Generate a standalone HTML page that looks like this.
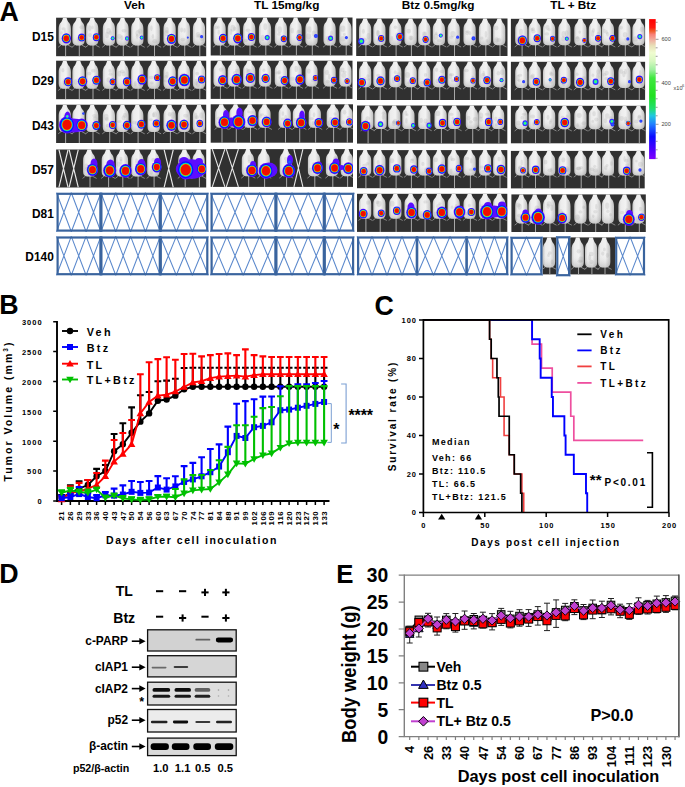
<!DOCTYPE html>
<html><head><meta charset='utf-8'><style>
html,body{margin:0;padding:0;background:#fff;width:685px;height:787px;overflow:hidden}
svg text{font-family:'Liberation Sans',sans-serif}
</style></head><body>
<svg width='685' height='787' viewBox='0 0 685 787' style='display:block;font-family:"Liberation Sans",sans-serif'>
<rect width='685' height='787' fill='#fff'/>
<text x='-0.60' y='21.30' font-size='26.8' text-anchor='start' fill='#000' font-weight='bold' >A</text>
<text x='134.60' y='9.30' font-size='11.8' text-anchor='middle' fill='#000' font-weight='bold' >Veh</text>
<text x='286.70' y='9.30' font-size='11.8' text-anchor='middle' fill='#000' font-weight='bold' >TL 15mg/kg</text>
<text x='438.20' y='9.30' font-size='11.8' text-anchor='middle' fill='#000' font-weight='bold' >Btz 0.5mg/kg</text>
<text x='573.20' y='9.30' font-size='11.8' text-anchor='middle' fill='#000' font-weight='bold' >TL + Btz</text>
<text x='53.80' y='41.30' font-size='11.9' text-anchor='end' fill='#000' font-weight='bold' >D15</text>
<text x='53.80' y='85.30' font-size='11.9' text-anchor='end' fill='#000' font-weight='bold' >D29</text>
<text x='53.80' y='129.70' font-size='11.9' text-anchor='end' fill='#000' font-weight='bold' >D43</text>
<text x='53.80' y='173.50' font-size='11.9' text-anchor='end' fill='#000' font-weight='bold' >D57</text>
<text x='53.80' y='217.50' font-size='11.9' text-anchor='end' fill='#000' font-weight='bold' >D81</text>
<text x='53.80' y='261.30' font-size='11.9' text-anchor='end' fill='#000' font-weight='bold' >D140</text>
<defs><linearGradient id='mg' x1='0' x2='1' y1='0' y2='0'><stop offset='0' stop-color='#c4c4c4'/><stop offset='0.2' stop-color='#ececec'/><stop offset='0.6' stop-color='#f2f2f2'/><stop offset='1' stop-color='#c0c0c0'/></linearGradient><filter id='sb' x='-5%' y='-5%' width='110%' height='110%'><feGaussianBlur stdDeviation='0.35'/></filter><linearGradient id='mv' x1='0' x2='0' y1='0' y2='1'><stop offset='0' stop-color='#fff' stop-opacity='0'/><stop offset='0.55' stop-color='#fff' stop-opacity='0'/><stop offset='1' stop-color='#707070' stop-opacity='0.3'/></linearGradient></defs>
<rect x='56.1' y='17.7' width='150.10' height='38.50' fill='#303030'/>
<svg x='56.1' y='17.7' width='150.10' height='38.50' overflow='hidden'><g transform='translate(-56.1,-17.7)' filter='url(#sb)'>
<g transform='translate(65.6,17.7) scale(1,1.013)'><line x1='0' y1='26.9' x2='0' y2='38.5' stroke='#a8a8a8' stroke-width='1.0'/><path d='M-4.6 27.0L-7.4 29.2M2.4 27.0L6.6 29.2' stroke='#909090' stroke-width='0.9' fill='none'/><g transform='translate(-0.8,0) scale(1,0.97)'><path d='M-1.6 -0.5L1.6 -0.5C2.2 1.5 2.7 3.1 3.5 4.5C5.3 6.1 6.1 8.3 6.1 11.5L6.1 23C6.1 26 4.9 27.9 2 28.2L-2 28.2C-4.9 27.9 -6.1 26 -6.1 23L-6.1 11.5C-6.1 8.3 -5.3 6.1 -3.5 4.5C-2.7 3.1 -2.2 1.5 -1.6 -0.5Z' fill='url(#mg)'/><path d='M-1.6 -0.5L1.6 -0.5C2.2 1.5 2.7 3.1 3.5 4.5C5.3 6.1 6.1 8.3 6.1 11.5L6.1 23C6.1 26 4.9 27.9 2 28.2L-2 28.2C-4.9 27.9 -6.1 26 -6.1 23L-6.1 11.5C-6.1 8.3 -5.3 6.1 -3.5 4.5C-2.7 3.1 -2.2 1.5 -1.6 -0.5Z' fill='url(#mv)'/><ellipse cx='-1.2' cy='11.3' rx='2.1' ry='1.6' fill='#8a8a8a' opacity='0.16'/><ellipse cx='0.3' cy='14.5' rx='1.3' ry='2.5' fill='#8a8a8a' opacity='0.16'/><ellipse cx='-3.2' cy='15.5' rx='1.3' ry='1.7' fill='#8a8a8a' opacity='0.16'/></g></g>
<g transform='translate(79.3,17.7) scale(1,1.013)'><line x1='0' y1='26.9' x2='0' y2='38.5' stroke='#a8a8a8' stroke-width='1.0'/><path d='M-4.6 27.0L-7.4 29.2M2.4 27.0L6.6 29.2' stroke='#909090' stroke-width='0.9' fill='none'/><g transform='translate(-0.8,0) scale(1,0.97)'><path d='M-1.6 -0.5L1.6 -0.5C2.2 1.5 2.7 3.1 3.5 4.5C5.3 6.1 6.1 8.3 6.1 11.5L6.1 23C6.1 26 4.9 27.9 2 28.2L-2 28.2C-4.9 27.9 -6.1 26 -6.1 23L-6.1 11.5C-6.1 8.3 -5.3 6.1 -3.5 4.5C-2.7 3.1 -2.2 1.5 -1.6 -0.5Z' fill='url(#mg)'/><path d='M-1.6 -0.5L1.6 -0.5C2.2 1.5 2.7 3.1 3.5 4.5C5.3 6.1 6.1 8.3 6.1 11.5L6.1 23C6.1 26 4.9 27.9 2 28.2L-2 28.2C-4.9 27.9 -6.1 26 -6.1 23L-6.1 11.5C-6.1 8.3 -5.3 6.1 -3.5 4.5C-2.7 3.1 -2.2 1.5 -1.6 -0.5Z' fill='url(#mv)'/><ellipse cx='-0.5' cy='21.4' rx='1.4' ry='1.9' fill='#8a8a8a' opacity='0.16'/><ellipse cx='0.9' cy='23.2' rx='2.0' ry='2.3' fill='#8a8a8a' opacity='0.16'/><ellipse cx='3.3' cy='9.7' rx='2.4' ry='2.1' fill='#8a8a8a' opacity='0.16'/></g></g>
<g transform='translate(93,17.7) scale(1,1.013)'><line x1='0' y1='26.9' x2='0' y2='38.5' stroke='#a8a8a8' stroke-width='1.0'/><path d='M-4.6 27.0L-7.4 29.2M2.4 27.0L6.6 29.2' stroke='#909090' stroke-width='0.9' fill='none'/><g transform='translate(-0.8,0) scale(1,0.97)'><path d='M-1.6 -0.5L1.6 -0.5C2.2 1.5 2.7 3.1 3.5 4.5C5.3 6.1 6.1 8.3 6.1 11.5L6.1 23C6.1 26 4.9 27.9 2 28.2L-2 28.2C-4.9 27.9 -6.1 26 -6.1 23L-6.1 11.5C-6.1 8.3 -5.3 6.1 -3.5 4.5C-2.7 3.1 -2.2 1.5 -1.6 -0.5Z' fill='url(#mg)'/><path d='M-1.6 -0.5L1.6 -0.5C2.2 1.5 2.7 3.1 3.5 4.5C5.3 6.1 6.1 8.3 6.1 11.5L6.1 23C6.1 26 4.9 27.9 2 28.2L-2 28.2C-4.9 27.9 -6.1 26 -6.1 23L-6.1 11.5C-6.1 8.3 -5.3 6.1 -3.5 4.5C-2.7 3.1 -2.2 1.5 -1.6 -0.5Z' fill='url(#mv)'/><ellipse cx='-2.5' cy='10.8' rx='1.6' ry='3.1' fill='#8a8a8a' opacity='0.16'/><ellipse cx='-2.2' cy='17.7' rx='2.1' ry='2.2' fill='#8a8a8a' opacity='0.16'/><ellipse cx='0.3' cy='9.9' rx='1.3' ry='1.9' fill='#8a8a8a' opacity='0.16'/></g></g>
<g transform='translate(109.7,17.7) scale(1,1.013)'><line x1='0' y1='26.9' x2='0' y2='38.5' stroke='#a8a8a8' stroke-width='1.0'/><path d='M-4.6 27.0L-7.4 29.2M2.4 27.0L6.6 29.2' stroke='#909090' stroke-width='0.9' fill='none'/><g transform='translate(-0.8,0) scale(1,0.97)'><path d='M-1.6 -0.5L1.6 -0.5C2.2 1.5 2.7 3.1 3.5 4.5C5.3 6.1 6.1 8.3 6.1 11.5L6.1 23C6.1 26 4.9 27.9 2 28.2L-2 28.2C-4.9 27.9 -6.1 26 -6.1 23L-6.1 11.5C-6.1 8.3 -5.3 6.1 -3.5 4.5C-2.7 3.1 -2.2 1.5 -1.6 -0.5Z' fill='url(#mg)'/><path d='M-1.6 -0.5L1.6 -0.5C2.2 1.5 2.7 3.1 3.5 4.5C5.3 6.1 6.1 8.3 6.1 11.5L6.1 23C6.1 26 4.9 27.9 2 28.2L-2 28.2C-4.9 27.9 -6.1 26 -6.1 23L-6.1 11.5C-6.1 8.3 -5.3 6.1 -3.5 4.5C-2.7 3.1 -2.2 1.5 -1.6 -0.5Z' fill='url(#mv)'/><ellipse cx='1.3' cy='15.4' rx='1.6' ry='2.7' fill='#8a8a8a' opacity='0.16'/><ellipse cx='-0.3' cy='13.5' rx='2.3' ry='2.9' fill='#8a8a8a' opacity='0.16'/><ellipse cx='-1.8' cy='17.6' rx='1.9' ry='3.3' fill='#8a8a8a' opacity='0.16'/></g></g>
<g transform='translate(123.3,17.7) scale(1,1.013)'><line x1='0' y1='26.9' x2='0' y2='38.5' stroke='#a8a8a8' stroke-width='1.0'/><path d='M-4.6 27.0L-7.4 29.2M2.4 27.0L6.6 29.2' stroke='#909090' stroke-width='0.9' fill='none'/><g transform='translate(-0.8,0) scale(1,0.97)'><path d='M-1.6 -0.5L1.6 -0.5C2.2 1.5 2.7 3.1 3.5 4.5C5.3 6.1 6.1 8.3 6.1 11.5L6.1 23C6.1 26 4.9 27.9 2 28.2L-2 28.2C-4.9 27.9 -6.1 26 -6.1 23L-6.1 11.5C-6.1 8.3 -5.3 6.1 -3.5 4.5C-2.7 3.1 -2.2 1.5 -1.6 -0.5Z' fill='url(#mg)'/><path d='M-1.6 -0.5L1.6 -0.5C2.2 1.5 2.7 3.1 3.5 4.5C5.3 6.1 6.1 8.3 6.1 11.5L6.1 23C6.1 26 4.9 27.9 2 28.2L-2 28.2C-4.9 27.9 -6.1 26 -6.1 23L-6.1 11.5C-6.1 8.3 -5.3 6.1 -3.5 4.5C-2.7 3.1 -2.2 1.5 -1.6 -0.5Z' fill='url(#mv)'/><ellipse cx='1.6' cy='13.3' rx='2.6' ry='1.7' fill='#8a8a8a' opacity='0.16'/><ellipse cx='-0.6' cy='20.4' rx='1.4' ry='2.5' fill='#8a8a8a' opacity='0.16'/><ellipse cx='-3.2' cy='19.0' rx='2.3' ry='2.6' fill='#8a8a8a' opacity='0.16'/></g></g>
<g transform='translate(138.1,17.7) scale(1,1.013)'><line x1='0' y1='26.9' x2='0' y2='38.5' stroke='#a8a8a8' stroke-width='1.0'/><path d='M-4.6 27.0L-7.4 29.2M2.4 27.0L6.6 29.2' stroke='#909090' stroke-width='0.9' fill='none'/><g transform='translate(-0.8,0) scale(1,0.97)'><path d='M-1.6 -0.5L1.6 -0.5C2.2 1.5 2.7 3.1 3.5 4.5C5.3 6.1 6.1 8.3 6.1 11.5L6.1 23C6.1 26 4.9 27.9 2 28.2L-2 28.2C-4.9 27.9 -6.1 26 -6.1 23L-6.1 11.5C-6.1 8.3 -5.3 6.1 -3.5 4.5C-2.7 3.1 -2.2 1.5 -1.6 -0.5Z' fill='url(#mg)'/><path d='M-1.6 -0.5L1.6 -0.5C2.2 1.5 2.7 3.1 3.5 4.5C5.3 6.1 6.1 8.3 6.1 11.5L6.1 23C6.1 26 4.9 27.9 2 28.2L-2 28.2C-4.9 27.9 -6.1 26 -6.1 23L-6.1 11.5C-6.1 8.3 -5.3 6.1 -3.5 4.5C-2.7 3.1 -2.2 1.5 -1.6 -0.5Z' fill='url(#mv)'/><ellipse cx='2.6' cy='13.7' rx='2.2' ry='2.7' fill='#8a8a8a' opacity='0.16'/><ellipse cx='0.6' cy='15.8' rx='2.4' ry='3.4' fill='#8a8a8a' opacity='0.16'/><ellipse cx='-0.2' cy='19.0' rx='1.3' ry='2.9' fill='#8a8a8a' opacity='0.16'/></g></g>
<g transform='translate(154.5,17.7) scale(1,1.013)'><line x1='0' y1='26.9' x2='0' y2='38.5' stroke='#a8a8a8' stroke-width='1.0'/><path d='M-4.6 27.0L-7.4 29.2M2.4 27.0L6.6 29.2' stroke='#909090' stroke-width='0.9' fill='none'/><g transform='translate(-0.8,0) scale(1,0.97)'><path d='M-1.6 -0.5L1.6 -0.5C2.2 1.5 2.7 3.1 3.5 4.5C5.3 6.1 6.1 8.3 6.1 11.5L6.1 23C6.1 26 4.9 27.9 2 28.2L-2 28.2C-4.9 27.9 -6.1 26 -6.1 23L-6.1 11.5C-6.1 8.3 -5.3 6.1 -3.5 4.5C-2.7 3.1 -2.2 1.5 -1.6 -0.5Z' fill='url(#mg)'/><path d='M-1.6 -0.5L1.6 -0.5C2.2 1.5 2.7 3.1 3.5 4.5C5.3 6.1 6.1 8.3 6.1 11.5L6.1 23C6.1 26 4.9 27.9 2 28.2L-2 28.2C-4.9 27.9 -6.1 26 -6.1 23L-6.1 11.5C-6.1 8.3 -5.3 6.1 -3.5 4.5C-2.7 3.1 -2.2 1.5 -1.6 -0.5Z' fill='url(#mv)'/><ellipse cx='1.0' cy='23.9' rx='2.4' ry='2.1' fill='#8a8a8a' opacity='0.16'/><ellipse cx='-0.8' cy='19.0' rx='1.2' ry='2.4' fill='#8a8a8a' opacity='0.16'/><ellipse cx='-2.3' cy='10.8' rx='1.3' ry='3.0' fill='#8a8a8a' opacity='0.16'/></g></g>
<g transform='translate(170.4,17.7) scale(1,1.013)'><line x1='0' y1='26.9' x2='0' y2='38.5' stroke='#a8a8a8' stroke-width='1.0'/><path d='M-4.6 27.0L-7.4 29.2M2.4 27.0L6.6 29.2' stroke='#909090' stroke-width='0.9' fill='none'/><g transform='translate(-0.8,0) scale(1,0.97)'><path d='M-1.6 -0.5L1.6 -0.5C2.2 1.5 2.7 3.1 3.5 4.5C5.3 6.1 6.1 8.3 6.1 11.5L6.1 23C6.1 26 4.9 27.9 2 28.2L-2 28.2C-4.9 27.9 -6.1 26 -6.1 23L-6.1 11.5C-6.1 8.3 -5.3 6.1 -3.5 4.5C-2.7 3.1 -2.2 1.5 -1.6 -0.5Z' fill='url(#mg)'/><path d='M-1.6 -0.5L1.6 -0.5C2.2 1.5 2.7 3.1 3.5 4.5C5.3 6.1 6.1 8.3 6.1 11.5L6.1 23C6.1 26 4.9 27.9 2 28.2L-2 28.2C-4.9 27.9 -6.1 26 -6.1 23L-6.1 11.5C-6.1 8.3 -5.3 6.1 -3.5 4.5C-2.7 3.1 -2.2 1.5 -1.6 -0.5Z' fill='url(#mv)'/><ellipse cx='-2.6' cy='12.7' rx='1.7' ry='3.2' fill='#8a8a8a' opacity='0.16'/><ellipse cx='-2.9' cy='15.7' rx='2.0' ry='3.3' fill='#8a8a8a' opacity='0.16'/><ellipse cx='2.2' cy='22.0' rx='1.6' ry='2.3' fill='#8a8a8a' opacity='0.16'/></g></g>
<g transform='translate(184.7,17.7) scale(1,1.013)'><line x1='0' y1='26.9' x2='0' y2='38.5' stroke='#a8a8a8' stroke-width='1.0'/><path d='M-4.6 27.0L-7.4 29.2M2.4 27.0L6.6 29.2' stroke='#909090' stroke-width='0.9' fill='none'/><g transform='translate(-0.8,0) scale(1,0.97)'><path d='M-1.6 -0.5L1.6 -0.5C2.2 1.5 2.7 3.1 3.5 4.5C5.3 6.1 6.1 8.3 6.1 11.5L6.1 23C6.1 26 4.9 27.9 2 28.2L-2 28.2C-4.9 27.9 -6.1 26 -6.1 23L-6.1 11.5C-6.1 8.3 -5.3 6.1 -3.5 4.5C-2.7 3.1 -2.2 1.5 -1.6 -0.5Z' fill='url(#mg)'/><path d='M-1.6 -0.5L1.6 -0.5C2.2 1.5 2.7 3.1 3.5 4.5C5.3 6.1 6.1 8.3 6.1 11.5L6.1 23C6.1 26 4.9 27.9 2 28.2L-2 28.2C-4.9 27.9 -6.1 26 -6.1 23L-6.1 11.5C-6.1 8.3 -5.3 6.1 -3.5 4.5C-2.7 3.1 -2.2 1.5 -1.6 -0.5Z' fill='url(#mv)'/><ellipse cx='-1.0' cy='22.3' rx='2.5' ry='1.8' fill='#8a8a8a' opacity='0.16'/><ellipse cx='-2.3' cy='12.5' rx='1.5' ry='2.5' fill='#8a8a8a' opacity='0.16'/><ellipse cx='0.6' cy='12.9' rx='1.2' ry='2.3' fill='#8a8a8a' opacity='0.16'/></g></g>
<g transform='translate(199.8,17.7) scale(1,1.013)'><line x1='0' y1='26.9' x2='0' y2='38.5' stroke='#a8a8a8' stroke-width='1.0'/><path d='M-4.6 27.0L-7.4 29.2M2.4 27.0L6.6 29.2' stroke='#909090' stroke-width='0.9' fill='none'/><g transform='translate(-0.8,0) scale(1,0.97)'><path d='M-1.6 -0.5L1.6 -0.5C2.2 1.5 2.7 3.1 3.5 4.5C5.3 6.1 6.1 8.3 6.1 11.5L6.1 23C6.1 26 4.9 27.9 2 28.2L-2 28.2C-4.9 27.9 -6.1 26 -6.1 23L-6.1 11.5C-6.1 8.3 -5.3 6.1 -3.5 4.5C-2.7 3.1 -2.2 1.5 -1.6 -0.5Z' fill='url(#mg)'/><path d='M-1.6 -0.5L1.6 -0.5C2.2 1.5 2.7 3.1 3.5 4.5C5.3 6.1 6.1 8.3 6.1 11.5L6.1 23C6.1 26 4.9 27.9 2 28.2L-2 28.2C-4.9 27.9 -6.1 26 -6.1 23L-6.1 11.5C-6.1 8.3 -5.3 6.1 -3.5 4.5C-2.7 3.1 -2.2 1.5 -1.6 -0.5Z' fill='url(#mv)'/><ellipse cx='-0.9' cy='17.5' rx='2.5' ry='2.9' fill='#8a8a8a' opacity='0.16'/><ellipse cx='0.1' cy='18.3' rx='2.1' ry='1.6' fill='#8a8a8a' opacity='0.16'/><ellipse cx='2.8' cy='20.7' rx='2.4' ry='3.1' fill='#8a8a8a' opacity='0.16'/></g></g>
<ellipse cx='66.3' cy='38.3' rx='4.68' ry='5.13' fill='#5c10ff'/><ellipse cx='66.3' cy='38.3' rx='4.12' ry='4.51' fill='#0a10ff'/><ellipse cx='66.3' cy='38.3' rx='3.46' ry='3.80' fill='#00b8ff'/><ellipse cx='66.3' cy='38.3' rx='3.18' ry='3.49' fill='#10f060'/><ellipse cx='66.3' cy='38.3' rx='2.95' ry='3.23' fill='#e8f000'/><ellipse cx='66.3' cy='38.3' rx='2.81' ry='3.08' fill='#ff5000'/><ellipse cx='66.3' cy='38.3' rx='2.67' ry='2.92' fill='#f01000'/>
<ellipse cx='81.7' cy='37.6' rx='3.64' ry='3.99' fill='#5c10ff'/><ellipse cx='81.7' cy='37.6' rx='3.20' ry='3.51' fill='#0a10ff'/><ellipse cx='81.7' cy='37.6' rx='2.69' ry='2.95' fill='#00b8ff'/><ellipse cx='81.7' cy='37.6' rx='2.48' ry='2.71' fill='#10f060'/><ellipse cx='81.7' cy='37.6' rx='2.29' ry='2.51' fill='#e8f000'/><ellipse cx='81.7' cy='37.6' rx='2.18' ry='2.39' fill='#ff5000'/><ellipse cx='81.7' cy='37.6' rx='2.07' ry='2.27' fill='#f01000'/>
<ellipse cx='96.4' cy='37.2' rx='3.64' ry='3.99' fill='#5c10ff'/><ellipse cx='96.4' cy='37.2' rx='3.20' ry='3.51' fill='#0a10ff'/><ellipse cx='96.4' cy='37.2' rx='2.69' ry='2.95' fill='#00b8ff'/><ellipse cx='96.4' cy='37.2' rx='2.48' ry='2.71' fill='#10f060'/><ellipse cx='96.4' cy='37.2' rx='2.29' ry='2.51' fill='#e8f000'/><ellipse cx='96.4' cy='37.2' rx='2.18' ry='2.39' fill='#ff5000'/><ellipse cx='96.4' cy='37.2' rx='2.07' ry='2.27' fill='#f01000'/>
<ellipse cx='112.7' cy='38.3' rx='2.00' ry='2.16' fill='#5020ff'/><ellipse cx='112.7' cy='38.3' rx='1.56' ry='1.68' fill='#1a40ff'/><ellipse cx='112.7' cy='38.3' rx='1.16' ry='1.25' fill='#00d0f0'/><ellipse cx='112.7' cy='38.3' rx='0.84' ry='0.91' fill='#40ff60'/>
<ellipse cx='127.0' cy='38.5' rx='2.00' ry='2.16' fill='#5020ff'/><ellipse cx='127.0' cy='38.5' rx='1.56' ry='1.68' fill='#1a40ff'/><ellipse cx='127.0' cy='38.5' rx='1.16' ry='1.25' fill='#00d0f0'/><ellipse cx='127.0' cy='38.5' rx='0.84' ry='0.91' fill='#40ff60'/>
<ellipse cx='141.7' cy='37.6' rx='2.00' ry='2.16' fill='#5020ff'/><ellipse cx='141.7' cy='37.6' rx='1.56' ry='1.68' fill='#1a40ff'/><ellipse cx='141.7' cy='37.6' rx='1.16' ry='1.25' fill='#00d0f0'/><ellipse cx='141.7' cy='37.6' rx='0.84' ry='0.91' fill='#40ff60'/>
<ellipse cx='171.5' cy='38.8' rx='4.68' ry='5.13' fill='#5c10ff'/><ellipse cx='171.5' cy='38.8' rx='4.12' ry='4.51' fill='#0a10ff'/><ellipse cx='171.5' cy='38.8' rx='3.46' ry='3.80' fill='#00b8ff'/><ellipse cx='171.5' cy='38.8' rx='3.18' ry='3.49' fill='#10f060'/><ellipse cx='171.5' cy='38.8' rx='2.95' ry='3.23' fill='#e8f000'/><ellipse cx='171.5' cy='38.8' rx='2.81' ry='3.08' fill='#ff5000'/><ellipse cx='171.5' cy='38.8' rx='2.67' ry='2.92' fill='#f01000'/>
<ellipse cx='187.8' cy='37.6' rx='1.00' ry='1.05' fill='#3030ff'/><ellipse cx='187.8' cy='37.6' rx='0.50' ry='0.53' fill='#2060ff'/>
<ellipse cx='201.6' cy='36.7' rx='1.50' ry='1.58' fill='#3030ff'/><ellipse cx='201.6' cy='36.7' rx='0.75' ry='0.79' fill='#2060ff'/>
</g></svg>
<rect x='210.7' y='17.5' width='141.80' height='38.00' fill='#303030'/>
<svg x='210.7' y='17.5' width='141.80' height='38.00' overflow='hidden'><g transform='translate(-210.7,-17.5)' filter='url(#sb)'>
<g transform='translate(220.4,17.5) scale(1,1.000)'><line x1='0' y1='27.4' x2='0' y2='38.5' stroke='#a8a8a8' stroke-width='1.0'/><path d='M-4.6 27.5L-7.4 29.7M2.4 27.5L6.6 29.7' stroke='#909090' stroke-width='0.9' fill='none'/><g transform='translate(-0.8,0) scale(1,0.99)'><path d='M-1.6 -0.5L1.6 -0.5C2.2 1.5 2.7 3.1 3.5 4.5C5.3 6.1 6.1 8.3 6.1 11.5L6.1 23C6.1 26 4.9 27.9 2 28.2L-2 28.2C-4.9 27.9 -6.1 26 -6.1 23L-6.1 11.5C-6.1 8.3 -5.3 6.1 -3.5 4.5C-2.7 3.1 -2.2 1.5 -1.6 -0.5Z' fill='url(#mg)'/><path d='M-1.6 -0.5L1.6 -0.5C2.2 1.5 2.7 3.1 3.5 4.5C5.3 6.1 6.1 8.3 6.1 11.5L6.1 23C6.1 26 4.9 27.9 2 28.2L-2 28.2C-4.9 27.9 -6.1 26 -6.1 23L-6.1 11.5C-6.1 8.3 -5.3 6.1 -3.5 4.5C-2.7 3.1 -2.2 1.5 -1.6 -0.5Z' fill='url(#mv)'/><ellipse cx='-0.8' cy='15.0' rx='1.3' ry='2.8' fill='#8a8a8a' opacity='0.16'/><ellipse cx='-3.1' cy='10.0' rx='1.5' ry='1.8' fill='#8a8a8a' opacity='0.16'/><ellipse cx='-1.1' cy='9.8' rx='1.2' ry='1.8' fill='#8a8a8a' opacity='0.16'/></g></g>
<g transform='translate(234.6,17.5) scale(1,1.000)'><line x1='0' y1='27.4' x2='0' y2='38.5' stroke='#a8a8a8' stroke-width='1.0'/><path d='M-4.6 27.5L-7.4 29.7M2.4 27.5L6.6 29.7' stroke='#909090' stroke-width='0.9' fill='none'/><g transform='translate(-0.8,0) scale(1,0.99)'><path d='M-1.6 -0.5L1.6 -0.5C2.2 1.5 2.7 3.1 3.5 4.5C5.3 6.1 6.1 8.3 6.1 11.5L6.1 23C6.1 26 4.9 27.9 2 28.2L-2 28.2C-4.9 27.9 -6.1 26 -6.1 23L-6.1 11.5C-6.1 8.3 -5.3 6.1 -3.5 4.5C-2.7 3.1 -2.2 1.5 -1.6 -0.5Z' fill='url(#mg)'/><path d='M-1.6 -0.5L1.6 -0.5C2.2 1.5 2.7 3.1 3.5 4.5C5.3 6.1 6.1 8.3 6.1 11.5L6.1 23C6.1 26 4.9 27.9 2 28.2L-2 28.2C-4.9 27.9 -6.1 26 -6.1 23L-6.1 11.5C-6.1 8.3 -5.3 6.1 -3.5 4.5C-2.7 3.1 -2.2 1.5 -1.6 -0.5Z' fill='url(#mv)'/><ellipse cx='-2.8' cy='14.5' rx='1.2' ry='3.2' fill='#8a8a8a' opacity='0.16'/><ellipse cx='0.8' cy='11.2' rx='1.6' ry='2.2' fill='#8a8a8a' opacity='0.16'/><ellipse cx='-1.0' cy='10.8' rx='2.4' ry='3.5' fill='#8a8a8a' opacity='0.16'/></g></g>
<g transform='translate(250,17.5) scale(1,1.000)'><line x1='0' y1='27.4' x2='0' y2='38.5' stroke='#a8a8a8' stroke-width='1.0'/><path d='M-4.6 27.5L-7.4 29.7M2.4 27.5L6.6 29.7' stroke='#909090' stroke-width='0.9' fill='none'/><g transform='translate(-0.8,0) scale(1,0.99)'><path d='M-1.6 -0.5L1.6 -0.5C2.2 1.5 2.7 3.1 3.5 4.5C5.3 6.1 6.1 8.3 6.1 11.5L6.1 23C6.1 26 4.9 27.9 2 28.2L-2 28.2C-4.9 27.9 -6.1 26 -6.1 23L-6.1 11.5C-6.1 8.3 -5.3 6.1 -3.5 4.5C-2.7 3.1 -2.2 1.5 -1.6 -0.5Z' fill='url(#mg)'/><path d='M-1.6 -0.5L1.6 -0.5C2.2 1.5 2.7 3.1 3.5 4.5C5.3 6.1 6.1 8.3 6.1 11.5L6.1 23C6.1 26 4.9 27.9 2 28.2L-2 28.2C-4.9 27.9 -6.1 26 -6.1 23L-6.1 11.5C-6.1 8.3 -5.3 6.1 -3.5 4.5C-2.7 3.1 -2.2 1.5 -1.6 -0.5Z' fill='url(#mv)'/><ellipse cx='-0.2' cy='16.3' rx='1.3' ry='1.7' fill='#8a8a8a' opacity='0.16'/><ellipse cx='-1.1' cy='13.0' rx='2.4' ry='1.8' fill='#8a8a8a' opacity='0.16'/><ellipse cx='-3.3' cy='23.3' rx='1.9' ry='1.8' fill='#8a8a8a' opacity='0.16'/></g></g>
<g transform='translate(265.8,17.5) scale(1,1.000)'><line x1='0' y1='27.4' x2='0' y2='38.5' stroke='#a8a8a8' stroke-width='1.0'/><path d='M-4.6 27.5L-7.4 29.7M2.4 27.5L6.6 29.7' stroke='#909090' stroke-width='0.9' fill='none'/><g transform='translate(-0.8,0) scale(1,0.99)'><path d='M-1.6 -0.5L1.6 -0.5C2.2 1.5 2.7 3.1 3.5 4.5C5.3 6.1 6.1 8.3 6.1 11.5L6.1 23C6.1 26 4.9 27.9 2 28.2L-2 28.2C-4.9 27.9 -6.1 26 -6.1 23L-6.1 11.5C-6.1 8.3 -5.3 6.1 -3.5 4.5C-2.7 3.1 -2.2 1.5 -1.6 -0.5Z' fill='url(#mg)'/><path d='M-1.6 -0.5L1.6 -0.5C2.2 1.5 2.7 3.1 3.5 4.5C5.3 6.1 6.1 8.3 6.1 11.5L6.1 23C6.1 26 4.9 27.9 2 28.2L-2 28.2C-4.9 27.9 -6.1 26 -6.1 23L-6.1 11.5C-6.1 8.3 -5.3 6.1 -3.5 4.5C-2.7 3.1 -2.2 1.5 -1.6 -0.5Z' fill='url(#mv)'/><ellipse cx='0.3' cy='9.4' rx='1.9' ry='3.5' fill='#8a8a8a' opacity='0.16'/><ellipse cx='2.5' cy='19.4' rx='1.6' ry='2.2' fill='#8a8a8a' opacity='0.16'/><ellipse cx='-2.3' cy='20.6' rx='1.9' ry='3.1' fill='#8a8a8a' opacity='0.16'/></g></g>
<g transform='translate(281.7,17.5) scale(1,1.000)'><line x1='0' y1='27.4' x2='0' y2='38.5' stroke='#a8a8a8' stroke-width='1.0'/><path d='M-4.6 27.5L-7.4 29.7M2.4 27.5L6.6 29.7' stroke='#909090' stroke-width='0.9' fill='none'/><g transform='translate(-0.8,0) scale(1,0.99)'><path d='M-1.6 -0.5L1.6 -0.5C2.2 1.5 2.7 3.1 3.5 4.5C5.3 6.1 6.1 8.3 6.1 11.5L6.1 23C6.1 26 4.9 27.9 2 28.2L-2 28.2C-4.9 27.9 -6.1 26 -6.1 23L-6.1 11.5C-6.1 8.3 -5.3 6.1 -3.5 4.5C-2.7 3.1 -2.2 1.5 -1.6 -0.5Z' fill='url(#mg)'/><path d='M-1.6 -0.5L1.6 -0.5C2.2 1.5 2.7 3.1 3.5 4.5C5.3 6.1 6.1 8.3 6.1 11.5L6.1 23C6.1 26 4.9 27.9 2 28.2L-2 28.2C-4.9 27.9 -6.1 26 -6.1 23L-6.1 11.5C-6.1 8.3 -5.3 6.1 -3.5 4.5C-2.7 3.1 -2.2 1.5 -1.6 -0.5Z' fill='url(#mv)'/><ellipse cx='-1.2' cy='12.3' rx='2.3' ry='3.5' fill='#8a8a8a' opacity='0.16'/><ellipse cx='2.5' cy='21.1' rx='2.3' ry='3.0' fill='#8a8a8a' opacity='0.16'/><ellipse cx='-1.9' cy='16.8' rx='1.7' ry='1.6' fill='#8a8a8a' opacity='0.16'/></g></g>
<g transform='translate(296.4,17.5) scale(1,1.000)'><line x1='0' y1='27.4' x2='0' y2='38.5' stroke='#a8a8a8' stroke-width='1.0'/><path d='M-4.6 27.5L-7.4 29.7M2.4 27.5L6.6 29.7' stroke='#909090' stroke-width='0.9' fill='none'/><g transform='translate(-0.8,0) scale(1,0.99)'><path d='M-1.6 -0.5L1.6 -0.5C2.2 1.5 2.7 3.1 3.5 4.5C5.3 6.1 6.1 8.3 6.1 11.5L6.1 23C6.1 26 4.9 27.9 2 28.2L-2 28.2C-4.9 27.9 -6.1 26 -6.1 23L-6.1 11.5C-6.1 8.3 -5.3 6.1 -3.5 4.5C-2.7 3.1 -2.2 1.5 -1.6 -0.5Z' fill='url(#mg)'/><path d='M-1.6 -0.5L1.6 -0.5C2.2 1.5 2.7 3.1 3.5 4.5C5.3 6.1 6.1 8.3 6.1 11.5L6.1 23C6.1 26 4.9 27.9 2 28.2L-2 28.2C-4.9 27.9 -6.1 26 -6.1 23L-6.1 11.5C-6.1 8.3 -5.3 6.1 -3.5 4.5C-2.7 3.1 -2.2 1.5 -1.6 -0.5Z' fill='url(#mv)'/><ellipse cx='-3.3' cy='13.2' rx='1.6' ry='2.9' fill='#8a8a8a' opacity='0.16'/><ellipse cx='3.2' cy='15.7' rx='2.5' ry='3.5' fill='#8a8a8a' opacity='0.16'/><ellipse cx='3.2' cy='14.5' rx='1.5' ry='2.0' fill='#8a8a8a' opacity='0.16'/></g></g>
<g transform='translate(312.3,17.5) scale(1,1.000)'><line x1='0' y1='27.4' x2='0' y2='38.5' stroke='#a8a8a8' stroke-width='1.0'/><path d='M-4.6 27.5L-7.4 29.7M2.4 27.5L6.6 29.7' stroke='#909090' stroke-width='0.9' fill='none'/><g transform='translate(-0.8,0) scale(1,0.99)'><path d='M-1.6 -0.5L1.6 -0.5C2.2 1.5 2.7 3.1 3.5 4.5C5.3 6.1 6.1 8.3 6.1 11.5L6.1 23C6.1 26 4.9 27.9 2 28.2L-2 28.2C-4.9 27.9 -6.1 26 -6.1 23L-6.1 11.5C-6.1 8.3 -5.3 6.1 -3.5 4.5C-2.7 3.1 -2.2 1.5 -1.6 -0.5Z' fill='url(#mg)'/><path d='M-1.6 -0.5L1.6 -0.5C2.2 1.5 2.7 3.1 3.5 4.5C5.3 6.1 6.1 8.3 6.1 11.5L6.1 23C6.1 26 4.9 27.9 2 28.2L-2 28.2C-4.9 27.9 -6.1 26 -6.1 23L-6.1 11.5C-6.1 8.3 -5.3 6.1 -3.5 4.5C-2.7 3.1 -2.2 1.5 -1.6 -0.5Z' fill='url(#mv)'/><ellipse cx='-2.1' cy='12.1' rx='2.1' ry='3.3' fill='#8a8a8a' opacity='0.16'/><ellipse cx='2.4' cy='16.2' rx='2.1' ry='3.1' fill='#8a8a8a' opacity='0.16'/><ellipse cx='-2.9' cy='18.9' rx='2.5' ry='3.1' fill='#8a8a8a' opacity='0.16'/></g></g>
<g transform='translate(330.4,17.5) scale(1,1.000)'><line x1='0' y1='27.4' x2='0' y2='38.5' stroke='#a8a8a8' stroke-width='1.0'/><path d='M-4.6 27.5L-7.4 29.7M2.4 27.5L6.6 29.7' stroke='#909090' stroke-width='0.9' fill='none'/><g transform='translate(-0.8,0) scale(1,0.99)'><path d='M-1.6 -0.5L1.6 -0.5C2.2 1.5 2.7 3.1 3.5 4.5C5.3 6.1 6.1 8.3 6.1 11.5L6.1 23C6.1 26 4.9 27.9 2 28.2L-2 28.2C-4.9 27.9 -6.1 26 -6.1 23L-6.1 11.5C-6.1 8.3 -5.3 6.1 -3.5 4.5C-2.7 3.1 -2.2 1.5 -1.6 -0.5Z' fill='url(#mg)'/><path d='M-1.6 -0.5L1.6 -0.5C2.2 1.5 2.7 3.1 3.5 4.5C5.3 6.1 6.1 8.3 6.1 11.5L6.1 23C6.1 26 4.9 27.9 2 28.2L-2 28.2C-4.9 27.9 -6.1 26 -6.1 23L-6.1 11.5C-6.1 8.3 -5.3 6.1 -3.5 4.5C-2.7 3.1 -2.2 1.5 -1.6 -0.5Z' fill='url(#mv)'/><ellipse cx='1.8' cy='16.2' rx='1.4' ry='3.1' fill='#8a8a8a' opacity='0.16'/><ellipse cx='-1.2' cy='21.0' rx='2.6' ry='2.3' fill='#8a8a8a' opacity='0.16'/><ellipse cx='-0.7' cy='23.2' rx='2.2' ry='1.8' fill='#8a8a8a' opacity='0.16'/></g></g>
<g transform='translate(346.2,17.5) scale(1,1.000)'><line x1='0' y1='27.4' x2='0' y2='38.5' stroke='#a8a8a8' stroke-width='1.0'/><path d='M-4.6 27.5L-7.4 29.7M2.4 27.5L6.6 29.7' stroke='#909090' stroke-width='0.9' fill='none'/><g transform='translate(-0.8,0) scale(1,0.99)'><path d='M-1.6 -0.5L1.6 -0.5C2.2 1.5 2.7 3.1 3.5 4.5C5.3 6.1 6.1 8.3 6.1 11.5L6.1 23C6.1 26 4.9 27.9 2 28.2L-2 28.2C-4.9 27.9 -6.1 26 -6.1 23L-6.1 11.5C-6.1 8.3 -5.3 6.1 -3.5 4.5C-2.7 3.1 -2.2 1.5 -1.6 -0.5Z' fill='url(#mg)'/><path d='M-1.6 -0.5L1.6 -0.5C2.2 1.5 2.7 3.1 3.5 4.5C5.3 6.1 6.1 8.3 6.1 11.5L6.1 23C6.1 26 4.9 27.9 2 28.2L-2 28.2C-4.9 27.9 -6.1 26 -6.1 23L-6.1 11.5C-6.1 8.3 -5.3 6.1 -3.5 4.5C-2.7 3.1 -2.2 1.5 -1.6 -0.5Z' fill='url(#mv)'/><ellipse cx='-2.6' cy='11.3' rx='2.5' ry='3.1' fill='#8a8a8a' opacity='0.16'/><ellipse cx='-2.5' cy='21.4' rx='2.6' ry='2.8' fill='#8a8a8a' opacity='0.16'/><ellipse cx='-1.0' cy='17.2' rx='1.4' ry='1.5' fill='#8a8a8a' opacity='0.16'/></g></g>
<ellipse cx='223.1' cy='38.3' rx='4.16' ry='4.56' fill='#5c10ff'/><ellipse cx='223.1' cy='38.3' rx='3.66' ry='4.01' fill='#0a10ff'/><ellipse cx='223.1' cy='38.3' rx='3.08' ry='3.37' fill='#00b8ff'/><ellipse cx='223.1' cy='38.3' rx='2.83' ry='3.10' fill='#10f060'/><ellipse cx='223.1' cy='38.3' rx='2.62' ry='2.87' fill='#e8f000'/><ellipse cx='223.1' cy='38.3' rx='2.50' ry='2.74' fill='#ff5000'/><ellipse cx='223.1' cy='38.3' rx='2.37' ry='2.60' fill='#f01000'/>
<ellipse cx='237.8' cy='38.3' rx='4.68' ry='5.13' fill='#5c10ff'/><ellipse cx='237.8' cy='38.3' rx='4.12' ry='4.51' fill='#0a10ff'/><ellipse cx='237.8' cy='38.3' rx='3.46' ry='3.80' fill='#00b8ff'/><ellipse cx='237.8' cy='38.3' rx='3.18' ry='3.49' fill='#10f060'/><ellipse cx='237.8' cy='38.3' rx='2.95' ry='3.23' fill='#e8f000'/><ellipse cx='237.8' cy='38.3' rx='2.81' ry='3.08' fill='#ff5000'/><ellipse cx='237.8' cy='38.3' rx='2.67' ry='2.92' fill='#f01000'/>
<ellipse cx='251.4' cy='37.0' rx='3.64' ry='3.99' fill='#5c10ff'/><ellipse cx='251.4' cy='37.0' rx='3.20' ry='3.51' fill='#0a10ff'/><ellipse cx='251.4' cy='37.0' rx='2.69' ry='2.95' fill='#00b8ff'/><ellipse cx='251.4' cy='37.0' rx='2.48' ry='2.71' fill='#10f060'/><ellipse cx='251.4' cy='37.0' rx='2.29' ry='2.51' fill='#e8f000'/><ellipse cx='251.4' cy='37.0' rx='2.18' ry='2.39' fill='#ff5000'/><ellipse cx='251.4' cy='37.0' rx='2.07' ry='2.27' fill='#f01000'/>
<ellipse cx='267.2' cy='37.6' rx='2.50' ry='2.70' fill='#5020ff'/><ellipse cx='267.2' cy='37.6' rx='1.95' ry='2.11' fill='#1a40ff'/><ellipse cx='267.2' cy='37.6' rx='1.45' ry='1.57' fill='#00d0f0'/><ellipse cx='267.2' cy='37.6' rx='1.05' ry='1.13' fill='#40ff60'/>
<ellipse cx='283.8' cy='38.8' rx='3.12' ry='3.42' fill='#5c10ff'/><ellipse cx='283.8' cy='38.8' rx='2.75' ry='3.01' fill='#0a10ff'/><ellipse cx='283.8' cy='38.8' rx='2.31' ry='2.53' fill='#00b8ff'/><ellipse cx='283.8' cy='38.8' rx='2.12' ry='2.33' fill='#10f060'/><ellipse cx='283.8' cy='38.8' rx='1.97' ry='2.15' fill='#e8f000'/><ellipse cx='283.8' cy='38.8' rx='1.87' ry='2.05' fill='#ff5000'/><ellipse cx='283.8' cy='38.8' rx='1.78' ry='1.95' fill='#f01000'/>
<ellipse cx='299.6' cy='37.6' rx='3.12' ry='3.42' fill='#5c10ff'/><ellipse cx='299.6' cy='37.6' rx='2.75' ry='3.01' fill='#0a10ff'/><ellipse cx='299.6' cy='37.6' rx='2.31' ry='2.53' fill='#00b8ff'/><ellipse cx='299.6' cy='37.6' rx='2.12' ry='2.33' fill='#10f060'/><ellipse cx='299.6' cy='37.6' rx='1.97' ry='2.15' fill='#e8f000'/><ellipse cx='299.6' cy='37.6' rx='1.87' ry='2.05' fill='#ff5000'/><ellipse cx='299.6' cy='37.6' rx='1.78' ry='1.95' fill='#f01000'/>
<ellipse cx='315.9' cy='36.0' rx='2.00' ry='2.10' fill='#3030ff'/><ellipse cx='315.9' cy='36.0' rx='1.00' ry='1.05' fill='#2060ff'/>
<ellipse cx='330.6' cy='38.3' rx='2.50' ry='2.70' fill='#5020ff'/><ellipse cx='330.6' cy='38.3' rx='1.95' ry='2.11' fill='#1a40ff'/><ellipse cx='330.6' cy='38.3' rx='1.45' ry='1.57' fill='#00d0f0'/><ellipse cx='330.6' cy='38.3' rx='1.05' ry='1.13' fill='#40ff60'/>
<ellipse cx='346.4' cy='37.6' rx='1.50' ry='1.58' fill='#3030ff'/><ellipse cx='346.4' cy='37.6' rx='0.75' ry='0.79' fill='#2060ff'/>
</g></svg>
<rect x='356.2' y='18.5' width='151.30' height='37.50' fill='#303030'/>
<svg x='356.2' y='18.5' width='151.30' height='37.50' overflow='hidden'><g transform='translate(-356.2,-18.5)' filter='url(#sb)'>
<g transform='translate(365.9,18.5) scale(1,0.987)'><line x1='0' y1='26.6' x2='0' y2='38.5' stroke='#a8a8a8' stroke-width='1.0'/><path d='M-4.6 26.7L-7.4 28.9M2.4 26.7L6.6 28.9' stroke='#909090' stroke-width='0.9' fill='none'/><g transform='translate(-0.8,0) scale(1,0.96)'><path d='M-1.6 -0.5L1.6 -0.5C2.2 1.5 2.7 3.1 3.5 4.5C5.3 6.1 6.1 8.3 6.1 11.5L6.1 23C6.1 26 4.9 27.9 2 28.2L-2 28.2C-4.9 27.9 -6.1 26 -6.1 23L-6.1 11.5C-6.1 8.3 -5.3 6.1 -3.5 4.5C-2.7 3.1 -2.2 1.5 -1.6 -0.5Z' fill='url(#mg)'/><path d='M-1.6 -0.5L1.6 -0.5C2.2 1.5 2.7 3.1 3.5 4.5C5.3 6.1 6.1 8.3 6.1 11.5L6.1 23C6.1 26 4.9 27.9 2 28.2L-2 28.2C-4.9 27.9 -6.1 26 -6.1 23L-6.1 11.5C-6.1 8.3 -5.3 6.1 -3.5 4.5C-2.7 3.1 -2.2 1.5 -1.6 -0.5Z' fill='url(#mv)'/><ellipse cx='3.3' cy='18.7' rx='1.9' ry='3.4' fill='#8a8a8a' opacity='0.16'/><ellipse cx='-0.5' cy='22.1' rx='2.4' ry='1.9' fill='#8a8a8a' opacity='0.16'/><ellipse cx='-1.7' cy='13.4' rx='1.5' ry='2.7' fill='#8a8a8a' opacity='0.16'/></g></g>
<g transform='translate(380.2,18.5) scale(1,0.987)'><line x1='0' y1='26.6' x2='0' y2='38.5' stroke='#a8a8a8' stroke-width='1.0'/><path d='M-4.6 26.7L-7.4 28.9M2.4 26.7L6.6 28.9' stroke='#909090' stroke-width='0.9' fill='none'/><g transform='translate(-0.8,0) scale(1,0.96)'><path d='M-1.6 -0.5L1.6 -0.5C2.2 1.5 2.7 3.1 3.5 4.5C5.3 6.1 6.1 8.3 6.1 11.5L6.1 23C6.1 26 4.9 27.9 2 28.2L-2 28.2C-4.9 27.9 -6.1 26 -6.1 23L-6.1 11.5C-6.1 8.3 -5.3 6.1 -3.5 4.5C-2.7 3.1 -2.2 1.5 -1.6 -0.5Z' fill='url(#mg)'/><path d='M-1.6 -0.5L1.6 -0.5C2.2 1.5 2.7 3.1 3.5 4.5C5.3 6.1 6.1 8.3 6.1 11.5L6.1 23C6.1 26 4.9 27.9 2 28.2L-2 28.2C-4.9 27.9 -6.1 26 -6.1 23L-6.1 11.5C-6.1 8.3 -5.3 6.1 -3.5 4.5C-2.7 3.1 -2.2 1.5 -1.6 -0.5Z' fill='url(#mv)'/><ellipse cx='-1.7' cy='15.3' rx='1.4' ry='3.3' fill='#8a8a8a' opacity='0.16'/><ellipse cx='-1.0' cy='15.9' rx='2.0' ry='3.3' fill='#8a8a8a' opacity='0.16'/><ellipse cx='-0.6' cy='22.8' rx='1.9' ry='2.6' fill='#8a8a8a' opacity='0.16'/></g></g>
<g transform='translate(396.1,18.5) scale(1,0.987)'><line x1='0' y1='26.6' x2='0' y2='38.5' stroke='#a8a8a8' stroke-width='1.0'/><path d='M-4.6 26.7L-7.4 28.9M2.4 26.7L6.6 28.9' stroke='#909090' stroke-width='0.9' fill='none'/><g transform='translate(-0.8,0) scale(1,0.96)'><path d='M-1.6 -0.5L1.6 -0.5C2.2 1.5 2.7 3.1 3.5 4.5C5.3 6.1 6.1 8.3 6.1 11.5L6.1 23C6.1 26 4.9 27.9 2 28.2L-2 28.2C-4.9 27.9 -6.1 26 -6.1 23L-6.1 11.5C-6.1 8.3 -5.3 6.1 -3.5 4.5C-2.7 3.1 -2.2 1.5 -1.6 -0.5Z' fill='url(#mg)'/><path d='M-1.6 -0.5L1.6 -0.5C2.2 1.5 2.7 3.1 3.5 4.5C5.3 6.1 6.1 8.3 6.1 11.5L6.1 23C6.1 26 4.9 27.9 2 28.2L-2 28.2C-4.9 27.9 -6.1 26 -6.1 23L-6.1 11.5C-6.1 8.3 -5.3 6.1 -3.5 4.5C-2.7 3.1 -2.2 1.5 -1.6 -0.5Z' fill='url(#mv)'/><ellipse cx='0.2' cy='9.3' rx='1.8' ry='1.9' fill='#8a8a8a' opacity='0.16'/><ellipse cx='-3.5' cy='21.0' rx='1.4' ry='2.4' fill='#8a8a8a' opacity='0.16'/><ellipse cx='1.6' cy='17.3' rx='1.7' ry='2.5' fill='#8a8a8a' opacity='0.16'/></g></g>
<g transform='translate(411.4,18.5) scale(1,0.987)'><line x1='0' y1='26.6' x2='0' y2='38.5' stroke='#a8a8a8' stroke-width='1.0'/><path d='M-4.6 26.7L-7.4 28.9M2.4 26.7L6.6 28.9' stroke='#909090' stroke-width='0.9' fill='none'/><g transform='translate(-0.8,0) scale(1,0.96)'><path d='M-1.6 -0.5L1.6 -0.5C2.2 1.5 2.7 3.1 3.5 4.5C5.3 6.1 6.1 8.3 6.1 11.5L6.1 23C6.1 26 4.9 27.9 2 28.2L-2 28.2C-4.9 27.9 -6.1 26 -6.1 23L-6.1 11.5C-6.1 8.3 -5.3 6.1 -3.5 4.5C-2.7 3.1 -2.2 1.5 -1.6 -0.5Z' fill='url(#mg)'/><path d='M-1.6 -0.5L1.6 -0.5C2.2 1.5 2.7 3.1 3.5 4.5C5.3 6.1 6.1 8.3 6.1 11.5L6.1 23C6.1 26 4.9 27.9 2 28.2L-2 28.2C-4.9 27.9 -6.1 26 -6.1 23L-6.1 11.5C-6.1 8.3 -5.3 6.1 -3.5 4.5C-2.7 3.1 -2.2 1.5 -1.6 -0.5Z' fill='url(#mv)'/><ellipse cx='0.4' cy='20.8' rx='1.3' ry='2.6' fill='#8a8a8a' opacity='0.16'/><ellipse cx='-1.8' cy='13.2' rx='2.3' ry='2.5' fill='#8a8a8a' opacity='0.16'/><ellipse cx='0.4' cy='20.4' rx='2.5' ry='2.4' fill='#8a8a8a' opacity='0.16'/></g></g>
<g transform='translate(425.1,18.5) scale(1,0.987)'><line x1='0' y1='26.6' x2='0' y2='38.5' stroke='#a8a8a8' stroke-width='1.0'/><path d='M-4.6 26.7L-7.4 28.9M2.4 26.7L6.6 28.9' stroke='#909090' stroke-width='0.9' fill='none'/><g transform='translate(-0.8,0) scale(1,0.96)'><path d='M-1.6 -0.5L1.6 -0.5C2.2 1.5 2.7 3.1 3.5 4.5C5.3 6.1 6.1 8.3 6.1 11.5L6.1 23C6.1 26 4.9 27.9 2 28.2L-2 28.2C-4.9 27.9 -6.1 26 -6.1 23L-6.1 11.5C-6.1 8.3 -5.3 6.1 -3.5 4.5C-2.7 3.1 -2.2 1.5 -1.6 -0.5Z' fill='url(#mg)'/><path d='M-1.6 -0.5L1.6 -0.5C2.2 1.5 2.7 3.1 3.5 4.5C5.3 6.1 6.1 8.3 6.1 11.5L6.1 23C6.1 26 4.9 27.9 2 28.2L-2 28.2C-4.9 27.9 -6.1 26 -6.1 23L-6.1 11.5C-6.1 8.3 -5.3 6.1 -3.5 4.5C-2.7 3.1 -2.2 1.5 -1.6 -0.5Z' fill='url(#mv)'/><ellipse cx='0.8' cy='16.6' rx='1.9' ry='2.9' fill='#8a8a8a' opacity='0.16'/><ellipse cx='-0.3' cy='17.0' rx='1.9' ry='3.4' fill='#8a8a8a' opacity='0.16'/><ellipse cx='1.4' cy='22.1' rx='2.5' ry='2.0' fill='#8a8a8a' opacity='0.16'/></g></g>
<g transform='translate(439.7,18.5) scale(1,0.987)'><line x1='0' y1='26.6' x2='0' y2='38.5' stroke='#a8a8a8' stroke-width='1.0'/><path d='M-4.6 26.7L-7.4 28.9M2.4 26.7L6.6 28.9' stroke='#909090' stroke-width='0.9' fill='none'/><g transform='translate(-0.8,0) scale(1,0.96)'><path d='M-1.6 -0.5L1.6 -0.5C2.2 1.5 2.7 3.1 3.5 4.5C5.3 6.1 6.1 8.3 6.1 11.5L6.1 23C6.1 26 4.9 27.9 2 28.2L-2 28.2C-4.9 27.9 -6.1 26 -6.1 23L-6.1 11.5C-6.1 8.3 -5.3 6.1 -3.5 4.5C-2.7 3.1 -2.2 1.5 -1.6 -0.5Z' fill='url(#mg)'/><path d='M-1.6 -0.5L1.6 -0.5C2.2 1.5 2.7 3.1 3.5 4.5C5.3 6.1 6.1 8.3 6.1 11.5L6.1 23C6.1 26 4.9 27.9 2 28.2L-2 28.2C-4.9 27.9 -6.1 26 -6.1 23L-6.1 11.5C-6.1 8.3 -5.3 6.1 -3.5 4.5C-2.7 3.1 -2.2 1.5 -1.6 -0.5Z' fill='url(#mv)'/><ellipse cx='0.4' cy='23.1' rx='2.4' ry='1.8' fill='#8a8a8a' opacity='0.16'/><ellipse cx='-2.6' cy='15.6' rx='1.3' ry='2.0' fill='#8a8a8a' opacity='0.16'/><ellipse cx='-3.0' cy='19.0' rx='2.3' ry='3.3' fill='#8a8a8a' opacity='0.16'/></g></g>
<g transform='translate(454.5,18.5) scale(1,0.987)'><line x1='0' y1='26.6' x2='0' y2='38.5' stroke='#a8a8a8' stroke-width='1.0'/><path d='M-4.6 26.7L-7.4 28.9M2.4 26.7L6.6 28.9' stroke='#909090' stroke-width='0.9' fill='none'/><g transform='translate(-0.8,0) scale(1,0.96)'><path d='M-1.6 -0.5L1.6 -0.5C2.2 1.5 2.7 3.1 3.5 4.5C5.3 6.1 6.1 8.3 6.1 11.5L6.1 23C6.1 26 4.9 27.9 2 28.2L-2 28.2C-4.9 27.9 -6.1 26 -6.1 23L-6.1 11.5C-6.1 8.3 -5.3 6.1 -3.5 4.5C-2.7 3.1 -2.2 1.5 -1.6 -0.5Z' fill='url(#mg)'/><path d='M-1.6 -0.5L1.6 -0.5C2.2 1.5 2.7 3.1 3.5 4.5C5.3 6.1 6.1 8.3 6.1 11.5L6.1 23C6.1 26 4.9 27.9 2 28.2L-2 28.2C-4.9 27.9 -6.1 26 -6.1 23L-6.1 11.5C-6.1 8.3 -5.3 6.1 -3.5 4.5C-2.7 3.1 -2.2 1.5 -1.6 -0.5Z' fill='url(#mv)'/><ellipse cx='-2.4' cy='19.7' rx='2.1' ry='1.8' fill='#8a8a8a' opacity='0.16'/><ellipse cx='2.7' cy='23.5' rx='1.5' ry='3.4' fill='#8a8a8a' opacity='0.16'/><ellipse cx='-0.7' cy='16.3' rx='2.6' ry='3.2' fill='#8a8a8a' opacity='0.16'/></g></g>
<g transform='translate(470.4,18.5) scale(1,0.987)'><line x1='0' y1='26.6' x2='0' y2='38.5' stroke='#a8a8a8' stroke-width='1.0'/><path d='M-4.6 26.7L-7.4 28.9M2.4 26.7L6.6 28.9' stroke='#909090' stroke-width='0.9' fill='none'/><g transform='translate(-0.8,0) scale(1,0.96)'><path d='M-1.6 -0.5L1.6 -0.5C2.2 1.5 2.7 3.1 3.5 4.5C5.3 6.1 6.1 8.3 6.1 11.5L6.1 23C6.1 26 4.9 27.9 2 28.2L-2 28.2C-4.9 27.9 -6.1 26 -6.1 23L-6.1 11.5C-6.1 8.3 -5.3 6.1 -3.5 4.5C-2.7 3.1 -2.2 1.5 -1.6 -0.5Z' fill='url(#mg)'/><path d='M-1.6 -0.5L1.6 -0.5C2.2 1.5 2.7 3.1 3.5 4.5C5.3 6.1 6.1 8.3 6.1 11.5L6.1 23C6.1 26 4.9 27.9 2 28.2L-2 28.2C-4.9 27.9 -6.1 26 -6.1 23L-6.1 11.5C-6.1 8.3 -5.3 6.1 -3.5 4.5C-2.7 3.1 -2.2 1.5 -1.6 -0.5Z' fill='url(#mv)'/><ellipse cx='-2.4' cy='15.5' rx='1.9' ry='2.2' fill='#8a8a8a' opacity='0.16'/><ellipse cx='-2.1' cy='13.8' rx='2.2' ry='1.5' fill='#8a8a8a' opacity='0.16'/><ellipse cx='0.4' cy='15.6' rx='1.2' ry='2.2' fill='#8a8a8a' opacity='0.16'/></g></g>
<g transform='translate(485.8,18.5) scale(1,0.987)'><line x1='0' y1='26.6' x2='0' y2='38.5' stroke='#a8a8a8' stroke-width='1.0'/><path d='M-4.6 26.7L-7.4 28.9M2.4 26.7L6.6 28.9' stroke='#909090' stroke-width='0.9' fill='none'/><g transform='translate(-0.8,0) scale(1,0.96)'><path d='M-1.6 -0.5L1.6 -0.5C2.2 1.5 2.7 3.1 3.5 4.5C5.3 6.1 6.1 8.3 6.1 11.5L6.1 23C6.1 26 4.9 27.9 2 28.2L-2 28.2C-4.9 27.9 -6.1 26 -6.1 23L-6.1 11.5C-6.1 8.3 -5.3 6.1 -3.5 4.5C-2.7 3.1 -2.2 1.5 -1.6 -0.5Z' fill='url(#mg)'/><path d='M-1.6 -0.5L1.6 -0.5C2.2 1.5 2.7 3.1 3.5 4.5C5.3 6.1 6.1 8.3 6.1 11.5L6.1 23C6.1 26 4.9 27.9 2 28.2L-2 28.2C-4.9 27.9 -6.1 26 -6.1 23L-6.1 11.5C-6.1 8.3 -5.3 6.1 -3.5 4.5C-2.7 3.1 -2.2 1.5 -1.6 -0.5Z' fill='url(#mv)'/><ellipse cx='0.9' cy='16.7' rx='1.3' ry='3.5' fill='#8a8a8a' opacity='0.16'/><ellipse cx='2.0' cy='23.6' rx='1.3' ry='2.0' fill='#8a8a8a' opacity='0.16'/><ellipse cx='-3.2' cy='20.7' rx='1.6' ry='1.8' fill='#8a8a8a' opacity='0.16'/></g></g>
<g transform='translate(500,18.5) scale(1,0.987)'><line x1='0' y1='26.6' x2='0' y2='38.5' stroke='#a8a8a8' stroke-width='1.0'/><path d='M-4.6 26.7L-7.4 28.9M2.4 26.7L6.6 28.9' stroke='#909090' stroke-width='0.9' fill='none'/><g transform='translate(-0.8,0) scale(1,0.96)'><path d='M-1.6 -0.5L1.6 -0.5C2.2 1.5 2.7 3.1 3.5 4.5C5.3 6.1 6.1 8.3 6.1 11.5L6.1 23C6.1 26 4.9 27.9 2 28.2L-2 28.2C-4.9 27.9 -6.1 26 -6.1 23L-6.1 11.5C-6.1 8.3 -5.3 6.1 -3.5 4.5C-2.7 3.1 -2.2 1.5 -1.6 -0.5Z' fill='url(#mg)'/><path d='M-1.6 -0.5L1.6 -0.5C2.2 1.5 2.7 3.1 3.5 4.5C5.3 6.1 6.1 8.3 6.1 11.5L6.1 23C6.1 26 4.9 27.9 2 28.2L-2 28.2C-4.9 27.9 -6.1 26 -6.1 23L-6.1 11.5C-6.1 8.3 -5.3 6.1 -3.5 4.5C-2.7 3.1 -2.2 1.5 -1.6 -0.5Z' fill='url(#mv)'/><ellipse cx='-0.5' cy='22.7' rx='2.3' ry='2.0' fill='#8a8a8a' opacity='0.16'/><ellipse cx='-2.5' cy='22.8' rx='2.0' ry='2.9' fill='#8a8a8a' opacity='0.16'/><ellipse cx='-2.9' cy='9.9' rx='2.2' ry='2.4' fill='#8a8a8a' opacity='0.16'/></g></g>
<ellipse cx='361.3' cy='41.2' rx='3.00' ry='3.24' fill='#5020ff'/><ellipse cx='361.3' cy='41.2' rx='2.34' ry='2.53' fill='#1a40ff'/><ellipse cx='361.3' cy='41.2' rx='1.74' ry='1.88' fill='#00d0f0'/><ellipse cx='361.3' cy='41.2' rx='1.26' ry='1.36' fill='#40ff60'/>
<ellipse cx='381.2' cy='38.4' rx='3.12' ry='3.42' fill='#5c10ff'/><ellipse cx='381.2' cy='38.4' rx='2.75' ry='3.01' fill='#0a10ff'/><ellipse cx='381.2' cy='38.4' rx='2.31' ry='2.53' fill='#00b8ff'/><ellipse cx='381.2' cy='38.4' rx='2.12' ry='2.33' fill='#10f060'/><ellipse cx='381.2' cy='38.4' rx='1.97' ry='2.15' fill='#e8f000'/><ellipse cx='381.2' cy='38.4' rx='1.87' ry='2.05' fill='#ff5000'/><ellipse cx='381.2' cy='38.4' rx='1.78' ry='1.95' fill='#f01000'/>
<ellipse cx='399.9' cy='36.7' rx='3.64' ry='3.99' fill='#5c10ff'/><ellipse cx='399.9' cy='36.7' rx='3.20' ry='3.51' fill='#0a10ff'/><ellipse cx='399.9' cy='36.7' rx='2.69' ry='2.95' fill='#00b8ff'/><ellipse cx='399.9' cy='36.7' rx='2.48' ry='2.71' fill='#10f060'/><ellipse cx='399.9' cy='36.7' rx='2.29' ry='2.51' fill='#e8f000'/><ellipse cx='399.9' cy='36.7' rx='2.18' ry='2.39' fill='#ff5000'/><ellipse cx='399.9' cy='36.7' rx='2.07' ry='2.27' fill='#f01000'/>
<ellipse cx='425.6' cy='39.5' rx='3.12' ry='3.42' fill='#5c10ff'/><ellipse cx='425.6' cy='39.5' rx='2.75' ry='3.01' fill='#0a10ff'/><ellipse cx='425.6' cy='39.5' rx='2.31' ry='2.53' fill='#00b8ff'/><ellipse cx='425.6' cy='39.5' rx='2.12' ry='2.33' fill='#10f060'/><ellipse cx='425.6' cy='39.5' rx='1.97' ry='2.15' fill='#e8f000'/><ellipse cx='425.6' cy='39.5' rx='1.87' ry='2.05' fill='#ff5000'/><ellipse cx='425.6' cy='39.5' rx='1.78' ry='1.95' fill='#f01000'/>
<ellipse cx='440.8' cy='35.6' rx='2.00' ry='2.16' fill='#5020ff'/><ellipse cx='440.8' cy='35.6' rx='1.56' ry='1.68' fill='#1a40ff'/><ellipse cx='440.8' cy='35.6' rx='1.16' ry='1.25' fill='#00d0f0'/><ellipse cx='440.8' cy='35.6' rx='0.84' ry='0.91' fill='#40ff60'/>
<ellipse cx='457.6' cy='37.2' rx='1.50' ry='1.58' fill='#3030ff'/><ellipse cx='457.6' cy='37.2' rx='0.75' ry='0.79' fill='#2060ff'/>
<ellipse cx='473.5' cy='38.4' rx='2.00' ry='2.10' fill='#3030ff'/><ellipse cx='473.5' cy='38.4' rx='1.00' ry='1.05' fill='#2060ff'/>
</g></svg>
<rect x='510.9' y='18.8' width='134.20' height='37.50' fill='#303030'/>
<svg x='510.9' y='18.8' width='134.20' height='37.50' overflow='hidden'><g transform='translate(-510.9,-18.8)' filter='url(#sb)'>
<g transform='translate(522.1,18.8) scale(1,0.987)'><line x1='0' y1='26.3' x2='0' y2='38.5' stroke='#a8a8a8' stroke-width='1.0'/><path d='M-4.6 26.4L-7.4 28.6M2.4 26.4L6.6 28.6' stroke='#909090' stroke-width='0.9' fill='none'/><g transform='translate(-0.8,0) scale(1,0.95)'><path d='M-1.6 -0.5L1.6 -0.5C2.2 1.5 2.7 3.1 3.5 4.5C5.3 6.1 6.1 8.3 6.1 11.5L6.1 23C6.1 26 4.9 27.9 2 28.2L-2 28.2C-4.9 27.9 -6.1 26 -6.1 23L-6.1 11.5C-6.1 8.3 -5.3 6.1 -3.5 4.5C-2.7 3.1 -2.2 1.5 -1.6 -0.5Z' fill='url(#mg)'/><path d='M-1.6 -0.5L1.6 -0.5C2.2 1.5 2.7 3.1 3.5 4.5C5.3 6.1 6.1 8.3 6.1 11.5L6.1 23C6.1 26 4.9 27.9 2 28.2L-2 28.2C-4.9 27.9 -6.1 26 -6.1 23L-6.1 11.5C-6.1 8.3 -5.3 6.1 -3.5 4.5C-2.7 3.1 -2.2 1.5 -1.6 -0.5Z' fill='url(#mv)'/><ellipse cx='-3.0' cy='23.1' rx='2.1' ry='3.1' fill='#8a8a8a' opacity='0.16'/><ellipse cx='-2.9' cy='21.8' rx='1.3' ry='3.2' fill='#8a8a8a' opacity='0.16'/><ellipse cx='-0.3' cy='14.1' rx='2.0' ry='3.4' fill='#8a8a8a' opacity='0.16'/></g></g>
<g transform='translate(535.5,18.8) scale(1,0.987)'><line x1='0' y1='26.3' x2='0' y2='38.5' stroke='#a8a8a8' stroke-width='1.0'/><path d='M-4.6 26.4L-7.4 28.6M2.4 26.4L6.6 28.6' stroke='#909090' stroke-width='0.9' fill='none'/><g transform='translate(-0.8,0) scale(1,0.95)'><path d='M-1.6 -0.5L1.6 -0.5C2.2 1.5 2.7 3.1 3.5 4.5C5.3 6.1 6.1 8.3 6.1 11.5L6.1 23C6.1 26 4.9 27.9 2 28.2L-2 28.2C-4.9 27.9 -6.1 26 -6.1 23L-6.1 11.5C-6.1 8.3 -5.3 6.1 -3.5 4.5C-2.7 3.1 -2.2 1.5 -1.6 -0.5Z' fill='url(#mg)'/><path d='M-1.6 -0.5L1.6 -0.5C2.2 1.5 2.7 3.1 3.5 4.5C5.3 6.1 6.1 8.3 6.1 11.5L6.1 23C6.1 26 4.9 27.9 2 28.2L-2 28.2C-4.9 27.9 -6.1 26 -6.1 23L-6.1 11.5C-6.1 8.3 -5.3 6.1 -3.5 4.5C-2.7 3.1 -2.2 1.5 -1.6 -0.5Z' fill='url(#mv)'/><ellipse cx='-1.6' cy='10.9' rx='1.9' ry='2.0' fill='#8a8a8a' opacity='0.16'/><ellipse cx='-2.7' cy='11.4' rx='1.3' ry='1.9' fill='#8a8a8a' opacity='0.16'/><ellipse cx='-1.3' cy='13.6' rx='2.3' ry='2.1' fill='#8a8a8a' opacity='0.16'/></g></g>
<g transform='translate(549.9,18.8) scale(1,0.987)'><line x1='0' y1='26.3' x2='0' y2='38.5' stroke='#a8a8a8' stroke-width='1.0'/><path d='M-4.6 26.4L-7.4 28.6M2.4 26.4L6.6 28.6' stroke='#909090' stroke-width='0.9' fill='none'/><g transform='translate(-0.8,0) scale(1,0.95)'><path d='M-1.6 -0.5L1.6 -0.5C2.2 1.5 2.7 3.1 3.5 4.5C5.3 6.1 6.1 8.3 6.1 11.5L6.1 23C6.1 26 4.9 27.9 2 28.2L-2 28.2C-4.9 27.9 -6.1 26 -6.1 23L-6.1 11.5C-6.1 8.3 -5.3 6.1 -3.5 4.5C-2.7 3.1 -2.2 1.5 -1.6 -0.5Z' fill='url(#mg)'/><path d='M-1.6 -0.5L1.6 -0.5C2.2 1.5 2.7 3.1 3.5 4.5C5.3 6.1 6.1 8.3 6.1 11.5L6.1 23C6.1 26 4.9 27.9 2 28.2L-2 28.2C-4.9 27.9 -6.1 26 -6.1 23L-6.1 11.5C-6.1 8.3 -5.3 6.1 -3.5 4.5C-2.7 3.1 -2.2 1.5 -1.6 -0.5Z' fill='url(#mv)'/><ellipse cx='0.0' cy='11.7' rx='1.7' ry='1.5' fill='#8a8a8a' opacity='0.16'/><ellipse cx='-1.7' cy='9.2' rx='2.2' ry='2.6' fill='#8a8a8a' opacity='0.16'/><ellipse cx='-2.2' cy='16.1' rx='2.5' ry='1.7' fill='#8a8a8a' opacity='0.16'/></g></g>
<g transform='translate(565.2,18.8) scale(1,0.987)'><line x1='0' y1='26.3' x2='0' y2='38.5' stroke='#a8a8a8' stroke-width='1.0'/><path d='M-4.6 26.4L-7.4 28.6M2.4 26.4L6.6 28.6' stroke='#909090' stroke-width='0.9' fill='none'/><g transform='translate(-0.8,0) scale(1,0.95)'><path d='M-1.6 -0.5L1.6 -0.5C2.2 1.5 2.7 3.1 3.5 4.5C5.3 6.1 6.1 8.3 6.1 11.5L6.1 23C6.1 26 4.9 27.9 2 28.2L-2 28.2C-4.9 27.9 -6.1 26 -6.1 23L-6.1 11.5C-6.1 8.3 -5.3 6.1 -3.5 4.5C-2.7 3.1 -2.2 1.5 -1.6 -0.5Z' fill='url(#mg)'/><path d='M-1.6 -0.5L1.6 -0.5C2.2 1.5 2.7 3.1 3.5 4.5C5.3 6.1 6.1 8.3 6.1 11.5L6.1 23C6.1 26 4.9 27.9 2 28.2L-2 28.2C-4.9 27.9 -6.1 26 -6.1 23L-6.1 11.5C-6.1 8.3 -5.3 6.1 -3.5 4.5C-2.7 3.1 -2.2 1.5 -1.6 -0.5Z' fill='url(#mv)'/><ellipse cx='2.2' cy='15.5' rx='1.9' ry='3.2' fill='#8a8a8a' opacity='0.16'/><ellipse cx='-0.7' cy='16.6' rx='2.2' ry='3.5' fill='#8a8a8a' opacity='0.16'/><ellipse cx='-1.1' cy='21.5' rx='2.2' ry='2.8' fill='#8a8a8a' opacity='0.16'/></g></g>
<g transform='translate(581.2,18.8) scale(1,0.987)'><line x1='0' y1='26.3' x2='0' y2='38.5' stroke='#a8a8a8' stroke-width='1.0'/><path d='M-4.6 26.4L-7.4 28.6M2.4 26.4L6.6 28.6' stroke='#909090' stroke-width='0.9' fill='none'/><g transform='translate(-0.8,0) scale(1,0.95)'><path d='M-1.6 -0.5L1.6 -0.5C2.2 1.5 2.7 3.1 3.5 4.5C5.3 6.1 6.1 8.3 6.1 11.5L6.1 23C6.1 26 4.9 27.9 2 28.2L-2 28.2C-4.9 27.9 -6.1 26 -6.1 23L-6.1 11.5C-6.1 8.3 -5.3 6.1 -3.5 4.5C-2.7 3.1 -2.2 1.5 -1.6 -0.5Z' fill='url(#mg)'/><path d='M-1.6 -0.5L1.6 -0.5C2.2 1.5 2.7 3.1 3.5 4.5C5.3 6.1 6.1 8.3 6.1 11.5L6.1 23C6.1 26 4.9 27.9 2 28.2L-2 28.2C-4.9 27.9 -6.1 26 -6.1 23L-6.1 11.5C-6.1 8.3 -5.3 6.1 -3.5 4.5C-2.7 3.1 -2.2 1.5 -1.6 -0.5Z' fill='url(#mv)'/><ellipse cx='-0.7' cy='14.2' rx='1.3' ry='1.8' fill='#8a8a8a' opacity='0.16'/><ellipse cx='-3.0' cy='20.1' rx='1.6' ry='1.8' fill='#8a8a8a' opacity='0.16'/><ellipse cx='-2.9' cy='21.6' rx='2.4' ry='2.8' fill='#8a8a8a' opacity='0.16'/></g></g>
<g transform='translate(595.7,18.8) scale(1,0.987)'><line x1='0' y1='26.3' x2='0' y2='38.5' stroke='#a8a8a8' stroke-width='1.0'/><path d='M-4.6 26.4L-7.4 28.6M2.4 26.4L6.6 28.6' stroke='#909090' stroke-width='0.9' fill='none'/><g transform='translate(-0.8,0) scale(1,0.95)'><path d='M-1.6 -0.5L1.6 -0.5C2.2 1.5 2.7 3.1 3.5 4.5C5.3 6.1 6.1 8.3 6.1 11.5L6.1 23C6.1 26 4.9 27.9 2 28.2L-2 28.2C-4.9 27.9 -6.1 26 -6.1 23L-6.1 11.5C-6.1 8.3 -5.3 6.1 -3.5 4.5C-2.7 3.1 -2.2 1.5 -1.6 -0.5Z' fill='url(#mg)'/><path d='M-1.6 -0.5L1.6 -0.5C2.2 1.5 2.7 3.1 3.5 4.5C5.3 6.1 6.1 8.3 6.1 11.5L6.1 23C6.1 26 4.9 27.9 2 28.2L-2 28.2C-4.9 27.9 -6.1 26 -6.1 23L-6.1 11.5C-6.1 8.3 -5.3 6.1 -3.5 4.5C-2.7 3.1 -2.2 1.5 -1.6 -0.5Z' fill='url(#mv)'/><ellipse cx='-1.5' cy='12.6' rx='1.6' ry='2.4' fill='#8a8a8a' opacity='0.16'/><ellipse cx='-2.4' cy='15.7' rx='1.6' ry='3.4' fill='#8a8a8a' opacity='0.16'/><ellipse cx='3.3' cy='17.2' rx='1.5' ry='3.4' fill='#8a8a8a' opacity='0.16'/></g></g>
<g transform='translate(608.7,18.8) scale(1,0.987)'><line x1='0' y1='26.3' x2='0' y2='38.5' stroke='#a8a8a8' stroke-width='1.0'/><path d='M-4.6 26.4L-7.4 28.6M2.4 26.4L6.6 28.6' stroke='#909090' stroke-width='0.9' fill='none'/><g transform='translate(-0.8,0) scale(1,0.95)'><path d='M-1.6 -0.5L1.6 -0.5C2.2 1.5 2.7 3.1 3.5 4.5C5.3 6.1 6.1 8.3 6.1 11.5L6.1 23C6.1 26 4.9 27.9 2 28.2L-2 28.2C-4.9 27.9 -6.1 26 -6.1 23L-6.1 11.5C-6.1 8.3 -5.3 6.1 -3.5 4.5C-2.7 3.1 -2.2 1.5 -1.6 -0.5Z' fill='url(#mg)'/><path d='M-1.6 -0.5L1.6 -0.5C2.2 1.5 2.7 3.1 3.5 4.5C5.3 6.1 6.1 8.3 6.1 11.5L6.1 23C6.1 26 4.9 27.9 2 28.2L-2 28.2C-4.9 27.9 -6.1 26 -6.1 23L-6.1 11.5C-6.1 8.3 -5.3 6.1 -3.5 4.5C-2.7 3.1 -2.2 1.5 -1.6 -0.5Z' fill='url(#mv)'/><ellipse cx='-1.3' cy='14.3' rx='1.2' ry='2.3' fill='#8a8a8a' opacity='0.16'/><ellipse cx='-0.2' cy='16.5' rx='1.5' ry='2.5' fill='#8a8a8a' opacity='0.16'/><ellipse cx='-3.5' cy='13.0' rx='1.3' ry='2.3' fill='#8a8a8a' opacity='0.16'/></g></g>
<g transform='translate(625.3,18.8) scale(1,0.987)'><line x1='0' y1='26.3' x2='0' y2='38.5' stroke='#a8a8a8' stroke-width='1.0'/><path d='M-4.6 26.4L-7.4 28.6M2.4 26.4L6.6 28.6' stroke='#909090' stroke-width='0.9' fill='none'/><g transform='translate(-0.8,0) scale(1,0.95)'><path d='M-1.6 -0.5L1.6 -0.5C2.2 1.5 2.7 3.1 3.5 4.5C5.3 6.1 6.1 8.3 6.1 11.5L6.1 23C6.1 26 4.9 27.9 2 28.2L-2 28.2C-4.9 27.9 -6.1 26 -6.1 23L-6.1 11.5C-6.1 8.3 -5.3 6.1 -3.5 4.5C-2.7 3.1 -2.2 1.5 -1.6 -0.5Z' fill='url(#mg)'/><path d='M-1.6 -0.5L1.6 -0.5C2.2 1.5 2.7 3.1 3.5 4.5C5.3 6.1 6.1 8.3 6.1 11.5L6.1 23C6.1 26 4.9 27.9 2 28.2L-2 28.2C-4.9 27.9 -6.1 26 -6.1 23L-6.1 11.5C-6.1 8.3 -5.3 6.1 -3.5 4.5C-2.7 3.1 -2.2 1.5 -1.6 -0.5Z' fill='url(#mv)'/><ellipse cx='-3.2' cy='9.3' rx='1.6' ry='2.0' fill='#8a8a8a' opacity='0.16'/><ellipse cx='0.6' cy='16.9' rx='2.3' ry='2.8' fill='#8a8a8a' opacity='0.16'/><ellipse cx='1.5' cy='22.2' rx='1.7' ry='2.2' fill='#8a8a8a' opacity='0.16'/></g></g>
<g transform='translate(639.3,18.8) scale(1,0.987)'><line x1='0' y1='26.3' x2='0' y2='38.5' stroke='#a8a8a8' stroke-width='1.0'/><path d='M-4.6 26.4L-7.4 28.6M2.4 26.4L6.6 28.6' stroke='#909090' stroke-width='0.9' fill='none'/><g transform='translate(-0.8,0) scale(1,0.95)'><path d='M-1.6 -0.5L1.6 -0.5C2.2 1.5 2.7 3.1 3.5 4.5C5.3 6.1 6.1 8.3 6.1 11.5L6.1 23C6.1 26 4.9 27.9 2 28.2L-2 28.2C-4.9 27.9 -6.1 26 -6.1 23L-6.1 11.5C-6.1 8.3 -5.3 6.1 -3.5 4.5C-2.7 3.1 -2.2 1.5 -1.6 -0.5Z' fill='url(#mg)'/><path d='M-1.6 -0.5L1.6 -0.5C2.2 1.5 2.7 3.1 3.5 4.5C5.3 6.1 6.1 8.3 6.1 11.5L6.1 23C6.1 26 4.9 27.9 2 28.2L-2 28.2C-4.9 27.9 -6.1 26 -6.1 23L-6.1 11.5C-6.1 8.3 -5.3 6.1 -3.5 4.5C-2.7 3.1 -2.2 1.5 -1.6 -0.5Z' fill='url(#mv)'/><ellipse cx='3.4' cy='11.2' rx='2.2' ry='2.8' fill='#8a8a8a' opacity='0.16'/><ellipse cx='-3.2' cy='21.5' rx='2.4' ry='2.8' fill='#8a8a8a' opacity='0.16'/><ellipse cx='1.6' cy='21.2' rx='1.4' ry='2.5' fill='#8a8a8a' opacity='0.16'/></g></g>
<ellipse cx='522.4' cy='40.4' rx='4.68' ry='5.13' fill='#5c10ff'/><ellipse cx='522.4' cy='40.4' rx='4.12' ry='4.51' fill='#0a10ff'/><ellipse cx='522.4' cy='40.4' rx='3.46' ry='3.80' fill='#00b8ff'/><ellipse cx='522.4' cy='40.4' rx='3.18' ry='3.49' fill='#10f060'/><ellipse cx='522.4' cy='40.4' rx='2.95' ry='3.23' fill='#e8f000'/><ellipse cx='522.4' cy='40.4' rx='2.81' ry='3.08' fill='#ff5000'/><ellipse cx='522.4' cy='40.4' rx='2.67' ry='2.92' fill='#f01000'/>
<ellipse cx='537.2' cy='38.3' rx='3.64' ry='3.99' fill='#5c10ff'/><ellipse cx='537.2' cy='38.3' rx='3.20' ry='3.51' fill='#0a10ff'/><ellipse cx='537.2' cy='38.3' rx='2.69' ry='2.95' fill='#00b8ff'/><ellipse cx='537.2' cy='38.3' rx='2.48' ry='2.71' fill='#10f060'/><ellipse cx='537.2' cy='38.3' rx='2.29' ry='2.51' fill='#e8f000'/><ellipse cx='537.2' cy='38.3' rx='2.18' ry='2.39' fill='#ff5000'/><ellipse cx='537.2' cy='38.3' rx='2.07' ry='2.27' fill='#f01000'/>
<ellipse cx='552.6' cy='38.7' rx='2.60' ry='2.85' fill='#5c10ff'/><ellipse cx='552.6' cy='38.7' rx='2.29' ry='2.51' fill='#0a10ff'/><ellipse cx='552.6' cy='38.7' rx='1.92' ry='2.11' fill='#00b8ff'/><ellipse cx='552.6' cy='38.7' rx='1.77' ry='1.94' fill='#10f060'/><ellipse cx='552.6' cy='38.7' rx='1.64' ry='1.80' fill='#e8f000'/><ellipse cx='552.6' cy='38.7' rx='1.56' ry='1.71' fill='#ff5000'/><ellipse cx='552.6' cy='38.7' rx='1.48' ry='1.62' fill='#f01000'/>
<ellipse cx='566.8' cy='38.7' rx='2.00' ry='2.16' fill='#5020ff'/><ellipse cx='566.8' cy='38.7' rx='1.56' ry='1.68' fill='#1a40ff'/><ellipse cx='566.8' cy='38.7' rx='1.16' ry='1.25' fill='#00d0f0'/><ellipse cx='566.8' cy='38.7' rx='0.84' ry='0.91' fill='#40ff60'/>
<ellipse cx='584.4' cy='40.4' rx='2.08' ry='2.28' fill='#5c10ff'/><ellipse cx='584.4' cy='40.4' rx='1.83' ry='2.01' fill='#0a10ff'/><ellipse cx='584.4' cy='40.4' rx='1.54' ry='1.69' fill='#00b8ff'/><ellipse cx='584.4' cy='40.4' rx='1.41' ry='1.55' fill='#10f060'/><ellipse cx='584.4' cy='40.4' rx='1.31' ry='1.44' fill='#e8f000'/><ellipse cx='584.4' cy='40.4' rx='1.25' ry='1.37' fill='#ff5000'/><ellipse cx='584.4' cy='40.4' rx='1.19' ry='1.30' fill='#f01000'/>
<ellipse cx='598.1' cy='38.3' rx='3.12' ry='3.42' fill='#5c10ff'/><ellipse cx='598.1' cy='38.3' rx='2.75' ry='3.01' fill='#0a10ff'/><ellipse cx='598.1' cy='38.3' rx='2.31' ry='2.53' fill='#00b8ff'/><ellipse cx='598.1' cy='38.3' rx='2.12' ry='2.33' fill='#10f060'/><ellipse cx='598.1' cy='38.3' rx='1.97' ry='2.15' fill='#e8f000'/><ellipse cx='598.1' cy='38.3' rx='1.87' ry='2.05' fill='#ff5000'/><ellipse cx='598.1' cy='38.3' rx='1.78' ry='1.95' fill='#f01000'/>
<ellipse cx='612.5' cy='38.3' rx='3.12' ry='3.42' fill='#5c10ff'/><ellipse cx='612.5' cy='38.3' rx='2.75' ry='3.01' fill='#0a10ff'/><ellipse cx='612.5' cy='38.3' rx='2.31' ry='2.53' fill='#00b8ff'/><ellipse cx='612.5' cy='38.3' rx='2.12' ry='2.33' fill='#10f060'/><ellipse cx='612.5' cy='38.3' rx='1.97' ry='2.15' fill='#e8f000'/><ellipse cx='612.5' cy='38.3' rx='1.87' ry='2.05' fill='#ff5000'/><ellipse cx='612.5' cy='38.3' rx='1.78' ry='1.95' fill='#f01000'/>
<ellipse cx='627.8' cy='38.9' rx='1.50' ry='1.58' fill='#3030ff'/><ellipse cx='627.8' cy='38.9' rx='0.75' ry='0.79' fill='#2060ff'/>
<ellipse cx='639.8' cy='36.6' rx='2.50' ry='2.70' fill='#5020ff'/><ellipse cx='639.8' cy='36.6' rx='1.95' ry='2.11' fill='#1a40ff'/><ellipse cx='639.8' cy='36.6' rx='1.45' ry='1.57' fill='#00d0f0'/><ellipse cx='639.8' cy='36.6' rx='1.05' ry='1.13' fill='#40ff60'/>
</g></svg>
<rect x='56.1' y='60.7' width='150.10' height='38.50' fill='#303030'/>
<svg x='56.1' y='60.7' width='150.10' height='38.50' overflow='hidden'><g transform='translate(-56.1,-60.7)' filter='url(#sb)'>
<g transform='translate(65.6,60.7) scale(1,1.013)'><line x1='0' y1='27.1' x2='0' y2='38.5' stroke='#a8a8a8' stroke-width='1.0'/><path d='M-4.6 27.2L-7.4 29.4M2.4 27.2L6.6 29.4' stroke='#909090' stroke-width='0.9' fill='none'/><g transform='translate(-0.8,0) scale(1,0.98)'><path d='M-1.6 -0.5L1.6 -0.5C2.2 1.5 2.7 3.1 3.5 4.5C5.3 6.1 6.1 8.3 6.1 11.5L6.1 23C6.1 26 4.9 27.9 2 28.2L-2 28.2C-4.9 27.9 -6.1 26 -6.1 23L-6.1 11.5C-6.1 8.3 -5.3 6.1 -3.5 4.5C-2.7 3.1 -2.2 1.5 -1.6 -0.5Z' fill='url(#mg)'/><path d='M-1.6 -0.5L1.6 -0.5C2.2 1.5 2.7 3.1 3.5 4.5C5.3 6.1 6.1 8.3 6.1 11.5L6.1 23C6.1 26 4.9 27.9 2 28.2L-2 28.2C-4.9 27.9 -6.1 26 -6.1 23L-6.1 11.5C-6.1 8.3 -5.3 6.1 -3.5 4.5C-2.7 3.1 -2.2 1.5 -1.6 -0.5Z' fill='url(#mv)'/><ellipse cx='0.0' cy='21.5' rx='2.3' ry='3.2' fill='#8a8a8a' opacity='0.16'/><ellipse cx='0.6' cy='22.4' rx='2.2' ry='2.9' fill='#8a8a8a' opacity='0.16'/><ellipse cx='-1.9' cy='9.5' rx='1.4' ry='2.2' fill='#8a8a8a' opacity='0.16'/></g></g>
<g transform='translate(79.3,60.7) scale(1,1.013)'><line x1='0' y1='27.1' x2='0' y2='38.5' stroke='#a8a8a8' stroke-width='1.0'/><path d='M-4.6 27.2L-7.4 29.4M2.4 27.2L6.6 29.4' stroke='#909090' stroke-width='0.9' fill='none'/><g transform='translate(-0.8,0) scale(1,0.98)'><path d='M-1.6 -0.5L1.6 -0.5C2.2 1.5 2.7 3.1 3.5 4.5C5.3 6.1 6.1 8.3 6.1 11.5L6.1 23C6.1 26 4.9 27.9 2 28.2L-2 28.2C-4.9 27.9 -6.1 26 -6.1 23L-6.1 11.5C-6.1 8.3 -5.3 6.1 -3.5 4.5C-2.7 3.1 -2.2 1.5 -1.6 -0.5Z' fill='url(#mg)'/><path d='M-1.6 -0.5L1.6 -0.5C2.2 1.5 2.7 3.1 3.5 4.5C5.3 6.1 6.1 8.3 6.1 11.5L6.1 23C6.1 26 4.9 27.9 2 28.2L-2 28.2C-4.9 27.9 -6.1 26 -6.1 23L-6.1 11.5C-6.1 8.3 -5.3 6.1 -3.5 4.5C-2.7 3.1 -2.2 1.5 -1.6 -0.5Z' fill='url(#mv)'/><ellipse cx='-2.8' cy='21.5' rx='2.0' ry='2.8' fill='#8a8a8a' opacity='0.16'/><ellipse cx='0.9' cy='19.2' rx='1.9' ry='1.5' fill='#8a8a8a' opacity='0.16'/><ellipse cx='2.1' cy='20.2' rx='1.9' ry='2.6' fill='#8a8a8a' opacity='0.16'/></g></g>
<g transform='translate(93,60.7) scale(1,1.013)'><line x1='0' y1='27.1' x2='0' y2='38.5' stroke='#a8a8a8' stroke-width='1.0'/><path d='M-4.6 27.2L-7.4 29.4M2.4 27.2L6.6 29.4' stroke='#909090' stroke-width='0.9' fill='none'/><g transform='translate(-0.8,0) scale(1,0.98)'><path d='M-1.6 -0.5L1.6 -0.5C2.2 1.5 2.7 3.1 3.5 4.5C5.3 6.1 6.1 8.3 6.1 11.5L6.1 23C6.1 26 4.9 27.9 2 28.2L-2 28.2C-4.9 27.9 -6.1 26 -6.1 23L-6.1 11.5C-6.1 8.3 -5.3 6.1 -3.5 4.5C-2.7 3.1 -2.2 1.5 -1.6 -0.5Z' fill='url(#mg)'/><path d='M-1.6 -0.5L1.6 -0.5C2.2 1.5 2.7 3.1 3.5 4.5C5.3 6.1 6.1 8.3 6.1 11.5L6.1 23C6.1 26 4.9 27.9 2 28.2L-2 28.2C-4.9 27.9 -6.1 26 -6.1 23L-6.1 11.5C-6.1 8.3 -5.3 6.1 -3.5 4.5C-2.7 3.1 -2.2 1.5 -1.6 -0.5Z' fill='url(#mv)'/><ellipse cx='1.1' cy='10.0' rx='2.2' ry='2.0' fill='#8a8a8a' opacity='0.16'/><ellipse cx='-3.0' cy='13.0' rx='2.2' ry='1.9' fill='#8a8a8a' opacity='0.16'/><ellipse cx='1.7' cy='23.6' rx='1.9' ry='2.3' fill='#8a8a8a' opacity='0.16'/></g></g>
<g transform='translate(109.7,60.7) scale(1,1.013)'><line x1='0' y1='27.1' x2='0' y2='38.5' stroke='#a8a8a8' stroke-width='1.0'/><path d='M-4.6 27.2L-7.4 29.4M2.4 27.2L6.6 29.4' stroke='#909090' stroke-width='0.9' fill='none'/><g transform='translate(-0.8,0) scale(1,0.98)'><path d='M-1.6 -0.5L1.6 -0.5C2.2 1.5 2.7 3.1 3.5 4.5C5.3 6.1 6.1 8.3 6.1 11.5L6.1 23C6.1 26 4.9 27.9 2 28.2L-2 28.2C-4.9 27.9 -6.1 26 -6.1 23L-6.1 11.5C-6.1 8.3 -5.3 6.1 -3.5 4.5C-2.7 3.1 -2.2 1.5 -1.6 -0.5Z' fill='url(#mg)'/><path d='M-1.6 -0.5L1.6 -0.5C2.2 1.5 2.7 3.1 3.5 4.5C5.3 6.1 6.1 8.3 6.1 11.5L6.1 23C6.1 26 4.9 27.9 2 28.2L-2 28.2C-4.9 27.9 -6.1 26 -6.1 23L-6.1 11.5C-6.1 8.3 -5.3 6.1 -3.5 4.5C-2.7 3.1 -2.2 1.5 -1.6 -0.5Z' fill='url(#mv)'/><ellipse cx='-0.1' cy='19.3' rx='2.3' ry='2.7' fill='#8a8a8a' opacity='0.16'/><ellipse cx='1.0' cy='10.2' rx='1.4' ry='2.0' fill='#8a8a8a' opacity='0.16'/><ellipse cx='1.7' cy='13.6' rx='2.0' ry='1.5' fill='#8a8a8a' opacity='0.16'/></g></g>
<g transform='translate(123.3,60.7) scale(1,1.013)'><line x1='0' y1='27.1' x2='0' y2='38.5' stroke='#a8a8a8' stroke-width='1.0'/><path d='M-4.6 27.2L-7.4 29.4M2.4 27.2L6.6 29.4' stroke='#909090' stroke-width='0.9' fill='none'/><g transform='translate(-0.8,0) scale(1,0.98)'><path d='M-1.6 -0.5L1.6 -0.5C2.2 1.5 2.7 3.1 3.5 4.5C5.3 6.1 6.1 8.3 6.1 11.5L6.1 23C6.1 26 4.9 27.9 2 28.2L-2 28.2C-4.9 27.9 -6.1 26 -6.1 23L-6.1 11.5C-6.1 8.3 -5.3 6.1 -3.5 4.5C-2.7 3.1 -2.2 1.5 -1.6 -0.5Z' fill='url(#mg)'/><path d='M-1.6 -0.5L1.6 -0.5C2.2 1.5 2.7 3.1 3.5 4.5C5.3 6.1 6.1 8.3 6.1 11.5L6.1 23C6.1 26 4.9 27.9 2 28.2L-2 28.2C-4.9 27.9 -6.1 26 -6.1 23L-6.1 11.5C-6.1 8.3 -5.3 6.1 -3.5 4.5C-2.7 3.1 -2.2 1.5 -1.6 -0.5Z' fill='url(#mv)'/><ellipse cx='-3.1' cy='13.0' rx='2.1' ry='2.9' fill='#8a8a8a' opacity='0.16'/><ellipse cx='1.2' cy='13.4' rx='1.9' ry='2.4' fill='#8a8a8a' opacity='0.16'/><ellipse cx='-0.2' cy='10.8' rx='2.5' ry='1.9' fill='#8a8a8a' opacity='0.16'/></g></g>
<g transform='translate(138.1,60.7) scale(1,1.013)'><line x1='0' y1='27.1' x2='0' y2='38.5' stroke='#a8a8a8' stroke-width='1.0'/><path d='M-4.6 27.2L-7.4 29.4M2.4 27.2L6.6 29.4' stroke='#909090' stroke-width='0.9' fill='none'/><g transform='translate(-0.8,0) scale(1,0.98)'><path d='M-1.6 -0.5L1.6 -0.5C2.2 1.5 2.7 3.1 3.5 4.5C5.3 6.1 6.1 8.3 6.1 11.5L6.1 23C6.1 26 4.9 27.9 2 28.2L-2 28.2C-4.9 27.9 -6.1 26 -6.1 23L-6.1 11.5C-6.1 8.3 -5.3 6.1 -3.5 4.5C-2.7 3.1 -2.2 1.5 -1.6 -0.5Z' fill='url(#mg)'/><path d='M-1.6 -0.5L1.6 -0.5C2.2 1.5 2.7 3.1 3.5 4.5C5.3 6.1 6.1 8.3 6.1 11.5L6.1 23C6.1 26 4.9 27.9 2 28.2L-2 28.2C-4.9 27.9 -6.1 26 -6.1 23L-6.1 11.5C-6.1 8.3 -5.3 6.1 -3.5 4.5C-2.7 3.1 -2.2 1.5 -1.6 -0.5Z' fill='url(#mv)'/><ellipse cx='3.3' cy='23.0' rx='1.2' ry='2.4' fill='#8a8a8a' opacity='0.16'/><ellipse cx='2.2' cy='23.5' rx='1.8' ry='2.0' fill='#8a8a8a' opacity='0.16'/><ellipse cx='-2.0' cy='23.2' rx='1.5' ry='2.7' fill='#8a8a8a' opacity='0.16'/></g></g>
<g transform='translate(154.5,60.7) scale(1,1.013)'><line x1='0' y1='27.1' x2='0' y2='38.5' stroke='#a8a8a8' stroke-width='1.0'/><path d='M-4.6 27.2L-7.4 29.4M2.4 27.2L6.6 29.4' stroke='#909090' stroke-width='0.9' fill='none'/><g transform='translate(-0.8,0) scale(1,0.98)'><path d='M-1.6 -0.5L1.6 -0.5C2.2 1.5 2.7 3.1 3.5 4.5C5.3 6.1 6.1 8.3 6.1 11.5L6.1 23C6.1 26 4.9 27.9 2 28.2L-2 28.2C-4.9 27.9 -6.1 26 -6.1 23L-6.1 11.5C-6.1 8.3 -5.3 6.1 -3.5 4.5C-2.7 3.1 -2.2 1.5 -1.6 -0.5Z' fill='url(#mg)'/><path d='M-1.6 -0.5L1.6 -0.5C2.2 1.5 2.7 3.1 3.5 4.5C5.3 6.1 6.1 8.3 6.1 11.5L6.1 23C6.1 26 4.9 27.9 2 28.2L-2 28.2C-4.9 27.9 -6.1 26 -6.1 23L-6.1 11.5C-6.1 8.3 -5.3 6.1 -3.5 4.5C-2.7 3.1 -2.2 1.5 -1.6 -0.5Z' fill='url(#mv)'/><ellipse cx='-2.5' cy='16.9' rx='2.5' ry='1.8' fill='#8a8a8a' opacity='0.16'/><ellipse cx='2.2' cy='16.6' rx='2.4' ry='2.9' fill='#8a8a8a' opacity='0.16'/><ellipse cx='-1.9' cy='22.5' rx='1.9' ry='1.5' fill='#8a8a8a' opacity='0.16'/></g></g>
<g transform='translate(170.4,60.7) scale(1,1.013)'><line x1='0' y1='27.1' x2='0' y2='38.5' stroke='#a8a8a8' stroke-width='1.0'/><path d='M-4.6 27.2L-7.4 29.4M2.4 27.2L6.6 29.4' stroke='#909090' stroke-width='0.9' fill='none'/><g transform='translate(-0.8,0) scale(1,0.98)'><path d='M-1.6 -0.5L1.6 -0.5C2.2 1.5 2.7 3.1 3.5 4.5C5.3 6.1 6.1 8.3 6.1 11.5L6.1 23C6.1 26 4.9 27.9 2 28.2L-2 28.2C-4.9 27.9 -6.1 26 -6.1 23L-6.1 11.5C-6.1 8.3 -5.3 6.1 -3.5 4.5C-2.7 3.1 -2.2 1.5 -1.6 -0.5Z' fill='url(#mg)'/><path d='M-1.6 -0.5L1.6 -0.5C2.2 1.5 2.7 3.1 3.5 4.5C5.3 6.1 6.1 8.3 6.1 11.5L6.1 23C6.1 26 4.9 27.9 2 28.2L-2 28.2C-4.9 27.9 -6.1 26 -6.1 23L-6.1 11.5C-6.1 8.3 -5.3 6.1 -3.5 4.5C-2.7 3.1 -2.2 1.5 -1.6 -0.5Z' fill='url(#mv)'/><ellipse cx='-3.5' cy='16.4' rx='1.8' ry='2.1' fill='#8a8a8a' opacity='0.16'/><ellipse cx='-2.5' cy='14.2' rx='1.6' ry='3.2' fill='#8a8a8a' opacity='0.16'/><ellipse cx='-3.5' cy='20.3' rx='2.4' ry='1.7' fill='#8a8a8a' opacity='0.16'/></g></g>
<g transform='translate(184.7,60.7) scale(1,1.013)'><line x1='0' y1='27.1' x2='0' y2='38.5' stroke='#a8a8a8' stroke-width='1.0'/><path d='M-4.6 27.2L-7.4 29.4M2.4 27.2L6.6 29.4' stroke='#909090' stroke-width='0.9' fill='none'/><g transform='translate(-0.8,0) scale(1,0.98)'><path d='M-1.6 -0.5L1.6 -0.5C2.2 1.5 2.7 3.1 3.5 4.5C5.3 6.1 6.1 8.3 6.1 11.5L6.1 23C6.1 26 4.9 27.9 2 28.2L-2 28.2C-4.9 27.9 -6.1 26 -6.1 23L-6.1 11.5C-6.1 8.3 -5.3 6.1 -3.5 4.5C-2.7 3.1 -2.2 1.5 -1.6 -0.5Z' fill='url(#mg)'/><path d='M-1.6 -0.5L1.6 -0.5C2.2 1.5 2.7 3.1 3.5 4.5C5.3 6.1 6.1 8.3 6.1 11.5L6.1 23C6.1 26 4.9 27.9 2 28.2L-2 28.2C-4.9 27.9 -6.1 26 -6.1 23L-6.1 11.5C-6.1 8.3 -5.3 6.1 -3.5 4.5C-2.7 3.1 -2.2 1.5 -1.6 -0.5Z' fill='url(#mv)'/><ellipse cx='3.0' cy='19.7' rx='2.5' ry='2.1' fill='#8a8a8a' opacity='0.16'/><ellipse cx='-0.9' cy='14.9' rx='2.6' ry='2.7' fill='#8a8a8a' opacity='0.16'/><ellipse cx='-1.0' cy='15.4' rx='1.6' ry='1.6' fill='#8a8a8a' opacity='0.16'/></g></g>
<g transform='translate(199.8,60.7) scale(1,1.013)'><line x1='0' y1='27.1' x2='0' y2='38.5' stroke='#a8a8a8' stroke-width='1.0'/><path d='M-4.6 27.2L-7.4 29.4M2.4 27.2L6.6 29.4' stroke='#909090' stroke-width='0.9' fill='none'/><g transform='translate(-0.8,0) scale(1,0.98)'><path d='M-1.6 -0.5L1.6 -0.5C2.2 1.5 2.7 3.1 3.5 4.5C5.3 6.1 6.1 8.3 6.1 11.5L6.1 23C6.1 26 4.9 27.9 2 28.2L-2 28.2C-4.9 27.9 -6.1 26 -6.1 23L-6.1 11.5C-6.1 8.3 -5.3 6.1 -3.5 4.5C-2.7 3.1 -2.2 1.5 -1.6 -0.5Z' fill='url(#mg)'/><path d='M-1.6 -0.5L1.6 -0.5C2.2 1.5 2.7 3.1 3.5 4.5C5.3 6.1 6.1 8.3 6.1 11.5L6.1 23C6.1 26 4.9 27.9 2 28.2L-2 28.2C-4.9 27.9 -6.1 26 -6.1 23L-6.1 11.5C-6.1 8.3 -5.3 6.1 -3.5 4.5C-2.7 3.1 -2.2 1.5 -1.6 -0.5Z' fill='url(#mv)'/><ellipse cx='-2.8' cy='21.5' rx='1.6' ry='3.4' fill='#8a8a8a' opacity='0.16'/><ellipse cx='-1.8' cy='13.0' rx='1.9' ry='1.9' fill='#8a8a8a' opacity='0.16'/><ellipse cx='-0.9' cy='23.3' rx='2.4' ry='3.1' fill='#8a8a8a' opacity='0.16'/></g></g>
<ellipse cx='68.1' cy='81.8' rx='4.16' ry='4.56' fill='#5c10ff'/><ellipse cx='68.1' cy='81.8' rx='3.66' ry='4.01' fill='#0a10ff'/><ellipse cx='68.1' cy='81.8' rx='3.08' ry='3.37' fill='#00b8ff'/><ellipse cx='68.1' cy='81.8' rx='2.83' ry='3.10' fill='#10f060'/><ellipse cx='68.1' cy='81.8' rx='2.62' ry='2.87' fill='#e8f000'/><ellipse cx='68.1' cy='81.8' rx='2.50' ry='2.74' fill='#ff5000'/><ellipse cx='68.1' cy='81.8' rx='2.37' ry='2.60' fill='#f01000'/>
<ellipse cx='82.6' cy='81.3' rx='4.68' ry='5.13' fill='#5c10ff'/><ellipse cx='82.6' cy='81.3' rx='4.12' ry='4.51' fill='#0a10ff'/><ellipse cx='82.6' cy='81.3' rx='3.46' ry='3.80' fill='#00b8ff'/><ellipse cx='82.6' cy='81.3' rx='3.18' ry='3.49' fill='#10f060'/><ellipse cx='82.6' cy='81.3' rx='2.95' ry='3.23' fill='#e8f000'/><ellipse cx='82.6' cy='81.3' rx='2.81' ry='3.08' fill='#ff5000'/><ellipse cx='82.6' cy='81.3' rx='2.67' ry='2.92' fill='#f01000'/>
<ellipse cx='96.4' cy='80.2' rx='4.16' ry='4.56' fill='#5c10ff'/><ellipse cx='96.4' cy='80.2' rx='3.66' ry='4.01' fill='#0a10ff'/><ellipse cx='96.4' cy='80.2' rx='3.08' ry='3.37' fill='#00b8ff'/><ellipse cx='96.4' cy='80.2' rx='2.83' ry='3.10' fill='#10f060'/><ellipse cx='96.4' cy='80.2' rx='2.62' ry='2.87' fill='#e8f000'/><ellipse cx='96.4' cy='80.2' rx='2.50' ry='2.74' fill='#ff5000'/><ellipse cx='96.4' cy='80.2' rx='2.37' ry='2.60' fill='#f01000'/>
<ellipse cx='112.7' cy='81.8' rx='3.12' ry='3.42' fill='#5c10ff'/><ellipse cx='112.7' cy='81.8' rx='2.75' ry='3.01' fill='#0a10ff'/><ellipse cx='112.7' cy='81.8' rx='2.31' ry='2.53' fill='#00b8ff'/><ellipse cx='112.7' cy='81.8' rx='2.12' ry='2.33' fill='#10f060'/><ellipse cx='112.7' cy='81.8' rx='1.97' ry='2.15' fill='#e8f000'/><ellipse cx='112.7' cy='81.8' rx='1.87' ry='2.05' fill='#ff5000'/><ellipse cx='112.7' cy='81.8' rx='1.78' ry='1.95' fill='#f01000'/>
<ellipse cx='127.0' cy='81.8' rx='4.16' ry='4.56' fill='#5c10ff'/><ellipse cx='127.0' cy='81.8' rx='3.66' ry='4.01' fill='#0a10ff'/><ellipse cx='127.0' cy='81.8' rx='3.08' ry='3.37' fill='#00b8ff'/><ellipse cx='127.0' cy='81.8' rx='2.83' ry='3.10' fill='#10f060'/><ellipse cx='127.0' cy='81.8' rx='2.62' ry='2.87' fill='#e8f000'/><ellipse cx='127.0' cy='81.8' rx='2.50' ry='2.74' fill='#ff5000'/><ellipse cx='127.0' cy='81.8' rx='2.37' ry='2.60' fill='#f01000'/>
<ellipse cx='142.1' cy='79.5' rx='4.68' ry='5.13' fill='#5c10ff'/><ellipse cx='142.1' cy='79.5' rx='4.12' ry='4.51' fill='#0a10ff'/><ellipse cx='142.1' cy='79.5' rx='3.46' ry='3.80' fill='#00b8ff'/><ellipse cx='142.1' cy='79.5' rx='3.18' ry='3.49' fill='#10f060'/><ellipse cx='142.1' cy='79.5' rx='2.95' ry='3.23' fill='#e8f000'/><ellipse cx='142.1' cy='79.5' rx='2.81' ry='3.08' fill='#ff5000'/><ellipse cx='142.1' cy='79.5' rx='2.67' ry='2.92' fill='#f01000'/>
<ellipse cx='157.3' cy='77.7' rx='3.12' ry='3.42' fill='#5c10ff'/><ellipse cx='157.3' cy='77.7' rx='2.75' ry='3.01' fill='#0a10ff'/><ellipse cx='157.3' cy='77.7' rx='2.31' ry='2.53' fill='#00b8ff'/><ellipse cx='157.3' cy='77.7' rx='2.12' ry='2.33' fill='#10f060'/><ellipse cx='157.3' cy='77.7' rx='1.97' ry='2.15' fill='#e8f000'/><ellipse cx='157.3' cy='77.7' rx='1.87' ry='2.05' fill='#ff5000'/><ellipse cx='157.3' cy='77.7' rx='1.78' ry='1.95' fill='#f01000'/>
<ellipse cx='172.7' cy='81.3' rx='4.68' ry='5.13' fill='#5c10ff'/><ellipse cx='172.7' cy='81.3' rx='4.12' ry='4.51' fill='#0a10ff'/><ellipse cx='172.7' cy='81.3' rx='3.46' ry='3.80' fill='#00b8ff'/><ellipse cx='172.7' cy='81.3' rx='3.18' ry='3.49' fill='#10f060'/><ellipse cx='172.7' cy='81.3' rx='2.95' ry='3.23' fill='#e8f000'/><ellipse cx='172.7' cy='81.3' rx='2.81' ry='3.08' fill='#ff5000'/><ellipse cx='172.7' cy='81.3' rx='2.67' ry='2.92' fill='#f01000'/>
<ellipse cx='184.4' cy='80.0' rx='5.72' ry='6.27' fill='#5c10ff'/><ellipse cx='184.4' cy='80.0' rx='5.03' ry='5.52' fill='#0a10ff'/><ellipse cx='184.4' cy='80.0' rx='4.23' ry='4.64' fill='#00b8ff'/><ellipse cx='184.4' cy='80.0' rx='3.89' ry='4.26' fill='#10f060'/><ellipse cx='184.4' cy='80.0' rx='3.60' ry='3.95' fill='#e8f000'/><ellipse cx='184.4' cy='80.0' rx='3.43' ry='3.76' fill='#ff5000'/><ellipse cx='184.4' cy='80.0' rx='3.26' ry='3.57' fill='#f01000'/>
<ellipse cx='201.6' cy='79.5' rx='3.64' ry='3.99' fill='#5c10ff'/><ellipse cx='201.6' cy='79.5' rx='3.20' ry='3.51' fill='#0a10ff'/><ellipse cx='201.6' cy='79.5' rx='2.69' ry='2.95' fill='#00b8ff'/><ellipse cx='201.6' cy='79.5' rx='2.48' ry='2.71' fill='#10f060'/><ellipse cx='201.6' cy='79.5' rx='2.29' ry='2.51' fill='#e8f000'/><ellipse cx='201.6' cy='79.5' rx='2.18' ry='2.39' fill='#ff5000'/><ellipse cx='201.6' cy='79.5' rx='2.07' ry='2.27' fill='#f01000'/>
</g></svg>
<rect x='210.7' y='60.7' width='141.80' height='38.20' fill='#303030'/>
<svg x='210.7' y='60.7' width='141.80' height='38.20' overflow='hidden'><g transform='translate(-210.7,-60.7)' filter='url(#sb)'>
<g transform='translate(220.4,60.7) scale(1,1.005)'><line x1='0' y1='25.2' x2='0' y2='38.5' stroke='#a8a8a8' stroke-width='1.0'/><path d='M-4.6 25.3L-7.4 27.5M2.4 25.3L6.6 27.5' stroke='#909090' stroke-width='0.9' fill='none'/><g transform='translate(-0.8,0) scale(1,0.91)'><path d='M-1.6 -0.5L1.6 -0.5C2.2 1.5 2.7 3.1 3.5 4.5C5.3 6.1 6.1 8.3 6.1 11.5L6.1 23C6.1 26 4.9 27.9 2 28.2L-2 28.2C-4.9 27.9 -6.1 26 -6.1 23L-6.1 11.5C-6.1 8.3 -5.3 6.1 -3.5 4.5C-2.7 3.1 -2.2 1.5 -1.6 -0.5Z' fill='url(#mg)'/><path d='M-1.6 -0.5L1.6 -0.5C2.2 1.5 2.7 3.1 3.5 4.5C5.3 6.1 6.1 8.3 6.1 11.5L6.1 23C6.1 26 4.9 27.9 2 28.2L-2 28.2C-4.9 27.9 -6.1 26 -6.1 23L-6.1 11.5C-6.1 8.3 -5.3 6.1 -3.5 4.5C-2.7 3.1 -2.2 1.5 -1.6 -0.5Z' fill='url(#mv)'/><ellipse cx='0.9' cy='22.7' rx='2.5' ry='2.6' fill='#8a8a8a' opacity='0.16'/><ellipse cx='1.5' cy='9.7' rx='2.2' ry='2.4' fill='#8a8a8a' opacity='0.16'/><ellipse cx='1.8' cy='18.7' rx='1.6' ry='1.6' fill='#8a8a8a' opacity='0.16'/></g></g>
<g transform='translate(234.6,60.7) scale(1,1.005)'><line x1='0' y1='25.2' x2='0' y2='38.5' stroke='#a8a8a8' stroke-width='1.0'/><path d='M-4.6 25.3L-7.4 27.5M2.4 25.3L6.6 27.5' stroke='#909090' stroke-width='0.9' fill='none'/><g transform='translate(-0.8,0) scale(1,0.91)'><path d='M-1.6 -0.5L1.6 -0.5C2.2 1.5 2.7 3.1 3.5 4.5C5.3 6.1 6.1 8.3 6.1 11.5L6.1 23C6.1 26 4.9 27.9 2 28.2L-2 28.2C-4.9 27.9 -6.1 26 -6.1 23L-6.1 11.5C-6.1 8.3 -5.3 6.1 -3.5 4.5C-2.7 3.1 -2.2 1.5 -1.6 -0.5Z' fill='url(#mg)'/><path d='M-1.6 -0.5L1.6 -0.5C2.2 1.5 2.7 3.1 3.5 4.5C5.3 6.1 6.1 8.3 6.1 11.5L6.1 23C6.1 26 4.9 27.9 2 28.2L-2 28.2C-4.9 27.9 -6.1 26 -6.1 23L-6.1 11.5C-6.1 8.3 -5.3 6.1 -3.5 4.5C-2.7 3.1 -2.2 1.5 -1.6 -0.5Z' fill='url(#mv)'/><ellipse cx='3.0' cy='10.9' rx='1.9' ry='2.2' fill='#8a8a8a' opacity='0.16'/><ellipse cx='-1.4' cy='20.1' rx='2.6' ry='2.0' fill='#8a8a8a' opacity='0.16'/><ellipse cx='1.1' cy='13.5' rx='2.0' ry='2.3' fill='#8a8a8a' opacity='0.16'/></g></g>
<g transform='translate(250,60.7) scale(1,1.005)'><line x1='0' y1='25.2' x2='0' y2='38.5' stroke='#a8a8a8' stroke-width='1.0'/><path d='M-4.6 25.3L-7.4 27.5M2.4 25.3L6.6 27.5' stroke='#909090' stroke-width='0.9' fill='none'/><g transform='translate(-0.8,0) scale(1,0.91)'><path d='M-1.6 -0.5L1.6 -0.5C2.2 1.5 2.7 3.1 3.5 4.5C5.3 6.1 6.1 8.3 6.1 11.5L6.1 23C6.1 26 4.9 27.9 2 28.2L-2 28.2C-4.9 27.9 -6.1 26 -6.1 23L-6.1 11.5C-6.1 8.3 -5.3 6.1 -3.5 4.5C-2.7 3.1 -2.2 1.5 -1.6 -0.5Z' fill='url(#mg)'/><path d='M-1.6 -0.5L1.6 -0.5C2.2 1.5 2.7 3.1 3.5 4.5C5.3 6.1 6.1 8.3 6.1 11.5L6.1 23C6.1 26 4.9 27.9 2 28.2L-2 28.2C-4.9 27.9 -6.1 26 -6.1 23L-6.1 11.5C-6.1 8.3 -5.3 6.1 -3.5 4.5C-2.7 3.1 -2.2 1.5 -1.6 -0.5Z' fill='url(#mv)'/><ellipse cx='-2.3' cy='11.4' rx='1.5' ry='3.3' fill='#8a8a8a' opacity='0.16'/><ellipse cx='-0.0' cy='12.3' rx='2.5' ry='3.5' fill='#8a8a8a' opacity='0.16'/><ellipse cx='-0.4' cy='11.1' rx='1.5' ry='1.7' fill='#8a8a8a' opacity='0.16'/></g></g>
<g transform='translate(265.8,60.7) scale(1,1.005)'><line x1='0' y1='25.2' x2='0' y2='38.5' stroke='#a8a8a8' stroke-width='1.0'/><path d='M-4.6 25.3L-7.4 27.5M2.4 25.3L6.6 27.5' stroke='#909090' stroke-width='0.9' fill='none'/><g transform='translate(-0.8,0) scale(1,0.91)'><path d='M-1.6 -0.5L1.6 -0.5C2.2 1.5 2.7 3.1 3.5 4.5C5.3 6.1 6.1 8.3 6.1 11.5L6.1 23C6.1 26 4.9 27.9 2 28.2L-2 28.2C-4.9 27.9 -6.1 26 -6.1 23L-6.1 11.5C-6.1 8.3 -5.3 6.1 -3.5 4.5C-2.7 3.1 -2.2 1.5 -1.6 -0.5Z' fill='url(#mg)'/><path d='M-1.6 -0.5L1.6 -0.5C2.2 1.5 2.7 3.1 3.5 4.5C5.3 6.1 6.1 8.3 6.1 11.5L6.1 23C6.1 26 4.9 27.9 2 28.2L-2 28.2C-4.9 27.9 -6.1 26 -6.1 23L-6.1 11.5C-6.1 8.3 -5.3 6.1 -3.5 4.5C-2.7 3.1 -2.2 1.5 -1.6 -0.5Z' fill='url(#mv)'/><ellipse cx='-1.1' cy='10.4' rx='1.5' ry='2.0' fill='#8a8a8a' opacity='0.16'/><ellipse cx='0.5' cy='22.3' rx='2.2' ry='2.3' fill='#8a8a8a' opacity='0.16'/><ellipse cx='-0.6' cy='16.9' rx='1.7' ry='2.2' fill='#8a8a8a' opacity='0.16'/></g></g>
<g transform='translate(281.7,60.7) scale(1,1.005)'><line x1='0' y1='25.2' x2='0' y2='38.5' stroke='#a8a8a8' stroke-width='1.0'/><path d='M-4.6 25.3L-7.4 27.5M2.4 25.3L6.6 27.5' stroke='#909090' stroke-width='0.9' fill='none'/><g transform='translate(-0.8,0) scale(1,0.91)'><path d='M-1.6 -0.5L1.6 -0.5C2.2 1.5 2.7 3.1 3.5 4.5C5.3 6.1 6.1 8.3 6.1 11.5L6.1 23C6.1 26 4.9 27.9 2 28.2L-2 28.2C-4.9 27.9 -6.1 26 -6.1 23L-6.1 11.5C-6.1 8.3 -5.3 6.1 -3.5 4.5C-2.7 3.1 -2.2 1.5 -1.6 -0.5Z' fill='url(#mg)'/><path d='M-1.6 -0.5L1.6 -0.5C2.2 1.5 2.7 3.1 3.5 4.5C5.3 6.1 6.1 8.3 6.1 11.5L6.1 23C6.1 26 4.9 27.9 2 28.2L-2 28.2C-4.9 27.9 -6.1 26 -6.1 23L-6.1 11.5C-6.1 8.3 -5.3 6.1 -3.5 4.5C-2.7 3.1 -2.2 1.5 -1.6 -0.5Z' fill='url(#mv)'/><ellipse cx='-3.1' cy='13.2' rx='2.6' ry='1.8' fill='#8a8a8a' opacity='0.16'/><ellipse cx='0.0' cy='18.4' rx='2.4' ry='1.9' fill='#8a8a8a' opacity='0.16'/><ellipse cx='-1.6' cy='12.7' rx='1.8' ry='2.4' fill='#8a8a8a' opacity='0.16'/></g></g>
<g transform='translate(296.4,60.7) scale(1,1.005)'><line x1='0' y1='25.2' x2='0' y2='38.5' stroke='#a8a8a8' stroke-width='1.0'/><path d='M-4.6 25.3L-7.4 27.5M2.4 25.3L6.6 27.5' stroke='#909090' stroke-width='0.9' fill='none'/><g transform='translate(-0.8,0) scale(1,0.91)'><path d='M-1.6 -0.5L1.6 -0.5C2.2 1.5 2.7 3.1 3.5 4.5C5.3 6.1 6.1 8.3 6.1 11.5L6.1 23C6.1 26 4.9 27.9 2 28.2L-2 28.2C-4.9 27.9 -6.1 26 -6.1 23L-6.1 11.5C-6.1 8.3 -5.3 6.1 -3.5 4.5C-2.7 3.1 -2.2 1.5 -1.6 -0.5Z' fill='url(#mg)'/><path d='M-1.6 -0.5L1.6 -0.5C2.2 1.5 2.7 3.1 3.5 4.5C5.3 6.1 6.1 8.3 6.1 11.5L6.1 23C6.1 26 4.9 27.9 2 28.2L-2 28.2C-4.9 27.9 -6.1 26 -6.1 23L-6.1 11.5C-6.1 8.3 -5.3 6.1 -3.5 4.5C-2.7 3.1 -2.2 1.5 -1.6 -0.5Z' fill='url(#mv)'/><ellipse cx='3.2' cy='21.7' rx='2.4' ry='1.5' fill='#8a8a8a' opacity='0.16'/><ellipse cx='-3.3' cy='19.6' rx='2.5' ry='2.4' fill='#8a8a8a' opacity='0.16'/><ellipse cx='0.6' cy='9.0' rx='1.7' ry='3.4' fill='#8a8a8a' opacity='0.16'/></g></g>
<g transform='translate(312.3,60.7) scale(1,1.005)'><line x1='0' y1='25.2' x2='0' y2='38.5' stroke='#a8a8a8' stroke-width='1.0'/><path d='M-4.6 25.3L-7.4 27.5M2.4 25.3L6.6 27.5' stroke='#909090' stroke-width='0.9' fill='none'/><g transform='translate(-0.8,0) scale(1,0.91)'><path d='M-1.6 -0.5L1.6 -0.5C2.2 1.5 2.7 3.1 3.5 4.5C5.3 6.1 6.1 8.3 6.1 11.5L6.1 23C6.1 26 4.9 27.9 2 28.2L-2 28.2C-4.9 27.9 -6.1 26 -6.1 23L-6.1 11.5C-6.1 8.3 -5.3 6.1 -3.5 4.5C-2.7 3.1 -2.2 1.5 -1.6 -0.5Z' fill='url(#mg)'/><path d='M-1.6 -0.5L1.6 -0.5C2.2 1.5 2.7 3.1 3.5 4.5C5.3 6.1 6.1 8.3 6.1 11.5L6.1 23C6.1 26 4.9 27.9 2 28.2L-2 28.2C-4.9 27.9 -6.1 26 -6.1 23L-6.1 11.5C-6.1 8.3 -5.3 6.1 -3.5 4.5C-2.7 3.1 -2.2 1.5 -1.6 -0.5Z' fill='url(#mv)'/><ellipse cx='2.3' cy='21.8' rx='2.6' ry='2.0' fill='#8a8a8a' opacity='0.16'/><ellipse cx='-2.7' cy='11.3' rx='1.9' ry='2.9' fill='#8a8a8a' opacity='0.16'/><ellipse cx='3.1' cy='19.8' rx='2.1' ry='3.0' fill='#8a8a8a' opacity='0.16'/></g></g>
<g transform='translate(330.4,60.7) scale(1,1.005)'><line x1='0' y1='25.2' x2='0' y2='38.5' stroke='#a8a8a8' stroke-width='1.0'/><path d='M-4.6 25.3L-7.4 27.5M2.4 25.3L6.6 27.5' stroke='#909090' stroke-width='0.9' fill='none'/><g transform='translate(-0.8,0) scale(1,0.91)'><path d='M-1.6 -0.5L1.6 -0.5C2.2 1.5 2.7 3.1 3.5 4.5C5.3 6.1 6.1 8.3 6.1 11.5L6.1 23C6.1 26 4.9 27.9 2 28.2L-2 28.2C-4.9 27.9 -6.1 26 -6.1 23L-6.1 11.5C-6.1 8.3 -5.3 6.1 -3.5 4.5C-2.7 3.1 -2.2 1.5 -1.6 -0.5Z' fill='url(#mg)'/><path d='M-1.6 -0.5L1.6 -0.5C2.2 1.5 2.7 3.1 3.5 4.5C5.3 6.1 6.1 8.3 6.1 11.5L6.1 23C6.1 26 4.9 27.9 2 28.2L-2 28.2C-4.9 27.9 -6.1 26 -6.1 23L-6.1 11.5C-6.1 8.3 -5.3 6.1 -3.5 4.5C-2.7 3.1 -2.2 1.5 -1.6 -0.5Z' fill='url(#mv)'/><ellipse cx='-0.3' cy='17.3' rx='1.3' ry='3.1' fill='#8a8a8a' opacity='0.16'/><ellipse cx='-1.9' cy='22.8' rx='2.1' ry='2.1' fill='#8a8a8a' opacity='0.16'/><ellipse cx='-2.6' cy='12.8' rx='2.1' ry='2.9' fill='#8a8a8a' opacity='0.16'/></g></g>
<g transform='translate(346.2,60.7) scale(1,1.005)'><line x1='0' y1='25.2' x2='0' y2='38.5' stroke='#a8a8a8' stroke-width='1.0'/><path d='M-4.6 25.3L-7.4 27.5M2.4 25.3L6.6 27.5' stroke='#909090' stroke-width='0.9' fill='none'/><g transform='translate(-0.8,0) scale(1,0.91)'><path d='M-1.6 -0.5L1.6 -0.5C2.2 1.5 2.7 3.1 3.5 4.5C5.3 6.1 6.1 8.3 6.1 11.5L6.1 23C6.1 26 4.9 27.9 2 28.2L-2 28.2C-4.9 27.9 -6.1 26 -6.1 23L-6.1 11.5C-6.1 8.3 -5.3 6.1 -3.5 4.5C-2.7 3.1 -2.2 1.5 -1.6 -0.5Z' fill='url(#mg)'/><path d='M-1.6 -0.5L1.6 -0.5C2.2 1.5 2.7 3.1 3.5 4.5C5.3 6.1 6.1 8.3 6.1 11.5L6.1 23C6.1 26 4.9 27.9 2 28.2L-2 28.2C-4.9 27.9 -6.1 26 -6.1 23L-6.1 11.5C-6.1 8.3 -5.3 6.1 -3.5 4.5C-2.7 3.1 -2.2 1.5 -1.6 -0.5Z' fill='url(#mv)'/><ellipse cx='-2.7' cy='10.1' rx='1.9' ry='2.7' fill='#8a8a8a' opacity='0.16'/><ellipse cx='-0.8' cy='12.4' rx='2.0' ry='1.5' fill='#8a8a8a' opacity='0.16'/><ellipse cx='-1.4' cy='15.9' rx='2.5' ry='2.8' fill='#8a8a8a' opacity='0.16'/></g></g>
<ellipse cx='222.7' cy='80.2' rx='4.68' ry='5.13' fill='#5c10ff'/><ellipse cx='222.7' cy='80.2' rx='4.12' ry='4.51' fill='#0a10ff'/><ellipse cx='222.7' cy='80.2' rx='3.46' ry='3.80' fill='#00b8ff'/><ellipse cx='222.7' cy='80.2' rx='3.18' ry='3.49' fill='#10f060'/><ellipse cx='222.7' cy='80.2' rx='2.95' ry='3.23' fill='#e8f000'/><ellipse cx='222.7' cy='80.2' rx='2.81' ry='3.08' fill='#ff5000'/><ellipse cx='222.7' cy='80.2' rx='2.67' ry='2.92' fill='#f01000'/>
<ellipse cx='236.7' cy='79.5' rx='5.20' ry='5.70' fill='#5c10ff'/><ellipse cx='236.7' cy='79.5' rx='4.58' ry='5.02' fill='#0a10ff'/><ellipse cx='236.7' cy='79.5' rx='3.85' ry='4.22' fill='#00b8ff'/><ellipse cx='236.7' cy='79.5' rx='3.54' ry='3.88' fill='#10f060'/><ellipse cx='236.7' cy='79.5' rx='3.28' ry='3.59' fill='#e8f000'/><ellipse cx='236.7' cy='79.5' rx='3.12' ry='3.42' fill='#ff5000'/><ellipse cx='236.7' cy='79.5' rx='2.96' ry='3.25' fill='#f01000'/>
<ellipse cx='250.3' cy='77.9' rx='4.68' ry='5.13' fill='#5c10ff'/><ellipse cx='250.3' cy='77.9' rx='4.12' ry='4.51' fill='#0a10ff'/><ellipse cx='250.3' cy='77.9' rx='3.46' ry='3.80' fill='#00b8ff'/><ellipse cx='250.3' cy='77.9' rx='3.18' ry='3.49' fill='#10f060'/><ellipse cx='250.3' cy='77.9' rx='2.95' ry='3.23' fill='#e8f000'/><ellipse cx='250.3' cy='77.9' rx='2.81' ry='3.08' fill='#ff5000'/><ellipse cx='250.3' cy='77.9' rx='2.67' ry='2.92' fill='#f01000'/>
<ellipse cx='265.6' cy='78.4' rx='4.16' ry='4.56' fill='#5c10ff'/><ellipse cx='265.6' cy='78.4' rx='3.66' ry='4.01' fill='#0a10ff'/><ellipse cx='265.6' cy='78.4' rx='3.08' ry='3.37' fill='#00b8ff'/><ellipse cx='265.6' cy='78.4' rx='2.83' ry='3.10' fill='#10f060'/><ellipse cx='265.6' cy='78.4' rx='2.62' ry='2.87' fill='#e8f000'/><ellipse cx='265.6' cy='78.4' rx='2.50' ry='2.74' fill='#ff5000'/><ellipse cx='265.6' cy='78.4' rx='2.37' ry='2.60' fill='#f01000'/>
<ellipse cx='284.7' cy='80.6' rx='4.16' ry='4.56' fill='#5c10ff'/><ellipse cx='284.7' cy='80.6' rx='3.66' ry='4.01' fill='#0a10ff'/><ellipse cx='284.7' cy='80.6' rx='3.08' ry='3.37' fill='#00b8ff'/><ellipse cx='284.7' cy='80.6' rx='2.83' ry='3.10' fill='#10f060'/><ellipse cx='284.7' cy='80.6' rx='2.62' ry='2.87' fill='#e8f000'/><ellipse cx='284.7' cy='80.6' rx='2.50' ry='2.74' fill='#ff5000'/><ellipse cx='284.7' cy='80.6' rx='2.37' ry='2.60' fill='#f01000'/>
<ellipse cx='300.0' cy='79.5' rx='4.68' ry='5.13' fill='#5c10ff'/><ellipse cx='300.0' cy='79.5' rx='4.12' ry='4.51' fill='#0a10ff'/><ellipse cx='300.0' cy='79.5' rx='3.46' ry='3.80' fill='#00b8ff'/><ellipse cx='300.0' cy='79.5' rx='3.18' ry='3.49' fill='#10f060'/><ellipse cx='300.0' cy='79.5' rx='2.95' ry='3.23' fill='#e8f000'/><ellipse cx='300.0' cy='79.5' rx='2.81' ry='3.08' fill='#ff5000'/><ellipse cx='300.0' cy='79.5' rx='2.67' ry='2.92' fill='#f01000'/>
<ellipse cx='315.4' cy='77.9' rx='2.60' ry='2.85' fill='#5c10ff'/><ellipse cx='315.4' cy='77.9' rx='2.29' ry='2.51' fill='#0a10ff'/><ellipse cx='315.4' cy='77.9' rx='1.92' ry='2.11' fill='#00b8ff'/><ellipse cx='315.4' cy='77.9' rx='1.77' ry='1.94' fill='#10f060'/><ellipse cx='315.4' cy='77.9' rx='1.64' ry='1.80' fill='#e8f000'/><ellipse cx='315.4' cy='77.9' rx='1.56' ry='1.71' fill='#ff5000'/><ellipse cx='315.4' cy='77.9' rx='1.48' ry='1.62' fill='#f01000'/>
<ellipse cx='334.0' cy='80.2' rx='3.12' ry='3.42' fill='#5c10ff'/><ellipse cx='334.0' cy='80.2' rx='2.75' ry='3.01' fill='#0a10ff'/><ellipse cx='334.0' cy='80.2' rx='2.31' ry='2.53' fill='#00b8ff'/><ellipse cx='334.0' cy='80.2' rx='2.12' ry='2.33' fill='#10f060'/><ellipse cx='334.0' cy='80.2' rx='1.97' ry='2.15' fill='#e8f000'/><ellipse cx='334.0' cy='80.2' rx='1.87' ry='2.05' fill='#ff5000'/><ellipse cx='334.0' cy='80.2' rx='1.78' ry='1.95' fill='#f01000'/>
<ellipse cx='347.1' cy='81.1' rx='2.60' ry='2.85' fill='#5c10ff'/><ellipse cx='347.1' cy='81.1' rx='2.29' ry='2.51' fill='#0a10ff'/><ellipse cx='347.1' cy='81.1' rx='1.92' ry='2.11' fill='#00b8ff'/><ellipse cx='347.1' cy='81.1' rx='1.77' ry='1.94' fill='#10f060'/><ellipse cx='347.1' cy='81.1' rx='1.64' ry='1.80' fill='#e8f000'/><ellipse cx='347.1' cy='81.1' rx='1.56' ry='1.71' fill='#ff5000'/><ellipse cx='347.1' cy='81.1' rx='1.48' ry='1.62' fill='#f01000'/>
</g></svg>
<rect x='357' y='61.5' width='150.30' height='38.50' fill='#303030'/>
<svg x='357' y='61.5' width='150.30' height='38.50' overflow='hidden'><g transform='translate(-357,-61.5)' filter='url(#sb)'>
<g transform='translate(365.9,61.5) scale(1,1.013)'><line x1='0' y1='24.9' x2='0' y2='38.5' stroke='#a8a8a8' stroke-width='1.0'/><path d='M-4.6 25.0L-7.4 27.2M2.4 25.0L6.6 27.2' stroke='#909090' stroke-width='0.9' fill='none'/><g transform='translate(-0.8,0) scale(1,0.9)'><path d='M-1.6 -0.5L1.6 -0.5C2.2 1.5 2.7 3.1 3.5 4.5C5.3 6.1 6.1 8.3 6.1 11.5L6.1 23C6.1 26 4.9 27.9 2 28.2L-2 28.2C-4.9 27.9 -6.1 26 -6.1 23L-6.1 11.5C-6.1 8.3 -5.3 6.1 -3.5 4.5C-2.7 3.1 -2.2 1.5 -1.6 -0.5Z' fill='url(#mg)'/><path d='M-1.6 -0.5L1.6 -0.5C2.2 1.5 2.7 3.1 3.5 4.5C5.3 6.1 6.1 8.3 6.1 11.5L6.1 23C6.1 26 4.9 27.9 2 28.2L-2 28.2C-4.9 27.9 -6.1 26 -6.1 23L-6.1 11.5C-6.1 8.3 -5.3 6.1 -3.5 4.5C-2.7 3.1 -2.2 1.5 -1.6 -0.5Z' fill='url(#mv)'/><ellipse cx='2.7' cy='16.1' rx='1.5' ry='2.0' fill='#8a8a8a' opacity='0.16'/><ellipse cx='3.2' cy='19.6' rx='1.6' ry='1.5' fill='#8a8a8a' opacity='0.16'/><ellipse cx='-0.0' cy='19.1' rx='1.8' ry='2.0' fill='#8a8a8a' opacity='0.16'/></g></g>
<g transform='translate(380.2,61.5) scale(1,1.013)'><line x1='0' y1='24.9' x2='0' y2='38.5' stroke='#a8a8a8' stroke-width='1.0'/><path d='M-4.6 25.0L-7.4 27.2M2.4 25.0L6.6 27.2' stroke='#909090' stroke-width='0.9' fill='none'/><g transform='translate(-0.8,0) scale(1,0.9)'><path d='M-1.6 -0.5L1.6 -0.5C2.2 1.5 2.7 3.1 3.5 4.5C5.3 6.1 6.1 8.3 6.1 11.5L6.1 23C6.1 26 4.9 27.9 2 28.2L-2 28.2C-4.9 27.9 -6.1 26 -6.1 23L-6.1 11.5C-6.1 8.3 -5.3 6.1 -3.5 4.5C-2.7 3.1 -2.2 1.5 -1.6 -0.5Z' fill='url(#mg)'/><path d='M-1.6 -0.5L1.6 -0.5C2.2 1.5 2.7 3.1 3.5 4.5C5.3 6.1 6.1 8.3 6.1 11.5L6.1 23C6.1 26 4.9 27.9 2 28.2L-2 28.2C-4.9 27.9 -6.1 26 -6.1 23L-6.1 11.5C-6.1 8.3 -5.3 6.1 -3.5 4.5C-2.7 3.1 -2.2 1.5 -1.6 -0.5Z' fill='url(#mv)'/><ellipse cx='1.2' cy='22.9' rx='1.5' ry='1.6' fill='#8a8a8a' opacity='0.16'/><ellipse cx='-1.1' cy='15.3' rx='2.2' ry='1.9' fill='#8a8a8a' opacity='0.16'/><ellipse cx='2.1' cy='20.1' rx='1.9' ry='1.9' fill='#8a8a8a' opacity='0.16'/></g></g>
<g transform='translate(396.1,61.5) scale(1,1.013)'><line x1='0' y1='24.9' x2='0' y2='38.5' stroke='#a8a8a8' stroke-width='1.0'/><path d='M-4.6 25.0L-7.4 27.2M2.4 25.0L6.6 27.2' stroke='#909090' stroke-width='0.9' fill='none'/><g transform='translate(-0.8,0) scale(1,0.9)'><path d='M-1.6 -0.5L1.6 -0.5C2.2 1.5 2.7 3.1 3.5 4.5C5.3 6.1 6.1 8.3 6.1 11.5L6.1 23C6.1 26 4.9 27.9 2 28.2L-2 28.2C-4.9 27.9 -6.1 26 -6.1 23L-6.1 11.5C-6.1 8.3 -5.3 6.1 -3.5 4.5C-2.7 3.1 -2.2 1.5 -1.6 -0.5Z' fill='url(#mg)'/><path d='M-1.6 -0.5L1.6 -0.5C2.2 1.5 2.7 3.1 3.5 4.5C5.3 6.1 6.1 8.3 6.1 11.5L6.1 23C6.1 26 4.9 27.9 2 28.2L-2 28.2C-4.9 27.9 -6.1 26 -6.1 23L-6.1 11.5C-6.1 8.3 -5.3 6.1 -3.5 4.5C-2.7 3.1 -2.2 1.5 -1.6 -0.5Z' fill='url(#mv)'/><ellipse cx='3.3' cy='13.7' rx='2.3' ry='2.0' fill='#8a8a8a' opacity='0.16'/><ellipse cx='-1.9' cy='20.4' rx='1.6' ry='3.4' fill='#8a8a8a' opacity='0.16'/><ellipse cx='-0.0' cy='11.8' rx='1.5' ry='2.3' fill='#8a8a8a' opacity='0.16'/></g></g>
<g transform='translate(411.4,61.5) scale(1,1.013)'><line x1='0' y1='24.9' x2='0' y2='38.5' stroke='#a8a8a8' stroke-width='1.0'/><path d='M-4.6 25.0L-7.4 27.2M2.4 25.0L6.6 27.2' stroke='#909090' stroke-width='0.9' fill='none'/><g transform='translate(-0.8,0) scale(1,0.9)'><path d='M-1.6 -0.5L1.6 -0.5C2.2 1.5 2.7 3.1 3.5 4.5C5.3 6.1 6.1 8.3 6.1 11.5L6.1 23C6.1 26 4.9 27.9 2 28.2L-2 28.2C-4.9 27.9 -6.1 26 -6.1 23L-6.1 11.5C-6.1 8.3 -5.3 6.1 -3.5 4.5C-2.7 3.1 -2.2 1.5 -1.6 -0.5Z' fill='url(#mg)'/><path d='M-1.6 -0.5L1.6 -0.5C2.2 1.5 2.7 3.1 3.5 4.5C5.3 6.1 6.1 8.3 6.1 11.5L6.1 23C6.1 26 4.9 27.9 2 28.2L-2 28.2C-4.9 27.9 -6.1 26 -6.1 23L-6.1 11.5C-6.1 8.3 -5.3 6.1 -3.5 4.5C-2.7 3.1 -2.2 1.5 -1.6 -0.5Z' fill='url(#mv)'/><ellipse cx='1.2' cy='23.2' rx='1.4' ry='2.3' fill='#8a8a8a' opacity='0.16'/><ellipse cx='-2.0' cy='23.6' rx='1.4' ry='1.6' fill='#8a8a8a' opacity='0.16'/><ellipse cx='-3.1' cy='14.9' rx='2.5' ry='3.3' fill='#8a8a8a' opacity='0.16'/></g></g>
<g transform='translate(425.1,61.5) scale(1,1.013)'><line x1='0' y1='24.9' x2='0' y2='38.5' stroke='#a8a8a8' stroke-width='1.0'/><path d='M-4.6 25.0L-7.4 27.2M2.4 25.0L6.6 27.2' stroke='#909090' stroke-width='0.9' fill='none'/><g transform='translate(-0.8,0) scale(1,0.9)'><path d='M-1.6 -0.5L1.6 -0.5C2.2 1.5 2.7 3.1 3.5 4.5C5.3 6.1 6.1 8.3 6.1 11.5L6.1 23C6.1 26 4.9 27.9 2 28.2L-2 28.2C-4.9 27.9 -6.1 26 -6.1 23L-6.1 11.5C-6.1 8.3 -5.3 6.1 -3.5 4.5C-2.7 3.1 -2.2 1.5 -1.6 -0.5Z' fill='url(#mg)'/><path d='M-1.6 -0.5L1.6 -0.5C2.2 1.5 2.7 3.1 3.5 4.5C5.3 6.1 6.1 8.3 6.1 11.5L6.1 23C6.1 26 4.9 27.9 2 28.2L-2 28.2C-4.9 27.9 -6.1 26 -6.1 23L-6.1 11.5C-6.1 8.3 -5.3 6.1 -3.5 4.5C-2.7 3.1 -2.2 1.5 -1.6 -0.5Z' fill='url(#mv)'/><ellipse cx='1.6' cy='24.0' rx='2.5' ry='2.2' fill='#8a8a8a' opacity='0.16'/><ellipse cx='-2.2' cy='23.0' rx='2.2' ry='1.6' fill='#8a8a8a' opacity='0.16'/><ellipse cx='1.2' cy='14.7' rx='1.7' ry='2.2' fill='#8a8a8a' opacity='0.16'/></g></g>
<g transform='translate(439.7,61.5) scale(1,1.013)'><line x1='0' y1='24.9' x2='0' y2='38.5' stroke='#a8a8a8' stroke-width='1.0'/><path d='M-4.6 25.0L-7.4 27.2M2.4 25.0L6.6 27.2' stroke='#909090' stroke-width='0.9' fill='none'/><g transform='translate(-0.8,0) scale(1,0.9)'><path d='M-1.6 -0.5L1.6 -0.5C2.2 1.5 2.7 3.1 3.5 4.5C5.3 6.1 6.1 8.3 6.1 11.5L6.1 23C6.1 26 4.9 27.9 2 28.2L-2 28.2C-4.9 27.9 -6.1 26 -6.1 23L-6.1 11.5C-6.1 8.3 -5.3 6.1 -3.5 4.5C-2.7 3.1 -2.2 1.5 -1.6 -0.5Z' fill='url(#mg)'/><path d='M-1.6 -0.5L1.6 -0.5C2.2 1.5 2.7 3.1 3.5 4.5C5.3 6.1 6.1 8.3 6.1 11.5L6.1 23C6.1 26 4.9 27.9 2 28.2L-2 28.2C-4.9 27.9 -6.1 26 -6.1 23L-6.1 11.5C-6.1 8.3 -5.3 6.1 -3.5 4.5C-2.7 3.1 -2.2 1.5 -1.6 -0.5Z' fill='url(#mv)'/><ellipse cx='-2.3' cy='9.0' rx='1.6' ry='2.2' fill='#8a8a8a' opacity='0.16'/><ellipse cx='3.2' cy='10.9' rx='2.5' ry='1.9' fill='#8a8a8a' opacity='0.16'/><ellipse cx='-1.0' cy='21.3' rx='2.4' ry='2.4' fill='#8a8a8a' opacity='0.16'/></g></g>
<g transform='translate(454.5,61.5) scale(1,1.013)'><line x1='0' y1='24.9' x2='0' y2='38.5' stroke='#a8a8a8' stroke-width='1.0'/><path d='M-4.6 25.0L-7.4 27.2M2.4 25.0L6.6 27.2' stroke='#909090' stroke-width='0.9' fill='none'/><g transform='translate(-0.8,0) scale(1,0.9)'><path d='M-1.6 -0.5L1.6 -0.5C2.2 1.5 2.7 3.1 3.5 4.5C5.3 6.1 6.1 8.3 6.1 11.5L6.1 23C6.1 26 4.9 27.9 2 28.2L-2 28.2C-4.9 27.9 -6.1 26 -6.1 23L-6.1 11.5C-6.1 8.3 -5.3 6.1 -3.5 4.5C-2.7 3.1 -2.2 1.5 -1.6 -0.5Z' fill='url(#mg)'/><path d='M-1.6 -0.5L1.6 -0.5C2.2 1.5 2.7 3.1 3.5 4.5C5.3 6.1 6.1 8.3 6.1 11.5L6.1 23C6.1 26 4.9 27.9 2 28.2L-2 28.2C-4.9 27.9 -6.1 26 -6.1 23L-6.1 11.5C-6.1 8.3 -5.3 6.1 -3.5 4.5C-2.7 3.1 -2.2 1.5 -1.6 -0.5Z' fill='url(#mv)'/><ellipse cx='-3.2' cy='16.1' rx='1.7' ry='3.3' fill='#8a8a8a' opacity='0.16'/><ellipse cx='-2.1' cy='14.5' rx='2.5' ry='1.6' fill='#8a8a8a' opacity='0.16'/><ellipse cx='-0.6' cy='21.2' rx='2.3' ry='1.6' fill='#8a8a8a' opacity='0.16'/></g></g>
<g transform='translate(470.4,61.5) scale(1,1.013)'><line x1='0' y1='24.9' x2='0' y2='38.5' stroke='#a8a8a8' stroke-width='1.0'/><path d='M-4.6 25.0L-7.4 27.2M2.4 25.0L6.6 27.2' stroke='#909090' stroke-width='0.9' fill='none'/><g transform='translate(-0.8,0) scale(1,0.9)'><path d='M-1.6 -0.5L1.6 -0.5C2.2 1.5 2.7 3.1 3.5 4.5C5.3 6.1 6.1 8.3 6.1 11.5L6.1 23C6.1 26 4.9 27.9 2 28.2L-2 28.2C-4.9 27.9 -6.1 26 -6.1 23L-6.1 11.5C-6.1 8.3 -5.3 6.1 -3.5 4.5C-2.7 3.1 -2.2 1.5 -1.6 -0.5Z' fill='url(#mg)'/><path d='M-1.6 -0.5L1.6 -0.5C2.2 1.5 2.7 3.1 3.5 4.5C5.3 6.1 6.1 8.3 6.1 11.5L6.1 23C6.1 26 4.9 27.9 2 28.2L-2 28.2C-4.9 27.9 -6.1 26 -6.1 23L-6.1 11.5C-6.1 8.3 -5.3 6.1 -3.5 4.5C-2.7 3.1 -2.2 1.5 -1.6 -0.5Z' fill='url(#mv)'/><ellipse cx='-3.3' cy='9.9' rx='2.5' ry='2.0' fill='#8a8a8a' opacity='0.16'/><ellipse cx='1.7' cy='22.5' rx='1.7' ry='2.0' fill='#8a8a8a' opacity='0.16'/><ellipse cx='3.2' cy='18.3' rx='1.6' ry='2.9' fill='#8a8a8a' opacity='0.16'/></g></g>
<g transform='translate(485.8,61.5) scale(1,1.013)'><line x1='0' y1='24.9' x2='0' y2='38.5' stroke='#a8a8a8' stroke-width='1.0'/><path d='M-4.6 25.0L-7.4 27.2M2.4 25.0L6.6 27.2' stroke='#909090' stroke-width='0.9' fill='none'/><g transform='translate(-0.8,0) scale(1,0.9)'><path d='M-1.6 -0.5L1.6 -0.5C2.2 1.5 2.7 3.1 3.5 4.5C5.3 6.1 6.1 8.3 6.1 11.5L6.1 23C6.1 26 4.9 27.9 2 28.2L-2 28.2C-4.9 27.9 -6.1 26 -6.1 23L-6.1 11.5C-6.1 8.3 -5.3 6.1 -3.5 4.5C-2.7 3.1 -2.2 1.5 -1.6 -0.5Z' fill='url(#mg)'/><path d='M-1.6 -0.5L1.6 -0.5C2.2 1.5 2.7 3.1 3.5 4.5C5.3 6.1 6.1 8.3 6.1 11.5L6.1 23C6.1 26 4.9 27.9 2 28.2L-2 28.2C-4.9 27.9 -6.1 26 -6.1 23L-6.1 11.5C-6.1 8.3 -5.3 6.1 -3.5 4.5C-2.7 3.1 -2.2 1.5 -1.6 -0.5Z' fill='url(#mv)'/><ellipse cx='-1.3' cy='13.1' rx='1.2' ry='3.0' fill='#8a8a8a' opacity='0.16'/><ellipse cx='2.9' cy='18.5' rx='2.5' ry='1.5' fill='#8a8a8a' opacity='0.16'/><ellipse cx='-1.9' cy='16.1' rx='2.5' ry='3.4' fill='#8a8a8a' opacity='0.16'/></g></g>
<g transform='translate(500,61.5) scale(1,1.013)'><line x1='0' y1='24.9' x2='0' y2='38.5' stroke='#a8a8a8' stroke-width='1.0'/><path d='M-4.6 25.0L-7.4 27.2M2.4 25.0L6.6 27.2' stroke='#909090' stroke-width='0.9' fill='none'/><g transform='translate(-0.8,0) scale(1,0.9)'><path d='M-1.6 -0.5L1.6 -0.5C2.2 1.5 2.7 3.1 3.5 4.5C5.3 6.1 6.1 8.3 6.1 11.5L6.1 23C6.1 26 4.9 27.9 2 28.2L-2 28.2C-4.9 27.9 -6.1 26 -6.1 23L-6.1 11.5C-6.1 8.3 -5.3 6.1 -3.5 4.5C-2.7 3.1 -2.2 1.5 -1.6 -0.5Z' fill='url(#mg)'/><path d='M-1.6 -0.5L1.6 -0.5C2.2 1.5 2.7 3.1 3.5 4.5C5.3 6.1 6.1 8.3 6.1 11.5L6.1 23C6.1 26 4.9 27.9 2 28.2L-2 28.2C-4.9 27.9 -6.1 26 -6.1 23L-6.1 11.5C-6.1 8.3 -5.3 6.1 -3.5 4.5C-2.7 3.1 -2.2 1.5 -1.6 -0.5Z' fill='url(#mv)'/><ellipse cx='-0.8' cy='12.8' rx='1.8' ry='2.5' fill='#8a8a8a' opacity='0.16'/><ellipse cx='3.0' cy='11.7' rx='2.3' ry='3.0' fill='#8a8a8a' opacity='0.16'/><ellipse cx='2.3' cy='20.6' rx='2.1' ry='2.2' fill='#8a8a8a' opacity='0.16'/></g></g>
<ellipse cx='361.8' cy='82.5' rx='4.16' ry='4.56' fill='#5c10ff'/><ellipse cx='361.8' cy='82.5' rx='3.66' ry='4.01' fill='#0a10ff'/><ellipse cx='361.8' cy='82.5' rx='3.08' ry='3.37' fill='#00b8ff'/><ellipse cx='361.8' cy='82.5' rx='2.83' ry='3.10' fill='#10f060'/><ellipse cx='361.8' cy='82.5' rx='2.62' ry='2.87' fill='#e8f000'/><ellipse cx='361.8' cy='82.5' rx='2.50' ry='2.74' fill='#ff5000'/><ellipse cx='361.8' cy='82.5' rx='2.37' ry='2.60' fill='#f01000'/>
<ellipse cx='380.5' cy='80.9' rx='4.16' ry='4.56' fill='#5c10ff'/><ellipse cx='380.5' cy='80.9' rx='3.66' ry='4.01' fill='#0a10ff'/><ellipse cx='380.5' cy='80.9' rx='3.08' ry='3.37' fill='#00b8ff'/><ellipse cx='380.5' cy='80.9' rx='2.83' ry='3.10' fill='#10f060'/><ellipse cx='380.5' cy='80.9' rx='2.62' ry='2.87' fill='#e8f000'/><ellipse cx='380.5' cy='80.9' rx='2.50' ry='2.74' fill='#ff5000'/><ellipse cx='380.5' cy='80.9' rx='2.37' ry='2.60' fill='#f01000'/>
<ellipse cx='397.1' cy='78.6' rx='3.12' ry='3.42' fill='#5c10ff'/><ellipse cx='397.1' cy='78.6' rx='2.75' ry='3.01' fill='#0a10ff'/><ellipse cx='397.1' cy='78.6' rx='2.31' ry='2.53' fill='#00b8ff'/><ellipse cx='397.1' cy='78.6' rx='2.12' ry='2.33' fill='#10f060'/><ellipse cx='397.1' cy='78.6' rx='1.97' ry='2.15' fill='#e8f000'/><ellipse cx='397.1' cy='78.6' rx='1.87' ry='2.05' fill='#ff5000'/><ellipse cx='397.1' cy='78.6' rx='1.78' ry='1.95' fill='#f01000'/>
<ellipse cx='412.7' cy='80.7' rx='3.12' ry='3.42' fill='#5c10ff'/><ellipse cx='412.7' cy='80.7' rx='2.75' ry='3.01' fill='#0a10ff'/><ellipse cx='412.7' cy='80.7' rx='2.31' ry='2.53' fill='#00b8ff'/><ellipse cx='412.7' cy='80.7' rx='2.12' ry='2.33' fill='#10f060'/><ellipse cx='412.7' cy='80.7' rx='1.97' ry='2.15' fill='#e8f000'/><ellipse cx='412.7' cy='80.7' rx='1.87' ry='2.05' fill='#ff5000'/><ellipse cx='412.7' cy='80.7' rx='1.78' ry='1.95' fill='#f01000'/>
<ellipse cx='427.2' cy='82.5' rx='3.64' ry='3.99' fill='#5c10ff'/><ellipse cx='427.2' cy='82.5' rx='3.20' ry='3.51' fill='#0a10ff'/><ellipse cx='427.2' cy='82.5' rx='2.69' ry='2.95' fill='#00b8ff'/><ellipse cx='427.2' cy='82.5' rx='2.48' ry='2.71' fill='#10f060'/><ellipse cx='427.2' cy='82.5' rx='2.29' ry='2.51' fill='#e8f000'/><ellipse cx='427.2' cy='82.5' rx='2.18' ry='2.39' fill='#ff5000'/><ellipse cx='427.2' cy='82.5' rx='2.07' ry='2.27' fill='#f01000'/>
<ellipse cx='441.9' cy='79.7' rx='3.64' ry='3.99' fill='#5c10ff'/><ellipse cx='441.9' cy='79.7' rx='3.20' ry='3.51' fill='#0a10ff'/><ellipse cx='441.9' cy='79.7' rx='2.69' ry='2.95' fill='#00b8ff'/><ellipse cx='441.9' cy='79.7' rx='2.48' ry='2.71' fill='#10f060'/><ellipse cx='441.9' cy='79.7' rx='2.29' ry='2.51' fill='#e8f000'/><ellipse cx='441.9' cy='79.7' rx='2.18' ry='2.39' fill='#ff5000'/><ellipse cx='441.9' cy='79.7' rx='2.07' ry='2.27' fill='#f01000'/>
<ellipse cx='456.6' cy='79.0' rx='2.60' ry='2.85' fill='#5c10ff'/><ellipse cx='456.6' cy='79.0' rx='2.29' ry='2.51' fill='#0a10ff'/><ellipse cx='456.6' cy='79.0' rx='1.92' ry='2.11' fill='#00b8ff'/><ellipse cx='456.6' cy='79.0' rx='1.77' ry='1.94' fill='#10f060'/><ellipse cx='456.6' cy='79.0' rx='1.64' ry='1.80' fill='#e8f000'/><ellipse cx='456.6' cy='79.0' rx='1.56' ry='1.71' fill='#ff5000'/><ellipse cx='456.6' cy='79.0' rx='1.48' ry='1.62' fill='#f01000'/>
<ellipse cx='473.0' cy='80.7' rx='2.60' ry='2.85' fill='#5c10ff'/><ellipse cx='473.0' cy='80.7' rx='2.29' ry='2.51' fill='#0a10ff'/><ellipse cx='473.0' cy='80.7' rx='1.92' ry='2.11' fill='#00b8ff'/><ellipse cx='473.0' cy='80.7' rx='1.77' ry='1.94' fill='#10f060'/><ellipse cx='473.0' cy='80.7' rx='1.64' ry='1.80' fill='#e8f000'/><ellipse cx='473.0' cy='80.7' rx='1.56' ry='1.71' fill='#ff5000'/><ellipse cx='473.0' cy='80.7' rx='1.48' ry='1.62' fill='#f01000'/>
<ellipse cx='487.0' cy='80.2' rx='3.64' ry='3.99' fill='#5c10ff'/><ellipse cx='487.0' cy='80.2' rx='3.20' ry='3.51' fill='#0a10ff'/><ellipse cx='487.0' cy='80.2' rx='2.69' ry='2.95' fill='#00b8ff'/><ellipse cx='487.0' cy='80.2' rx='2.48' ry='2.71' fill='#10f060'/><ellipse cx='487.0' cy='80.2' rx='2.29' ry='2.51' fill='#e8f000'/><ellipse cx='487.0' cy='80.2' rx='2.18' ry='2.39' fill='#ff5000'/><ellipse cx='487.0' cy='80.2' rx='2.07' ry='2.27' fill='#f01000'/>
<ellipse cx='501.5' cy='80.2' rx='2.00' ry='2.16' fill='#5020ff'/><ellipse cx='501.5' cy='80.2' rx='1.56' ry='1.68' fill='#1a40ff'/><ellipse cx='501.5' cy='80.2' rx='1.16' ry='1.25' fill='#00d0f0'/><ellipse cx='501.5' cy='80.2' rx='0.84' ry='0.91' fill='#40ff60'/>
</g></svg>
<rect x='510.9' y='61.8' width='134.20' height='38.10' fill='#303030'/>
<svg x='510.9' y='61.8' width='134.20' height='38.10' overflow='hidden'><g transform='translate(-510.9,-61.8)' filter='url(#sb)'>
<g transform='translate(522.1,61.8) scale(1,1.003)'><line x1='0' y1='25.7' x2='0' y2='38.5' stroke='#a8a8a8' stroke-width='1.0'/><path d='M-4.6 25.8L-7.4 28.0M2.4 25.8L6.6 28.0' stroke='#909090' stroke-width='0.9' fill='none'/><g transform='translate(-0.8,0) scale(1,0.93)'><path d='M-1.6 -0.5L1.6 -0.5C2.2 1.5 2.7 3.1 3.5 4.5C5.3 6.1 6.1 8.3 6.1 11.5L6.1 23C6.1 26 4.9 27.9 2 28.2L-2 28.2C-4.9 27.9 -6.1 26 -6.1 23L-6.1 11.5C-6.1 8.3 -5.3 6.1 -3.5 4.5C-2.7 3.1 -2.2 1.5 -1.6 -0.5Z' fill='url(#mg)'/><path d='M-1.6 -0.5L1.6 -0.5C2.2 1.5 2.7 3.1 3.5 4.5C5.3 6.1 6.1 8.3 6.1 11.5L6.1 23C6.1 26 4.9 27.9 2 28.2L-2 28.2C-4.9 27.9 -6.1 26 -6.1 23L-6.1 11.5C-6.1 8.3 -5.3 6.1 -3.5 4.5C-2.7 3.1 -2.2 1.5 -1.6 -0.5Z' fill='url(#mv)'/><ellipse cx='-1.3' cy='14.4' rx='2.3' ry='1.7' fill='#8a8a8a' opacity='0.16'/><ellipse cx='-2.1' cy='20.3' rx='1.5' ry='1.6' fill='#8a8a8a' opacity='0.16'/><ellipse cx='-3.3' cy='17.3' rx='1.7' ry='3.5' fill='#8a8a8a' opacity='0.16'/></g></g>
<g transform='translate(535.5,61.8) scale(1,1.003)'><line x1='0' y1='25.7' x2='0' y2='38.5' stroke='#a8a8a8' stroke-width='1.0'/><path d='M-4.6 25.8L-7.4 28.0M2.4 25.8L6.6 28.0' stroke='#909090' stroke-width='0.9' fill='none'/><g transform='translate(-0.8,0) scale(1,0.93)'><path d='M-1.6 -0.5L1.6 -0.5C2.2 1.5 2.7 3.1 3.5 4.5C5.3 6.1 6.1 8.3 6.1 11.5L6.1 23C6.1 26 4.9 27.9 2 28.2L-2 28.2C-4.9 27.9 -6.1 26 -6.1 23L-6.1 11.5C-6.1 8.3 -5.3 6.1 -3.5 4.5C-2.7 3.1 -2.2 1.5 -1.6 -0.5Z' fill='url(#mg)'/><path d='M-1.6 -0.5L1.6 -0.5C2.2 1.5 2.7 3.1 3.5 4.5C5.3 6.1 6.1 8.3 6.1 11.5L6.1 23C6.1 26 4.9 27.9 2 28.2L-2 28.2C-4.9 27.9 -6.1 26 -6.1 23L-6.1 11.5C-6.1 8.3 -5.3 6.1 -3.5 4.5C-2.7 3.1 -2.2 1.5 -1.6 -0.5Z' fill='url(#mv)'/><ellipse cx='2.7' cy='23.8' rx='1.6' ry='1.7' fill='#8a8a8a' opacity='0.16'/><ellipse cx='-2.8' cy='16.5' rx='2.2' ry='2.4' fill='#8a8a8a' opacity='0.16'/><ellipse cx='-1.9' cy='15.3' rx='2.1' ry='2.8' fill='#8a8a8a' opacity='0.16'/></g></g>
<g transform='translate(549.9,61.8) scale(1,1.003)'><line x1='0' y1='25.7' x2='0' y2='38.5' stroke='#a8a8a8' stroke-width='1.0'/><path d='M-4.6 25.8L-7.4 28.0M2.4 25.8L6.6 28.0' stroke='#909090' stroke-width='0.9' fill='none'/><g transform='translate(-0.8,0) scale(1,0.93)'><path d='M-1.6 -0.5L1.6 -0.5C2.2 1.5 2.7 3.1 3.5 4.5C5.3 6.1 6.1 8.3 6.1 11.5L6.1 23C6.1 26 4.9 27.9 2 28.2L-2 28.2C-4.9 27.9 -6.1 26 -6.1 23L-6.1 11.5C-6.1 8.3 -5.3 6.1 -3.5 4.5C-2.7 3.1 -2.2 1.5 -1.6 -0.5Z' fill='url(#mg)'/><path d='M-1.6 -0.5L1.6 -0.5C2.2 1.5 2.7 3.1 3.5 4.5C5.3 6.1 6.1 8.3 6.1 11.5L6.1 23C6.1 26 4.9 27.9 2 28.2L-2 28.2C-4.9 27.9 -6.1 26 -6.1 23L-6.1 11.5C-6.1 8.3 -5.3 6.1 -3.5 4.5C-2.7 3.1 -2.2 1.5 -1.6 -0.5Z' fill='url(#mv)'/><ellipse cx='1.7' cy='21.7' rx='2.1' ry='1.7' fill='#8a8a8a' opacity='0.16'/><ellipse cx='2.4' cy='13.4' rx='2.0' ry='2.2' fill='#8a8a8a' opacity='0.16'/><ellipse cx='1.7' cy='12.0' rx='1.5' ry='2.0' fill='#8a8a8a' opacity='0.16'/></g></g>
<g transform='translate(565.2,61.8) scale(1,1.003)'><line x1='0' y1='25.7' x2='0' y2='38.5' stroke='#a8a8a8' stroke-width='1.0'/><path d='M-4.6 25.8L-7.4 28.0M2.4 25.8L6.6 28.0' stroke='#909090' stroke-width='0.9' fill='none'/><g transform='translate(-0.8,0) scale(1,0.93)'><path d='M-1.6 -0.5L1.6 -0.5C2.2 1.5 2.7 3.1 3.5 4.5C5.3 6.1 6.1 8.3 6.1 11.5L6.1 23C6.1 26 4.9 27.9 2 28.2L-2 28.2C-4.9 27.9 -6.1 26 -6.1 23L-6.1 11.5C-6.1 8.3 -5.3 6.1 -3.5 4.5C-2.7 3.1 -2.2 1.5 -1.6 -0.5Z' fill='url(#mg)'/><path d='M-1.6 -0.5L1.6 -0.5C2.2 1.5 2.7 3.1 3.5 4.5C5.3 6.1 6.1 8.3 6.1 11.5L6.1 23C6.1 26 4.9 27.9 2 28.2L-2 28.2C-4.9 27.9 -6.1 26 -6.1 23L-6.1 11.5C-6.1 8.3 -5.3 6.1 -3.5 4.5C-2.7 3.1 -2.2 1.5 -1.6 -0.5Z' fill='url(#mv)'/><ellipse cx='-2.4' cy='22.3' rx='2.0' ry='2.2' fill='#8a8a8a' opacity='0.16'/><ellipse cx='-0.7' cy='23.9' rx='1.9' ry='2.0' fill='#8a8a8a' opacity='0.16'/><ellipse cx='2.2' cy='18.8' rx='2.6' ry='1.7' fill='#8a8a8a' opacity='0.16'/></g></g>
<g transform='translate(581.2,61.8) scale(1,1.003)'><line x1='0' y1='25.7' x2='0' y2='38.5' stroke='#a8a8a8' stroke-width='1.0'/><path d='M-4.6 25.8L-7.4 28.0M2.4 25.8L6.6 28.0' stroke='#909090' stroke-width='0.9' fill='none'/><g transform='translate(-0.8,0) scale(1,0.93)'><path d='M-1.6 -0.5L1.6 -0.5C2.2 1.5 2.7 3.1 3.5 4.5C5.3 6.1 6.1 8.3 6.1 11.5L6.1 23C6.1 26 4.9 27.9 2 28.2L-2 28.2C-4.9 27.9 -6.1 26 -6.1 23L-6.1 11.5C-6.1 8.3 -5.3 6.1 -3.5 4.5C-2.7 3.1 -2.2 1.5 -1.6 -0.5Z' fill='url(#mg)'/><path d='M-1.6 -0.5L1.6 -0.5C2.2 1.5 2.7 3.1 3.5 4.5C5.3 6.1 6.1 8.3 6.1 11.5L6.1 23C6.1 26 4.9 27.9 2 28.2L-2 28.2C-4.9 27.9 -6.1 26 -6.1 23L-6.1 11.5C-6.1 8.3 -5.3 6.1 -3.5 4.5C-2.7 3.1 -2.2 1.5 -1.6 -0.5Z' fill='url(#mv)'/><ellipse cx='-0.2' cy='21.3' rx='2.4' ry='3.3' fill='#8a8a8a' opacity='0.16'/><ellipse cx='-3.2' cy='13.4' rx='1.4' ry='1.9' fill='#8a8a8a' opacity='0.16'/><ellipse cx='3.3' cy='17.7' rx='2.5' ry='2.2' fill='#8a8a8a' opacity='0.16'/></g></g>
<g transform='translate(595.7,61.8) scale(1,1.003)'><line x1='0' y1='25.7' x2='0' y2='38.5' stroke='#a8a8a8' stroke-width='1.0'/><path d='M-4.6 25.8L-7.4 28.0M2.4 25.8L6.6 28.0' stroke='#909090' stroke-width='0.9' fill='none'/><g transform='translate(-0.8,0) scale(1,0.93)'><path d='M-1.6 -0.5L1.6 -0.5C2.2 1.5 2.7 3.1 3.5 4.5C5.3 6.1 6.1 8.3 6.1 11.5L6.1 23C6.1 26 4.9 27.9 2 28.2L-2 28.2C-4.9 27.9 -6.1 26 -6.1 23L-6.1 11.5C-6.1 8.3 -5.3 6.1 -3.5 4.5C-2.7 3.1 -2.2 1.5 -1.6 -0.5Z' fill='url(#mg)'/><path d='M-1.6 -0.5L1.6 -0.5C2.2 1.5 2.7 3.1 3.5 4.5C5.3 6.1 6.1 8.3 6.1 11.5L6.1 23C6.1 26 4.9 27.9 2 28.2L-2 28.2C-4.9 27.9 -6.1 26 -6.1 23L-6.1 11.5C-6.1 8.3 -5.3 6.1 -3.5 4.5C-2.7 3.1 -2.2 1.5 -1.6 -0.5Z' fill='url(#mv)'/><ellipse cx='2.6' cy='15.7' rx='1.6' ry='3.1' fill='#8a8a8a' opacity='0.16'/><ellipse cx='3.1' cy='10.6' rx='2.0' ry='2.7' fill='#8a8a8a' opacity='0.16'/><ellipse cx='-2.0' cy='14.5' rx='1.4' ry='1.9' fill='#8a8a8a' opacity='0.16'/></g></g>
<g transform='translate(608.7,61.8) scale(1,1.003)'><line x1='0' y1='25.7' x2='0' y2='38.5' stroke='#a8a8a8' stroke-width='1.0'/><path d='M-4.6 25.8L-7.4 28.0M2.4 25.8L6.6 28.0' stroke='#909090' stroke-width='0.9' fill='none'/><g transform='translate(-0.8,0) scale(1,0.93)'><path d='M-1.6 -0.5L1.6 -0.5C2.2 1.5 2.7 3.1 3.5 4.5C5.3 6.1 6.1 8.3 6.1 11.5L6.1 23C6.1 26 4.9 27.9 2 28.2L-2 28.2C-4.9 27.9 -6.1 26 -6.1 23L-6.1 11.5C-6.1 8.3 -5.3 6.1 -3.5 4.5C-2.7 3.1 -2.2 1.5 -1.6 -0.5Z' fill='url(#mg)'/><path d='M-1.6 -0.5L1.6 -0.5C2.2 1.5 2.7 3.1 3.5 4.5C5.3 6.1 6.1 8.3 6.1 11.5L6.1 23C6.1 26 4.9 27.9 2 28.2L-2 28.2C-4.9 27.9 -6.1 26 -6.1 23L-6.1 11.5C-6.1 8.3 -5.3 6.1 -3.5 4.5C-2.7 3.1 -2.2 1.5 -1.6 -0.5Z' fill='url(#mv)'/><ellipse cx='-1.7' cy='18.0' rx='2.1' ry='1.9' fill='#8a8a8a' opacity='0.16'/><ellipse cx='-3.4' cy='13.9' rx='2.1' ry='1.9' fill='#8a8a8a' opacity='0.16'/><ellipse cx='-1.3' cy='12.1' rx='2.3' ry='2.6' fill='#8a8a8a' opacity='0.16'/></g></g>
<g transform='translate(625.3,61.8) scale(1,1.003)'><line x1='0' y1='25.7' x2='0' y2='38.5' stroke='#a8a8a8' stroke-width='1.0'/><path d='M-4.6 25.8L-7.4 28.0M2.4 25.8L6.6 28.0' stroke='#909090' stroke-width='0.9' fill='none'/><g transform='translate(-0.8,0) scale(1,0.93)'><path d='M-1.6 -0.5L1.6 -0.5C2.2 1.5 2.7 3.1 3.5 4.5C5.3 6.1 6.1 8.3 6.1 11.5L6.1 23C6.1 26 4.9 27.9 2 28.2L-2 28.2C-4.9 27.9 -6.1 26 -6.1 23L-6.1 11.5C-6.1 8.3 -5.3 6.1 -3.5 4.5C-2.7 3.1 -2.2 1.5 -1.6 -0.5Z' fill='url(#mg)'/><path d='M-1.6 -0.5L1.6 -0.5C2.2 1.5 2.7 3.1 3.5 4.5C5.3 6.1 6.1 8.3 6.1 11.5L6.1 23C6.1 26 4.9 27.9 2 28.2L-2 28.2C-4.9 27.9 -6.1 26 -6.1 23L-6.1 11.5C-6.1 8.3 -5.3 6.1 -3.5 4.5C-2.7 3.1 -2.2 1.5 -1.6 -0.5Z' fill='url(#mv)'/><ellipse cx='-3.1' cy='10.5' rx='1.8' ry='2.6' fill='#8a8a8a' opacity='0.16'/><ellipse cx='1.0' cy='10.4' rx='1.4' ry='2.9' fill='#8a8a8a' opacity='0.16'/><ellipse cx='-0.6' cy='13.2' rx='1.6' ry='3.4' fill='#8a8a8a' opacity='0.16'/></g></g>
<g transform='translate(639.3,61.8) scale(1,1.003)'><line x1='0' y1='25.7' x2='0' y2='38.5' stroke='#a8a8a8' stroke-width='1.0'/><path d='M-4.6 25.8L-7.4 28.0M2.4 25.8L6.6 28.0' stroke='#909090' stroke-width='0.9' fill='none'/><g transform='translate(-0.8,0) scale(1,0.93)'><path d='M-1.6 -0.5L1.6 -0.5C2.2 1.5 2.7 3.1 3.5 4.5C5.3 6.1 6.1 8.3 6.1 11.5L6.1 23C6.1 26 4.9 27.9 2 28.2L-2 28.2C-4.9 27.9 -6.1 26 -6.1 23L-6.1 11.5C-6.1 8.3 -5.3 6.1 -3.5 4.5C-2.7 3.1 -2.2 1.5 -1.6 -0.5Z' fill='url(#mg)'/><path d='M-1.6 -0.5L1.6 -0.5C2.2 1.5 2.7 3.1 3.5 4.5C5.3 6.1 6.1 8.3 6.1 11.5L6.1 23C6.1 26 4.9 27.9 2 28.2L-2 28.2C-4.9 27.9 -6.1 26 -6.1 23L-6.1 11.5C-6.1 8.3 -5.3 6.1 -3.5 4.5C-2.7 3.1 -2.2 1.5 -1.6 -0.5Z' fill='url(#mv)'/><ellipse cx='-1.3' cy='17.5' rx='1.7' ry='2.3' fill='#8a8a8a' opacity='0.16'/><ellipse cx='2.5' cy='23.9' rx='1.7' ry='1.9' fill='#8a8a8a' opacity='0.16'/><ellipse cx='1.6' cy='12.1' rx='1.2' ry='3.3' fill='#8a8a8a' opacity='0.16'/></g></g>
<ellipse cx='523.6' cy='81.7' rx='1.50' ry='1.58' fill='#3030ff'/><ellipse cx='523.6' cy='81.7' rx='0.75' ry='0.79' fill='#2060ff'/>
<ellipse cx='536.3' cy='81.7' rx='3.64' ry='3.99' fill='#5c10ff'/><ellipse cx='536.3' cy='81.7' rx='3.20' ry='3.51' fill='#0a10ff'/><ellipse cx='536.3' cy='81.7' rx='2.69' ry='2.95' fill='#00b8ff'/><ellipse cx='536.3' cy='81.7' rx='2.48' ry='2.71' fill='#10f060'/><ellipse cx='536.3' cy='81.7' rx='2.29' ry='2.51' fill='#e8f000'/><ellipse cx='536.3' cy='81.7' rx='2.18' ry='2.39' fill='#ff5000'/><ellipse cx='536.3' cy='81.7' rx='2.07' ry='2.27' fill='#f01000'/>
<ellipse cx='550.1' cy='79.8' rx='1.50' ry='1.62' fill='#5020ff'/><ellipse cx='550.1' cy='79.8' rx='1.17' ry='1.26' fill='#1a40ff'/><ellipse cx='550.1' cy='79.8' rx='0.87' ry='0.94' fill='#00d0f0'/><ellipse cx='550.1' cy='79.8' rx='0.63' ry='0.68' fill='#40ff60'/>
<ellipse cx='563.8' cy='80.2' rx='3.12' ry='3.42' fill='#5c10ff'/><ellipse cx='563.8' cy='80.2' rx='2.75' ry='3.01' fill='#0a10ff'/><ellipse cx='563.8' cy='80.2' rx='2.31' ry='2.53' fill='#00b8ff'/><ellipse cx='563.8' cy='80.2' rx='2.12' ry='2.33' fill='#10f060'/><ellipse cx='563.8' cy='80.2' rx='1.97' ry='2.15' fill='#e8f000'/><ellipse cx='563.8' cy='80.2' rx='1.87' ry='2.05' fill='#ff5000'/><ellipse cx='563.8' cy='80.2' rx='1.78' ry='1.95' fill='#f01000'/>
<ellipse cx='580.1' cy='82.3' rx='4.16' ry='4.56' fill='#5c10ff'/><ellipse cx='580.1' cy='82.3' rx='3.66' ry='4.01' fill='#0a10ff'/><ellipse cx='580.1' cy='82.3' rx='3.08' ry='3.37' fill='#00b8ff'/><ellipse cx='580.1' cy='82.3' rx='2.83' ry='3.10' fill='#10f060'/><ellipse cx='580.1' cy='82.3' rx='2.62' ry='2.87' fill='#e8f000'/><ellipse cx='580.1' cy='82.3' rx='2.50' ry='2.74' fill='#ff5000'/><ellipse cx='580.1' cy='82.3' rx='2.37' ry='2.60' fill='#f01000'/>
<ellipse cx='595.6' cy='81.7' rx='3.00' ry='3.24' fill='#5020ff'/><ellipse cx='595.6' cy='81.7' rx='2.34' ry='2.53' fill='#1a40ff'/><ellipse cx='595.6' cy='81.7' rx='1.74' ry='1.88' fill='#00d0f0'/><ellipse cx='595.6' cy='81.7' rx='1.26' ry='1.36' fill='#40ff60'/>
<ellipse cx='610.8' cy='81.3' rx='3.64' ry='3.99' fill='#5c10ff'/><ellipse cx='610.8' cy='81.3' rx='3.20' ry='3.51' fill='#0a10ff'/><ellipse cx='610.8' cy='81.3' rx='2.69' ry='2.95' fill='#00b8ff'/><ellipse cx='610.8' cy='81.3' rx='2.48' ry='2.71' fill='#10f060'/><ellipse cx='610.8' cy='81.3' rx='2.29' ry='2.51' fill='#e8f000'/><ellipse cx='610.8' cy='81.3' rx='2.18' ry='2.39' fill='#ff5000'/><ellipse cx='610.8' cy='81.3' rx='2.07' ry='2.27' fill='#f01000'/>
<ellipse cx='629.5' cy='81.7' rx='1.50' ry='1.58' fill='#3030ff'/><ellipse cx='629.5' cy='81.7' rx='0.75' ry='0.79' fill='#2060ff'/>
<ellipse cx='639.4' cy='79.6' rx='3.64' ry='3.99' fill='#5c10ff'/><ellipse cx='639.4' cy='79.6' rx='3.20' ry='3.51' fill='#0a10ff'/><ellipse cx='639.4' cy='79.6' rx='2.69' ry='2.95' fill='#00b8ff'/><ellipse cx='639.4' cy='79.6' rx='2.48' ry='2.71' fill='#10f060'/><ellipse cx='639.4' cy='79.6' rx='2.29' ry='2.51' fill='#e8f000'/><ellipse cx='639.4' cy='79.6' rx='2.18' ry='2.39' fill='#ff5000'/><ellipse cx='639.4' cy='79.6' rx='2.07' ry='2.27' fill='#f01000'/>
</g></svg>
<rect x='56.1' y='104.7' width='150.10' height='38.30' fill='#303030'/>
<svg x='56.1' y='104.7' width='150.10' height='38.30' overflow='hidden'><g transform='translate(-56.1,-104.7)' filter='url(#sb)'>
<g transform='translate(65.6,104.7) scale(1,1.008)'><line x1='0' y1='26.6' x2='0' y2='38.5' stroke='#a8a8a8' stroke-width='1.0'/><path d='M-4.6 26.7L-7.4 28.9M2.4 26.7L6.6 28.9' stroke='#909090' stroke-width='0.9' fill='none'/><g transform='translate(-0.8,0) scale(1,0.96)'><path d='M-1.6 -0.5L1.6 -0.5C2.2 1.5 2.7 3.1 3.5 4.5C5.3 6.1 6.1 8.3 6.1 11.5L6.1 23C6.1 26 4.9 27.9 2 28.2L-2 28.2C-4.9 27.9 -6.1 26 -6.1 23L-6.1 11.5C-6.1 8.3 -5.3 6.1 -3.5 4.5C-2.7 3.1 -2.2 1.5 -1.6 -0.5Z' fill='url(#mg)'/><path d='M-1.6 -0.5L1.6 -0.5C2.2 1.5 2.7 3.1 3.5 4.5C5.3 6.1 6.1 8.3 6.1 11.5L6.1 23C6.1 26 4.9 27.9 2 28.2L-2 28.2C-4.9 27.9 -6.1 26 -6.1 23L-6.1 11.5C-6.1 8.3 -5.3 6.1 -3.5 4.5C-2.7 3.1 -2.2 1.5 -1.6 -0.5Z' fill='url(#mv)'/><ellipse cx='-0.5' cy='21.3' rx='1.8' ry='3.3' fill='#8a8a8a' opacity='0.16'/><ellipse cx='-0.3' cy='11.4' rx='1.2' ry='2.6' fill='#8a8a8a' opacity='0.16'/><ellipse cx='1.0' cy='22.6' rx='1.3' ry='2.7' fill='#8a8a8a' opacity='0.16'/></g></g>
<g transform='translate(79.3,104.7) scale(1,1.008)'><line x1='0' y1='26.6' x2='0' y2='38.5' stroke='#a8a8a8' stroke-width='1.0'/><path d='M-4.6 26.7L-7.4 28.9M2.4 26.7L6.6 28.9' stroke='#909090' stroke-width='0.9' fill='none'/><g transform='translate(-0.8,0) scale(1,0.96)'><path d='M-1.6 -0.5L1.6 -0.5C2.2 1.5 2.7 3.1 3.5 4.5C5.3 6.1 6.1 8.3 6.1 11.5L6.1 23C6.1 26 4.9 27.9 2 28.2L-2 28.2C-4.9 27.9 -6.1 26 -6.1 23L-6.1 11.5C-6.1 8.3 -5.3 6.1 -3.5 4.5C-2.7 3.1 -2.2 1.5 -1.6 -0.5Z' fill='url(#mg)'/><path d='M-1.6 -0.5L1.6 -0.5C2.2 1.5 2.7 3.1 3.5 4.5C5.3 6.1 6.1 8.3 6.1 11.5L6.1 23C6.1 26 4.9 27.9 2 28.2L-2 28.2C-4.9 27.9 -6.1 26 -6.1 23L-6.1 11.5C-6.1 8.3 -5.3 6.1 -3.5 4.5C-2.7 3.1 -2.2 1.5 -1.6 -0.5Z' fill='url(#mv)'/><ellipse cx='-0.9' cy='16.6' rx='1.4' ry='2.1' fill='#8a8a8a' opacity='0.16'/><ellipse cx='0.1' cy='22.9' rx='1.4' ry='2.5' fill='#8a8a8a' opacity='0.16'/><ellipse cx='2.1' cy='23.5' rx='1.5' ry='1.8' fill='#8a8a8a' opacity='0.16'/></g></g>
<g transform='translate(93,104.7) scale(1,1.008)'><line x1='0' y1='26.6' x2='0' y2='38.5' stroke='#a8a8a8' stroke-width='1.0'/><path d='M-4.6 26.7L-7.4 28.9M2.4 26.7L6.6 28.9' stroke='#909090' stroke-width='0.9' fill='none'/><g transform='translate(-0.8,0) scale(1,0.96)'><path d='M-1.6 -0.5L1.6 -0.5C2.2 1.5 2.7 3.1 3.5 4.5C5.3 6.1 6.1 8.3 6.1 11.5L6.1 23C6.1 26 4.9 27.9 2 28.2L-2 28.2C-4.9 27.9 -6.1 26 -6.1 23L-6.1 11.5C-6.1 8.3 -5.3 6.1 -3.5 4.5C-2.7 3.1 -2.2 1.5 -1.6 -0.5Z' fill='url(#mg)'/><path d='M-1.6 -0.5L1.6 -0.5C2.2 1.5 2.7 3.1 3.5 4.5C5.3 6.1 6.1 8.3 6.1 11.5L6.1 23C6.1 26 4.9 27.9 2 28.2L-2 28.2C-4.9 27.9 -6.1 26 -6.1 23L-6.1 11.5C-6.1 8.3 -5.3 6.1 -3.5 4.5C-2.7 3.1 -2.2 1.5 -1.6 -0.5Z' fill='url(#mv)'/><ellipse cx='3.1' cy='23.6' rx='1.9' ry='1.6' fill='#8a8a8a' opacity='0.16'/><ellipse cx='3.0' cy='14.8' rx='2.5' ry='2.7' fill='#8a8a8a' opacity='0.16'/><ellipse cx='2.3' cy='11.4' rx='2.3' ry='1.9' fill='#8a8a8a' opacity='0.16'/></g></g>
<g transform='translate(109.7,104.7) scale(1,1.008)'><line x1='0' y1='26.6' x2='0' y2='38.5' stroke='#a8a8a8' stroke-width='1.0'/><path d='M-4.6 26.7L-7.4 28.9M2.4 26.7L6.6 28.9' stroke='#909090' stroke-width='0.9' fill='none'/><g transform='translate(-0.8,0) scale(1,0.96)'><path d='M-1.6 -0.5L1.6 -0.5C2.2 1.5 2.7 3.1 3.5 4.5C5.3 6.1 6.1 8.3 6.1 11.5L6.1 23C6.1 26 4.9 27.9 2 28.2L-2 28.2C-4.9 27.9 -6.1 26 -6.1 23L-6.1 11.5C-6.1 8.3 -5.3 6.1 -3.5 4.5C-2.7 3.1 -2.2 1.5 -1.6 -0.5Z' fill='url(#mg)'/><path d='M-1.6 -0.5L1.6 -0.5C2.2 1.5 2.7 3.1 3.5 4.5C5.3 6.1 6.1 8.3 6.1 11.5L6.1 23C6.1 26 4.9 27.9 2 28.2L-2 28.2C-4.9 27.9 -6.1 26 -6.1 23L-6.1 11.5C-6.1 8.3 -5.3 6.1 -3.5 4.5C-2.7 3.1 -2.2 1.5 -1.6 -0.5Z' fill='url(#mv)'/><ellipse cx='-0.7' cy='21.7' rx='2.4' ry='1.9' fill='#8a8a8a' opacity='0.16'/><ellipse cx='-2.0' cy='15.0' rx='1.9' ry='2.3' fill='#8a8a8a' opacity='0.16'/><ellipse cx='-2.6' cy='12.7' rx='2.2' ry='3.3' fill='#8a8a8a' opacity='0.16'/></g></g>
<g transform='translate(123.3,104.7) scale(1,1.008)'><line x1='0' y1='26.6' x2='0' y2='38.5' stroke='#a8a8a8' stroke-width='1.0'/><path d='M-4.6 26.7L-7.4 28.9M2.4 26.7L6.6 28.9' stroke='#909090' stroke-width='0.9' fill='none'/><g transform='translate(-0.8,0) scale(1,0.96)'><path d='M-1.6 -0.5L1.6 -0.5C2.2 1.5 2.7 3.1 3.5 4.5C5.3 6.1 6.1 8.3 6.1 11.5L6.1 23C6.1 26 4.9 27.9 2 28.2L-2 28.2C-4.9 27.9 -6.1 26 -6.1 23L-6.1 11.5C-6.1 8.3 -5.3 6.1 -3.5 4.5C-2.7 3.1 -2.2 1.5 -1.6 -0.5Z' fill='url(#mg)'/><path d='M-1.6 -0.5L1.6 -0.5C2.2 1.5 2.7 3.1 3.5 4.5C5.3 6.1 6.1 8.3 6.1 11.5L6.1 23C6.1 26 4.9 27.9 2 28.2L-2 28.2C-4.9 27.9 -6.1 26 -6.1 23L-6.1 11.5C-6.1 8.3 -5.3 6.1 -3.5 4.5C-2.7 3.1 -2.2 1.5 -1.6 -0.5Z' fill='url(#mv)'/><ellipse cx='-3.2' cy='17.4' rx='2.3' ry='1.6' fill='#8a8a8a' opacity='0.16'/><ellipse cx='2.4' cy='10.8' rx='2.0' ry='2.6' fill='#8a8a8a' opacity='0.16'/><ellipse cx='0.9' cy='13.6' rx='1.8' ry='2.7' fill='#8a8a8a' opacity='0.16'/></g></g>
<g transform='translate(138.1,104.7) scale(1,1.008)'><line x1='0' y1='26.6' x2='0' y2='38.5' stroke='#a8a8a8' stroke-width='1.0'/><path d='M-4.6 26.7L-7.4 28.9M2.4 26.7L6.6 28.9' stroke='#909090' stroke-width='0.9' fill='none'/><g transform='translate(-0.8,0) scale(1,0.96)'><path d='M-1.6 -0.5L1.6 -0.5C2.2 1.5 2.7 3.1 3.5 4.5C5.3 6.1 6.1 8.3 6.1 11.5L6.1 23C6.1 26 4.9 27.9 2 28.2L-2 28.2C-4.9 27.9 -6.1 26 -6.1 23L-6.1 11.5C-6.1 8.3 -5.3 6.1 -3.5 4.5C-2.7 3.1 -2.2 1.5 -1.6 -0.5Z' fill='url(#mg)'/><path d='M-1.6 -0.5L1.6 -0.5C2.2 1.5 2.7 3.1 3.5 4.5C5.3 6.1 6.1 8.3 6.1 11.5L6.1 23C6.1 26 4.9 27.9 2 28.2L-2 28.2C-4.9 27.9 -6.1 26 -6.1 23L-6.1 11.5C-6.1 8.3 -5.3 6.1 -3.5 4.5C-2.7 3.1 -2.2 1.5 -1.6 -0.5Z' fill='url(#mv)'/><ellipse cx='-0.5' cy='18.9' rx='1.8' ry='2.4' fill='#8a8a8a' opacity='0.16'/><ellipse cx='-3.3' cy='18.3' rx='1.9' ry='2.0' fill='#8a8a8a' opacity='0.16'/><ellipse cx='1.8' cy='20.7' rx='1.8' ry='1.9' fill='#8a8a8a' opacity='0.16'/></g></g>
<g transform='translate(154.5,104.7) scale(1,1.008)'><line x1='0' y1='26.6' x2='0' y2='38.5' stroke='#a8a8a8' stroke-width='1.0'/><path d='M-4.6 26.7L-7.4 28.9M2.4 26.7L6.6 28.9' stroke='#909090' stroke-width='0.9' fill='none'/><g transform='translate(-0.8,0) scale(1,0.96)'><path d='M-1.6 -0.5L1.6 -0.5C2.2 1.5 2.7 3.1 3.5 4.5C5.3 6.1 6.1 8.3 6.1 11.5L6.1 23C6.1 26 4.9 27.9 2 28.2L-2 28.2C-4.9 27.9 -6.1 26 -6.1 23L-6.1 11.5C-6.1 8.3 -5.3 6.1 -3.5 4.5C-2.7 3.1 -2.2 1.5 -1.6 -0.5Z' fill='url(#mg)'/><path d='M-1.6 -0.5L1.6 -0.5C2.2 1.5 2.7 3.1 3.5 4.5C5.3 6.1 6.1 8.3 6.1 11.5L6.1 23C6.1 26 4.9 27.9 2 28.2L-2 28.2C-4.9 27.9 -6.1 26 -6.1 23L-6.1 11.5C-6.1 8.3 -5.3 6.1 -3.5 4.5C-2.7 3.1 -2.2 1.5 -1.6 -0.5Z' fill='url(#mv)'/><ellipse cx='-0.2' cy='10.6' rx='1.4' ry='2.4' fill='#8a8a8a' opacity='0.16'/><ellipse cx='-2.9' cy='15.6' rx='1.9' ry='1.6' fill='#8a8a8a' opacity='0.16'/><ellipse cx='1.0' cy='10.2' rx='2.2' ry='3.1' fill='#8a8a8a' opacity='0.16'/></g></g>
<g transform='translate(170.4,104.7) scale(1,1.008)'><line x1='0' y1='26.6' x2='0' y2='38.5' stroke='#a8a8a8' stroke-width='1.0'/><path d='M-4.6 26.7L-7.4 28.9M2.4 26.7L6.6 28.9' stroke='#909090' stroke-width='0.9' fill='none'/><g transform='translate(-0.8,0) scale(1,0.96)'><path d='M-1.6 -0.5L1.6 -0.5C2.2 1.5 2.7 3.1 3.5 4.5C5.3 6.1 6.1 8.3 6.1 11.5L6.1 23C6.1 26 4.9 27.9 2 28.2L-2 28.2C-4.9 27.9 -6.1 26 -6.1 23L-6.1 11.5C-6.1 8.3 -5.3 6.1 -3.5 4.5C-2.7 3.1 -2.2 1.5 -1.6 -0.5Z' fill='url(#mg)'/><path d='M-1.6 -0.5L1.6 -0.5C2.2 1.5 2.7 3.1 3.5 4.5C5.3 6.1 6.1 8.3 6.1 11.5L6.1 23C6.1 26 4.9 27.9 2 28.2L-2 28.2C-4.9 27.9 -6.1 26 -6.1 23L-6.1 11.5C-6.1 8.3 -5.3 6.1 -3.5 4.5C-2.7 3.1 -2.2 1.5 -1.6 -0.5Z' fill='url(#mv)'/><ellipse cx='0.1' cy='9.8' rx='1.9' ry='2.3' fill='#8a8a8a' opacity='0.16'/><ellipse cx='3.2' cy='11.0' rx='2.4' ry='3.5' fill='#8a8a8a' opacity='0.16'/><ellipse cx='1.6' cy='21.2' rx='1.5' ry='3.5' fill='#8a8a8a' opacity='0.16'/></g></g>
<g transform='translate(184.7,104.7) scale(1,1.008)'><line x1='0' y1='26.6' x2='0' y2='38.5' stroke='#a8a8a8' stroke-width='1.0'/><path d='M-4.6 26.7L-7.4 28.9M2.4 26.7L6.6 28.9' stroke='#909090' stroke-width='0.9' fill='none'/><g transform='translate(-0.8,0) scale(1,0.96)'><path d='M-1.6 -0.5L1.6 -0.5C2.2 1.5 2.7 3.1 3.5 4.5C5.3 6.1 6.1 8.3 6.1 11.5L6.1 23C6.1 26 4.9 27.9 2 28.2L-2 28.2C-4.9 27.9 -6.1 26 -6.1 23L-6.1 11.5C-6.1 8.3 -5.3 6.1 -3.5 4.5C-2.7 3.1 -2.2 1.5 -1.6 -0.5Z' fill='url(#mg)'/><path d='M-1.6 -0.5L1.6 -0.5C2.2 1.5 2.7 3.1 3.5 4.5C5.3 6.1 6.1 8.3 6.1 11.5L6.1 23C6.1 26 4.9 27.9 2 28.2L-2 28.2C-4.9 27.9 -6.1 26 -6.1 23L-6.1 11.5C-6.1 8.3 -5.3 6.1 -3.5 4.5C-2.7 3.1 -2.2 1.5 -1.6 -0.5Z' fill='url(#mv)'/><ellipse cx='-0.1' cy='23.3' rx='2.5' ry='1.8' fill='#8a8a8a' opacity='0.16'/><ellipse cx='2.0' cy='23.0' rx='1.3' ry='2.2' fill='#8a8a8a' opacity='0.16'/><ellipse cx='1.8' cy='11.4' rx='2.5' ry='2.0' fill='#8a8a8a' opacity='0.16'/></g></g>
<g transform='translate(199.8,104.7) scale(1,1.008)'><line x1='0' y1='26.6' x2='0' y2='38.5' stroke='#a8a8a8' stroke-width='1.0'/><path d='M-4.6 26.7L-7.4 28.9M2.4 26.7L6.6 28.9' stroke='#909090' stroke-width='0.9' fill='none'/><g transform='translate(-0.8,0) scale(1,0.96)'><path d='M-1.6 -0.5L1.6 -0.5C2.2 1.5 2.7 3.1 3.5 4.5C5.3 6.1 6.1 8.3 6.1 11.5L6.1 23C6.1 26 4.9 27.9 2 28.2L-2 28.2C-4.9 27.9 -6.1 26 -6.1 23L-6.1 11.5C-6.1 8.3 -5.3 6.1 -3.5 4.5C-2.7 3.1 -2.2 1.5 -1.6 -0.5Z' fill='url(#mg)'/><path d='M-1.6 -0.5L1.6 -0.5C2.2 1.5 2.7 3.1 3.5 4.5C5.3 6.1 6.1 8.3 6.1 11.5L6.1 23C6.1 26 4.9 27.9 2 28.2L-2 28.2C-4.9 27.9 -6.1 26 -6.1 23L-6.1 11.5C-6.1 8.3 -5.3 6.1 -3.5 4.5C-2.7 3.1 -2.2 1.5 -1.6 -0.5Z' fill='url(#mv)'/><ellipse cx='2.2' cy='11.2' rx='1.9' ry='3.3' fill='#8a8a8a' opacity='0.16'/><ellipse cx='-2.0' cy='12.9' rx='1.9' ry='2.1' fill='#8a8a8a' opacity='0.16'/><ellipse cx='-3.2' cy='11.7' rx='1.4' ry='3.4' fill='#8a8a8a' opacity='0.16'/></g></g>
<ellipse cx='73' cy='125.5' rx='13.7' ry='7' fill='#5c10ff'/>
<ellipse cx='67.5' cy='118' rx='3.3' ry='6.5' fill='#5c10ff'/>
<ellipse cx='67.0' cy='124.8' rx='7.90' ry='8.66' fill='#5c10ff'/><ellipse cx='67.0' cy='124.8' rx='6.96' ry='7.62' fill='#0a10ff'/><ellipse cx='67.0' cy='124.8' rx='5.85' ry='6.41' fill='#00b8ff'/><ellipse cx='67.0' cy='124.8' rx='5.37' ry='5.89' fill='#10f060'/><ellipse cx='67.0' cy='124.8' rx='4.98' ry='5.46' fill='#e8f000'/><ellipse cx='67.0' cy='124.8' rx='4.74' ry='5.20' fill='#ff5000'/><ellipse cx='67.0' cy='124.8' rx='4.51' ry='4.94' fill='#f01000'/>
<ellipse cx='81.7' cy='125.2' rx='6.03' ry='6.61' fill='#5c10ff'/><ellipse cx='81.7' cy='125.2' rx='5.31' ry='5.82' fill='#0a10ff'/><ellipse cx='81.7' cy='125.2' rx='4.46' ry='4.89' fill='#00b8ff'/><ellipse cx='81.7' cy='125.2' rx='4.10' ry='4.50' fill='#10f060'/><ellipse cx='81.7' cy='125.2' rx='3.80' ry='4.17' fill='#e8f000'/><ellipse cx='81.7' cy='125.2' rx='3.62' ry='3.97' fill='#ff5000'/><ellipse cx='81.7' cy='125.2' rx='3.44' ry='3.77' fill='#f01000'/>
<ellipse cx='96.3' cy='125.5' rx='4.06' ry='4.45' fill='#5c10ff'/><ellipse cx='96.3' cy='125.5' rx='3.57' ry='3.91' fill='#0a10ff'/><ellipse cx='96.3' cy='125.5' rx='3.00' ry='3.29' fill='#00b8ff'/><ellipse cx='96.3' cy='125.5' rx='2.76' ry='3.02' fill='#10f060'/><ellipse cx='96.3' cy='125.5' rx='2.56' ry='2.80' fill='#e8f000'/><ellipse cx='96.3' cy='125.5' rx='2.43' ry='2.67' fill='#ff5000'/><ellipse cx='96.3' cy='125.5' rx='2.31' ry='2.53' fill='#f01000'/>
<ellipse cx='112.7' cy='125.0' rx='3.74' ry='4.10' fill='#5c10ff'/><ellipse cx='112.7' cy='125.0' rx='3.29' ry='3.61' fill='#0a10ff'/><ellipse cx='112.7' cy='125.0' rx='2.77' ry='3.04' fill='#00b8ff'/><ellipse cx='112.7' cy='125.0' rx='2.55' ry='2.79' fill='#10f060'/><ellipse cx='112.7' cy='125.0' rx='2.36' ry='2.59' fill='#e8f000'/><ellipse cx='112.7' cy='125.0' rx='2.25' ry='2.46' fill='#ff5000'/><ellipse cx='112.7' cy='125.0' rx='2.13' ry='2.34' fill='#f01000'/>
<ellipse cx='127.0' cy='125.3' rx='4.16' ry='4.56' fill='#5c10ff'/><ellipse cx='127.0' cy='125.3' rx='3.66' ry='4.01' fill='#0a10ff'/><ellipse cx='127.0' cy='125.3' rx='3.08' ry='3.37' fill='#00b8ff'/><ellipse cx='127.0' cy='125.3' rx='2.83' ry='3.10' fill='#10f060'/><ellipse cx='127.0' cy='125.3' rx='2.62' ry='2.87' fill='#e8f000'/><ellipse cx='127.0' cy='125.3' rx='2.50' ry='2.74' fill='#ff5000'/><ellipse cx='127.0' cy='125.3' rx='2.37' ry='2.60' fill='#f01000'/>
<ellipse cx='141.4' cy='124.2' rx='4.16' ry='4.56' fill='#5c10ff'/><ellipse cx='141.4' cy='124.2' rx='3.66' ry='4.01' fill='#0a10ff'/><ellipse cx='141.4' cy='124.2' rx='3.08' ry='3.37' fill='#00b8ff'/><ellipse cx='141.4' cy='124.2' rx='2.83' ry='3.10' fill='#10f060'/><ellipse cx='141.4' cy='124.2' rx='2.62' ry='2.87' fill='#e8f000'/><ellipse cx='141.4' cy='124.2' rx='2.50' ry='2.74' fill='#ff5000'/><ellipse cx='141.4' cy='124.2' rx='2.37' ry='2.60' fill='#f01000'/>
<ellipse cx='156.4' cy='123.5' rx='3.74' ry='4.10' fill='#5c10ff'/><ellipse cx='156.4' cy='123.5' rx='3.29' ry='3.61' fill='#0a10ff'/><ellipse cx='156.4' cy='123.5' rx='2.77' ry='3.04' fill='#00b8ff'/><ellipse cx='156.4' cy='123.5' rx='2.55' ry='2.79' fill='#10f060'/><ellipse cx='156.4' cy='123.5' rx='2.36' ry='2.59' fill='#e8f000'/><ellipse cx='156.4' cy='123.5' rx='2.25' ry='2.46' fill='#ff5000'/><ellipse cx='156.4' cy='123.5' rx='2.13' ry='2.34' fill='#f01000'/>
<ellipse cx='171.5' cy='125.3' rx='5.20' ry='5.70' fill='#5c10ff'/><ellipse cx='171.5' cy='125.3' rx='4.58' ry='5.02' fill='#0a10ff'/><ellipse cx='171.5' cy='125.3' rx='3.85' ry='4.22' fill='#00b8ff'/><ellipse cx='171.5' cy='125.3' rx='3.54' ry='3.88' fill='#10f060'/><ellipse cx='171.5' cy='125.3' rx='3.28' ry='3.59' fill='#e8f000'/><ellipse cx='171.5' cy='125.3' rx='3.12' ry='3.42' fill='#ff5000'/><ellipse cx='171.5' cy='125.3' rx='2.96' ry='3.25' fill='#f01000'/>
<ellipse cx='184.0' cy='124.6' rx='4.68' ry='5.13' fill='#5c10ff'/><ellipse cx='184.0' cy='124.6' rx='4.12' ry='4.51' fill='#0a10ff'/><ellipse cx='184.0' cy='124.6' rx='3.46' ry='3.80' fill='#00b8ff'/><ellipse cx='184.0' cy='124.6' rx='3.18' ry='3.49' fill='#10f060'/><ellipse cx='184.0' cy='124.6' rx='2.95' ry='3.23' fill='#e8f000'/><ellipse cx='184.0' cy='124.6' rx='2.81' ry='3.08' fill='#ff5000'/><ellipse cx='184.0' cy='124.6' rx='2.67' ry='2.92' fill='#f01000'/>
<ellipse cx='199.8' cy='123.5' rx='3.33' ry='3.65' fill='#5c10ff'/><ellipse cx='199.8' cy='123.5' rx='2.93' ry='3.21' fill='#0a10ff'/><ellipse cx='199.8' cy='123.5' rx='2.46' ry='2.70' fill='#00b8ff'/><ellipse cx='199.8' cy='123.5' rx='2.26' ry='2.48' fill='#10f060'/><ellipse cx='199.8' cy='123.5' rx='2.10' ry='2.30' fill='#e8f000'/><ellipse cx='199.8' cy='123.5' rx='2.00' ry='2.19' fill='#ff5000'/><ellipse cx='199.8' cy='123.5' rx='1.90' ry='2.08' fill='#f01000'/>
<ellipse cx='67.3' cy='116.4' rx='1.40' ry='1.40' fill='#20c0f0'/><ellipse cx='67.3' cy='116.4' rx='0.84' ry='0.84' fill='#40ff80'/>
<ellipse cx='83.4' cy='113.5' rx='1.20' ry='1.26' fill='#3030ff'/><ellipse cx='83.4' cy='113.5' rx='0.60' ry='0.63' fill='#2060ff'/>
</g></svg>
<rect x='210.7' y='104.3' width='142.30' height='38.40' fill='#303030'/>
<svg x='210.7' y='104.3' width='142.30' height='38.40' overflow='hidden'><g transform='translate(-210.7,-104.3)' filter='url(#sb)'>
<g transform='translate(222,104.3) scale(1,1.011)'><line x1='0' y1='22.6' x2='0' y2='38.5' stroke='#a8a8a8' stroke-width='1.0'/><path d='M-4.6 22.7L-7.4 24.9M2.4 22.7L6.6 24.9' stroke='#909090' stroke-width='0.9' fill='none'/><g transform='translate(-0.8,0) scale(1,0.82)'><path d='M-1.6 -0.5L1.6 -0.5C2.2 1.5 2.7 3.1 3.5 4.5C5.3 6.1 6.1 8.3 6.1 11.5L6.1 23C6.1 26 4.9 27.9 2 28.2L-2 28.2C-4.9 27.9 -6.1 26 -6.1 23L-6.1 11.5C-6.1 8.3 -5.3 6.1 -3.5 4.5C-2.7 3.1 -2.2 1.5 -1.6 -0.5Z' fill='url(#mg)'/><path d='M-1.6 -0.5L1.6 -0.5C2.2 1.5 2.7 3.1 3.5 4.5C5.3 6.1 6.1 8.3 6.1 11.5L6.1 23C6.1 26 4.9 27.9 2 28.2L-2 28.2C-4.9 27.9 -6.1 26 -6.1 23L-6.1 11.5C-6.1 8.3 -5.3 6.1 -3.5 4.5C-2.7 3.1 -2.2 1.5 -1.6 -0.5Z' fill='url(#mv)'/><ellipse cx='1.3' cy='22.4' rx='1.4' ry='3.1' fill='#8a8a8a' opacity='0.16'/><ellipse cx='-2.7' cy='17.0' rx='2.1' ry='2.2' fill='#8a8a8a' opacity='0.16'/><ellipse cx='2.6' cy='17.3' rx='2.0' ry='3.3' fill='#8a8a8a' opacity='0.16'/></g></g>
<g transform='translate(236.3,104.3) scale(1,1.011)'><line x1='0' y1='22.6' x2='0' y2='38.5' stroke='#a8a8a8' stroke-width='1.0'/><path d='M-4.6 22.7L-7.4 24.9M2.4 22.7L6.6 24.9' stroke='#909090' stroke-width='0.9' fill='none'/><g transform='translate(-0.8,0) scale(1,0.82)'><path d='M-1.6 -0.5L1.6 -0.5C2.2 1.5 2.7 3.1 3.5 4.5C5.3 6.1 6.1 8.3 6.1 11.5L6.1 23C6.1 26 4.9 27.9 2 28.2L-2 28.2C-4.9 27.9 -6.1 26 -6.1 23L-6.1 11.5C-6.1 8.3 -5.3 6.1 -3.5 4.5C-2.7 3.1 -2.2 1.5 -1.6 -0.5Z' fill='url(#mg)'/><path d='M-1.6 -0.5L1.6 -0.5C2.2 1.5 2.7 3.1 3.5 4.5C5.3 6.1 6.1 8.3 6.1 11.5L6.1 23C6.1 26 4.9 27.9 2 28.2L-2 28.2C-4.9 27.9 -6.1 26 -6.1 23L-6.1 11.5C-6.1 8.3 -5.3 6.1 -3.5 4.5C-2.7 3.1 -2.2 1.5 -1.6 -0.5Z' fill='url(#mv)'/><ellipse cx='-2.8' cy='23.9' rx='2.1' ry='2.3' fill='#8a8a8a' opacity='0.16'/><ellipse cx='2.1' cy='13.0' rx='2.6' ry='2.7' fill='#8a8a8a' opacity='0.16'/><ellipse cx='-1.0' cy='20.5' rx='1.8' ry='1.9' fill='#8a8a8a' opacity='0.16'/></g></g>
<g transform='translate(250.5,104.3) scale(1,1.011)'><line x1='0' y1='22.6' x2='0' y2='38.5' stroke='#a8a8a8' stroke-width='1.0'/><path d='M-4.6 22.7L-7.4 24.9M2.4 22.7L6.6 24.9' stroke='#909090' stroke-width='0.9' fill='none'/><g transform='translate(-0.8,0) scale(1,0.82)'><path d='M-1.6 -0.5L1.6 -0.5C2.2 1.5 2.7 3.1 3.5 4.5C5.3 6.1 6.1 8.3 6.1 11.5L6.1 23C6.1 26 4.9 27.9 2 28.2L-2 28.2C-4.9 27.9 -6.1 26 -6.1 23L-6.1 11.5C-6.1 8.3 -5.3 6.1 -3.5 4.5C-2.7 3.1 -2.2 1.5 -1.6 -0.5Z' fill='url(#mg)'/><path d='M-1.6 -0.5L1.6 -0.5C2.2 1.5 2.7 3.1 3.5 4.5C5.3 6.1 6.1 8.3 6.1 11.5L6.1 23C6.1 26 4.9 27.9 2 28.2L-2 28.2C-4.9 27.9 -6.1 26 -6.1 23L-6.1 11.5C-6.1 8.3 -5.3 6.1 -3.5 4.5C-2.7 3.1 -2.2 1.5 -1.6 -0.5Z' fill='url(#mv)'/><ellipse cx='1.7' cy='9.7' rx='2.3' ry='2.0' fill='#8a8a8a' opacity='0.16'/><ellipse cx='1.0' cy='23.8' rx='2.0' ry='2.8' fill='#8a8a8a' opacity='0.16'/><ellipse cx='-1.3' cy='9.0' rx='1.2' ry='1.8' fill='#8a8a8a' opacity='0.16'/></g></g>
<g transform='translate(265.3,104.3) scale(1,1.011)'><line x1='0' y1='22.6' x2='0' y2='38.5' stroke='#a8a8a8' stroke-width='1.0'/><path d='M-4.6 22.7L-7.4 24.9M2.4 22.7L6.6 24.9' stroke='#909090' stroke-width='0.9' fill='none'/><g transform='translate(-0.8,0) scale(1,0.82)'><path d='M-1.6 -0.5L1.6 -0.5C2.2 1.5 2.7 3.1 3.5 4.5C5.3 6.1 6.1 8.3 6.1 11.5L6.1 23C6.1 26 4.9 27.9 2 28.2L-2 28.2C-4.9 27.9 -6.1 26 -6.1 23L-6.1 11.5C-6.1 8.3 -5.3 6.1 -3.5 4.5C-2.7 3.1 -2.2 1.5 -1.6 -0.5Z' fill='url(#mg)'/><path d='M-1.6 -0.5L1.6 -0.5C2.2 1.5 2.7 3.1 3.5 4.5C5.3 6.1 6.1 8.3 6.1 11.5L6.1 23C6.1 26 4.9 27.9 2 28.2L-2 28.2C-4.9 27.9 -6.1 26 -6.1 23L-6.1 11.5C-6.1 8.3 -5.3 6.1 -3.5 4.5C-2.7 3.1 -2.2 1.5 -1.6 -0.5Z' fill='url(#mv)'/><ellipse cx='0.8' cy='15.5' rx='1.9' ry='3.3' fill='#8a8a8a' opacity='0.16'/><ellipse cx='-2.6' cy='12.4' rx='2.1' ry='1.5' fill='#8a8a8a' opacity='0.16'/><ellipse cx='-3.5' cy='14.3' rx='1.3' ry='2.2' fill='#8a8a8a' opacity='0.16'/></g></g>
<g transform='translate(285.5,104.3) scale(1,1.011)'><line x1='0' y1='22.6' x2='0' y2='38.5' stroke='#a8a8a8' stroke-width='1.0'/><path d='M-4.6 22.7L-7.4 24.9M2.4 22.7L6.6 24.9' stroke='#909090' stroke-width='0.9' fill='none'/><g transform='translate(-0.8,0) scale(1,0.82)'><path d='M-1.6 -0.5L1.6 -0.5C2.2 1.5 2.7 3.1 3.5 4.5C5.3 6.1 6.1 8.3 6.1 11.5L6.1 23C6.1 26 4.9 27.9 2 28.2L-2 28.2C-4.9 27.9 -6.1 26 -6.1 23L-6.1 11.5C-6.1 8.3 -5.3 6.1 -3.5 4.5C-2.7 3.1 -2.2 1.5 -1.6 -0.5Z' fill='url(#mg)'/><path d='M-1.6 -0.5L1.6 -0.5C2.2 1.5 2.7 3.1 3.5 4.5C5.3 6.1 6.1 8.3 6.1 11.5L6.1 23C6.1 26 4.9 27.9 2 28.2L-2 28.2C-4.9 27.9 -6.1 26 -6.1 23L-6.1 11.5C-6.1 8.3 -5.3 6.1 -3.5 4.5C-2.7 3.1 -2.2 1.5 -1.6 -0.5Z' fill='url(#mv)'/><ellipse cx='-1.9' cy='17.8' rx='2.0' ry='1.9' fill='#8a8a8a' opacity='0.16'/><ellipse cx='0.9' cy='16.1' rx='1.4' ry='3.4' fill='#8a8a8a' opacity='0.16'/><ellipse cx='-1.8' cy='11.2' rx='1.3' ry='2.8' fill='#8a8a8a' opacity='0.16'/></g></g>
<g transform='translate(299.7,104.3) scale(1,1.011)'><line x1='0' y1='22.6' x2='0' y2='38.5' stroke='#a8a8a8' stroke-width='1.0'/><path d='M-4.6 22.7L-7.4 24.9M2.4 22.7L6.6 24.9' stroke='#909090' stroke-width='0.9' fill='none'/><g transform='translate(-0.8,0) scale(1,0.82)'><path d='M-1.6 -0.5L1.6 -0.5C2.2 1.5 2.7 3.1 3.5 4.5C5.3 6.1 6.1 8.3 6.1 11.5L6.1 23C6.1 26 4.9 27.9 2 28.2L-2 28.2C-4.9 27.9 -6.1 26 -6.1 23L-6.1 11.5C-6.1 8.3 -5.3 6.1 -3.5 4.5C-2.7 3.1 -2.2 1.5 -1.6 -0.5Z' fill='url(#mg)'/><path d='M-1.6 -0.5L1.6 -0.5C2.2 1.5 2.7 3.1 3.5 4.5C5.3 6.1 6.1 8.3 6.1 11.5L6.1 23C6.1 26 4.9 27.9 2 28.2L-2 28.2C-4.9 27.9 -6.1 26 -6.1 23L-6.1 11.5C-6.1 8.3 -5.3 6.1 -3.5 4.5C-2.7 3.1 -2.2 1.5 -1.6 -0.5Z' fill='url(#mv)'/><ellipse cx='2.6' cy='20.7' rx='1.8' ry='2.0' fill='#8a8a8a' opacity='0.16'/><ellipse cx='-3.4' cy='18.7' rx='2.0' ry='2.2' fill='#8a8a8a' opacity='0.16'/><ellipse cx='1.0' cy='15.7' rx='2.5' ry='3.0' fill='#8a8a8a' opacity='0.16'/></g></g>
<g transform='translate(315.6,104.3) scale(1,1.011)'><line x1='0' y1='22.6' x2='0' y2='38.5' stroke='#a8a8a8' stroke-width='1.0'/><path d='M-4.6 22.7L-7.4 24.9M2.4 22.7L6.6 24.9' stroke='#909090' stroke-width='0.9' fill='none'/><g transform='translate(-0.8,0) scale(1,0.82)'><path d='M-1.6 -0.5L1.6 -0.5C2.2 1.5 2.7 3.1 3.5 4.5C5.3 6.1 6.1 8.3 6.1 11.5L6.1 23C6.1 26 4.9 27.9 2 28.2L-2 28.2C-4.9 27.9 -6.1 26 -6.1 23L-6.1 11.5C-6.1 8.3 -5.3 6.1 -3.5 4.5C-2.7 3.1 -2.2 1.5 -1.6 -0.5Z' fill='url(#mg)'/><path d='M-1.6 -0.5L1.6 -0.5C2.2 1.5 2.7 3.1 3.5 4.5C5.3 6.1 6.1 8.3 6.1 11.5L6.1 23C6.1 26 4.9 27.9 2 28.2L-2 28.2C-4.9 27.9 -6.1 26 -6.1 23L-6.1 11.5C-6.1 8.3 -5.3 6.1 -3.5 4.5C-2.7 3.1 -2.2 1.5 -1.6 -0.5Z' fill='url(#mv)'/><ellipse cx='-1.8' cy='22.6' rx='1.3' ry='2.6' fill='#8a8a8a' opacity='0.16'/><ellipse cx='-0.7' cy='12.6' rx='1.3' ry='3.1' fill='#8a8a8a' opacity='0.16'/><ellipse cx='-3.4' cy='17.3' rx='2.5' ry='1.8' fill='#8a8a8a' opacity='0.16'/></g></g>
<g transform='translate(333.6,104.3) scale(1,1.011)'><line x1='0' y1='22.6' x2='0' y2='38.5' stroke='#a8a8a8' stroke-width='1.0'/><path d='M-4.6 22.7L-7.4 24.9M2.4 22.7L6.6 24.9' stroke='#909090' stroke-width='0.9' fill='none'/><g transform='translate(-0.8,0) scale(1,0.82)'><path d='M-1.6 -0.5L1.6 -0.5C2.2 1.5 2.7 3.1 3.5 4.5C5.3 6.1 6.1 8.3 6.1 11.5L6.1 23C6.1 26 4.9 27.9 2 28.2L-2 28.2C-4.9 27.9 -6.1 26 -6.1 23L-6.1 11.5C-6.1 8.3 -5.3 6.1 -3.5 4.5C-2.7 3.1 -2.2 1.5 -1.6 -0.5Z' fill='url(#mg)'/><path d='M-1.6 -0.5L1.6 -0.5C2.2 1.5 2.7 3.1 3.5 4.5C5.3 6.1 6.1 8.3 6.1 11.5L6.1 23C6.1 26 4.9 27.9 2 28.2L-2 28.2C-4.9 27.9 -6.1 26 -6.1 23L-6.1 11.5C-6.1 8.3 -5.3 6.1 -3.5 4.5C-2.7 3.1 -2.2 1.5 -1.6 -0.5Z' fill='url(#mv)'/><ellipse cx='-2.1' cy='18.1' rx='1.9' ry='2.8' fill='#8a8a8a' opacity='0.16'/><ellipse cx='2.2' cy='11.6' rx='1.6' ry='2.1' fill='#8a8a8a' opacity='0.16'/><ellipse cx='-3.2' cy='22.3' rx='2.3' ry='2.9' fill='#8a8a8a' opacity='0.16'/></g></g>
<g transform='translate(347.3,104.3) scale(1,1.011)'><line x1='0' y1='22.6' x2='0' y2='38.5' stroke='#a8a8a8' stroke-width='1.0'/><path d='M-4.6 22.7L-7.4 24.9M2.4 22.7L6.6 24.9' stroke='#909090' stroke-width='0.9' fill='none'/><g transform='translate(-0.8,0) scale(1,0.82)'><path d='M-1.6 -0.5L1.6 -0.5C2.2 1.5 2.7 3.1 3.5 4.5C5.3 6.1 6.1 8.3 6.1 11.5L6.1 23C6.1 26 4.9 27.9 2 28.2L-2 28.2C-4.9 27.9 -6.1 26 -6.1 23L-6.1 11.5C-6.1 8.3 -5.3 6.1 -3.5 4.5C-2.7 3.1 -2.2 1.5 -1.6 -0.5Z' fill='url(#mg)'/><path d='M-1.6 -0.5L1.6 -0.5C2.2 1.5 2.7 3.1 3.5 4.5C5.3 6.1 6.1 8.3 6.1 11.5L6.1 23C6.1 26 4.9 27.9 2 28.2L-2 28.2C-4.9 27.9 -6.1 26 -6.1 23L-6.1 11.5C-6.1 8.3 -5.3 6.1 -3.5 4.5C-2.7 3.1 -2.2 1.5 -1.6 -0.5Z' fill='url(#mv)'/><ellipse cx='-3.5' cy='21.7' rx='2.2' ry='2.4' fill='#8a8a8a' opacity='0.16'/><ellipse cx='1.7' cy='15.8' rx='1.5' ry='1.7' fill='#8a8a8a' opacity='0.16'/><ellipse cx='-1.9' cy='9.6' rx='1.7' ry='3.0' fill='#8a8a8a' opacity='0.16'/></g></g>
<ellipse cx='231.5' cy='122' rx='7' ry='4.5' fill='#5c10ff'/>
<ellipse cx='226' cy='115' rx='3' ry='5' fill='#5c10ff'/>
<ellipse cx='239.5' cy='113' rx='3.2' ry='5.5' fill='#5c10ff'/>
<ellipse cx='302' cy='116' rx='2.8' ry='5.5' fill='#5c10ff'/>
<ellipse cx='224.5' cy='122.3' rx='6.03' ry='6.61' fill='#5c10ff'/><ellipse cx='224.5' cy='122.3' rx='5.31' ry='5.82' fill='#0a10ff'/><ellipse cx='224.5' cy='122.3' rx='4.46' ry='4.89' fill='#00b8ff'/><ellipse cx='224.5' cy='122.3' rx='4.10' ry='4.50' fill='#10f060'/><ellipse cx='224.5' cy='122.3' rx='3.80' ry='4.17' fill='#e8f000'/><ellipse cx='224.5' cy='122.3' rx='3.62' ry='3.97' fill='#ff5000'/><ellipse cx='224.5' cy='122.3' rx='3.44' ry='3.77' fill='#f01000'/>
<ellipse cx='238.5' cy='121.9' rx='6.86' ry='7.52' fill='#5c10ff'/><ellipse cx='238.5' cy='121.9' rx='6.04' ry='6.62' fill='#0a10ff'/><ellipse cx='238.5' cy='121.9' rx='5.08' ry='5.57' fill='#00b8ff'/><ellipse cx='238.5' cy='121.9' rx='4.67' ry='5.12' fill='#10f060'/><ellipse cx='238.5' cy='121.9' rx='4.32' ry='4.74' fill='#e8f000'/><ellipse cx='238.5' cy='121.9' rx='4.12' ry='4.51' fill='#ff5000'/><ellipse cx='238.5' cy='121.9' rx='3.91' ry='4.29' fill='#f01000'/>
<ellipse cx='252.5' cy='120.6' rx='5.20' ry='5.70' fill='#5c10ff'/><ellipse cx='252.5' cy='120.6' rx='4.58' ry='5.02' fill='#0a10ff'/><ellipse cx='252.5' cy='120.6' rx='3.85' ry='4.22' fill='#00b8ff'/><ellipse cx='252.5' cy='120.6' rx='3.54' ry='3.88' fill='#10f060'/><ellipse cx='252.5' cy='120.6' rx='3.28' ry='3.59' fill='#e8f000'/><ellipse cx='252.5' cy='120.6' rx='3.12' ry='3.42' fill='#ff5000'/><ellipse cx='252.5' cy='120.6' rx='2.96' ry='3.25' fill='#f01000'/>
<ellipse cx='266.6' cy='121.9' rx='4.99' ry='5.47' fill='#5c10ff'/><ellipse cx='266.6' cy='121.9' rx='4.39' ry='4.82' fill='#0a10ff'/><ellipse cx='266.6' cy='121.9' rx='3.69' ry='4.05' fill='#00b8ff'/><ellipse cx='266.6' cy='121.9' rx='3.39' ry='3.72' fill='#10f060'/><ellipse cx='266.6' cy='121.9' rx='3.14' ry='3.45' fill='#e8f000'/><ellipse cx='266.6' cy='121.9' rx='3.00' ry='3.28' fill='#ff5000'/><ellipse cx='266.6' cy='121.9' rx='2.85' ry='3.12' fill='#f01000'/>
<ellipse cx='287.6' cy='123.5' rx='4.47' ry='4.90' fill='#5c10ff'/><ellipse cx='287.6' cy='123.5' rx='3.94' ry='4.31' fill='#0a10ff'/><ellipse cx='287.6' cy='123.5' rx='3.31' ry='3.63' fill='#00b8ff'/><ellipse cx='287.6' cy='123.5' rx='3.04' ry='3.33' fill='#10f060'/><ellipse cx='287.6' cy='123.5' rx='2.82' ry='3.09' fill='#e8f000'/><ellipse cx='287.6' cy='123.5' rx='2.68' ry='2.94' fill='#ff5000'/><ellipse cx='287.6' cy='123.5' rx='2.55' ry='2.79' fill='#f01000'/>
<ellipse cx='301.2' cy='122.8' rx='5.41' ry='5.93' fill='#5c10ff'/><ellipse cx='301.2' cy='122.8' rx='4.76' ry='5.22' fill='#0a10ff'/><ellipse cx='301.2' cy='122.8' rx='4.00' ry='4.39' fill='#00b8ff'/><ellipse cx='301.2' cy='122.8' rx='3.68' ry='4.03' fill='#10f060'/><ellipse cx='301.2' cy='122.8' rx='3.41' ry='3.73' fill='#e8f000'/><ellipse cx='301.2' cy='122.8' rx='3.24' ry='3.56' fill='#ff5000'/><ellipse cx='301.2' cy='122.8' rx='3.08' ry='3.38' fill='#f01000'/>
<ellipse cx='318.8' cy='122.8' rx='4.47' ry='4.90' fill='#5c10ff'/><ellipse cx='318.8' cy='122.8' rx='3.94' ry='4.31' fill='#0a10ff'/><ellipse cx='318.8' cy='122.8' rx='3.31' ry='3.63' fill='#00b8ff'/><ellipse cx='318.8' cy='122.8' rx='3.04' ry='3.33' fill='#10f060'/><ellipse cx='318.8' cy='122.8' rx='2.82' ry='3.09' fill='#e8f000'/><ellipse cx='318.8' cy='122.8' rx='2.68' ry='2.94' fill='#ff5000'/><ellipse cx='318.8' cy='122.8' rx='2.55' ry='2.79' fill='#f01000'/>
<ellipse cx='335.1' cy='122.4' rx='4.37' ry='4.79' fill='#5c10ff'/><ellipse cx='335.1' cy='122.4' rx='3.84' ry='4.21' fill='#0a10ff'/><ellipse cx='335.1' cy='122.4' rx='3.23' ry='3.54' fill='#00b8ff'/><ellipse cx='335.1' cy='122.4' rx='2.97' ry='3.26' fill='#10f060'/><ellipse cx='335.1' cy='122.4' rx='2.75' ry='3.02' fill='#e8f000'/><ellipse cx='335.1' cy='122.4' rx='2.62' ry='2.87' fill='#ff5000'/><ellipse cx='335.1' cy='122.4' rx='2.49' ry='2.73' fill='#f01000'/>
<ellipse cx='349.4' cy='121.9' rx='3.33' ry='3.65' fill='#5c10ff'/><ellipse cx='349.4' cy='121.9' rx='2.93' ry='3.21' fill='#0a10ff'/><ellipse cx='349.4' cy='121.9' rx='2.46' ry='2.70' fill='#00b8ff'/><ellipse cx='349.4' cy='121.9' rx='2.26' ry='2.48' fill='#10f060'/><ellipse cx='349.4' cy='121.9' rx='2.10' ry='2.30' fill='#e8f000'/><ellipse cx='349.4' cy='121.9' rx='2.00' ry='2.19' fill='#ff5000'/><ellipse cx='349.4' cy='121.9' rx='1.90' ry='2.08' fill='#f01000'/>
</g></svg>
<rect x='357' y='105.5' width='150.30' height='38.10' fill='#303030'/>
<svg x='357' y='105.5' width='150.30' height='38.10' overflow='hidden'><g transform='translate(-357,-105.5)' filter='url(#sb)'>
<g transform='translate(368.1,105.5) scale(1,1.003)'><line x1='0' y1='22.9' x2='0' y2='38.5' stroke='#a8a8a8' stroke-width='1.0'/><path d='M-4.6 23.0L-7.4 25.2M2.4 23.0L6.6 25.2' stroke='#909090' stroke-width='0.9' fill='none'/><g transform='translate(-0.8,0) scale(1,0.83)'><path d='M-1.6 -0.5L1.6 -0.5C2.2 1.5 2.7 3.1 3.5 4.5C5.3 6.1 6.1 8.3 6.1 11.5L6.1 23C6.1 26 4.9 27.9 2 28.2L-2 28.2C-4.9 27.9 -6.1 26 -6.1 23L-6.1 11.5C-6.1 8.3 -5.3 6.1 -3.5 4.5C-2.7 3.1 -2.2 1.5 -1.6 -0.5Z' fill='url(#mg)'/><path d='M-1.6 -0.5L1.6 -0.5C2.2 1.5 2.7 3.1 3.5 4.5C5.3 6.1 6.1 8.3 6.1 11.5L6.1 23C6.1 26 4.9 27.9 2 28.2L-2 28.2C-4.9 27.9 -6.1 26 -6.1 23L-6.1 11.5C-6.1 8.3 -5.3 6.1 -3.5 4.5C-2.7 3.1 -2.2 1.5 -1.6 -0.5Z' fill='url(#mv)'/><ellipse cx='1.4' cy='21.7' rx='2.2' ry='2.0' fill='#8a8a8a' opacity='0.16'/><ellipse cx='0.4' cy='15.5' rx='2.3' ry='2.5' fill='#8a8a8a' opacity='0.16'/><ellipse cx='-1.6' cy='18.6' rx='2.6' ry='1.9' fill='#8a8a8a' opacity='0.16'/></g></g>
<g transform='translate(381.3,105.5) scale(1,1.003)'><line x1='0' y1='22.9' x2='0' y2='38.5' stroke='#a8a8a8' stroke-width='1.0'/><path d='M-4.6 23.0L-7.4 25.2M2.4 23.0L6.6 25.2' stroke='#909090' stroke-width='0.9' fill='none'/><g transform='translate(-0.8,0) scale(1,0.83)'><path d='M-1.6 -0.5L1.6 -0.5C2.2 1.5 2.7 3.1 3.5 4.5C5.3 6.1 6.1 8.3 6.1 11.5L6.1 23C6.1 26 4.9 27.9 2 28.2L-2 28.2C-4.9 27.9 -6.1 26 -6.1 23L-6.1 11.5C-6.1 8.3 -5.3 6.1 -3.5 4.5C-2.7 3.1 -2.2 1.5 -1.6 -0.5Z' fill='url(#mg)'/><path d='M-1.6 -0.5L1.6 -0.5C2.2 1.5 2.7 3.1 3.5 4.5C5.3 6.1 6.1 8.3 6.1 11.5L6.1 23C6.1 26 4.9 27.9 2 28.2L-2 28.2C-4.9 27.9 -6.1 26 -6.1 23L-6.1 11.5C-6.1 8.3 -5.3 6.1 -3.5 4.5C-2.7 3.1 -2.2 1.5 -1.6 -0.5Z' fill='url(#mv)'/><ellipse cx='2.7' cy='9.2' rx='1.6' ry='2.0' fill='#8a8a8a' opacity='0.16'/><ellipse cx='1.7' cy='23.2' rx='2.2' ry='2.2' fill='#8a8a8a' opacity='0.16'/><ellipse cx='2.7' cy='13.9' rx='1.5' ry='3.3' fill='#8a8a8a' opacity='0.16'/></g></g>
<g transform='translate(395,105.5) scale(1,1.003)'><line x1='0' y1='22.9' x2='0' y2='38.5' stroke='#a8a8a8' stroke-width='1.0'/><path d='M-4.6 23.0L-7.4 25.2M2.4 23.0L6.6 25.2' stroke='#909090' stroke-width='0.9' fill='none'/><g transform='translate(-0.8,0) scale(1,0.83)'><path d='M-1.6 -0.5L1.6 -0.5C2.2 1.5 2.7 3.1 3.5 4.5C5.3 6.1 6.1 8.3 6.1 11.5L6.1 23C6.1 26 4.9 27.9 2 28.2L-2 28.2C-4.9 27.9 -6.1 26 -6.1 23L-6.1 11.5C-6.1 8.3 -5.3 6.1 -3.5 4.5C-2.7 3.1 -2.2 1.5 -1.6 -0.5Z' fill='url(#mg)'/><path d='M-1.6 -0.5L1.6 -0.5C2.2 1.5 2.7 3.1 3.5 4.5C5.3 6.1 6.1 8.3 6.1 11.5L6.1 23C6.1 26 4.9 27.9 2 28.2L-2 28.2C-4.9 27.9 -6.1 26 -6.1 23L-6.1 11.5C-6.1 8.3 -5.3 6.1 -3.5 4.5C-2.7 3.1 -2.2 1.5 -1.6 -0.5Z' fill='url(#mv)'/><ellipse cx='0.9' cy='19.4' rx='2.1' ry='3.5' fill='#8a8a8a' opacity='0.16'/><ellipse cx='-0.2' cy='21.6' rx='2.2' ry='3.2' fill='#8a8a8a' opacity='0.16'/><ellipse cx='-0.4' cy='19.9' rx='2.0' ry='2.1' fill='#8a8a8a' opacity='0.16'/></g></g>
<g transform='translate(409.2,105.5) scale(1,1.003)'><line x1='0' y1='22.9' x2='0' y2='38.5' stroke='#a8a8a8' stroke-width='1.0'/><path d='M-4.6 23.0L-7.4 25.2M2.4 23.0L6.6 25.2' stroke='#909090' stroke-width='0.9' fill='none'/><g transform='translate(-0.8,0) scale(1,0.83)'><path d='M-1.6 -0.5L1.6 -0.5C2.2 1.5 2.7 3.1 3.5 4.5C5.3 6.1 6.1 8.3 6.1 11.5L6.1 23C6.1 26 4.9 27.9 2 28.2L-2 28.2C-4.9 27.9 -6.1 26 -6.1 23L-6.1 11.5C-6.1 8.3 -5.3 6.1 -3.5 4.5C-2.7 3.1 -2.2 1.5 -1.6 -0.5Z' fill='url(#mg)'/><path d='M-1.6 -0.5L1.6 -0.5C2.2 1.5 2.7 3.1 3.5 4.5C5.3 6.1 6.1 8.3 6.1 11.5L6.1 23C6.1 26 4.9 27.9 2 28.2L-2 28.2C-4.9 27.9 -6.1 26 -6.1 23L-6.1 11.5C-6.1 8.3 -5.3 6.1 -3.5 4.5C-2.7 3.1 -2.2 1.5 -1.6 -0.5Z' fill='url(#mv)'/><ellipse cx='-2.0' cy='18.3' rx='1.3' ry='3.3' fill='#8a8a8a' opacity='0.16'/><ellipse cx='-2.5' cy='9.4' rx='1.3' ry='3.4' fill='#8a8a8a' opacity='0.16'/><ellipse cx='-1.1' cy='11.1' rx='1.2' ry='1.6' fill='#8a8a8a' opacity='0.16'/></g></g>
<g transform='translate(425.1,105.5) scale(1,1.003)'><line x1='0' y1='22.9' x2='0' y2='38.5' stroke='#a8a8a8' stroke-width='1.0'/><path d='M-4.6 23.0L-7.4 25.2M2.4 23.0L6.6 25.2' stroke='#909090' stroke-width='0.9' fill='none'/><g transform='translate(-0.8,0) scale(1,0.83)'><path d='M-1.6 -0.5L1.6 -0.5C2.2 1.5 2.7 3.1 3.5 4.5C5.3 6.1 6.1 8.3 6.1 11.5L6.1 23C6.1 26 4.9 27.9 2 28.2L-2 28.2C-4.9 27.9 -6.1 26 -6.1 23L-6.1 11.5C-6.1 8.3 -5.3 6.1 -3.5 4.5C-2.7 3.1 -2.2 1.5 -1.6 -0.5Z' fill='url(#mg)'/><path d='M-1.6 -0.5L1.6 -0.5C2.2 1.5 2.7 3.1 3.5 4.5C5.3 6.1 6.1 8.3 6.1 11.5L6.1 23C6.1 26 4.9 27.9 2 28.2L-2 28.2C-4.9 27.9 -6.1 26 -6.1 23L-6.1 11.5C-6.1 8.3 -5.3 6.1 -3.5 4.5C-2.7 3.1 -2.2 1.5 -1.6 -0.5Z' fill='url(#mv)'/><ellipse cx='1.3' cy='18.5' rx='2.2' ry='3.0' fill='#8a8a8a' opacity='0.16'/><ellipse cx='-3.0' cy='17.9' rx='1.7' ry='3.1' fill='#8a8a8a' opacity='0.16'/><ellipse cx='2.2' cy='22.4' rx='1.3' ry='3.2' fill='#8a8a8a' opacity='0.16'/></g></g>
<g transform='translate(441.4,105.5) scale(1,1.003)'><line x1='0' y1='22.9' x2='0' y2='38.5' stroke='#a8a8a8' stroke-width='1.0'/><path d='M-4.6 23.0L-7.4 25.2M2.4 23.0L6.6 25.2' stroke='#909090' stroke-width='0.9' fill='none'/><g transform='translate(-0.8,0) scale(1,0.83)'><path d='M-1.6 -0.5L1.6 -0.5C2.2 1.5 2.7 3.1 3.5 4.5C5.3 6.1 6.1 8.3 6.1 11.5L6.1 23C6.1 26 4.9 27.9 2 28.2L-2 28.2C-4.9 27.9 -6.1 26 -6.1 23L-6.1 11.5C-6.1 8.3 -5.3 6.1 -3.5 4.5C-2.7 3.1 -2.2 1.5 -1.6 -0.5Z' fill='url(#mg)'/><path d='M-1.6 -0.5L1.6 -0.5C2.2 1.5 2.7 3.1 3.5 4.5C5.3 6.1 6.1 8.3 6.1 11.5L6.1 23C6.1 26 4.9 27.9 2 28.2L-2 28.2C-4.9 27.9 -6.1 26 -6.1 23L-6.1 11.5C-6.1 8.3 -5.3 6.1 -3.5 4.5C-2.7 3.1 -2.2 1.5 -1.6 -0.5Z' fill='url(#mv)'/><ellipse cx='2.9' cy='23.2' rx='1.3' ry='1.9' fill='#8a8a8a' opacity='0.16'/><ellipse cx='-2.7' cy='9.5' rx='2.4' ry='3.1' fill='#8a8a8a' opacity='0.16'/><ellipse cx='0.9' cy='21.4' rx='2.1' ry='2.1' fill='#8a8a8a' opacity='0.16'/></g></g>
<g transform='translate(455,105.5) scale(1,1.003)'><line x1='0' y1='22.9' x2='0' y2='38.5' stroke='#a8a8a8' stroke-width='1.0'/><path d='M-4.6 23.0L-7.4 25.2M2.4 23.0L6.6 25.2' stroke='#909090' stroke-width='0.9' fill='none'/><g transform='translate(-0.8,0) scale(1,0.83)'><path d='M-1.6 -0.5L1.6 -0.5C2.2 1.5 2.7 3.1 3.5 4.5C5.3 6.1 6.1 8.3 6.1 11.5L6.1 23C6.1 26 4.9 27.9 2 28.2L-2 28.2C-4.9 27.9 -6.1 26 -6.1 23L-6.1 11.5C-6.1 8.3 -5.3 6.1 -3.5 4.5C-2.7 3.1 -2.2 1.5 -1.6 -0.5Z' fill='url(#mg)'/><path d='M-1.6 -0.5L1.6 -0.5C2.2 1.5 2.7 3.1 3.5 4.5C5.3 6.1 6.1 8.3 6.1 11.5L6.1 23C6.1 26 4.9 27.9 2 28.2L-2 28.2C-4.9 27.9 -6.1 26 -6.1 23L-6.1 11.5C-6.1 8.3 -5.3 6.1 -3.5 4.5C-2.7 3.1 -2.2 1.5 -1.6 -0.5Z' fill='url(#mv)'/><ellipse cx='-2.8' cy='10.5' rx='2.3' ry='1.9' fill='#8a8a8a' opacity='0.16'/><ellipse cx='-1.3' cy='15.4' rx='1.2' ry='2.0' fill='#8a8a8a' opacity='0.16'/><ellipse cx='-1.5' cy='19.7' rx='1.7' ry='2.1' fill='#8a8a8a' opacity='0.16'/></g></g>
<g transform='translate(472.7,105.5) scale(1,1.003)'><line x1='0' y1='22.9' x2='0' y2='38.5' stroke='#a8a8a8' stroke-width='1.0'/><path d='M-4.6 23.0L-7.4 25.2M2.4 23.0L6.6 25.2' stroke='#909090' stroke-width='0.9' fill='none'/><g transform='translate(-0.8,0) scale(1,0.83)'><path d='M-1.6 -0.5L1.6 -0.5C2.2 1.5 2.7 3.1 3.5 4.5C5.3 6.1 6.1 8.3 6.1 11.5L6.1 23C6.1 26 4.9 27.9 2 28.2L-2 28.2C-4.9 27.9 -6.1 26 -6.1 23L-6.1 11.5C-6.1 8.3 -5.3 6.1 -3.5 4.5C-2.7 3.1 -2.2 1.5 -1.6 -0.5Z' fill='url(#mg)'/><path d='M-1.6 -0.5L1.6 -0.5C2.2 1.5 2.7 3.1 3.5 4.5C5.3 6.1 6.1 8.3 6.1 11.5L6.1 23C6.1 26 4.9 27.9 2 28.2L-2 28.2C-4.9 27.9 -6.1 26 -6.1 23L-6.1 11.5C-6.1 8.3 -5.3 6.1 -3.5 4.5C-2.7 3.1 -2.2 1.5 -1.6 -0.5Z' fill='url(#mv)'/><ellipse cx='3.2' cy='16.6' rx='2.4' ry='2.7' fill='#8a8a8a' opacity='0.16'/><ellipse cx='-3.3' cy='15.2' rx='1.8' ry='3.0' fill='#8a8a8a' opacity='0.16'/><ellipse cx='-1.1' cy='19.6' rx='2.0' ry='1.9' fill='#8a8a8a' opacity='0.16'/></g></g>
<g transform='translate(485.2,105.5) scale(1,1.003)'><line x1='0' y1='22.9' x2='0' y2='38.5' stroke='#a8a8a8' stroke-width='1.0'/><path d='M-4.6 23.0L-7.4 25.2M2.4 23.0L6.6 25.2' stroke='#909090' stroke-width='0.9' fill='none'/><g transform='translate(-0.8,0) scale(1,0.83)'><path d='M-1.6 -0.5L1.6 -0.5C2.2 1.5 2.7 3.1 3.5 4.5C5.3 6.1 6.1 8.3 6.1 11.5L6.1 23C6.1 26 4.9 27.9 2 28.2L-2 28.2C-4.9 27.9 -6.1 26 -6.1 23L-6.1 11.5C-6.1 8.3 -5.3 6.1 -3.5 4.5C-2.7 3.1 -2.2 1.5 -1.6 -0.5Z' fill='url(#mg)'/><path d='M-1.6 -0.5L1.6 -0.5C2.2 1.5 2.7 3.1 3.5 4.5C5.3 6.1 6.1 8.3 6.1 11.5L6.1 23C6.1 26 4.9 27.9 2 28.2L-2 28.2C-4.9 27.9 -6.1 26 -6.1 23L-6.1 11.5C-6.1 8.3 -5.3 6.1 -3.5 4.5C-2.7 3.1 -2.2 1.5 -1.6 -0.5Z' fill='url(#mv)'/><ellipse cx='2.5' cy='10.4' rx='2.3' ry='1.8' fill='#8a8a8a' opacity='0.16'/><ellipse cx='-3.5' cy='12.0' rx='2.3' ry='3.5' fill='#8a8a8a' opacity='0.16'/><ellipse cx='-3.5' cy='16.4' rx='1.9' ry='3.1' fill='#8a8a8a' opacity='0.16'/></g></g>
<g transform='translate(498.9,105.5) scale(1,1.003)'><line x1='0' y1='22.9' x2='0' y2='38.5' stroke='#a8a8a8' stroke-width='1.0'/><path d='M-4.6 23.0L-7.4 25.2M2.4 23.0L6.6 25.2' stroke='#909090' stroke-width='0.9' fill='none'/><g transform='translate(-0.8,0) scale(1,0.83)'><path d='M-1.6 -0.5L1.6 -0.5C2.2 1.5 2.7 3.1 3.5 4.5C5.3 6.1 6.1 8.3 6.1 11.5L6.1 23C6.1 26 4.9 27.9 2 28.2L-2 28.2C-4.9 27.9 -6.1 26 -6.1 23L-6.1 11.5C-6.1 8.3 -5.3 6.1 -3.5 4.5C-2.7 3.1 -2.2 1.5 -1.6 -0.5Z' fill='url(#mg)'/><path d='M-1.6 -0.5L1.6 -0.5C2.2 1.5 2.7 3.1 3.5 4.5C5.3 6.1 6.1 8.3 6.1 11.5L6.1 23C6.1 26 4.9 27.9 2 28.2L-2 28.2C-4.9 27.9 -6.1 26 -6.1 23L-6.1 11.5C-6.1 8.3 -5.3 6.1 -3.5 4.5C-2.7 3.1 -2.2 1.5 -1.6 -0.5Z' fill='url(#mv)'/><ellipse cx='-2.2' cy='16.4' rx='1.7' ry='3.2' fill='#8a8a8a' opacity='0.16'/><ellipse cx='-1.7' cy='23.2' rx='1.6' ry='1.9' fill='#8a8a8a' opacity='0.16'/><ellipse cx='1.4' cy='16.5' rx='1.4' ry='2.8' fill='#8a8a8a' opacity='0.16'/></g></g>
<ellipse cx='365.5' cy='126.1' rx='4.89' ry='5.36' fill='#5c10ff'/><ellipse cx='365.5' cy='126.1' rx='4.30' ry='4.72' fill='#0a10ff'/><ellipse cx='365.5' cy='126.1' rx='3.62' ry='3.96' fill='#00b8ff'/><ellipse cx='365.5' cy='126.1' rx='3.32' ry='3.64' fill='#10f060'/><ellipse cx='365.5' cy='126.1' rx='3.08' ry='3.38' fill='#e8f000'/><ellipse cx='365.5' cy='126.1' rx='2.93' ry='3.21' fill='#ff5000'/><ellipse cx='365.5' cy='126.1' rx='2.79' ry='3.05' fill='#f01000'/>
<ellipse cx='380.5' cy='124.2' rx='2.70' ry='2.92' fill='#5020ff'/><ellipse cx='380.5' cy='124.2' rx='2.11' ry='2.27' fill='#1a40ff'/><ellipse cx='380.5' cy='124.2' rx='1.57' ry='1.69' fill='#00d0f0'/><ellipse cx='380.5' cy='124.2' rx='1.13' ry='1.22' fill='#40ff60'/>
<ellipse cx='398.3' cy='123.0' rx='2.29' ry='2.51' fill='#5c10ff'/><ellipse cx='398.3' cy='123.0' rx='2.01' ry='2.21' fill='#0a10ff'/><ellipse cx='398.3' cy='123.0' rx='1.69' ry='1.86' fill='#00b8ff'/><ellipse cx='398.3' cy='123.0' rx='1.56' ry='1.71' fill='#10f060'/><ellipse cx='398.3' cy='123.0' rx='1.44' ry='1.58' fill='#e8f000'/><ellipse cx='398.3' cy='123.0' rx='1.37' ry='1.50' fill='#ff5000'/><ellipse cx='398.3' cy='123.0' rx='1.30' ry='1.43' fill='#f01000'/>
<ellipse cx='413.2' cy='125.4' rx='2.20' ry='2.38' fill='#5020ff'/><ellipse cx='413.2' cy='125.4' rx='1.72' ry='1.85' fill='#1a40ff'/><ellipse cx='413.2' cy='125.4' rx='1.28' ry='1.38' fill='#00d0f0'/><ellipse cx='413.2' cy='125.4' rx='0.92' ry='1.00' fill='#40ff60'/>
<ellipse cx='429.1' cy='125.4' rx='2.60' ry='2.81' fill='#5020ff'/><ellipse cx='429.1' cy='125.4' rx='2.03' ry='2.19' fill='#1a40ff'/><ellipse cx='429.1' cy='125.4' rx='1.51' ry='1.63' fill='#00d0f0'/><ellipse cx='429.1' cy='125.4' rx='1.09' ry='1.18' fill='#40ff60'/>
<ellipse cx='442.6' cy='123.0' rx='3.85' ry='4.22' fill='#5c10ff'/><ellipse cx='442.6' cy='123.0' rx='3.39' ry='3.71' fill='#0a10ff'/><ellipse cx='442.6' cy='123.0' rx='2.85' ry='3.12' fill='#00b8ff'/><ellipse cx='442.6' cy='123.0' rx='2.62' ry='2.87' fill='#10f060'/><ellipse cx='442.6' cy='123.0' rx='2.42' ry='2.66' fill='#e8f000'/><ellipse cx='442.6' cy='123.0' rx='2.31' ry='2.53' fill='#ff5000'/><ellipse cx='442.6' cy='123.0' rx='2.19' ry='2.40' fill='#f01000'/>
<ellipse cx='457.1' cy='121.9' rx='3.85' ry='4.22' fill='#5c10ff'/><ellipse cx='457.1' cy='121.9' rx='3.39' ry='3.71' fill='#0a10ff'/><ellipse cx='457.1' cy='121.9' rx='2.85' ry='3.12' fill='#00b8ff'/><ellipse cx='457.1' cy='121.9' rx='2.62' ry='2.87' fill='#10f060'/><ellipse cx='457.1' cy='121.9' rx='2.42' ry='2.66' fill='#e8f000'/><ellipse cx='457.1' cy='121.9' rx='2.31' ry='2.53' fill='#ff5000'/><ellipse cx='457.1' cy='121.9' rx='2.19' ry='2.40' fill='#f01000'/>
<ellipse cx='488.7' cy='121.9' rx='3.85' ry='4.22' fill='#5c10ff'/><ellipse cx='488.7' cy='121.9' rx='3.39' ry='3.71' fill='#0a10ff'/><ellipse cx='488.7' cy='121.9' rx='2.85' ry='3.12' fill='#00b8ff'/><ellipse cx='488.7' cy='121.9' rx='2.62' ry='2.87' fill='#10f060'/><ellipse cx='488.7' cy='121.9' rx='2.42' ry='2.66' fill='#e8f000'/><ellipse cx='488.7' cy='121.9' rx='2.31' ry='2.53' fill='#ff5000'/><ellipse cx='488.7' cy='121.9' rx='2.19' ry='2.40' fill='#f01000'/>
<ellipse cx='500.3' cy='121.9' rx='2.81' ry='3.08' fill='#5c10ff'/><ellipse cx='500.3' cy='121.9' rx='2.47' ry='2.71' fill='#0a10ff'/><ellipse cx='500.3' cy='121.9' rx='2.08' ry='2.28' fill='#00b8ff'/><ellipse cx='500.3' cy='121.9' rx='1.91' ry='2.09' fill='#10f060'/><ellipse cx='500.3' cy='121.9' rx='1.77' ry='1.94' fill='#e8f000'/><ellipse cx='500.3' cy='121.9' rx='1.68' ry='1.85' fill='#ff5000'/><ellipse cx='500.3' cy='121.9' rx='1.60' ry='1.75' fill='#f01000'/>
</g></svg>
<rect x='510.9' y='105.8' width='134.90' height='37.50' fill='#303030'/>
<svg x='510.9' y='105.8' width='134.90' height='37.50' overflow='hidden'><g transform='translate(-510.9,-105.8)' filter='url(#sb)'>
<g transform='translate(522.1,105.8) scale(1,0.987)'><line x1='0' y1='23.2' x2='0' y2='38.5' stroke='#a8a8a8' stroke-width='1.0'/><path d='M-4.6 23.3L-7.4 25.5M2.4 23.3L6.6 25.5' stroke='#909090' stroke-width='0.9' fill='none'/><g transform='translate(-0.8,0) scale(1,0.84)'><path d='M-1.6 -0.5L1.6 -0.5C2.2 1.5 2.7 3.1 3.5 4.5C5.3 6.1 6.1 8.3 6.1 11.5L6.1 23C6.1 26 4.9 27.9 2 28.2L-2 28.2C-4.9 27.9 -6.1 26 -6.1 23L-6.1 11.5C-6.1 8.3 -5.3 6.1 -3.5 4.5C-2.7 3.1 -2.2 1.5 -1.6 -0.5Z' fill='url(#mg)'/><path d='M-1.6 -0.5L1.6 -0.5C2.2 1.5 2.7 3.1 3.5 4.5C5.3 6.1 6.1 8.3 6.1 11.5L6.1 23C6.1 26 4.9 27.9 2 28.2L-2 28.2C-4.9 27.9 -6.1 26 -6.1 23L-6.1 11.5C-6.1 8.3 -5.3 6.1 -3.5 4.5C-2.7 3.1 -2.2 1.5 -1.6 -0.5Z' fill='url(#mv)'/><ellipse cx='-2.9' cy='20.8' rx='2.2' ry='3.1' fill='#8a8a8a' opacity='0.16'/><ellipse cx='0.9' cy='14.3' rx='1.8' ry='2.3' fill='#8a8a8a' opacity='0.16'/><ellipse cx='2.7' cy='10.3' rx='2.4' ry='1.6' fill='#8a8a8a' opacity='0.16'/></g></g>
<g transform='translate(535.5,105.8) scale(1,0.987)'><line x1='0' y1='23.2' x2='0' y2='38.5' stroke='#a8a8a8' stroke-width='1.0'/><path d='M-4.6 23.3L-7.4 25.5M2.4 23.3L6.6 25.5' stroke='#909090' stroke-width='0.9' fill='none'/><g transform='translate(-0.8,0) scale(1,0.84)'><path d='M-1.6 -0.5L1.6 -0.5C2.2 1.5 2.7 3.1 3.5 4.5C5.3 6.1 6.1 8.3 6.1 11.5L6.1 23C6.1 26 4.9 27.9 2 28.2L-2 28.2C-4.9 27.9 -6.1 26 -6.1 23L-6.1 11.5C-6.1 8.3 -5.3 6.1 -3.5 4.5C-2.7 3.1 -2.2 1.5 -1.6 -0.5Z' fill='url(#mg)'/><path d='M-1.6 -0.5L1.6 -0.5C2.2 1.5 2.7 3.1 3.5 4.5C5.3 6.1 6.1 8.3 6.1 11.5L6.1 23C6.1 26 4.9 27.9 2 28.2L-2 28.2C-4.9 27.9 -6.1 26 -6.1 23L-6.1 11.5C-6.1 8.3 -5.3 6.1 -3.5 4.5C-2.7 3.1 -2.2 1.5 -1.6 -0.5Z' fill='url(#mv)'/><ellipse cx='-2.1' cy='12.9' rx='2.5' ry='2.5' fill='#8a8a8a' opacity='0.16'/><ellipse cx='-0.8' cy='22.3' rx='1.5' ry='2.4' fill='#8a8a8a' opacity='0.16'/><ellipse cx='0.2' cy='20.3' rx='2.3' ry='2.8' fill='#8a8a8a' opacity='0.16'/></g></g>
<g transform='translate(549.9,105.8) scale(1,0.987)'><line x1='0' y1='23.2' x2='0' y2='38.5' stroke='#a8a8a8' stroke-width='1.0'/><path d='M-4.6 23.3L-7.4 25.5M2.4 23.3L6.6 25.5' stroke='#909090' stroke-width='0.9' fill='none'/><g transform='translate(-0.8,0) scale(1,0.84)'><path d='M-1.6 -0.5L1.6 -0.5C2.2 1.5 2.7 3.1 3.5 4.5C5.3 6.1 6.1 8.3 6.1 11.5L6.1 23C6.1 26 4.9 27.9 2 28.2L-2 28.2C-4.9 27.9 -6.1 26 -6.1 23L-6.1 11.5C-6.1 8.3 -5.3 6.1 -3.5 4.5C-2.7 3.1 -2.2 1.5 -1.6 -0.5Z' fill='url(#mg)'/><path d='M-1.6 -0.5L1.6 -0.5C2.2 1.5 2.7 3.1 3.5 4.5C5.3 6.1 6.1 8.3 6.1 11.5L6.1 23C6.1 26 4.9 27.9 2 28.2L-2 28.2C-4.9 27.9 -6.1 26 -6.1 23L-6.1 11.5C-6.1 8.3 -5.3 6.1 -3.5 4.5C-2.7 3.1 -2.2 1.5 -1.6 -0.5Z' fill='url(#mv)'/><ellipse cx='-1.1' cy='13.9' rx='1.4' ry='3.2' fill='#8a8a8a' opacity='0.16'/><ellipse cx='1.1' cy='20.1' rx='1.4' ry='2.4' fill='#8a8a8a' opacity='0.16'/><ellipse cx='1.9' cy='17.7' rx='1.4' ry='2.4' fill='#8a8a8a' opacity='0.16'/></g></g>
<g transform='translate(565.2,105.8) scale(1,0.987)'><line x1='0' y1='23.2' x2='0' y2='38.5' stroke='#a8a8a8' stroke-width='1.0'/><path d='M-4.6 23.3L-7.4 25.5M2.4 23.3L6.6 25.5' stroke='#909090' stroke-width='0.9' fill='none'/><g transform='translate(-0.8,0) scale(1,0.84)'><path d='M-1.6 -0.5L1.6 -0.5C2.2 1.5 2.7 3.1 3.5 4.5C5.3 6.1 6.1 8.3 6.1 11.5L6.1 23C6.1 26 4.9 27.9 2 28.2L-2 28.2C-4.9 27.9 -6.1 26 -6.1 23L-6.1 11.5C-6.1 8.3 -5.3 6.1 -3.5 4.5C-2.7 3.1 -2.2 1.5 -1.6 -0.5Z' fill='url(#mg)'/><path d='M-1.6 -0.5L1.6 -0.5C2.2 1.5 2.7 3.1 3.5 4.5C5.3 6.1 6.1 8.3 6.1 11.5L6.1 23C6.1 26 4.9 27.9 2 28.2L-2 28.2C-4.9 27.9 -6.1 26 -6.1 23L-6.1 11.5C-6.1 8.3 -5.3 6.1 -3.5 4.5C-2.7 3.1 -2.2 1.5 -1.6 -0.5Z' fill='url(#mv)'/><ellipse cx='2.7' cy='12.6' rx='1.5' ry='2.1' fill='#8a8a8a' opacity='0.16'/><ellipse cx='1.4' cy='21.7' rx='1.4' ry='1.8' fill='#8a8a8a' opacity='0.16'/><ellipse cx='-1.8' cy='13.9' rx='1.9' ry='1.8' fill='#8a8a8a' opacity='0.16'/></g></g>
<g transform='translate(581.2,105.8) scale(1,0.987)'><line x1='0' y1='23.2' x2='0' y2='38.5' stroke='#a8a8a8' stroke-width='1.0'/><path d='M-4.6 23.3L-7.4 25.5M2.4 23.3L6.6 25.5' stroke='#909090' stroke-width='0.9' fill='none'/><g transform='translate(-0.8,0) scale(1,0.84)'><path d='M-1.6 -0.5L1.6 -0.5C2.2 1.5 2.7 3.1 3.5 4.5C5.3 6.1 6.1 8.3 6.1 11.5L6.1 23C6.1 26 4.9 27.9 2 28.2L-2 28.2C-4.9 27.9 -6.1 26 -6.1 23L-6.1 11.5C-6.1 8.3 -5.3 6.1 -3.5 4.5C-2.7 3.1 -2.2 1.5 -1.6 -0.5Z' fill='url(#mg)'/><path d='M-1.6 -0.5L1.6 -0.5C2.2 1.5 2.7 3.1 3.5 4.5C5.3 6.1 6.1 8.3 6.1 11.5L6.1 23C6.1 26 4.9 27.9 2 28.2L-2 28.2C-4.9 27.9 -6.1 26 -6.1 23L-6.1 11.5C-6.1 8.3 -5.3 6.1 -3.5 4.5C-2.7 3.1 -2.2 1.5 -1.6 -0.5Z' fill='url(#mv)'/><ellipse cx='-1.2' cy='11.8' rx='2.6' ry='3.0' fill='#8a8a8a' opacity='0.16'/><ellipse cx='-2.8' cy='23.4' rx='1.3' ry='2.3' fill='#8a8a8a' opacity='0.16'/><ellipse cx='3.4' cy='20.9' rx='2.2' ry='2.4' fill='#8a8a8a' opacity='0.16'/></g></g>
<g transform='translate(595.7,105.8) scale(1,0.987)'><line x1='0' y1='23.2' x2='0' y2='38.5' stroke='#a8a8a8' stroke-width='1.0'/><path d='M-4.6 23.3L-7.4 25.5M2.4 23.3L6.6 25.5' stroke='#909090' stroke-width='0.9' fill='none'/><g transform='translate(-0.8,0) scale(1,0.84)'><path d='M-1.6 -0.5L1.6 -0.5C2.2 1.5 2.7 3.1 3.5 4.5C5.3 6.1 6.1 8.3 6.1 11.5L6.1 23C6.1 26 4.9 27.9 2 28.2L-2 28.2C-4.9 27.9 -6.1 26 -6.1 23L-6.1 11.5C-6.1 8.3 -5.3 6.1 -3.5 4.5C-2.7 3.1 -2.2 1.5 -1.6 -0.5Z' fill='url(#mg)'/><path d='M-1.6 -0.5L1.6 -0.5C2.2 1.5 2.7 3.1 3.5 4.5C5.3 6.1 6.1 8.3 6.1 11.5L6.1 23C6.1 26 4.9 27.9 2 28.2L-2 28.2C-4.9 27.9 -6.1 26 -6.1 23L-6.1 11.5C-6.1 8.3 -5.3 6.1 -3.5 4.5C-2.7 3.1 -2.2 1.5 -1.6 -0.5Z' fill='url(#mv)'/><ellipse cx='-2.1' cy='18.6' rx='1.3' ry='1.9' fill='#8a8a8a' opacity='0.16'/><ellipse cx='-0.8' cy='9.5' rx='1.8' ry='3.1' fill='#8a8a8a' opacity='0.16'/><ellipse cx='1.4' cy='16.5' rx='2.1' ry='2.4' fill='#8a8a8a' opacity='0.16'/></g></g>
<g transform='translate(608.7,105.8) scale(1,0.987)'><line x1='0' y1='23.2' x2='0' y2='38.5' stroke='#a8a8a8' stroke-width='1.0'/><path d='M-4.6 23.3L-7.4 25.5M2.4 23.3L6.6 25.5' stroke='#909090' stroke-width='0.9' fill='none'/><g transform='translate(-0.8,0) scale(1,0.84)'><path d='M-1.6 -0.5L1.6 -0.5C2.2 1.5 2.7 3.1 3.5 4.5C5.3 6.1 6.1 8.3 6.1 11.5L6.1 23C6.1 26 4.9 27.9 2 28.2L-2 28.2C-4.9 27.9 -6.1 26 -6.1 23L-6.1 11.5C-6.1 8.3 -5.3 6.1 -3.5 4.5C-2.7 3.1 -2.2 1.5 -1.6 -0.5Z' fill='url(#mg)'/><path d='M-1.6 -0.5L1.6 -0.5C2.2 1.5 2.7 3.1 3.5 4.5C5.3 6.1 6.1 8.3 6.1 11.5L6.1 23C6.1 26 4.9 27.9 2 28.2L-2 28.2C-4.9 27.9 -6.1 26 -6.1 23L-6.1 11.5C-6.1 8.3 -5.3 6.1 -3.5 4.5C-2.7 3.1 -2.2 1.5 -1.6 -0.5Z' fill='url(#mv)'/><ellipse cx='-2.5' cy='18.1' rx='1.8' ry='3.0' fill='#8a8a8a' opacity='0.16'/><ellipse cx='2.9' cy='15.5' rx='2.0' ry='3.0' fill='#8a8a8a' opacity='0.16'/><ellipse cx='-0.6' cy='12.4' rx='2.2' ry='3.3' fill='#8a8a8a' opacity='0.16'/></g></g>
<g transform='translate(625.3,105.8) scale(1,0.987)'><line x1='0' y1='23.2' x2='0' y2='38.5' stroke='#a8a8a8' stroke-width='1.0'/><path d='M-4.6 23.3L-7.4 25.5M2.4 23.3L6.6 25.5' stroke='#909090' stroke-width='0.9' fill='none'/><g transform='translate(-0.8,0) scale(1,0.84)'><path d='M-1.6 -0.5L1.6 -0.5C2.2 1.5 2.7 3.1 3.5 4.5C5.3 6.1 6.1 8.3 6.1 11.5L6.1 23C6.1 26 4.9 27.9 2 28.2L-2 28.2C-4.9 27.9 -6.1 26 -6.1 23L-6.1 11.5C-6.1 8.3 -5.3 6.1 -3.5 4.5C-2.7 3.1 -2.2 1.5 -1.6 -0.5Z' fill='url(#mg)'/><path d='M-1.6 -0.5L1.6 -0.5C2.2 1.5 2.7 3.1 3.5 4.5C5.3 6.1 6.1 8.3 6.1 11.5L6.1 23C6.1 26 4.9 27.9 2 28.2L-2 28.2C-4.9 27.9 -6.1 26 -6.1 23L-6.1 11.5C-6.1 8.3 -5.3 6.1 -3.5 4.5C-2.7 3.1 -2.2 1.5 -1.6 -0.5Z' fill='url(#mv)'/><ellipse cx='1.9' cy='19.5' rx='2.4' ry='2.9' fill='#8a8a8a' opacity='0.16'/><ellipse cx='1.0' cy='15.8' rx='1.6' ry='2.8' fill='#8a8a8a' opacity='0.16'/><ellipse cx='-2.8' cy='15.3' rx='2.3' ry='2.9' fill='#8a8a8a' opacity='0.16'/></g></g>
<g transform='translate(639.3,105.8) scale(1,0.987)'><line x1='0' y1='23.2' x2='0' y2='38.5' stroke='#a8a8a8' stroke-width='1.0'/><path d='M-4.6 23.3L-7.4 25.5M2.4 23.3L6.6 25.5' stroke='#909090' stroke-width='0.9' fill='none'/><g transform='translate(-0.8,0) scale(1,0.84)'><path d='M-1.6 -0.5L1.6 -0.5C2.2 1.5 2.7 3.1 3.5 4.5C5.3 6.1 6.1 8.3 6.1 11.5L6.1 23C6.1 26 4.9 27.9 2 28.2L-2 28.2C-4.9 27.9 -6.1 26 -6.1 23L-6.1 11.5C-6.1 8.3 -5.3 6.1 -3.5 4.5C-2.7 3.1 -2.2 1.5 -1.6 -0.5Z' fill='url(#mg)'/><path d='M-1.6 -0.5L1.6 -0.5C2.2 1.5 2.7 3.1 3.5 4.5C5.3 6.1 6.1 8.3 6.1 11.5L6.1 23C6.1 26 4.9 27.9 2 28.2L-2 28.2C-4.9 27.9 -6.1 26 -6.1 23L-6.1 11.5C-6.1 8.3 -5.3 6.1 -3.5 4.5C-2.7 3.1 -2.2 1.5 -1.6 -0.5Z' fill='url(#mv)'/><ellipse cx='0.9' cy='12.8' rx='1.8' ry='2.4' fill='#8a8a8a' opacity='0.16'/><ellipse cx='0.9' cy='15.1' rx='2.1' ry='3.4' fill='#8a8a8a' opacity='0.16'/><ellipse cx='-2.2' cy='18.8' rx='2.3' ry='2.3' fill='#8a8a8a' opacity='0.16'/></g></g>
<ellipse cx='525.1' cy='123.2' rx='2.70' ry='2.92' fill='#5020ff'/><ellipse cx='525.1' cy='123.2' rx='2.11' ry='2.27' fill='#1a40ff'/><ellipse cx='525.1' cy='123.2' rx='1.57' ry='1.69' fill='#00d0f0'/><ellipse cx='525.1' cy='123.2' rx='1.13' ry='1.22' fill='#40ff60'/>
<ellipse cx='536.8' cy='122.1' rx='2.81' ry='3.08' fill='#5c10ff'/><ellipse cx='536.8' cy='122.1' rx='2.47' ry='2.71' fill='#0a10ff'/><ellipse cx='536.8' cy='122.1' rx='2.08' ry='2.28' fill='#00b8ff'/><ellipse cx='536.8' cy='122.1' rx='1.91' ry='2.09' fill='#10f060'/><ellipse cx='536.8' cy='122.1' rx='1.77' ry='1.94' fill='#e8f000'/><ellipse cx='536.8' cy='122.1' rx='1.68' ry='1.85' fill='#ff5000'/><ellipse cx='536.8' cy='122.1' rx='1.60' ry='1.75' fill='#f01000'/>
<ellipse cx='564.7' cy='122.5' rx='4.37' ry='4.79' fill='#5c10ff'/><ellipse cx='564.7' cy='122.5' rx='3.84' ry='4.21' fill='#0a10ff'/><ellipse cx='564.7' cy='122.5' rx='3.23' ry='3.54' fill='#00b8ff'/><ellipse cx='564.7' cy='122.5' rx='2.97' ry='3.26' fill='#10f060'/><ellipse cx='564.7' cy='122.5' rx='2.75' ry='3.02' fill='#e8f000'/><ellipse cx='564.7' cy='122.5' rx='2.62' ry='2.87' fill='#ff5000'/><ellipse cx='564.7' cy='122.5' rx='2.49' ry='2.73' fill='#f01000'/>
<ellipse cx='611.9' cy='121.5' rx='2.60' ry='2.81' fill='#5020ff'/><ellipse cx='611.9' cy='121.5' rx='2.03' ry='2.19' fill='#1a40ff'/><ellipse cx='611.9' cy='121.5' rx='1.51' ry='1.63' fill='#00d0f0'/><ellipse cx='611.9' cy='121.5' rx='1.09' ry='1.18' fill='#40ff60'/>
<ellipse cx='612.5' cy='124.5' rx='2.00' ry='2.10' fill='#3030ff'/><ellipse cx='612.5' cy='124.5' rx='1.00' ry='1.05' fill='#2060ff'/>
<ellipse cx='628.2' cy='123.2' rx='2.29' ry='2.51' fill='#5c10ff'/><ellipse cx='628.2' cy='123.2' rx='2.01' ry='2.21' fill='#0a10ff'/><ellipse cx='628.2' cy='123.2' rx='1.69' ry='1.86' fill='#00b8ff'/><ellipse cx='628.2' cy='123.2' rx='1.56' ry='1.71' fill='#10f060'/><ellipse cx='628.2' cy='123.2' rx='1.44' ry='1.58' fill='#e8f000'/><ellipse cx='628.2' cy='123.2' rx='1.37' ry='1.50' fill='#ff5000'/><ellipse cx='628.2' cy='123.2' rx='1.30' ry='1.43' fill='#f01000'/>
<ellipse cx='640.9' cy='121.1' rx='1.60' ry='1.68' fill='#3030ff'/><ellipse cx='640.9' cy='121.1' rx='0.80' ry='0.84' fill='#2060ff'/>
</g></svg>
<rect x='56.1' y='149.5' width='150.10' height='38.00' fill='#303030'/>
<svg x='56.1' y='149.5' width='150.10' height='38.00' overflow='hidden'><g transform='translate(-56.1,-149.5)' filter='url(#sb)'>
<g transform='translate(90,149.5) scale(1,1.000)'><line x1='0' y1='26.6' x2='0' y2='38.5' stroke='#a8a8a8' stroke-width='1.0'/><path d='M-4.6 26.7L-7.4 28.9M2.4 26.7L6.6 28.9' stroke='#909090' stroke-width='0.9' fill='none'/><g transform='translate(-0.8,0) scale(1,0.96)'><path d='M-1.6 -0.5L1.6 -0.5C2.2 1.5 2.7 3.1 3.5 4.5C5.3 6.1 6.1 8.3 6.1 11.5L6.1 23C6.1 26 4.9 27.9 2 28.2L-2 28.2C-4.9 27.9 -6.1 26 -6.1 23L-6.1 11.5C-6.1 8.3 -5.3 6.1 -3.5 4.5C-2.7 3.1 -2.2 1.5 -1.6 -0.5Z' fill='url(#mg)'/><path d='M-1.6 -0.5L1.6 -0.5C2.2 1.5 2.7 3.1 3.5 4.5C5.3 6.1 6.1 8.3 6.1 11.5L6.1 23C6.1 26 4.9 27.9 2 28.2L-2 28.2C-4.9 27.9 -6.1 26 -6.1 23L-6.1 11.5C-6.1 8.3 -5.3 6.1 -3.5 4.5C-2.7 3.1 -2.2 1.5 -1.6 -0.5Z' fill='url(#mv)'/><ellipse cx='-0.1' cy='23.6' rx='1.3' ry='2.6' fill='#8a8a8a' opacity='0.16'/><ellipse cx='-2.4' cy='20.7' rx='2.5' ry='2.5' fill='#8a8a8a' opacity='0.16'/><ellipse cx='-2.8' cy='17.6' rx='2.0' ry='2.9' fill='#8a8a8a' opacity='0.16'/></g></g>
<g transform='translate(108.6,149.5) scale(1,1.000)'><line x1='0' y1='26.6' x2='0' y2='38.5' stroke='#a8a8a8' stroke-width='1.0'/><path d='M-4.6 26.7L-7.4 28.9M2.4 26.7L6.6 28.9' stroke='#909090' stroke-width='0.9' fill='none'/><g transform='translate(-0.8,0) scale(1,0.96)'><path d='M-1.6 -0.5L1.6 -0.5C2.2 1.5 2.7 3.1 3.5 4.5C5.3 6.1 6.1 8.3 6.1 11.5L6.1 23C6.1 26 4.9 27.9 2 28.2L-2 28.2C-4.9 27.9 -6.1 26 -6.1 23L-6.1 11.5C-6.1 8.3 -5.3 6.1 -3.5 4.5C-2.7 3.1 -2.2 1.5 -1.6 -0.5Z' fill='url(#mg)'/><path d='M-1.6 -0.5L1.6 -0.5C2.2 1.5 2.7 3.1 3.5 4.5C5.3 6.1 6.1 8.3 6.1 11.5L6.1 23C6.1 26 4.9 27.9 2 28.2L-2 28.2C-4.9 27.9 -6.1 26 -6.1 23L-6.1 11.5C-6.1 8.3 -5.3 6.1 -3.5 4.5C-2.7 3.1 -2.2 1.5 -1.6 -0.5Z' fill='url(#mv)'/><ellipse cx='0.1' cy='18.6' rx='2.4' ry='2.5' fill='#8a8a8a' opacity='0.16'/><ellipse cx='-0.6' cy='23.2' rx='1.5' ry='2.9' fill='#8a8a8a' opacity='0.16'/><ellipse cx='-0.8' cy='20.4' rx='1.4' ry='3.5' fill='#8a8a8a' opacity='0.16'/></g></g>
<g transform='translate(122.8,149.5) scale(1,1.000)'><line x1='0' y1='26.6' x2='0' y2='38.5' stroke='#a8a8a8' stroke-width='1.0'/><path d='M-4.6 26.7L-7.4 28.9M2.4 26.7L6.6 28.9' stroke='#909090' stroke-width='0.9' fill='none'/><g transform='translate(-0.8,0) scale(1,0.96)'><path d='M-1.6 -0.5L1.6 -0.5C2.2 1.5 2.7 3.1 3.5 4.5C5.3 6.1 6.1 8.3 6.1 11.5L6.1 23C6.1 26 4.9 27.9 2 28.2L-2 28.2C-4.9 27.9 -6.1 26 -6.1 23L-6.1 11.5C-6.1 8.3 -5.3 6.1 -3.5 4.5C-2.7 3.1 -2.2 1.5 -1.6 -0.5Z' fill='url(#mg)'/><path d='M-1.6 -0.5L1.6 -0.5C2.2 1.5 2.7 3.1 3.5 4.5C5.3 6.1 6.1 8.3 6.1 11.5L6.1 23C6.1 26 4.9 27.9 2 28.2L-2 28.2C-4.9 27.9 -6.1 26 -6.1 23L-6.1 11.5C-6.1 8.3 -5.3 6.1 -3.5 4.5C-2.7 3.1 -2.2 1.5 -1.6 -0.5Z' fill='url(#mv)'/><ellipse cx='-1.0' cy='9.8' rx='1.6' ry='2.3' fill='#8a8a8a' opacity='0.16'/><ellipse cx='-3.4' cy='15.3' rx='1.8' ry='2.9' fill='#8a8a8a' opacity='0.16'/><ellipse cx='-1.0' cy='13.0' rx='1.5' ry='3.0' fill='#8a8a8a' opacity='0.16'/></g></g>
<g transform='translate(138.1,149.5) scale(1,1.000)'><line x1='0' y1='26.6' x2='0' y2='38.5' stroke='#a8a8a8' stroke-width='1.0'/><path d='M-4.6 26.7L-7.4 28.9M2.4 26.7L6.6 28.9' stroke='#909090' stroke-width='0.9' fill='none'/><g transform='translate(-0.8,0) scale(1,0.96)'><path d='M-1.6 -0.5L1.6 -0.5C2.2 1.5 2.7 3.1 3.5 4.5C5.3 6.1 6.1 8.3 6.1 11.5L6.1 23C6.1 26 4.9 27.9 2 28.2L-2 28.2C-4.9 27.9 -6.1 26 -6.1 23L-6.1 11.5C-6.1 8.3 -5.3 6.1 -3.5 4.5C-2.7 3.1 -2.2 1.5 -1.6 -0.5Z' fill='url(#mg)'/><path d='M-1.6 -0.5L1.6 -0.5C2.2 1.5 2.7 3.1 3.5 4.5C5.3 6.1 6.1 8.3 6.1 11.5L6.1 23C6.1 26 4.9 27.9 2 28.2L-2 28.2C-4.9 27.9 -6.1 26 -6.1 23L-6.1 11.5C-6.1 8.3 -5.3 6.1 -3.5 4.5C-2.7 3.1 -2.2 1.5 -1.6 -0.5Z' fill='url(#mv)'/><ellipse cx='3.1' cy='16.9' rx='1.5' ry='3.1' fill='#8a8a8a' opacity='0.16'/><ellipse cx='-0.8' cy='12.2' rx='1.4' ry='3.1' fill='#8a8a8a' opacity='0.16'/><ellipse cx='2.2' cy='18.5' rx='1.9' ry='2.6' fill='#8a8a8a' opacity='0.16'/></g></g>
<g transform='translate(154.1,149.5) scale(1,1.000)'><line x1='0' y1='26.6' x2='0' y2='38.5' stroke='#a8a8a8' stroke-width='1.0'/><path d='M-4.6 26.7L-7.4 28.9M2.4 26.7L6.6 28.9' stroke='#909090' stroke-width='0.9' fill='none'/><g transform='translate(-0.8,0) scale(1,0.96)'><path d='M-1.6 -0.5L1.6 -0.5C2.2 1.5 2.7 3.1 3.5 4.5C5.3 6.1 6.1 8.3 6.1 11.5L6.1 23C6.1 26 4.9 27.9 2 28.2L-2 28.2C-4.9 27.9 -6.1 26 -6.1 23L-6.1 11.5C-6.1 8.3 -5.3 6.1 -3.5 4.5C-2.7 3.1 -2.2 1.5 -1.6 -0.5Z' fill='url(#mg)'/><path d='M-1.6 -0.5L1.6 -0.5C2.2 1.5 2.7 3.1 3.5 4.5C5.3 6.1 6.1 8.3 6.1 11.5L6.1 23C6.1 26 4.9 27.9 2 28.2L-2 28.2C-4.9 27.9 -6.1 26 -6.1 23L-6.1 11.5C-6.1 8.3 -5.3 6.1 -3.5 4.5C-2.7 3.1 -2.2 1.5 -1.6 -0.5Z' fill='url(#mv)'/><ellipse cx='-1.9' cy='23.5' rx='1.7' ry='2.8' fill='#8a8a8a' opacity='0.16'/><ellipse cx='2.2' cy='21.2' rx='1.9' ry='2.1' fill='#8a8a8a' opacity='0.16'/><ellipse cx='0.3' cy='10.9' rx='2.4' ry='2.2' fill='#8a8a8a' opacity='0.16'/></g></g>
<g transform='translate(185.2,149.5) scale(1,1.000)'><line x1='0' y1='26.6' x2='0' y2='38.5' stroke='#a8a8a8' stroke-width='1.0'/><path d='M-4.6 26.7L-7.4 28.9M2.4 26.7L6.6 28.9' stroke='#909090' stroke-width='0.9' fill='none'/><g transform='translate(-0.8,0) scale(1,0.96)'><path d='M-1.6 -0.5L1.6 -0.5C2.2 1.5 2.7 3.1 3.5 4.5C5.3 6.1 6.1 8.3 6.1 11.5L6.1 23C6.1 26 4.9 27.9 2 28.2L-2 28.2C-4.9 27.9 -6.1 26 -6.1 23L-6.1 11.5C-6.1 8.3 -5.3 6.1 -3.5 4.5C-2.7 3.1 -2.2 1.5 -1.6 -0.5Z' fill='url(#mg)'/><path d='M-1.6 -0.5L1.6 -0.5C2.2 1.5 2.7 3.1 3.5 4.5C5.3 6.1 6.1 8.3 6.1 11.5L6.1 23C6.1 26 4.9 27.9 2 28.2L-2 28.2C-4.9 27.9 -6.1 26 -6.1 23L-6.1 11.5C-6.1 8.3 -5.3 6.1 -3.5 4.5C-2.7 3.1 -2.2 1.5 -1.6 -0.5Z' fill='url(#mv)'/><ellipse cx='2.5' cy='13.0' rx='1.7' ry='2.0' fill='#8a8a8a' opacity='0.16'/><ellipse cx='-0.5' cy='11.8' rx='1.2' ry='2.9' fill='#8a8a8a' opacity='0.16'/><ellipse cx='-1.5' cy='12.7' rx='1.6' ry='2.5' fill='#8a8a8a' opacity='0.16'/></g></g>
<g transform='translate(199.4,149.5) scale(1,1.000)'><line x1='0' y1='26.6' x2='0' y2='38.5' stroke='#a8a8a8' stroke-width='1.0'/><path d='M-4.6 26.7L-7.4 28.9M2.4 26.7L6.6 28.9' stroke='#909090' stroke-width='0.9' fill='none'/><g transform='translate(-0.8,0) scale(1,0.96)'><path d='M-1.6 -0.5L1.6 -0.5C2.2 1.5 2.7 3.1 3.5 4.5C5.3 6.1 6.1 8.3 6.1 11.5L6.1 23C6.1 26 4.9 27.9 2 28.2L-2 28.2C-4.9 27.9 -6.1 26 -6.1 23L-6.1 11.5C-6.1 8.3 -5.3 6.1 -3.5 4.5C-2.7 3.1 -2.2 1.5 -1.6 -0.5Z' fill='url(#mg)'/><path d='M-1.6 -0.5L1.6 -0.5C2.2 1.5 2.7 3.1 3.5 4.5C5.3 6.1 6.1 8.3 6.1 11.5L6.1 23C6.1 26 4.9 27.9 2 28.2L-2 28.2C-4.9 27.9 -6.1 26 -6.1 23L-6.1 11.5C-6.1 8.3 -5.3 6.1 -3.5 4.5C-2.7 3.1 -2.2 1.5 -1.6 -0.5Z' fill='url(#mv)'/><ellipse cx='-0.5' cy='18.6' rx='2.1' ry='2.2' fill='#8a8a8a' opacity='0.16'/><ellipse cx='3.0' cy='21.8' rx='1.3' ry='3.2' fill='#8a8a8a' opacity='0.16'/><ellipse cx='2.8' cy='20.8' rx='1.4' ry='3.2' fill='#8a8a8a' opacity='0.16'/></g></g>
<ellipse cx='191' cy='169' rx='15.2' ry='9.8' fill='#5c10ff'/>
<ellipse cx='184' cy='161' rx='5' ry='4' fill='#5c10ff'/>
<ellipse cx='199' cy='162' rx='4' ry='4' fill='#5c10ff'/>
<ellipse cx='94' cy='164' rx='3.5' ry='5.5' fill='#5c10ff'/>
<ellipse cx='110.5' cy='165' rx='4.2' ry='5.5' fill='#5c10ff'/>
<ellipse cx='141.5' cy='164' rx='4' ry='5' fill='#5c10ff'/>
<ellipse cx='157.5' cy='162.5' rx='3.5' ry='4.5' fill='#5c10ff'/>
<ellipse cx='92.5' cy='169.8' rx='5.72' ry='6.27' fill='#5c10ff'/><ellipse cx='92.5' cy='169.8' rx='5.03' ry='5.52' fill='#0a10ff'/><ellipse cx='92.5' cy='169.8' rx='4.23' ry='4.64' fill='#00b8ff'/><ellipse cx='92.5' cy='169.8' rx='3.89' ry='4.26' fill='#10f060'/><ellipse cx='92.5' cy='169.8' rx='3.60' ry='3.95' fill='#e8f000'/><ellipse cx='92.5' cy='169.8' rx='3.43' ry='3.76' fill='#ff5000'/><ellipse cx='92.5' cy='169.8' rx='3.26' ry='3.57' fill='#f01000'/>
<ellipse cx='109.7' cy='170.5' rx='6.55' ry='7.18' fill='#5c10ff'/><ellipse cx='109.7' cy='170.5' rx='5.77' ry='6.32' fill='#0a10ff'/><ellipse cx='109.7' cy='170.5' rx='4.85' ry='5.31' fill='#00b8ff'/><ellipse cx='109.7' cy='170.5' rx='4.46' ry='4.88' fill='#10f060'/><ellipse cx='109.7' cy='170.5' rx='4.13' ry='4.52' fill='#e8f000'/><ellipse cx='109.7' cy='170.5' rx='3.93' ry='4.31' fill='#ff5000'/><ellipse cx='109.7' cy='170.5' rx='3.73' ry='4.09' fill='#f01000'/>
<ellipse cx='125.5' cy='170.8' rx='6.24' ry='6.84' fill='#5c10ff'/><ellipse cx='125.5' cy='170.8' rx='5.49' ry='6.02' fill='#0a10ff'/><ellipse cx='125.5' cy='170.8' rx='4.62' ry='5.06' fill='#00b8ff'/><ellipse cx='125.5' cy='170.8' rx='4.24' ry='4.65' fill='#10f060'/><ellipse cx='125.5' cy='170.8' rx='3.93' ry='4.31' fill='#e8f000'/><ellipse cx='125.5' cy='170.8' rx='3.74' ry='4.10' fill='#ff5000'/><ellipse cx='125.5' cy='170.8' rx='3.56' ry='3.90' fill='#f01000'/>
<ellipse cx='140.8' cy='168.9' rx='5.93' ry='6.50' fill='#5c10ff'/><ellipse cx='140.8' cy='168.9' rx='5.22' ry='5.72' fill='#0a10ff'/><ellipse cx='140.8' cy='168.9' rx='4.39' ry='4.81' fill='#00b8ff'/><ellipse cx='140.8' cy='168.9' rx='4.03' ry='4.42' fill='#10f060'/><ellipse cx='140.8' cy='168.9' rx='3.73' ry='4.09' fill='#e8f000'/><ellipse cx='140.8' cy='168.9' rx='3.56' ry='3.90' fill='#ff5000'/><ellipse cx='140.8' cy='168.9' rx='3.38' ry='3.70' fill='#f01000'/>
<ellipse cx='156.7' cy='167.1' rx='4.99' ry='5.47' fill='#5c10ff'/><ellipse cx='156.7' cy='167.1' rx='4.39' ry='4.82' fill='#0a10ff'/><ellipse cx='156.7' cy='167.1' rx='3.69' ry='4.05' fill='#00b8ff'/><ellipse cx='156.7' cy='167.1' rx='3.39' ry='3.72' fill='#10f060'/><ellipse cx='156.7' cy='167.1' rx='3.14' ry='3.45' fill='#e8f000'/><ellipse cx='156.7' cy='167.1' rx='3.00' ry='3.28' fill='#ff5000'/><ellipse cx='156.7' cy='167.1' rx='2.85' ry='3.12' fill='#f01000'/>
<ellipse cx='185.7' cy='169.8' rx='8.74' ry='9.58' fill='#5c10ff'/><ellipse cx='185.7' cy='169.8' rx='7.69' ry='8.43' fill='#0a10ff'/><ellipse cx='185.7' cy='169.8' rx='6.46' ry='7.09' fill='#00b8ff'/><ellipse cx='185.7' cy='169.8' rx='5.94' ry='6.51' fill='#10f060'/><ellipse cx='185.7' cy='169.8' rx='5.50' ry='6.03' fill='#e8f000'/><ellipse cx='185.7' cy='169.8' rx='5.24' ry='5.75' fill='#ff5000'/><ellipse cx='185.7' cy='169.8' rx='4.98' ry='5.46' fill='#f01000'/>
<ellipse cx='201.8' cy='169.0' rx='5.41' ry='5.93' fill='#5c10ff'/><ellipse cx='201.8' cy='169.0' rx='4.76' ry='5.22' fill='#0a10ff'/><ellipse cx='201.8' cy='169.0' rx='4.00' ry='4.39' fill='#00b8ff'/><ellipse cx='201.8' cy='169.0' rx='3.68' ry='4.03' fill='#10f060'/><ellipse cx='201.8' cy='169.0' rx='3.41' ry='3.73' fill='#e8f000'/><ellipse cx='201.8' cy='169.0' rx='3.24' ry='3.56' fill='#ff5000'/><ellipse cx='201.8' cy='169.0' rx='3.08' ry='3.38' fill='#f01000'/>
<path d='M58.9 149.5 L68.1 187.5 M68.1 149.5 L58.9 187.5' stroke='#e8e8e8' stroke-width='1.1'/>
<path d='M69.1 149.5 L78.3 187.5 M78.3 149.5 L69.1 187.5' stroke='#e8e8e8' stroke-width='1.1'/>
<path d='M164.1 149.5 L173.3 187.5 M173.3 149.5 L164.1 187.5' stroke='#e8e8e8' stroke-width='1.1'/>
</g></svg>
<rect x='210.7' y='149.1' width='142.30' height='37.80' fill='#303030'/>
<svg x='210.7' y='149.1' width='142.30' height='37.80' overflow='hidden'><g transform='translate(-210.7,-149.1)' filter='url(#sb)'>
<g transform='translate(248.7,149.1) scale(1,0.995)'><line x1='0' y1='26.9' x2='0' y2='38.5' stroke='#a8a8a8' stroke-width='1.0'/><path d='M-4.6 27.0L-7.4 29.2M2.4 27.0L6.6 29.2' stroke='#909090' stroke-width='0.9' fill='none'/><g transform='translate(-0.8,0) scale(1,0.97)'><path d='M-1.6 -0.5L1.6 -0.5C2.2 1.5 2.7 3.1 3.5 4.5C5.3 6.1 6.1 8.3 6.1 11.5L6.1 23C6.1 26 4.9 27.9 2 28.2L-2 28.2C-4.9 27.9 -6.1 26 -6.1 23L-6.1 11.5C-6.1 8.3 -5.3 6.1 -3.5 4.5C-2.7 3.1 -2.2 1.5 -1.6 -0.5Z' fill='url(#mg)'/><path d='M-1.6 -0.5L1.6 -0.5C2.2 1.5 2.7 3.1 3.5 4.5C5.3 6.1 6.1 8.3 6.1 11.5L6.1 23C6.1 26 4.9 27.9 2 28.2L-2 28.2C-4.9 27.9 -6.1 26 -6.1 23L-6.1 11.5C-6.1 8.3 -5.3 6.1 -3.5 4.5C-2.7 3.1 -2.2 1.5 -1.6 -0.5Z' fill='url(#mv)'/><ellipse cx='0.9' cy='9.2' rx='1.2' ry='3.4' fill='#8a8a8a' opacity='0.16'/><ellipse cx='1.1' cy='12.8' rx='1.3' ry='1.8' fill='#8a8a8a' opacity='0.16'/><ellipse cx='-1.9' cy='20.6' rx='1.7' ry='1.8' fill='#8a8a8a' opacity='0.16'/></g></g>
<g transform='translate(264.6,149.1) scale(1,0.995)'><line x1='0' y1='26.9' x2='0' y2='38.5' stroke='#a8a8a8' stroke-width='1.0'/><path d='M-4.6 27.0L-7.4 29.2M2.4 27.0L6.6 29.2' stroke='#909090' stroke-width='0.9' fill='none'/><g transform='translate(-0.8,0) scale(1,0.97)'><path d='M-1.6 -0.5L1.6 -0.5C2.2 1.5 2.7 3.1 3.5 4.5C5.3 6.1 6.1 8.3 6.1 11.5L6.1 23C6.1 26 4.9 27.9 2 28.2L-2 28.2C-4.9 27.9 -6.1 26 -6.1 23L-6.1 11.5C-6.1 8.3 -5.3 6.1 -3.5 4.5C-2.7 3.1 -2.2 1.5 -1.6 -0.5Z' fill='url(#mg)'/><path d='M-1.6 -0.5L1.6 -0.5C2.2 1.5 2.7 3.1 3.5 4.5C5.3 6.1 6.1 8.3 6.1 11.5L6.1 23C6.1 26 4.9 27.9 2 28.2L-2 28.2C-4.9 27.9 -6.1 26 -6.1 23L-6.1 11.5C-6.1 8.3 -5.3 6.1 -3.5 4.5C-2.7 3.1 -2.2 1.5 -1.6 -0.5Z' fill='url(#mv)'/><ellipse cx='2.8' cy='20.9' rx='1.4' ry='3.3' fill='#8a8a8a' opacity='0.16'/><ellipse cx='0.8' cy='20.7' rx='2.1' ry='3.3' fill='#8a8a8a' opacity='0.16'/><ellipse cx='2.0' cy='21.6' rx='1.5' ry='2.9' fill='#8a8a8a' opacity='0.16'/></g></g>
<g transform='translate(286.6,149.1) scale(1,0.995)'><line x1='0' y1='26.9' x2='0' y2='38.5' stroke='#a8a8a8' stroke-width='1.0'/><path d='M-4.6 27.0L-7.4 29.2M2.4 27.0L6.6 29.2' stroke='#909090' stroke-width='0.9' fill='none'/><g transform='translate(-0.8,0) scale(1,0.97)'><path d='M-1.6 -0.5L1.6 -0.5C2.2 1.5 2.7 3.1 3.5 4.5C5.3 6.1 6.1 8.3 6.1 11.5L6.1 23C6.1 26 4.9 27.9 2 28.2L-2 28.2C-4.9 27.9 -6.1 26 -6.1 23L-6.1 11.5C-6.1 8.3 -5.3 6.1 -3.5 4.5C-2.7 3.1 -2.2 1.5 -1.6 -0.5Z' fill='url(#mg)'/><path d='M-1.6 -0.5L1.6 -0.5C2.2 1.5 2.7 3.1 3.5 4.5C5.3 6.1 6.1 8.3 6.1 11.5L6.1 23C6.1 26 4.9 27.9 2 28.2L-2 28.2C-4.9 27.9 -6.1 26 -6.1 23L-6.1 11.5C-6.1 8.3 -5.3 6.1 -3.5 4.5C-2.7 3.1 -2.2 1.5 -1.6 -0.5Z' fill='url(#mv)'/><ellipse cx='0.2' cy='20.1' rx='1.8' ry='3.3' fill='#8a8a8a' opacity='0.16'/><ellipse cx='0.4' cy='13.0' rx='1.5' ry='1.8' fill='#8a8a8a' opacity='0.16'/><ellipse cx='-0.0' cy='9.9' rx='1.9' ry='1.8' fill='#8a8a8a' opacity='0.16'/></g></g>
<g transform='translate(314.8,149.1) scale(1,0.995)'><line x1='0' y1='26.9' x2='0' y2='38.5' stroke='#a8a8a8' stroke-width='1.0'/><path d='M-4.6 27.0L-7.4 29.2M2.4 27.0L6.6 29.2' stroke='#909090' stroke-width='0.9' fill='none'/><g transform='translate(-0.8,0) scale(1,0.97)'><path d='M-1.6 -0.5L1.6 -0.5C2.2 1.5 2.7 3.1 3.5 4.5C5.3 6.1 6.1 8.3 6.1 11.5L6.1 23C6.1 26 4.9 27.9 2 28.2L-2 28.2C-4.9 27.9 -6.1 26 -6.1 23L-6.1 11.5C-6.1 8.3 -5.3 6.1 -3.5 4.5C-2.7 3.1 -2.2 1.5 -1.6 -0.5Z' fill='url(#mg)'/><path d='M-1.6 -0.5L1.6 -0.5C2.2 1.5 2.7 3.1 3.5 4.5C5.3 6.1 6.1 8.3 6.1 11.5L6.1 23C6.1 26 4.9 27.9 2 28.2L-2 28.2C-4.9 27.9 -6.1 26 -6.1 23L-6.1 11.5C-6.1 8.3 -5.3 6.1 -3.5 4.5C-2.7 3.1 -2.2 1.5 -1.6 -0.5Z' fill='url(#mv)'/><ellipse cx='-0.1' cy='16.5' rx='2.0' ry='3.2' fill='#8a8a8a' opacity='0.16'/><ellipse cx='-3.5' cy='21.6' rx='1.9' ry='2.6' fill='#8a8a8a' opacity='0.16'/><ellipse cx='1.2' cy='21.6' rx='1.7' ry='2.3' fill='#8a8a8a' opacity='0.16'/></g></g>
<g transform='translate(332.8,149.1) scale(1,0.995)'><line x1='0' y1='26.9' x2='0' y2='38.5' stroke='#a8a8a8' stroke-width='1.0'/><path d='M-4.6 27.0L-7.4 29.2M2.4 27.0L6.6 29.2' stroke='#909090' stroke-width='0.9' fill='none'/><g transform='translate(-0.8,0) scale(1,0.97)'><path d='M-1.6 -0.5L1.6 -0.5C2.2 1.5 2.7 3.1 3.5 4.5C5.3 6.1 6.1 8.3 6.1 11.5L6.1 23C6.1 26 4.9 27.9 2 28.2L-2 28.2C-4.9 27.9 -6.1 26 -6.1 23L-6.1 11.5C-6.1 8.3 -5.3 6.1 -3.5 4.5C-2.7 3.1 -2.2 1.5 -1.6 -0.5Z' fill='url(#mg)'/><path d='M-1.6 -0.5L1.6 -0.5C2.2 1.5 2.7 3.1 3.5 4.5C5.3 6.1 6.1 8.3 6.1 11.5L6.1 23C6.1 26 4.9 27.9 2 28.2L-2 28.2C-4.9 27.9 -6.1 26 -6.1 23L-6.1 11.5C-6.1 8.3 -5.3 6.1 -3.5 4.5C-2.7 3.1 -2.2 1.5 -1.6 -0.5Z' fill='url(#mv)'/><ellipse cx='3.2' cy='10.1' rx='2.1' ry='2.8' fill='#8a8a8a' opacity='0.16'/><ellipse cx='-3.3' cy='18.1' rx='2.2' ry='3.4' fill='#8a8a8a' opacity='0.16'/><ellipse cx='-1.2' cy='23.7' rx='1.9' ry='2.5' fill='#8a8a8a' opacity='0.16'/></g></g>
<g transform='translate(347.6,149.1) scale(1,0.995)'><line x1='0' y1='26.9' x2='0' y2='38.5' stroke='#a8a8a8' stroke-width='1.0'/><path d='M-4.6 27.0L-7.4 29.2M2.4 27.0L6.6 29.2' stroke='#909090' stroke-width='0.9' fill='none'/><g transform='translate(-0.8,0) scale(1,0.97)'><path d='M-1.6 -0.5L1.6 -0.5C2.2 1.5 2.7 3.1 3.5 4.5C5.3 6.1 6.1 8.3 6.1 11.5L6.1 23C6.1 26 4.9 27.9 2 28.2L-2 28.2C-4.9 27.9 -6.1 26 -6.1 23L-6.1 11.5C-6.1 8.3 -5.3 6.1 -3.5 4.5C-2.7 3.1 -2.2 1.5 -1.6 -0.5Z' fill='url(#mg)'/><path d='M-1.6 -0.5L1.6 -0.5C2.2 1.5 2.7 3.1 3.5 4.5C5.3 6.1 6.1 8.3 6.1 11.5L6.1 23C6.1 26 4.9 27.9 2 28.2L-2 28.2C-4.9 27.9 -6.1 26 -6.1 23L-6.1 11.5C-6.1 8.3 -5.3 6.1 -3.5 4.5C-2.7 3.1 -2.2 1.5 -1.6 -0.5Z' fill='url(#mv)'/><ellipse cx='2.8' cy='9.5' rx='2.2' ry='2.8' fill='#8a8a8a' opacity='0.16'/><ellipse cx='-1.1' cy='21.9' rx='1.7' ry='2.4' fill='#8a8a8a' opacity='0.16'/><ellipse cx='0.2' cy='20.6' rx='1.5' ry='2.4' fill='#8a8a8a' opacity='0.16'/></g></g>
<ellipse cx='269' cy='170' rx='8.5' ry='7.5' fill='#5c10ff'/>
<ellipse cx='253' cy='165' rx='3' ry='4' fill='#5c10ff'/>
<ellipse cx='290' cy='160' rx='3' ry='5' fill='#5c10ff'/>
<ellipse cx='336' cy='163' rx='3.5' ry='4.5' fill='#5c10ff'/>
<ellipse cx='341.5' cy='167.5' rx='3' ry='2.5' fill='#5c10ff'/>
<ellipse cx='319' cy='165' rx='3' ry='3.5' fill='#5c10ff'/>
<ellipse cx='252.0' cy='170.4' rx='5.93' ry='6.50' fill='#5c10ff'/><ellipse cx='252.0' cy='170.4' rx='5.22' ry='5.72' fill='#0a10ff'/><ellipse cx='252.0' cy='170.4' rx='4.39' ry='4.81' fill='#00b8ff'/><ellipse cx='252.0' cy='170.4' rx='4.03' ry='4.42' fill='#10f060'/><ellipse cx='252.0' cy='170.4' rx='3.73' ry='4.09' fill='#e8f000'/><ellipse cx='252.0' cy='170.4' rx='3.56' ry='3.90' fill='#ff5000'/><ellipse cx='252.0' cy='170.4' rx='3.38' ry='3.70' fill='#f01000'/>
<ellipse cx='266.0' cy='170.9' rx='7.28' ry='7.98' fill='#5c10ff'/><ellipse cx='266.0' cy='170.9' rx='6.41' ry='7.02' fill='#0a10ff'/><ellipse cx='266.0' cy='170.9' rx='5.39' ry='5.91' fill='#00b8ff'/><ellipse cx='266.0' cy='170.9' rx='4.95' ry='5.43' fill='#10f060'/><ellipse cx='266.0' cy='170.9' rx='4.59' ry='5.03' fill='#e8f000'/><ellipse cx='266.0' cy='170.9' rx='4.37' ry='4.79' fill='#ff5000'/><ellipse cx='266.0' cy='170.9' rx='4.15' ry='4.55' fill='#f01000'/>
<ellipse cx='288.8' cy='170.9' rx='6.45' ry='7.07' fill='#5c10ff'/><ellipse cx='288.8' cy='170.9' rx='5.67' ry='6.22' fill='#0a10ff'/><ellipse cx='288.8' cy='170.9' rx='4.77' ry='5.23' fill='#00b8ff'/><ellipse cx='288.8' cy='170.9' rx='4.38' ry='4.81' fill='#10f060'/><ellipse cx='288.8' cy='170.9' rx='4.06' ry='4.45' fill='#e8f000'/><ellipse cx='288.8' cy='170.9' rx='3.87' ry='4.24' fill='#ff5000'/><ellipse cx='288.8' cy='170.9' rx='3.68' ry='4.03' fill='#f01000'/>
<ellipse cx='317.5' cy='168.0' rx='5.62' ry='6.16' fill='#5c10ff'/><ellipse cx='317.5' cy='168.0' rx='4.94' ry='5.42' fill='#0a10ff'/><ellipse cx='317.5' cy='168.0' rx='4.16' ry='4.56' fill='#00b8ff'/><ellipse cx='317.5' cy='168.0' rx='3.82' ry='4.19' fill='#10f060'/><ellipse cx='317.5' cy='168.0' rx='3.54' ry='3.88' fill='#e8f000'/><ellipse cx='317.5' cy='168.0' rx='3.37' ry='3.69' fill='#ff5000'/><ellipse cx='317.5' cy='168.0' rx='3.20' ry='3.51' fill='#f01000'/>
<ellipse cx='334.6' cy='168.0' rx='5.62' ry='6.16' fill='#5c10ff'/><ellipse cx='334.6' cy='168.0' rx='4.94' ry='5.42' fill='#0a10ff'/><ellipse cx='334.6' cy='168.0' rx='4.16' ry='4.56' fill='#00b8ff'/><ellipse cx='334.6' cy='168.0' rx='3.82' ry='4.19' fill='#10f060'/><ellipse cx='334.6' cy='168.0' rx='3.54' ry='3.88' fill='#e8f000'/><ellipse cx='334.6' cy='168.0' rx='3.37' ry='3.69' fill='#ff5000'/><ellipse cx='334.6' cy='168.0' rx='3.20' ry='3.51' fill='#f01000'/>
<ellipse cx='348.3' cy='168.3' rx='5.41' ry='5.93' fill='#5c10ff'/><ellipse cx='348.3' cy='168.3' rx='4.76' ry='5.22' fill='#0a10ff'/><ellipse cx='348.3' cy='168.3' rx='4.00' ry='4.39' fill='#00b8ff'/><ellipse cx='348.3' cy='168.3' rx='3.68' ry='4.03' fill='#10f060'/><ellipse cx='348.3' cy='168.3' rx='3.41' ry='3.73' fill='#e8f000'/><ellipse cx='348.3' cy='168.3' rx='3.24' ry='3.56' fill='#ff5000'/><ellipse cx='348.3' cy='168.3' rx='3.08' ry='3.38' fill='#f01000'/>
<ellipse cx='289.5' cy='162.1' rx='2.40' ry='2.52' fill='#3030ff'/><ellipse cx='289.5' cy='162.1' rx='1.20' ry='1.26' fill='#2060ff'/>
<path d='M212.3 149.1 L224.9 186.9 M224.9 149.1 L212.3 186.9' stroke='#e8e8e8' stroke-width='1.1'/>
<path d='M226.3 149.1 L238.4 186.9 M238.4 149.1 L226.3 186.9' stroke='#e8e8e8' stroke-width='1.1'/>
<path d='M293.9 149.1 L302.9 186.9 M302.9 149.1 L293.9 186.9' stroke='#e8e8e8' stroke-width='1.1'/>
</g></svg>
<rect x='357' y='150.1' width='150.30' height='38.10' fill='#303030'/>
<svg x='357' y='150.1' width='150.30' height='38.10' overflow='hidden'><g transform='translate(-357,-150.1)' filter='url(#sb)'>
<g transform='translate(365.9,150.1) scale(1,1.003)'><line x1='0' y1='24.9' x2='0' y2='38.5' stroke='#a8a8a8' stroke-width='1.0'/><path d='M-4.6 25.0L-7.4 27.2M2.4 25.0L6.6 27.2' stroke='#909090' stroke-width='0.9' fill='none'/><g transform='translate(-0.8,0) scale(1,0.9)'><path d='M-1.6 -0.5L1.6 -0.5C2.2 1.5 2.7 3.1 3.5 4.5C5.3 6.1 6.1 8.3 6.1 11.5L6.1 23C6.1 26 4.9 27.9 2 28.2L-2 28.2C-4.9 27.9 -6.1 26 -6.1 23L-6.1 11.5C-6.1 8.3 -5.3 6.1 -3.5 4.5C-2.7 3.1 -2.2 1.5 -1.6 -0.5Z' fill='url(#mg)'/><path d='M-1.6 -0.5L1.6 -0.5C2.2 1.5 2.7 3.1 3.5 4.5C5.3 6.1 6.1 8.3 6.1 11.5L6.1 23C6.1 26 4.9 27.9 2 28.2L-2 28.2C-4.9 27.9 -6.1 26 -6.1 23L-6.1 11.5C-6.1 8.3 -5.3 6.1 -3.5 4.5C-2.7 3.1 -2.2 1.5 -1.6 -0.5Z' fill='url(#mv)'/><ellipse cx='-0.5' cy='17.3' rx='2.4' ry='2.1' fill='#8a8a8a' opacity='0.16'/><ellipse cx='2.3' cy='15.1' rx='1.9' ry='2.0' fill='#8a8a8a' opacity='0.16'/><ellipse cx='0.0' cy='23.6' rx='2.1' ry='3.1' fill='#8a8a8a' opacity='0.16'/></g></g>
<g transform='translate(380.2,150.1) scale(1,1.003)'><line x1='0' y1='24.9' x2='0' y2='38.5' stroke='#a8a8a8' stroke-width='1.0'/><path d='M-4.6 25.0L-7.4 27.2M2.4 25.0L6.6 27.2' stroke='#909090' stroke-width='0.9' fill='none'/><g transform='translate(-0.8,0) scale(1,0.9)'><path d='M-1.6 -0.5L1.6 -0.5C2.2 1.5 2.7 3.1 3.5 4.5C5.3 6.1 6.1 8.3 6.1 11.5L6.1 23C6.1 26 4.9 27.9 2 28.2L-2 28.2C-4.9 27.9 -6.1 26 -6.1 23L-6.1 11.5C-6.1 8.3 -5.3 6.1 -3.5 4.5C-2.7 3.1 -2.2 1.5 -1.6 -0.5Z' fill='url(#mg)'/><path d='M-1.6 -0.5L1.6 -0.5C2.2 1.5 2.7 3.1 3.5 4.5C5.3 6.1 6.1 8.3 6.1 11.5L6.1 23C6.1 26 4.9 27.9 2 28.2L-2 28.2C-4.9 27.9 -6.1 26 -6.1 23L-6.1 11.5C-6.1 8.3 -5.3 6.1 -3.5 4.5C-2.7 3.1 -2.2 1.5 -1.6 -0.5Z' fill='url(#mv)'/><ellipse cx='-1.2' cy='13.8' rx='1.6' ry='2.7' fill='#8a8a8a' opacity='0.16'/><ellipse cx='0.9' cy='20.8' rx='1.3' ry='2.9' fill='#8a8a8a' opacity='0.16'/><ellipse cx='2.7' cy='17.2' rx='1.3' ry='2.1' fill='#8a8a8a' opacity='0.16'/></g></g>
<g transform='translate(396.1,150.1) scale(1,1.003)'><line x1='0' y1='24.9' x2='0' y2='38.5' stroke='#a8a8a8' stroke-width='1.0'/><path d='M-4.6 25.0L-7.4 27.2M2.4 25.0L6.6 27.2' stroke='#909090' stroke-width='0.9' fill='none'/><g transform='translate(-0.8,0) scale(1,0.9)'><path d='M-1.6 -0.5L1.6 -0.5C2.2 1.5 2.7 3.1 3.5 4.5C5.3 6.1 6.1 8.3 6.1 11.5L6.1 23C6.1 26 4.9 27.9 2 28.2L-2 28.2C-4.9 27.9 -6.1 26 -6.1 23L-6.1 11.5C-6.1 8.3 -5.3 6.1 -3.5 4.5C-2.7 3.1 -2.2 1.5 -1.6 -0.5Z' fill='url(#mg)'/><path d='M-1.6 -0.5L1.6 -0.5C2.2 1.5 2.7 3.1 3.5 4.5C5.3 6.1 6.1 8.3 6.1 11.5L6.1 23C6.1 26 4.9 27.9 2 28.2L-2 28.2C-4.9 27.9 -6.1 26 -6.1 23L-6.1 11.5C-6.1 8.3 -5.3 6.1 -3.5 4.5C-2.7 3.1 -2.2 1.5 -1.6 -0.5Z' fill='url(#mv)'/><ellipse cx='-3.5' cy='11.8' rx='2.5' ry='2.7' fill='#8a8a8a' opacity='0.16'/><ellipse cx='1.1' cy='20.8' rx='2.5' ry='2.7' fill='#8a8a8a' opacity='0.16'/><ellipse cx='0.8' cy='18.4' rx='2.2' ry='2.7' fill='#8a8a8a' opacity='0.16'/></g></g>
<g transform='translate(411.4,150.1) scale(1,1.003)'><line x1='0' y1='24.9' x2='0' y2='38.5' stroke='#a8a8a8' stroke-width='1.0'/><path d='M-4.6 25.0L-7.4 27.2M2.4 25.0L6.6 27.2' stroke='#909090' stroke-width='0.9' fill='none'/><g transform='translate(-0.8,0) scale(1,0.9)'><path d='M-1.6 -0.5L1.6 -0.5C2.2 1.5 2.7 3.1 3.5 4.5C5.3 6.1 6.1 8.3 6.1 11.5L6.1 23C6.1 26 4.9 27.9 2 28.2L-2 28.2C-4.9 27.9 -6.1 26 -6.1 23L-6.1 11.5C-6.1 8.3 -5.3 6.1 -3.5 4.5C-2.7 3.1 -2.2 1.5 -1.6 -0.5Z' fill='url(#mg)'/><path d='M-1.6 -0.5L1.6 -0.5C2.2 1.5 2.7 3.1 3.5 4.5C5.3 6.1 6.1 8.3 6.1 11.5L6.1 23C6.1 26 4.9 27.9 2 28.2L-2 28.2C-4.9 27.9 -6.1 26 -6.1 23L-6.1 11.5C-6.1 8.3 -5.3 6.1 -3.5 4.5C-2.7 3.1 -2.2 1.5 -1.6 -0.5Z' fill='url(#mv)'/><ellipse cx='1.3' cy='12.2' rx='2.1' ry='2.4' fill='#8a8a8a' opacity='0.16'/><ellipse cx='1.8' cy='10.5' rx='1.5' ry='1.6' fill='#8a8a8a' opacity='0.16'/><ellipse cx='1.9' cy='22.7' rx='2.1' ry='2.2' fill='#8a8a8a' opacity='0.16'/></g></g>
<g transform='translate(425.1,150.1) scale(1,1.003)'><line x1='0' y1='24.9' x2='0' y2='38.5' stroke='#a8a8a8' stroke-width='1.0'/><path d='M-4.6 25.0L-7.4 27.2M2.4 25.0L6.6 27.2' stroke='#909090' stroke-width='0.9' fill='none'/><g transform='translate(-0.8,0) scale(1,0.9)'><path d='M-1.6 -0.5L1.6 -0.5C2.2 1.5 2.7 3.1 3.5 4.5C5.3 6.1 6.1 8.3 6.1 11.5L6.1 23C6.1 26 4.9 27.9 2 28.2L-2 28.2C-4.9 27.9 -6.1 26 -6.1 23L-6.1 11.5C-6.1 8.3 -5.3 6.1 -3.5 4.5C-2.7 3.1 -2.2 1.5 -1.6 -0.5Z' fill='url(#mg)'/><path d='M-1.6 -0.5L1.6 -0.5C2.2 1.5 2.7 3.1 3.5 4.5C5.3 6.1 6.1 8.3 6.1 11.5L6.1 23C6.1 26 4.9 27.9 2 28.2L-2 28.2C-4.9 27.9 -6.1 26 -6.1 23L-6.1 11.5C-6.1 8.3 -5.3 6.1 -3.5 4.5C-2.7 3.1 -2.2 1.5 -1.6 -0.5Z' fill='url(#mv)'/><ellipse cx='2.3' cy='20.8' rx='2.0' ry='2.0' fill='#8a8a8a' opacity='0.16'/><ellipse cx='-1.4' cy='15.3' rx='1.6' ry='2.4' fill='#8a8a8a' opacity='0.16'/><ellipse cx='1.0' cy='23.0' rx='1.3' ry='2.6' fill='#8a8a8a' opacity='0.16'/></g></g>
<g transform='translate(439.7,150.1) scale(1,1.003)'><line x1='0' y1='24.9' x2='0' y2='38.5' stroke='#a8a8a8' stroke-width='1.0'/><path d='M-4.6 25.0L-7.4 27.2M2.4 25.0L6.6 27.2' stroke='#909090' stroke-width='0.9' fill='none'/><g transform='translate(-0.8,0) scale(1,0.9)'><path d='M-1.6 -0.5L1.6 -0.5C2.2 1.5 2.7 3.1 3.5 4.5C5.3 6.1 6.1 8.3 6.1 11.5L6.1 23C6.1 26 4.9 27.9 2 28.2L-2 28.2C-4.9 27.9 -6.1 26 -6.1 23L-6.1 11.5C-6.1 8.3 -5.3 6.1 -3.5 4.5C-2.7 3.1 -2.2 1.5 -1.6 -0.5Z' fill='url(#mg)'/><path d='M-1.6 -0.5L1.6 -0.5C2.2 1.5 2.7 3.1 3.5 4.5C5.3 6.1 6.1 8.3 6.1 11.5L6.1 23C6.1 26 4.9 27.9 2 28.2L-2 28.2C-4.9 27.9 -6.1 26 -6.1 23L-6.1 11.5C-6.1 8.3 -5.3 6.1 -3.5 4.5C-2.7 3.1 -2.2 1.5 -1.6 -0.5Z' fill='url(#mv)'/><ellipse cx='-3.2' cy='10.8' rx='2.3' ry='2.7' fill='#8a8a8a' opacity='0.16'/><ellipse cx='2.9' cy='15.7' rx='1.2' ry='2.3' fill='#8a8a8a' opacity='0.16'/><ellipse cx='0.6' cy='23.1' rx='2.6' ry='2.5' fill='#8a8a8a' opacity='0.16'/></g></g>
<g transform='translate(454.5,150.1) scale(1,1.003)'><line x1='0' y1='24.9' x2='0' y2='38.5' stroke='#a8a8a8' stroke-width='1.0'/><path d='M-4.6 25.0L-7.4 27.2M2.4 25.0L6.6 27.2' stroke='#909090' stroke-width='0.9' fill='none'/><g transform='translate(-0.8,0) scale(1,0.9)'><path d='M-1.6 -0.5L1.6 -0.5C2.2 1.5 2.7 3.1 3.5 4.5C5.3 6.1 6.1 8.3 6.1 11.5L6.1 23C6.1 26 4.9 27.9 2 28.2L-2 28.2C-4.9 27.9 -6.1 26 -6.1 23L-6.1 11.5C-6.1 8.3 -5.3 6.1 -3.5 4.5C-2.7 3.1 -2.2 1.5 -1.6 -0.5Z' fill='url(#mg)'/><path d='M-1.6 -0.5L1.6 -0.5C2.2 1.5 2.7 3.1 3.5 4.5C5.3 6.1 6.1 8.3 6.1 11.5L6.1 23C6.1 26 4.9 27.9 2 28.2L-2 28.2C-4.9 27.9 -6.1 26 -6.1 23L-6.1 11.5C-6.1 8.3 -5.3 6.1 -3.5 4.5C-2.7 3.1 -2.2 1.5 -1.6 -0.5Z' fill='url(#mv)'/><ellipse cx='-0.6' cy='10.5' rx='2.1' ry='1.9' fill='#8a8a8a' opacity='0.16'/><ellipse cx='-2.4' cy='9.2' rx='1.2' ry='2.9' fill='#8a8a8a' opacity='0.16'/><ellipse cx='-2.6' cy='23.5' rx='1.3' ry='3.2' fill='#8a8a8a' opacity='0.16'/></g></g>
<g transform='translate(470.4,150.1) scale(1,1.003)'><line x1='0' y1='24.9' x2='0' y2='38.5' stroke='#a8a8a8' stroke-width='1.0'/><path d='M-4.6 25.0L-7.4 27.2M2.4 25.0L6.6 27.2' stroke='#909090' stroke-width='0.9' fill='none'/><g transform='translate(-0.8,0) scale(1,0.9)'><path d='M-1.6 -0.5L1.6 -0.5C2.2 1.5 2.7 3.1 3.5 4.5C5.3 6.1 6.1 8.3 6.1 11.5L6.1 23C6.1 26 4.9 27.9 2 28.2L-2 28.2C-4.9 27.9 -6.1 26 -6.1 23L-6.1 11.5C-6.1 8.3 -5.3 6.1 -3.5 4.5C-2.7 3.1 -2.2 1.5 -1.6 -0.5Z' fill='url(#mg)'/><path d='M-1.6 -0.5L1.6 -0.5C2.2 1.5 2.7 3.1 3.5 4.5C5.3 6.1 6.1 8.3 6.1 11.5L6.1 23C6.1 26 4.9 27.9 2 28.2L-2 28.2C-4.9 27.9 -6.1 26 -6.1 23L-6.1 11.5C-6.1 8.3 -5.3 6.1 -3.5 4.5C-2.7 3.1 -2.2 1.5 -1.6 -0.5Z' fill='url(#mv)'/><ellipse cx='-2.6' cy='9.3' rx='2.2' ry='2.0' fill='#8a8a8a' opacity='0.16'/><ellipse cx='1.6' cy='11.8' rx='1.3' ry='3.0' fill='#8a8a8a' opacity='0.16'/><ellipse cx='1.5' cy='21.8' rx='2.2' ry='1.7' fill='#8a8a8a' opacity='0.16'/></g></g>
<g transform='translate(485.8,150.1) scale(1,1.003)'><line x1='0' y1='24.9' x2='0' y2='38.5' stroke='#a8a8a8' stroke-width='1.0'/><path d='M-4.6 25.0L-7.4 27.2M2.4 25.0L6.6 27.2' stroke='#909090' stroke-width='0.9' fill='none'/><g transform='translate(-0.8,0) scale(1,0.9)'><path d='M-1.6 -0.5L1.6 -0.5C2.2 1.5 2.7 3.1 3.5 4.5C5.3 6.1 6.1 8.3 6.1 11.5L6.1 23C6.1 26 4.9 27.9 2 28.2L-2 28.2C-4.9 27.9 -6.1 26 -6.1 23L-6.1 11.5C-6.1 8.3 -5.3 6.1 -3.5 4.5C-2.7 3.1 -2.2 1.5 -1.6 -0.5Z' fill='url(#mg)'/><path d='M-1.6 -0.5L1.6 -0.5C2.2 1.5 2.7 3.1 3.5 4.5C5.3 6.1 6.1 8.3 6.1 11.5L6.1 23C6.1 26 4.9 27.9 2 28.2L-2 28.2C-4.9 27.9 -6.1 26 -6.1 23L-6.1 11.5C-6.1 8.3 -5.3 6.1 -3.5 4.5C-2.7 3.1 -2.2 1.5 -1.6 -0.5Z' fill='url(#mv)'/><ellipse cx='0.9' cy='19.6' rx='1.8' ry='3.4' fill='#8a8a8a' opacity='0.16'/><ellipse cx='-1.7' cy='23.5' rx='2.2' ry='1.5' fill='#8a8a8a' opacity='0.16'/><ellipse cx='-3.4' cy='18.8' rx='2.3' ry='1.7' fill='#8a8a8a' opacity='0.16'/></g></g>
<g transform='translate(500,150.1) scale(1,1.003)'><line x1='0' y1='24.9' x2='0' y2='38.5' stroke='#a8a8a8' stroke-width='1.0'/><path d='M-4.6 25.0L-7.4 27.2M2.4 25.0L6.6 27.2' stroke='#909090' stroke-width='0.9' fill='none'/><g transform='translate(-0.8,0) scale(1,0.9)'><path d='M-1.6 -0.5L1.6 -0.5C2.2 1.5 2.7 3.1 3.5 4.5C5.3 6.1 6.1 8.3 6.1 11.5L6.1 23C6.1 26 4.9 27.9 2 28.2L-2 28.2C-4.9 27.9 -6.1 26 -6.1 23L-6.1 11.5C-6.1 8.3 -5.3 6.1 -3.5 4.5C-2.7 3.1 -2.2 1.5 -1.6 -0.5Z' fill='url(#mg)'/><path d='M-1.6 -0.5L1.6 -0.5C2.2 1.5 2.7 3.1 3.5 4.5C5.3 6.1 6.1 8.3 6.1 11.5L6.1 23C6.1 26 4.9 27.9 2 28.2L-2 28.2C-4.9 27.9 -6.1 26 -6.1 23L-6.1 11.5C-6.1 8.3 -5.3 6.1 -3.5 4.5C-2.7 3.1 -2.2 1.5 -1.6 -0.5Z' fill='url(#mv)'/><ellipse cx='-1.3' cy='19.9' rx='1.4' ry='3.2' fill='#8a8a8a' opacity='0.16'/><ellipse cx='-0.1' cy='9.9' rx='1.7' ry='2.6' fill='#8a8a8a' opacity='0.16'/><ellipse cx='-0.4' cy='19.2' rx='1.4' ry='3.1' fill='#8a8a8a' opacity='0.16'/></g></g>
<ellipse cx='363.7' cy='171.2' rx='3.85' ry='4.22' fill='#5c10ff'/><ellipse cx='363.7' cy='171.2' rx='3.39' ry='3.71' fill='#0a10ff'/><ellipse cx='363.7' cy='171.2' rx='2.85' ry='3.12' fill='#00b8ff'/><ellipse cx='363.7' cy='171.2' rx='2.62' ry='2.87' fill='#10f060'/><ellipse cx='363.7' cy='171.2' rx='2.42' ry='2.66' fill='#e8f000'/><ellipse cx='363.7' cy='171.2' rx='2.31' ry='2.53' fill='#ff5000'/><ellipse cx='363.7' cy='171.2' rx='2.19' ry='2.40' fill='#f01000'/>
<ellipse cx='379.6' cy='170.2' rx='4.89' ry='5.36' fill='#5c10ff'/><ellipse cx='379.6' cy='170.2' rx='4.30' ry='4.72' fill='#0a10ff'/><ellipse cx='379.6' cy='170.2' rx='3.62' ry='3.96' fill='#00b8ff'/><ellipse cx='379.6' cy='170.2' rx='3.32' ry='3.64' fill='#10f060'/><ellipse cx='379.6' cy='170.2' rx='3.08' ry='3.38' fill='#e8f000'/><ellipse cx='379.6' cy='170.2' rx='2.93' ry='3.21' fill='#ff5000'/><ellipse cx='379.6' cy='170.2' rx='2.79' ry='3.05' fill='#f01000'/>
<ellipse cx='396.8' cy='168.4' rx='3.85' ry='4.22' fill='#5c10ff'/><ellipse cx='396.8' cy='168.4' rx='3.39' ry='3.71' fill='#0a10ff'/><ellipse cx='396.8' cy='168.4' rx='2.85' ry='3.12' fill='#00b8ff'/><ellipse cx='396.8' cy='168.4' rx='2.62' ry='2.87' fill='#10f060'/><ellipse cx='396.8' cy='168.4' rx='2.42' ry='2.66' fill='#e8f000'/><ellipse cx='396.8' cy='168.4' rx='2.31' ry='2.53' fill='#ff5000'/><ellipse cx='396.8' cy='168.4' rx='2.19' ry='2.40' fill='#f01000'/>
<ellipse cx='413.9' cy='169.5' rx='3.85' ry='4.22' fill='#5c10ff'/><ellipse cx='413.9' cy='169.5' rx='3.39' ry='3.71' fill='#0a10ff'/><ellipse cx='413.9' cy='169.5' rx='2.85' ry='3.12' fill='#00b8ff'/><ellipse cx='413.9' cy='169.5' rx='2.62' ry='2.87' fill='#10f060'/><ellipse cx='413.9' cy='169.5' rx='2.42' ry='2.66' fill='#e8f000'/><ellipse cx='413.9' cy='169.5' rx='2.31' ry='2.53' fill='#ff5000'/><ellipse cx='413.9' cy='169.5' rx='2.19' ry='2.40' fill='#f01000'/>
<ellipse cx='429.1' cy='171.2' rx='3.33' ry='3.65' fill='#5c10ff'/><ellipse cx='429.1' cy='171.2' rx='2.93' ry='3.21' fill='#0a10ff'/><ellipse cx='429.1' cy='171.2' rx='2.46' ry='2.70' fill='#00b8ff'/><ellipse cx='429.1' cy='171.2' rx='2.26' ry='2.48' fill='#10f060'/><ellipse cx='429.1' cy='171.2' rx='2.10' ry='2.30' fill='#e8f000'/><ellipse cx='429.1' cy='171.2' rx='2.00' ry='2.19' fill='#ff5000'/><ellipse cx='429.1' cy='171.2' rx='1.90' ry='2.08' fill='#f01000'/>
<ellipse cx='441.9' cy='169.1' rx='4.37' ry='4.79' fill='#5c10ff'/><ellipse cx='441.9' cy='169.1' rx='3.84' ry='4.21' fill='#0a10ff'/><ellipse cx='441.9' cy='169.1' rx='3.23' ry='3.54' fill='#00b8ff'/><ellipse cx='441.9' cy='169.1' rx='2.97' ry='3.26' fill='#10f060'/><ellipse cx='441.9' cy='169.1' rx='2.75' ry='3.02' fill='#e8f000'/><ellipse cx='441.9' cy='169.1' rx='2.62' ry='2.87' fill='#ff5000'/><ellipse cx='441.9' cy='169.1' rx='2.49' ry='2.73' fill='#f01000'/>
<ellipse cx='459.0' cy='168.4' rx='3.33' ry='3.65' fill='#5c10ff'/><ellipse cx='459.0' cy='168.4' rx='2.93' ry='3.21' fill='#0a10ff'/><ellipse cx='459.0' cy='168.4' rx='2.46' ry='2.70' fill='#00b8ff'/><ellipse cx='459.0' cy='168.4' rx='2.26' ry='2.48' fill='#10f060'/><ellipse cx='459.0' cy='168.4' rx='2.10' ry='2.30' fill='#e8f000'/><ellipse cx='459.0' cy='168.4' rx='2.00' ry='2.19' fill='#ff5000'/><ellipse cx='459.0' cy='168.4' rx='1.90' ry='2.08' fill='#f01000'/>
<ellipse cx='474.6' cy='169.1' rx='1.60' ry='1.68' fill='#3030ff'/><ellipse cx='474.6' cy='169.1' rx='0.80' ry='0.84' fill='#2060ff'/>
<ellipse cx='488.0' cy='168.4' rx='3.85' ry='4.22' fill='#5c10ff'/><ellipse cx='488.0' cy='168.4' rx='3.39' ry='3.71' fill='#0a10ff'/><ellipse cx='488.0' cy='168.4' rx='2.85' ry='3.12' fill='#00b8ff'/><ellipse cx='488.0' cy='168.4' rx='2.62' ry='2.87' fill='#10f060'/><ellipse cx='488.0' cy='168.4' rx='2.42' ry='2.66' fill='#e8f000'/><ellipse cx='488.0' cy='168.4' rx='2.31' ry='2.53' fill='#ff5000'/><ellipse cx='488.0' cy='168.4' rx='2.19' ry='2.40' fill='#f01000'/>
<ellipse cx='501.0' cy='169.5' rx='4.37' ry='4.79' fill='#5c10ff'/><ellipse cx='501.0' cy='169.5' rx='3.84' ry='4.21' fill='#0a10ff'/><ellipse cx='501.0' cy='169.5' rx='3.23' ry='3.54' fill='#00b8ff'/><ellipse cx='501.0' cy='169.5' rx='2.97' ry='3.26' fill='#10f060'/><ellipse cx='501.0' cy='169.5' rx='2.75' ry='3.02' fill='#e8f000'/><ellipse cx='501.0' cy='169.5' rx='2.62' ry='2.87' fill='#ff5000'/><ellipse cx='501.0' cy='169.5' rx='2.49' ry='2.73' fill='#f01000'/>
</g></svg>
<rect x='510.9' y='150.9' width='133.80' height='37.50' fill='#303030'/>
<svg x='510.9' y='150.9' width='133.80' height='37.50' overflow='hidden'><g transform='translate(-510.9,-150.9)' filter='url(#sb)'>
<g transform='translate(522.1,150.9) scale(1,0.987)'><line x1='0' y1='24.3' x2='0' y2='38.5' stroke='#a8a8a8' stroke-width='1.0'/><path d='M-4.6 24.4L-7.4 26.6M2.4 24.4L6.6 26.6' stroke='#909090' stroke-width='0.9' fill='none'/><g transform='translate(-0.8,0) scale(1,0.88)'><path d='M-1.6 -0.5L1.6 -0.5C2.2 1.5 2.7 3.1 3.5 4.5C5.3 6.1 6.1 8.3 6.1 11.5L6.1 23C6.1 26 4.9 27.9 2 28.2L-2 28.2C-4.9 27.9 -6.1 26 -6.1 23L-6.1 11.5C-6.1 8.3 -5.3 6.1 -3.5 4.5C-2.7 3.1 -2.2 1.5 -1.6 -0.5Z' fill='url(#mg)'/><path d='M-1.6 -0.5L1.6 -0.5C2.2 1.5 2.7 3.1 3.5 4.5C5.3 6.1 6.1 8.3 6.1 11.5L6.1 23C6.1 26 4.9 27.9 2 28.2L-2 28.2C-4.9 27.9 -6.1 26 -6.1 23L-6.1 11.5C-6.1 8.3 -5.3 6.1 -3.5 4.5C-2.7 3.1 -2.2 1.5 -1.6 -0.5Z' fill='url(#mv)'/><ellipse cx='-1.0' cy='18.7' rx='2.1' ry='2.3' fill='#8a8a8a' opacity='0.16'/><ellipse cx='-0.8' cy='20.8' rx='2.5' ry='3.1' fill='#8a8a8a' opacity='0.16'/><ellipse cx='0.5' cy='13.4' rx='1.3' ry='3.4' fill='#8a8a8a' opacity='0.16'/></g></g>
<g transform='translate(535.5,150.9) scale(1,0.987)'><line x1='0' y1='24.3' x2='0' y2='38.5' stroke='#a8a8a8' stroke-width='1.0'/><path d='M-4.6 24.4L-7.4 26.6M2.4 24.4L6.6 26.6' stroke='#909090' stroke-width='0.9' fill='none'/><g transform='translate(-0.8,0) scale(1,0.88)'><path d='M-1.6 -0.5L1.6 -0.5C2.2 1.5 2.7 3.1 3.5 4.5C5.3 6.1 6.1 8.3 6.1 11.5L6.1 23C6.1 26 4.9 27.9 2 28.2L-2 28.2C-4.9 27.9 -6.1 26 -6.1 23L-6.1 11.5C-6.1 8.3 -5.3 6.1 -3.5 4.5C-2.7 3.1 -2.2 1.5 -1.6 -0.5Z' fill='url(#mg)'/><path d='M-1.6 -0.5L1.6 -0.5C2.2 1.5 2.7 3.1 3.5 4.5C5.3 6.1 6.1 8.3 6.1 11.5L6.1 23C6.1 26 4.9 27.9 2 28.2L-2 28.2C-4.9 27.9 -6.1 26 -6.1 23L-6.1 11.5C-6.1 8.3 -5.3 6.1 -3.5 4.5C-2.7 3.1 -2.2 1.5 -1.6 -0.5Z' fill='url(#mv)'/><ellipse cx='1.4' cy='21.4' rx='1.7' ry='2.7' fill='#8a8a8a' opacity='0.16'/><ellipse cx='3.3' cy='21.5' rx='2.0' ry='2.1' fill='#8a8a8a' opacity='0.16'/><ellipse cx='-0.5' cy='22.3' rx='1.7' ry='2.9' fill='#8a8a8a' opacity='0.16'/></g></g>
<g transform='translate(549.9,150.9) scale(1,0.987)'><line x1='0' y1='24.3' x2='0' y2='38.5' stroke='#a8a8a8' stroke-width='1.0'/><path d='M-4.6 24.4L-7.4 26.6M2.4 24.4L6.6 26.6' stroke='#909090' stroke-width='0.9' fill='none'/><g transform='translate(-0.8,0) scale(1,0.88)'><path d='M-1.6 -0.5L1.6 -0.5C2.2 1.5 2.7 3.1 3.5 4.5C5.3 6.1 6.1 8.3 6.1 11.5L6.1 23C6.1 26 4.9 27.9 2 28.2L-2 28.2C-4.9 27.9 -6.1 26 -6.1 23L-6.1 11.5C-6.1 8.3 -5.3 6.1 -3.5 4.5C-2.7 3.1 -2.2 1.5 -1.6 -0.5Z' fill='url(#mg)'/><path d='M-1.6 -0.5L1.6 -0.5C2.2 1.5 2.7 3.1 3.5 4.5C5.3 6.1 6.1 8.3 6.1 11.5L6.1 23C6.1 26 4.9 27.9 2 28.2L-2 28.2C-4.9 27.9 -6.1 26 -6.1 23L-6.1 11.5C-6.1 8.3 -5.3 6.1 -3.5 4.5C-2.7 3.1 -2.2 1.5 -1.6 -0.5Z' fill='url(#mv)'/><ellipse cx='0.7' cy='22.4' rx='2.3' ry='2.1' fill='#8a8a8a' opacity='0.16'/><ellipse cx='-3.5' cy='12.9' rx='1.8' ry='2.7' fill='#8a8a8a' opacity='0.16'/><ellipse cx='2.2' cy='22.3' rx='1.3' ry='3.2' fill='#8a8a8a' opacity='0.16'/></g></g>
<g transform='translate(565.2,150.9) scale(1,0.987)'><line x1='0' y1='24.3' x2='0' y2='38.5' stroke='#a8a8a8' stroke-width='1.0'/><path d='M-4.6 24.4L-7.4 26.6M2.4 24.4L6.6 26.6' stroke='#909090' stroke-width='0.9' fill='none'/><g transform='translate(-0.8,0) scale(1,0.88)'><path d='M-1.6 -0.5L1.6 -0.5C2.2 1.5 2.7 3.1 3.5 4.5C5.3 6.1 6.1 8.3 6.1 11.5L6.1 23C6.1 26 4.9 27.9 2 28.2L-2 28.2C-4.9 27.9 -6.1 26 -6.1 23L-6.1 11.5C-6.1 8.3 -5.3 6.1 -3.5 4.5C-2.7 3.1 -2.2 1.5 -1.6 -0.5Z' fill='url(#mg)'/><path d='M-1.6 -0.5L1.6 -0.5C2.2 1.5 2.7 3.1 3.5 4.5C5.3 6.1 6.1 8.3 6.1 11.5L6.1 23C6.1 26 4.9 27.9 2 28.2L-2 28.2C-4.9 27.9 -6.1 26 -6.1 23L-6.1 11.5C-6.1 8.3 -5.3 6.1 -3.5 4.5C-2.7 3.1 -2.2 1.5 -1.6 -0.5Z' fill='url(#mv)'/><ellipse cx='2.2' cy='22.0' rx='2.0' ry='2.0' fill='#8a8a8a' opacity='0.16'/><ellipse cx='2.5' cy='21.1' rx='2.2' ry='3.3' fill='#8a8a8a' opacity='0.16'/><ellipse cx='-1.1' cy='10.3' rx='2.0' ry='3.1' fill='#8a8a8a' opacity='0.16'/></g></g>
<g transform='translate(581.2,150.9) scale(1,0.987)'><line x1='0' y1='24.3' x2='0' y2='38.5' stroke='#a8a8a8' stroke-width='1.0'/><path d='M-4.6 24.4L-7.4 26.6M2.4 24.4L6.6 26.6' stroke='#909090' stroke-width='0.9' fill='none'/><g transform='translate(-0.8,0) scale(1,0.88)'><path d='M-1.6 -0.5L1.6 -0.5C2.2 1.5 2.7 3.1 3.5 4.5C5.3 6.1 6.1 8.3 6.1 11.5L6.1 23C6.1 26 4.9 27.9 2 28.2L-2 28.2C-4.9 27.9 -6.1 26 -6.1 23L-6.1 11.5C-6.1 8.3 -5.3 6.1 -3.5 4.5C-2.7 3.1 -2.2 1.5 -1.6 -0.5Z' fill='url(#mg)'/><path d='M-1.6 -0.5L1.6 -0.5C2.2 1.5 2.7 3.1 3.5 4.5C5.3 6.1 6.1 8.3 6.1 11.5L6.1 23C6.1 26 4.9 27.9 2 28.2L-2 28.2C-4.9 27.9 -6.1 26 -6.1 23L-6.1 11.5C-6.1 8.3 -5.3 6.1 -3.5 4.5C-2.7 3.1 -2.2 1.5 -1.6 -0.5Z' fill='url(#mv)'/><ellipse cx='-2.1' cy='20.3' rx='2.5' ry='2.0' fill='#8a8a8a' opacity='0.16'/><ellipse cx='0.7' cy='19.2' rx='1.9' ry='1.9' fill='#8a8a8a' opacity='0.16'/><ellipse cx='-1.7' cy='20.3' rx='2.3' ry='2.4' fill='#8a8a8a' opacity='0.16'/></g></g>
<g transform='translate(595.7,150.9) scale(1,0.987)'><line x1='0' y1='24.3' x2='0' y2='38.5' stroke='#a8a8a8' stroke-width='1.0'/><path d='M-4.6 24.4L-7.4 26.6M2.4 24.4L6.6 26.6' stroke='#909090' stroke-width='0.9' fill='none'/><g transform='translate(-0.8,0) scale(1,0.88)'><path d='M-1.6 -0.5L1.6 -0.5C2.2 1.5 2.7 3.1 3.5 4.5C5.3 6.1 6.1 8.3 6.1 11.5L6.1 23C6.1 26 4.9 27.9 2 28.2L-2 28.2C-4.9 27.9 -6.1 26 -6.1 23L-6.1 11.5C-6.1 8.3 -5.3 6.1 -3.5 4.5C-2.7 3.1 -2.2 1.5 -1.6 -0.5Z' fill='url(#mg)'/><path d='M-1.6 -0.5L1.6 -0.5C2.2 1.5 2.7 3.1 3.5 4.5C5.3 6.1 6.1 8.3 6.1 11.5L6.1 23C6.1 26 4.9 27.9 2 28.2L-2 28.2C-4.9 27.9 -6.1 26 -6.1 23L-6.1 11.5C-6.1 8.3 -5.3 6.1 -3.5 4.5C-2.7 3.1 -2.2 1.5 -1.6 -0.5Z' fill='url(#mv)'/><ellipse cx='-2.9' cy='21.1' rx='2.3' ry='2.0' fill='#8a8a8a' opacity='0.16'/><ellipse cx='0.6' cy='22.5' rx='2.4' ry='2.5' fill='#8a8a8a' opacity='0.16'/><ellipse cx='-0.2' cy='17.8' rx='1.5' ry='1.9' fill='#8a8a8a' opacity='0.16'/></g></g>
<g transform='translate(608.7,150.9) scale(1,0.987)'><line x1='0' y1='24.3' x2='0' y2='38.5' stroke='#a8a8a8' stroke-width='1.0'/><path d='M-4.6 24.4L-7.4 26.6M2.4 24.4L6.6 26.6' stroke='#909090' stroke-width='0.9' fill='none'/><g transform='translate(-0.8,0) scale(1,0.88)'><path d='M-1.6 -0.5L1.6 -0.5C2.2 1.5 2.7 3.1 3.5 4.5C5.3 6.1 6.1 8.3 6.1 11.5L6.1 23C6.1 26 4.9 27.9 2 28.2L-2 28.2C-4.9 27.9 -6.1 26 -6.1 23L-6.1 11.5C-6.1 8.3 -5.3 6.1 -3.5 4.5C-2.7 3.1 -2.2 1.5 -1.6 -0.5Z' fill='url(#mg)'/><path d='M-1.6 -0.5L1.6 -0.5C2.2 1.5 2.7 3.1 3.5 4.5C5.3 6.1 6.1 8.3 6.1 11.5L6.1 23C6.1 26 4.9 27.9 2 28.2L-2 28.2C-4.9 27.9 -6.1 26 -6.1 23L-6.1 11.5C-6.1 8.3 -5.3 6.1 -3.5 4.5C-2.7 3.1 -2.2 1.5 -1.6 -0.5Z' fill='url(#mv)'/><ellipse cx='-2.2' cy='19.5' rx='1.7' ry='2.6' fill='#8a8a8a' opacity='0.16'/><ellipse cx='-0.7' cy='16.8' rx='1.4' ry='1.6' fill='#8a8a8a' opacity='0.16'/><ellipse cx='3.5' cy='14.6' rx='1.3' ry='2.8' fill='#8a8a8a' opacity='0.16'/></g></g>
<g transform='translate(625.3,150.9) scale(1,0.987)'><line x1='0' y1='24.3' x2='0' y2='38.5' stroke='#a8a8a8' stroke-width='1.0'/><path d='M-4.6 24.4L-7.4 26.6M2.4 24.4L6.6 26.6' stroke='#909090' stroke-width='0.9' fill='none'/><g transform='translate(-0.8,0) scale(1,0.88)'><path d='M-1.6 -0.5L1.6 -0.5C2.2 1.5 2.7 3.1 3.5 4.5C5.3 6.1 6.1 8.3 6.1 11.5L6.1 23C6.1 26 4.9 27.9 2 28.2L-2 28.2C-4.9 27.9 -6.1 26 -6.1 23L-6.1 11.5C-6.1 8.3 -5.3 6.1 -3.5 4.5C-2.7 3.1 -2.2 1.5 -1.6 -0.5Z' fill='url(#mg)'/><path d='M-1.6 -0.5L1.6 -0.5C2.2 1.5 2.7 3.1 3.5 4.5C5.3 6.1 6.1 8.3 6.1 11.5L6.1 23C6.1 26 4.9 27.9 2 28.2L-2 28.2C-4.9 27.9 -6.1 26 -6.1 23L-6.1 11.5C-6.1 8.3 -5.3 6.1 -3.5 4.5C-2.7 3.1 -2.2 1.5 -1.6 -0.5Z' fill='url(#mv)'/><ellipse cx='2.0' cy='11.3' rx='2.0' ry='2.2' fill='#8a8a8a' opacity='0.16'/><ellipse cx='0.1' cy='9.3' rx='1.2' ry='3.5' fill='#8a8a8a' opacity='0.16'/><ellipse cx='2.6' cy='16.3' rx='2.0' ry='2.0' fill='#8a8a8a' opacity='0.16'/></g></g>
<g transform='translate(639.3,150.9) scale(1,0.987)'><line x1='0' y1='24.3' x2='0' y2='38.5' stroke='#a8a8a8' stroke-width='1.0'/><path d='M-4.6 24.4L-7.4 26.6M2.4 24.4L6.6 26.6' stroke='#909090' stroke-width='0.9' fill='none'/><g transform='translate(-0.8,0) scale(1,0.88)'><path d='M-1.6 -0.5L1.6 -0.5C2.2 1.5 2.7 3.1 3.5 4.5C5.3 6.1 6.1 8.3 6.1 11.5L6.1 23C6.1 26 4.9 27.9 2 28.2L-2 28.2C-4.9 27.9 -6.1 26 -6.1 23L-6.1 11.5C-6.1 8.3 -5.3 6.1 -3.5 4.5C-2.7 3.1 -2.2 1.5 -1.6 -0.5Z' fill='url(#mg)'/><path d='M-1.6 -0.5L1.6 -0.5C2.2 1.5 2.7 3.1 3.5 4.5C5.3 6.1 6.1 8.3 6.1 11.5L6.1 23C6.1 26 4.9 27.9 2 28.2L-2 28.2C-4.9 27.9 -6.1 26 -6.1 23L-6.1 11.5C-6.1 8.3 -5.3 6.1 -3.5 4.5C-2.7 3.1 -2.2 1.5 -1.6 -0.5Z' fill='url(#mv)'/><ellipse cx='2.0' cy='15.4' rx='2.5' ry='3.0' fill='#8a8a8a' opacity='0.16'/><ellipse cx='2.2' cy='23.5' rx='1.6' ry='1.6' fill='#8a8a8a' opacity='0.16'/><ellipse cx='-2.1' cy='11.7' rx='1.3' ry='1.6' fill='#8a8a8a' opacity='0.16'/></g></g>
<ellipse cx='523.0' cy='170.4' rx='2.81' ry='3.08' fill='#5c10ff'/><ellipse cx='523.0' cy='170.4' rx='2.47' ry='2.71' fill='#0a10ff'/><ellipse cx='523.0' cy='170.4' rx='2.08' ry='2.28' fill='#00b8ff'/><ellipse cx='523.0' cy='170.4' rx='1.91' ry='2.09' fill='#10f060'/><ellipse cx='523.0' cy='170.4' rx='1.77' ry='1.94' fill='#e8f000'/><ellipse cx='523.0' cy='170.4' rx='1.68' ry='1.85' fill='#ff5000'/><ellipse cx='523.0' cy='170.4' rx='1.60' ry='1.75' fill='#f01000'/>
<ellipse cx='535.7' cy='169.8' rx='3.85' ry='4.22' fill='#5c10ff'/><ellipse cx='535.7' cy='169.8' rx='3.39' ry='3.71' fill='#0a10ff'/><ellipse cx='535.7' cy='169.8' rx='2.85' ry='3.12' fill='#00b8ff'/><ellipse cx='535.7' cy='169.8' rx='2.62' ry='2.87' fill='#10f060'/><ellipse cx='535.7' cy='169.8' rx='2.42' ry='2.66' fill='#e8f000'/><ellipse cx='535.7' cy='169.8' rx='2.31' ry='2.53' fill='#ff5000'/><ellipse cx='535.7' cy='169.8' rx='2.19' ry='2.40' fill='#f01000'/>
<ellipse cx='562.6' cy='170.4' rx='3.85' ry='4.22' fill='#5c10ff'/><ellipse cx='562.6' cy='170.4' rx='3.39' ry='3.71' fill='#0a10ff'/><ellipse cx='562.6' cy='170.4' rx='2.85' ry='3.12' fill='#00b8ff'/><ellipse cx='562.6' cy='170.4' rx='2.62' ry='2.87' fill='#10f060'/><ellipse cx='562.6' cy='170.4' rx='2.42' ry='2.66' fill='#e8f000'/><ellipse cx='562.6' cy='170.4' rx='2.31' ry='2.53' fill='#ff5000'/><ellipse cx='562.6' cy='170.4' rx='2.19' ry='2.40' fill='#f01000'/>
<ellipse cx='626.7' cy='170.8' rx='3.85' ry='4.22' fill='#5c10ff'/><ellipse cx='626.7' cy='170.8' rx='3.39' ry='3.71' fill='#0a10ff'/><ellipse cx='626.7' cy='170.8' rx='2.85' ry='3.12' fill='#00b8ff'/><ellipse cx='626.7' cy='170.8' rx='2.62' ry='2.87' fill='#10f060'/><ellipse cx='626.7' cy='170.8' rx='2.42' ry='2.66' fill='#e8f000'/><ellipse cx='626.7' cy='170.8' rx='2.31' ry='2.53' fill='#ff5000'/><ellipse cx='626.7' cy='170.8' rx='2.19' ry='2.40' fill='#f01000'/>
<ellipse cx='640.0' cy='170.0' rx='1.60' ry='1.68' fill='#3030ff'/><ellipse cx='640.0' cy='170.0' rx='0.80' ry='0.84' fill='#2060ff'/>
</g></svg>
<rect x='357' y='193.8' width='150.30' height='38.10' fill='#303030'/>
<svg x='357' y='193.8' width='150.30' height='38.10' overflow='hidden'><g transform='translate(-357,-193.8)' filter='url(#sb)'>
<g transform='translate(365.9,193.8) scale(1,1.003)'><line x1='0' y1='24.3' x2='0' y2='38.5' stroke='#a8a8a8' stroke-width='1.0'/><path d='M-4.6 24.4L-7.4 26.6M2.4 24.4L6.6 26.6' stroke='#909090' stroke-width='0.9' fill='none'/><g transform='translate(-0.8,0) scale(1,0.88)'><path d='M-1.6 -0.5L1.6 -0.5C2.2 1.5 2.7 3.1 3.5 4.5C5.3 6.1 6.1 8.3 6.1 11.5L6.1 23C6.1 26 4.9 27.9 2 28.2L-2 28.2C-4.9 27.9 -6.1 26 -6.1 23L-6.1 11.5C-6.1 8.3 -5.3 6.1 -3.5 4.5C-2.7 3.1 -2.2 1.5 -1.6 -0.5Z' fill='url(#mg)'/><path d='M-1.6 -0.5L1.6 -0.5C2.2 1.5 2.7 3.1 3.5 4.5C5.3 6.1 6.1 8.3 6.1 11.5L6.1 23C6.1 26 4.9 27.9 2 28.2L-2 28.2C-4.9 27.9 -6.1 26 -6.1 23L-6.1 11.5C-6.1 8.3 -5.3 6.1 -3.5 4.5C-2.7 3.1 -2.2 1.5 -1.6 -0.5Z' fill='url(#mv)'/><ellipse cx='0.4' cy='22.1' rx='1.8' ry='3.4' fill='#8a8a8a' opacity='0.16'/><ellipse cx='2.9' cy='10.0' rx='2.0' ry='2.3' fill='#8a8a8a' opacity='0.16'/><ellipse cx='-2.7' cy='23.4' rx='1.6' ry='2.6' fill='#8a8a8a' opacity='0.16'/></g></g>
<g transform='translate(380.2,193.8) scale(1,1.003)'><line x1='0' y1='24.3' x2='0' y2='38.5' stroke='#a8a8a8' stroke-width='1.0'/><path d='M-4.6 24.4L-7.4 26.6M2.4 24.4L6.6 26.6' stroke='#909090' stroke-width='0.9' fill='none'/><g transform='translate(-0.8,0) scale(1,0.88)'><path d='M-1.6 -0.5L1.6 -0.5C2.2 1.5 2.7 3.1 3.5 4.5C5.3 6.1 6.1 8.3 6.1 11.5L6.1 23C6.1 26 4.9 27.9 2 28.2L-2 28.2C-4.9 27.9 -6.1 26 -6.1 23L-6.1 11.5C-6.1 8.3 -5.3 6.1 -3.5 4.5C-2.7 3.1 -2.2 1.5 -1.6 -0.5Z' fill='url(#mg)'/><path d='M-1.6 -0.5L1.6 -0.5C2.2 1.5 2.7 3.1 3.5 4.5C5.3 6.1 6.1 8.3 6.1 11.5L6.1 23C6.1 26 4.9 27.9 2 28.2L-2 28.2C-4.9 27.9 -6.1 26 -6.1 23L-6.1 11.5C-6.1 8.3 -5.3 6.1 -3.5 4.5C-2.7 3.1 -2.2 1.5 -1.6 -0.5Z' fill='url(#mv)'/><ellipse cx='1.0' cy='23.3' rx='2.1' ry='2.3' fill='#8a8a8a' opacity='0.16'/><ellipse cx='-0.4' cy='11.4' rx='2.6' ry='3.5' fill='#8a8a8a' opacity='0.16'/><ellipse cx='-1.9' cy='9.6' rx='1.6' ry='2.2' fill='#8a8a8a' opacity='0.16'/></g></g>
<g transform='translate(396.1,193.8) scale(1,1.003)'><line x1='0' y1='24.3' x2='0' y2='38.5' stroke='#a8a8a8' stroke-width='1.0'/><path d='M-4.6 24.4L-7.4 26.6M2.4 24.4L6.6 26.6' stroke='#909090' stroke-width='0.9' fill='none'/><g transform='translate(-0.8,0) scale(1,0.88)'><path d='M-1.6 -0.5L1.6 -0.5C2.2 1.5 2.7 3.1 3.5 4.5C5.3 6.1 6.1 8.3 6.1 11.5L6.1 23C6.1 26 4.9 27.9 2 28.2L-2 28.2C-4.9 27.9 -6.1 26 -6.1 23L-6.1 11.5C-6.1 8.3 -5.3 6.1 -3.5 4.5C-2.7 3.1 -2.2 1.5 -1.6 -0.5Z' fill='url(#mg)'/><path d='M-1.6 -0.5L1.6 -0.5C2.2 1.5 2.7 3.1 3.5 4.5C5.3 6.1 6.1 8.3 6.1 11.5L6.1 23C6.1 26 4.9 27.9 2 28.2L-2 28.2C-4.9 27.9 -6.1 26 -6.1 23L-6.1 11.5C-6.1 8.3 -5.3 6.1 -3.5 4.5C-2.7 3.1 -2.2 1.5 -1.6 -0.5Z' fill='url(#mv)'/><ellipse cx='2.8' cy='22.6' rx='2.4' ry='1.6' fill='#8a8a8a' opacity='0.16'/><ellipse cx='2.0' cy='19.6' rx='2.1' ry='3.5' fill='#8a8a8a' opacity='0.16'/><ellipse cx='-3.1' cy='11.2' rx='2.3' ry='3.4' fill='#8a8a8a' opacity='0.16'/></g></g>
<g transform='translate(411.4,193.8) scale(1,1.003)'><line x1='0' y1='24.3' x2='0' y2='38.5' stroke='#a8a8a8' stroke-width='1.0'/><path d='M-4.6 24.4L-7.4 26.6M2.4 24.4L6.6 26.6' stroke='#909090' stroke-width='0.9' fill='none'/><g transform='translate(-0.8,0) scale(1,0.88)'><path d='M-1.6 -0.5L1.6 -0.5C2.2 1.5 2.7 3.1 3.5 4.5C5.3 6.1 6.1 8.3 6.1 11.5L6.1 23C6.1 26 4.9 27.9 2 28.2L-2 28.2C-4.9 27.9 -6.1 26 -6.1 23L-6.1 11.5C-6.1 8.3 -5.3 6.1 -3.5 4.5C-2.7 3.1 -2.2 1.5 -1.6 -0.5Z' fill='url(#mg)'/><path d='M-1.6 -0.5L1.6 -0.5C2.2 1.5 2.7 3.1 3.5 4.5C5.3 6.1 6.1 8.3 6.1 11.5L6.1 23C6.1 26 4.9 27.9 2 28.2L-2 28.2C-4.9 27.9 -6.1 26 -6.1 23L-6.1 11.5C-6.1 8.3 -5.3 6.1 -3.5 4.5C-2.7 3.1 -2.2 1.5 -1.6 -0.5Z' fill='url(#mv)'/><ellipse cx='1.2' cy='13.5' rx='2.0' ry='3.0' fill='#8a8a8a' opacity='0.16'/><ellipse cx='-2.8' cy='13.9' rx='1.6' ry='1.7' fill='#8a8a8a' opacity='0.16'/><ellipse cx='-0.1' cy='11.5' rx='1.5' ry='1.8' fill='#8a8a8a' opacity='0.16'/></g></g>
<g transform='translate(425.1,193.8) scale(1,1.003)'><line x1='0' y1='24.3' x2='0' y2='38.5' stroke='#a8a8a8' stroke-width='1.0'/><path d='M-4.6 24.4L-7.4 26.6M2.4 24.4L6.6 26.6' stroke='#909090' stroke-width='0.9' fill='none'/><g transform='translate(-0.8,0) scale(1,0.88)'><path d='M-1.6 -0.5L1.6 -0.5C2.2 1.5 2.7 3.1 3.5 4.5C5.3 6.1 6.1 8.3 6.1 11.5L6.1 23C6.1 26 4.9 27.9 2 28.2L-2 28.2C-4.9 27.9 -6.1 26 -6.1 23L-6.1 11.5C-6.1 8.3 -5.3 6.1 -3.5 4.5C-2.7 3.1 -2.2 1.5 -1.6 -0.5Z' fill='url(#mg)'/><path d='M-1.6 -0.5L1.6 -0.5C2.2 1.5 2.7 3.1 3.5 4.5C5.3 6.1 6.1 8.3 6.1 11.5L6.1 23C6.1 26 4.9 27.9 2 28.2L-2 28.2C-4.9 27.9 -6.1 26 -6.1 23L-6.1 11.5C-6.1 8.3 -5.3 6.1 -3.5 4.5C-2.7 3.1 -2.2 1.5 -1.6 -0.5Z' fill='url(#mv)'/><ellipse cx='1.2' cy='9.2' rx='2.2' ry='1.9' fill='#8a8a8a' opacity='0.16'/><ellipse cx='-3.2' cy='22.9' rx='1.5' ry='3.4' fill='#8a8a8a' opacity='0.16'/><ellipse cx='2.6' cy='22.3' rx='1.4' ry='2.4' fill='#8a8a8a' opacity='0.16'/></g></g>
<g transform='translate(439.7,193.8) scale(1,1.003)'><line x1='0' y1='24.3' x2='0' y2='38.5' stroke='#a8a8a8' stroke-width='1.0'/><path d='M-4.6 24.4L-7.4 26.6M2.4 24.4L6.6 26.6' stroke='#909090' stroke-width='0.9' fill='none'/><g transform='translate(-0.8,0) scale(1,0.88)'><path d='M-1.6 -0.5L1.6 -0.5C2.2 1.5 2.7 3.1 3.5 4.5C5.3 6.1 6.1 8.3 6.1 11.5L6.1 23C6.1 26 4.9 27.9 2 28.2L-2 28.2C-4.9 27.9 -6.1 26 -6.1 23L-6.1 11.5C-6.1 8.3 -5.3 6.1 -3.5 4.5C-2.7 3.1 -2.2 1.5 -1.6 -0.5Z' fill='url(#mg)'/><path d='M-1.6 -0.5L1.6 -0.5C2.2 1.5 2.7 3.1 3.5 4.5C5.3 6.1 6.1 8.3 6.1 11.5L6.1 23C6.1 26 4.9 27.9 2 28.2L-2 28.2C-4.9 27.9 -6.1 26 -6.1 23L-6.1 11.5C-6.1 8.3 -5.3 6.1 -3.5 4.5C-2.7 3.1 -2.2 1.5 -1.6 -0.5Z' fill='url(#mv)'/><ellipse cx='-2.8' cy='22.9' rx='2.4' ry='2.8' fill='#8a8a8a' opacity='0.16'/><ellipse cx='-0.3' cy='14.1' rx='2.4' ry='2.5' fill='#8a8a8a' opacity='0.16'/><ellipse cx='0.9' cy='11.1' rx='1.5' ry='1.6' fill='#8a8a8a' opacity='0.16'/></g></g>
<g transform='translate(454.5,193.8) scale(1,1.003)'><line x1='0' y1='24.3' x2='0' y2='38.5' stroke='#a8a8a8' stroke-width='1.0'/><path d='M-4.6 24.4L-7.4 26.6M2.4 24.4L6.6 26.6' stroke='#909090' stroke-width='0.9' fill='none'/><g transform='translate(-0.8,0) scale(1,0.88)'><path d='M-1.6 -0.5L1.6 -0.5C2.2 1.5 2.7 3.1 3.5 4.5C5.3 6.1 6.1 8.3 6.1 11.5L6.1 23C6.1 26 4.9 27.9 2 28.2L-2 28.2C-4.9 27.9 -6.1 26 -6.1 23L-6.1 11.5C-6.1 8.3 -5.3 6.1 -3.5 4.5C-2.7 3.1 -2.2 1.5 -1.6 -0.5Z' fill='url(#mg)'/><path d='M-1.6 -0.5L1.6 -0.5C2.2 1.5 2.7 3.1 3.5 4.5C5.3 6.1 6.1 8.3 6.1 11.5L6.1 23C6.1 26 4.9 27.9 2 28.2L-2 28.2C-4.9 27.9 -6.1 26 -6.1 23L-6.1 11.5C-6.1 8.3 -5.3 6.1 -3.5 4.5C-2.7 3.1 -2.2 1.5 -1.6 -0.5Z' fill='url(#mv)'/><ellipse cx='1.5' cy='17.3' rx='1.4' ry='3.2' fill='#8a8a8a' opacity='0.16'/><ellipse cx='-1.6' cy='15.2' rx='1.4' ry='2.0' fill='#8a8a8a' opacity='0.16'/><ellipse cx='2.4' cy='14.0' rx='1.4' ry='2.5' fill='#8a8a8a' opacity='0.16'/></g></g>
<g transform='translate(470.4,193.8) scale(1,1.003)'><line x1='0' y1='24.3' x2='0' y2='38.5' stroke='#a8a8a8' stroke-width='1.0'/><path d='M-4.6 24.4L-7.4 26.6M2.4 24.4L6.6 26.6' stroke='#909090' stroke-width='0.9' fill='none'/><g transform='translate(-0.8,0) scale(1,0.88)'><path d='M-1.6 -0.5L1.6 -0.5C2.2 1.5 2.7 3.1 3.5 4.5C5.3 6.1 6.1 8.3 6.1 11.5L6.1 23C6.1 26 4.9 27.9 2 28.2L-2 28.2C-4.9 27.9 -6.1 26 -6.1 23L-6.1 11.5C-6.1 8.3 -5.3 6.1 -3.5 4.5C-2.7 3.1 -2.2 1.5 -1.6 -0.5Z' fill='url(#mg)'/><path d='M-1.6 -0.5L1.6 -0.5C2.2 1.5 2.7 3.1 3.5 4.5C5.3 6.1 6.1 8.3 6.1 11.5L6.1 23C6.1 26 4.9 27.9 2 28.2L-2 28.2C-4.9 27.9 -6.1 26 -6.1 23L-6.1 11.5C-6.1 8.3 -5.3 6.1 -3.5 4.5C-2.7 3.1 -2.2 1.5 -1.6 -0.5Z' fill='url(#mv)'/><ellipse cx='-1.3' cy='22.5' rx='1.4' ry='3.5' fill='#8a8a8a' opacity='0.16'/><ellipse cx='-3.1' cy='22.4' rx='2.1' ry='1.9' fill='#8a8a8a' opacity='0.16'/><ellipse cx='-0.2' cy='13.3' rx='1.6' ry='1.9' fill='#8a8a8a' opacity='0.16'/></g></g>
<g transform='translate(485.8,193.8) scale(1,1.003)'><line x1='0' y1='24.3' x2='0' y2='38.5' stroke='#a8a8a8' stroke-width='1.0'/><path d='M-4.6 24.4L-7.4 26.6M2.4 24.4L6.6 26.6' stroke='#909090' stroke-width='0.9' fill='none'/><g transform='translate(-0.8,0) scale(1,0.88)'><path d='M-1.6 -0.5L1.6 -0.5C2.2 1.5 2.7 3.1 3.5 4.5C5.3 6.1 6.1 8.3 6.1 11.5L6.1 23C6.1 26 4.9 27.9 2 28.2L-2 28.2C-4.9 27.9 -6.1 26 -6.1 23L-6.1 11.5C-6.1 8.3 -5.3 6.1 -3.5 4.5C-2.7 3.1 -2.2 1.5 -1.6 -0.5Z' fill='url(#mg)'/><path d='M-1.6 -0.5L1.6 -0.5C2.2 1.5 2.7 3.1 3.5 4.5C5.3 6.1 6.1 8.3 6.1 11.5L6.1 23C6.1 26 4.9 27.9 2 28.2L-2 28.2C-4.9 27.9 -6.1 26 -6.1 23L-6.1 11.5C-6.1 8.3 -5.3 6.1 -3.5 4.5C-2.7 3.1 -2.2 1.5 -1.6 -0.5Z' fill='url(#mv)'/><ellipse cx='-1.0' cy='23.9' rx='2.6' ry='3.4' fill='#8a8a8a' opacity='0.16'/><ellipse cx='-2.8' cy='13.3' rx='2.5' ry='1.6' fill='#8a8a8a' opacity='0.16'/><ellipse cx='1.6' cy='13.4' rx='2.6' ry='1.5' fill='#8a8a8a' opacity='0.16'/></g></g>
<g transform='translate(500,193.8) scale(1,1.003)'><line x1='0' y1='24.3' x2='0' y2='38.5' stroke='#a8a8a8' stroke-width='1.0'/><path d='M-4.6 24.4L-7.4 26.6M2.4 24.4L6.6 26.6' stroke='#909090' stroke-width='0.9' fill='none'/><g transform='translate(-0.8,0) scale(1,0.88)'><path d='M-1.6 -0.5L1.6 -0.5C2.2 1.5 2.7 3.1 3.5 4.5C5.3 6.1 6.1 8.3 6.1 11.5L6.1 23C6.1 26 4.9 27.9 2 28.2L-2 28.2C-4.9 27.9 -6.1 26 -6.1 23L-6.1 11.5C-6.1 8.3 -5.3 6.1 -3.5 4.5C-2.7 3.1 -2.2 1.5 -1.6 -0.5Z' fill='url(#mg)'/><path d='M-1.6 -0.5L1.6 -0.5C2.2 1.5 2.7 3.1 3.5 4.5C5.3 6.1 6.1 8.3 6.1 11.5L6.1 23C6.1 26 4.9 27.9 2 28.2L-2 28.2C-4.9 27.9 -6.1 26 -6.1 23L-6.1 11.5C-6.1 8.3 -5.3 6.1 -3.5 4.5C-2.7 3.1 -2.2 1.5 -1.6 -0.5Z' fill='url(#mv)'/><ellipse cx='2.1' cy='14.1' rx='1.4' ry='1.5' fill='#8a8a8a' opacity='0.16'/><ellipse cx='2.3' cy='16.9' rx='1.5' ry='2.4' fill='#8a8a8a' opacity='0.16'/><ellipse cx='2.9' cy='12.3' rx='2.0' ry='1.8' fill='#8a8a8a' opacity='0.16'/></g></g>
<ellipse cx='494' cy='211.5' rx='11' ry='6' fill='#5c10ff'/>
<ellipse cx='488' cy='206' rx='4' ry='4' fill='#5c10ff'/>
<ellipse cx='502' cy='205.5' rx='4' ry='4' fill='#5c10ff'/>
<ellipse cx='411' cy='207.5' rx='3.5' ry='5' fill='#5c10ff'/>
<ellipse cx='363.2' cy='213.7' rx='4.47' ry='4.90' fill='#5c10ff'/><ellipse cx='363.2' cy='213.7' rx='3.94' ry='4.31' fill='#0a10ff'/><ellipse cx='363.2' cy='213.7' rx='3.31' ry='3.63' fill='#00b8ff'/><ellipse cx='363.2' cy='213.7' rx='3.04' ry='3.33' fill='#10f060'/><ellipse cx='363.2' cy='213.7' rx='2.82' ry='3.09' fill='#e8f000'/><ellipse cx='363.2' cy='213.7' rx='2.68' ry='2.94' fill='#ff5000'/><ellipse cx='363.2' cy='213.7' rx='2.55' ry='2.79' fill='#f01000'/>
<ellipse cx='381.2' cy='213.2' rx='3.43' ry='3.76' fill='#5c10ff'/><ellipse cx='381.2' cy='213.2' rx='3.02' ry='3.31' fill='#0a10ff'/><ellipse cx='381.2' cy='213.2' rx='2.54' ry='2.78' fill='#00b8ff'/><ellipse cx='381.2' cy='213.2' rx='2.33' ry='2.56' fill='#10f060'/><ellipse cx='381.2' cy='213.2' rx='2.16' ry='2.37' fill='#e8f000'/><ellipse cx='381.2' cy='213.2' rx='2.06' ry='2.26' fill='#ff5000'/><ellipse cx='381.2' cy='213.2' rx='1.96' ry='2.14' fill='#f01000'/>
<ellipse cx='396.8' cy='210.7' rx='3.85' ry='4.22' fill='#5c10ff'/><ellipse cx='396.8' cy='210.7' rx='3.39' ry='3.71' fill='#0a10ff'/><ellipse cx='396.8' cy='210.7' rx='2.85' ry='3.12' fill='#00b8ff'/><ellipse cx='396.8' cy='210.7' rx='2.62' ry='2.87' fill='#10f060'/><ellipse cx='396.8' cy='210.7' rx='2.42' ry='2.66' fill='#e8f000'/><ellipse cx='396.8' cy='210.7' rx='2.31' ry='2.53' fill='#ff5000'/><ellipse cx='396.8' cy='210.7' rx='2.19' ry='2.40' fill='#f01000'/>
<ellipse cx='411.6' cy='212.5' rx='5.41' ry='5.93' fill='#5c10ff'/><ellipse cx='411.6' cy='212.5' rx='4.76' ry='5.22' fill='#0a10ff'/><ellipse cx='411.6' cy='212.5' rx='4.00' ry='4.39' fill='#00b8ff'/><ellipse cx='411.6' cy='212.5' rx='3.68' ry='4.03' fill='#10f060'/><ellipse cx='411.6' cy='212.5' rx='3.41' ry='3.73' fill='#e8f000'/><ellipse cx='411.6' cy='212.5' rx='3.24' ry='3.56' fill='#ff5000'/><ellipse cx='411.6' cy='212.5' rx='3.08' ry='3.38' fill='#f01000'/>
<ellipse cx='427.2' cy='214.9' rx='4.47' ry='4.90' fill='#5c10ff'/><ellipse cx='427.2' cy='214.9' rx='3.94' ry='4.31' fill='#0a10ff'/><ellipse cx='427.2' cy='214.9' rx='3.31' ry='3.63' fill='#00b8ff'/><ellipse cx='427.2' cy='214.9' rx='3.04' ry='3.33' fill='#10f060'/><ellipse cx='427.2' cy='214.9' rx='2.82' ry='3.09' fill='#e8f000'/><ellipse cx='427.2' cy='214.9' rx='2.68' ry='2.94' fill='#ff5000'/><ellipse cx='427.2' cy='214.9' rx='2.55' ry='2.79' fill='#f01000'/>
<ellipse cx='441.9' cy='212.5' rx='5.41' ry='5.93' fill='#5c10ff'/><ellipse cx='441.9' cy='212.5' rx='4.76' ry='5.22' fill='#0a10ff'/><ellipse cx='441.9' cy='212.5' rx='4.00' ry='4.39' fill='#00b8ff'/><ellipse cx='441.9' cy='212.5' rx='3.68' ry='4.03' fill='#10f060'/><ellipse cx='441.9' cy='212.5' rx='3.41' ry='3.73' fill='#e8f000'/><ellipse cx='441.9' cy='212.5' rx='3.24' ry='3.56' fill='#ff5000'/><ellipse cx='441.9' cy='212.5' rx='3.08' ry='3.38' fill='#f01000'/>
<ellipse cx='459.5' cy='212.0' rx='5.82' ry='6.38' fill='#5c10ff'/><ellipse cx='459.5' cy='212.0' rx='5.13' ry='5.62' fill='#0a10ff'/><ellipse cx='459.5' cy='212.0' rx='4.31' ry='4.72' fill='#00b8ff'/><ellipse cx='459.5' cy='212.0' rx='3.96' ry='4.34' fill='#10f060'/><ellipse cx='459.5' cy='212.0' rx='3.67' ry='4.02' fill='#e8f000'/><ellipse cx='459.5' cy='212.0' rx='3.49' ry='3.83' fill='#ff5000'/><ellipse cx='459.5' cy='212.0' rx='3.32' ry='3.64' fill='#f01000'/>
<ellipse cx='471.3' cy='212.0' rx='3.74' ry='4.10' fill='#5c10ff'/><ellipse cx='471.3' cy='212.0' rx='3.29' ry='3.61' fill='#0a10ff'/><ellipse cx='471.3' cy='212.0' rx='2.77' ry='3.04' fill='#00b8ff'/><ellipse cx='471.3' cy='212.0' rx='2.55' ry='2.79' fill='#10f060'/><ellipse cx='471.3' cy='212.0' rx='2.36' ry='2.59' fill='#e8f000'/><ellipse cx='471.3' cy='212.0' rx='2.25' ry='2.46' fill='#ff5000'/><ellipse cx='471.3' cy='212.0' rx='2.13' ry='2.34' fill='#f01000'/>
<ellipse cx='487.1' cy='211.7' rx='7.07' ry='7.75' fill='#5c10ff'/><ellipse cx='487.1' cy='211.7' rx='6.22' ry='6.82' fill='#0a10ff'/><ellipse cx='487.1' cy='211.7' rx='5.23' ry='5.74' fill='#00b8ff'/><ellipse cx='487.1' cy='211.7' rx='4.81' ry='5.27' fill='#10f060'/><ellipse cx='487.1' cy='211.7' rx='4.46' ry='4.88' fill='#e8f000'/><ellipse cx='487.1' cy='211.7' rx='4.24' ry='4.65' fill='#ff5000'/><ellipse cx='487.1' cy='211.7' rx='4.03' ry='4.42' fill='#f01000'/>
<ellipse cx='501.8' cy='211.5' rx='6.45' ry='7.07' fill='#5c10ff'/><ellipse cx='501.8' cy='211.5' rx='5.67' ry='6.22' fill='#0a10ff'/><ellipse cx='501.8' cy='211.5' rx='4.77' ry='5.23' fill='#00b8ff'/><ellipse cx='501.8' cy='211.5' rx='4.38' ry='4.81' fill='#10f060'/><ellipse cx='501.8' cy='211.5' rx='4.06' ry='4.45' fill='#e8f000'/><ellipse cx='501.8' cy='211.5' rx='3.87' ry='4.24' fill='#ff5000'/><ellipse cx='501.8' cy='211.5' rx='3.68' ry='4.03' fill='#f01000'/>
</g></svg>
<rect x='511.4' y='194.4' width='134.40' height='37.60' fill='#303030'/>
<svg x='511.4' y='194.4' width='134.40' height='37.60' overflow='hidden'><g transform='translate(-511.4,-194.4)' filter='url(#sb)'>
<g transform='translate(522.1,194.4) scale(1,0.989)'><line x1='0' y1='28.8' x2='0' y2='38.5' stroke='#a8a8a8' stroke-width='1.0'/><path d='M-4.6 28.9L-7.4 31.1M2.4 28.9L6.6 31.1' stroke='#909090' stroke-width='0.9' fill='none'/><g transform='translate(-0.8,0) scale(1,1.04)'><path d='M-1.6 -0.5L1.6 -0.5C2.2 1.5 2.7 3.1 3.5 4.5C5.3 6.1 6.1 8.3 6.1 11.5L6.1 23C6.1 26 4.9 27.9 2 28.2L-2 28.2C-4.9 27.9 -6.1 26 -6.1 23L-6.1 11.5C-6.1 8.3 -5.3 6.1 -3.5 4.5C-2.7 3.1 -2.2 1.5 -1.6 -0.5Z' fill='url(#mg)'/><path d='M-1.6 -0.5L1.6 -0.5C2.2 1.5 2.7 3.1 3.5 4.5C5.3 6.1 6.1 8.3 6.1 11.5L6.1 23C6.1 26 4.9 27.9 2 28.2L-2 28.2C-4.9 27.9 -6.1 26 -6.1 23L-6.1 11.5C-6.1 8.3 -5.3 6.1 -3.5 4.5C-2.7 3.1 -2.2 1.5 -1.6 -0.5Z' fill='url(#mv)'/><ellipse cx='-2.2' cy='20.6' rx='2.2' ry='1.9' fill='#8a8a8a' opacity='0.16'/><ellipse cx='-2.9' cy='10.3' rx='2.1' ry='2.5' fill='#8a8a8a' opacity='0.16'/><ellipse cx='-1.6' cy='12.1' rx='2.1' ry='2.9' fill='#8a8a8a' opacity='0.16'/></g></g>
<g transform='translate(535.5,194.4) scale(1,0.989)'><line x1='0' y1='28.8' x2='0' y2='38.5' stroke='#a8a8a8' stroke-width='1.0'/><path d='M-4.6 28.9L-7.4 31.1M2.4 28.9L6.6 31.1' stroke='#909090' stroke-width='0.9' fill='none'/><g transform='translate(-0.8,0) scale(1,1.04)'><path d='M-1.6 -0.5L1.6 -0.5C2.2 1.5 2.7 3.1 3.5 4.5C5.3 6.1 6.1 8.3 6.1 11.5L6.1 23C6.1 26 4.9 27.9 2 28.2L-2 28.2C-4.9 27.9 -6.1 26 -6.1 23L-6.1 11.5C-6.1 8.3 -5.3 6.1 -3.5 4.5C-2.7 3.1 -2.2 1.5 -1.6 -0.5Z' fill='url(#mg)'/><path d='M-1.6 -0.5L1.6 -0.5C2.2 1.5 2.7 3.1 3.5 4.5C5.3 6.1 6.1 8.3 6.1 11.5L6.1 23C6.1 26 4.9 27.9 2 28.2L-2 28.2C-4.9 27.9 -6.1 26 -6.1 23L-6.1 11.5C-6.1 8.3 -5.3 6.1 -3.5 4.5C-2.7 3.1 -2.2 1.5 -1.6 -0.5Z' fill='url(#mv)'/><ellipse cx='2.2' cy='17.7' rx='1.5' ry='1.6' fill='#8a8a8a' opacity='0.16'/><ellipse cx='1.6' cy='15.1' rx='2.2' ry='1.6' fill='#8a8a8a' opacity='0.16'/><ellipse cx='2.2' cy='14.0' rx='2.4' ry='3.2' fill='#8a8a8a' opacity='0.16'/></g></g>
<g transform='translate(549.9,194.4) scale(1,0.989)'><line x1='0' y1='28.8' x2='0' y2='38.5' stroke='#a8a8a8' stroke-width='1.0'/><path d='M-4.6 28.9L-7.4 31.1M2.4 28.9L6.6 31.1' stroke='#909090' stroke-width='0.9' fill='none'/><g transform='translate(-0.8,0) scale(1,1.04)'><path d='M-1.6 -0.5L1.6 -0.5C2.2 1.5 2.7 3.1 3.5 4.5C5.3 6.1 6.1 8.3 6.1 11.5L6.1 23C6.1 26 4.9 27.9 2 28.2L-2 28.2C-4.9 27.9 -6.1 26 -6.1 23L-6.1 11.5C-6.1 8.3 -5.3 6.1 -3.5 4.5C-2.7 3.1 -2.2 1.5 -1.6 -0.5Z' fill='url(#mg)'/><path d='M-1.6 -0.5L1.6 -0.5C2.2 1.5 2.7 3.1 3.5 4.5C5.3 6.1 6.1 8.3 6.1 11.5L6.1 23C6.1 26 4.9 27.9 2 28.2L-2 28.2C-4.9 27.9 -6.1 26 -6.1 23L-6.1 11.5C-6.1 8.3 -5.3 6.1 -3.5 4.5C-2.7 3.1 -2.2 1.5 -1.6 -0.5Z' fill='url(#mv)'/><ellipse cx='-0.0' cy='9.2' rx='2.5' ry='2.5' fill='#8a8a8a' opacity='0.16'/><ellipse cx='2.6' cy='13.0' rx='1.5' ry='3.2' fill='#8a8a8a' opacity='0.16'/><ellipse cx='-0.9' cy='11.5' rx='1.7' ry='2.7' fill='#8a8a8a' opacity='0.16'/></g></g>
<g transform='translate(565.2,194.4) scale(1,0.989)'><line x1='0' y1='28.8' x2='0' y2='38.5' stroke='#a8a8a8' stroke-width='1.0'/><path d='M-4.6 28.9L-7.4 31.1M2.4 28.9L6.6 31.1' stroke='#909090' stroke-width='0.9' fill='none'/><g transform='translate(-0.8,0) scale(1,1.04)'><path d='M-1.6 -0.5L1.6 -0.5C2.2 1.5 2.7 3.1 3.5 4.5C5.3 6.1 6.1 8.3 6.1 11.5L6.1 23C6.1 26 4.9 27.9 2 28.2L-2 28.2C-4.9 27.9 -6.1 26 -6.1 23L-6.1 11.5C-6.1 8.3 -5.3 6.1 -3.5 4.5C-2.7 3.1 -2.2 1.5 -1.6 -0.5Z' fill='url(#mg)'/><path d='M-1.6 -0.5L1.6 -0.5C2.2 1.5 2.7 3.1 3.5 4.5C5.3 6.1 6.1 8.3 6.1 11.5L6.1 23C6.1 26 4.9 27.9 2 28.2L-2 28.2C-4.9 27.9 -6.1 26 -6.1 23L-6.1 11.5C-6.1 8.3 -5.3 6.1 -3.5 4.5C-2.7 3.1 -2.2 1.5 -1.6 -0.5Z' fill='url(#mv)'/><ellipse cx='-3.5' cy='16.8' rx='1.8' ry='2.5' fill='#8a8a8a' opacity='0.16'/><ellipse cx='-2.7' cy='19.7' rx='2.3' ry='3.2' fill='#8a8a8a' opacity='0.16'/><ellipse cx='-1.3' cy='19.7' rx='1.7' ry='3.0' fill='#8a8a8a' opacity='0.16'/></g></g>
<g transform='translate(581.2,194.4) scale(1,0.989)'><line x1='0' y1='28.8' x2='0' y2='38.5' stroke='#a8a8a8' stroke-width='1.0'/><path d='M-4.6 28.9L-7.4 31.1M2.4 28.9L6.6 31.1' stroke='#909090' stroke-width='0.9' fill='none'/><g transform='translate(-0.8,0) scale(1,1.04)'><path d='M-1.6 -0.5L1.6 -0.5C2.2 1.5 2.7 3.1 3.5 4.5C5.3 6.1 6.1 8.3 6.1 11.5L6.1 23C6.1 26 4.9 27.9 2 28.2L-2 28.2C-4.9 27.9 -6.1 26 -6.1 23L-6.1 11.5C-6.1 8.3 -5.3 6.1 -3.5 4.5C-2.7 3.1 -2.2 1.5 -1.6 -0.5Z' fill='url(#mg)'/><path d='M-1.6 -0.5L1.6 -0.5C2.2 1.5 2.7 3.1 3.5 4.5C5.3 6.1 6.1 8.3 6.1 11.5L6.1 23C6.1 26 4.9 27.9 2 28.2L-2 28.2C-4.9 27.9 -6.1 26 -6.1 23L-6.1 11.5C-6.1 8.3 -5.3 6.1 -3.5 4.5C-2.7 3.1 -2.2 1.5 -1.6 -0.5Z' fill='url(#mv)'/><ellipse cx='-3.1' cy='22.1' rx='2.5' ry='2.5' fill='#8a8a8a' opacity='0.16'/><ellipse cx='0.1' cy='17.0' rx='2.0' ry='1.5' fill='#8a8a8a' opacity='0.16'/><ellipse cx='3.3' cy='12.4' rx='1.5' ry='1.7' fill='#8a8a8a' opacity='0.16'/></g></g>
<g transform='translate(595.7,194.4) scale(1,0.989)'><line x1='0' y1='28.8' x2='0' y2='38.5' stroke='#a8a8a8' stroke-width='1.0'/><path d='M-4.6 28.9L-7.4 31.1M2.4 28.9L6.6 31.1' stroke='#909090' stroke-width='0.9' fill='none'/><g transform='translate(-0.8,0) scale(1,1.04)'><path d='M-1.6 -0.5L1.6 -0.5C2.2 1.5 2.7 3.1 3.5 4.5C5.3 6.1 6.1 8.3 6.1 11.5L6.1 23C6.1 26 4.9 27.9 2 28.2L-2 28.2C-4.9 27.9 -6.1 26 -6.1 23L-6.1 11.5C-6.1 8.3 -5.3 6.1 -3.5 4.5C-2.7 3.1 -2.2 1.5 -1.6 -0.5Z' fill='url(#mg)'/><path d='M-1.6 -0.5L1.6 -0.5C2.2 1.5 2.7 3.1 3.5 4.5C5.3 6.1 6.1 8.3 6.1 11.5L6.1 23C6.1 26 4.9 27.9 2 28.2L-2 28.2C-4.9 27.9 -6.1 26 -6.1 23L-6.1 11.5C-6.1 8.3 -5.3 6.1 -3.5 4.5C-2.7 3.1 -2.2 1.5 -1.6 -0.5Z' fill='url(#mv)'/><ellipse cx='-1.7' cy='21.3' rx='1.2' ry='1.7' fill='#8a8a8a' opacity='0.16'/><ellipse cx='1.4' cy='11.9' rx='1.2' ry='2.7' fill='#8a8a8a' opacity='0.16'/><ellipse cx='0.5' cy='16.8' rx='2.2' ry='1.7' fill='#8a8a8a' opacity='0.16'/></g></g>
<g transform='translate(608.7,194.4) scale(1,0.989)'><line x1='0' y1='28.8' x2='0' y2='38.5' stroke='#a8a8a8' stroke-width='1.0'/><path d='M-4.6 28.9L-7.4 31.1M2.4 28.9L6.6 31.1' stroke='#909090' stroke-width='0.9' fill='none'/><g transform='translate(-0.8,0) scale(1,1.04)'><path d='M-1.6 -0.5L1.6 -0.5C2.2 1.5 2.7 3.1 3.5 4.5C5.3 6.1 6.1 8.3 6.1 11.5L6.1 23C6.1 26 4.9 27.9 2 28.2L-2 28.2C-4.9 27.9 -6.1 26 -6.1 23L-6.1 11.5C-6.1 8.3 -5.3 6.1 -3.5 4.5C-2.7 3.1 -2.2 1.5 -1.6 -0.5Z' fill='url(#mg)'/><path d='M-1.6 -0.5L1.6 -0.5C2.2 1.5 2.7 3.1 3.5 4.5C5.3 6.1 6.1 8.3 6.1 11.5L6.1 23C6.1 26 4.9 27.9 2 28.2L-2 28.2C-4.9 27.9 -6.1 26 -6.1 23L-6.1 11.5C-6.1 8.3 -5.3 6.1 -3.5 4.5C-2.7 3.1 -2.2 1.5 -1.6 -0.5Z' fill='url(#mv)'/><ellipse cx='2.6' cy='19.8' rx='1.3' ry='1.7' fill='#8a8a8a' opacity='0.16'/><ellipse cx='-0.0' cy='16.5' rx='1.6' ry='1.7' fill='#8a8a8a' opacity='0.16'/><ellipse cx='-0.7' cy='11.1' rx='2.0' ry='3.2' fill='#8a8a8a' opacity='0.16'/></g></g>
<g transform='translate(625.3,194.4) scale(1,0.989)'><line x1='0' y1='28.8' x2='0' y2='38.5' stroke='#a8a8a8' stroke-width='1.0'/><path d='M-4.6 28.9L-7.4 31.1M2.4 28.9L6.6 31.1' stroke='#909090' stroke-width='0.9' fill='none'/><g transform='translate(-0.8,0) scale(1,1.04)'><path d='M-1.6 -0.5L1.6 -0.5C2.2 1.5 2.7 3.1 3.5 4.5C5.3 6.1 6.1 8.3 6.1 11.5L6.1 23C6.1 26 4.9 27.9 2 28.2L-2 28.2C-4.9 27.9 -6.1 26 -6.1 23L-6.1 11.5C-6.1 8.3 -5.3 6.1 -3.5 4.5C-2.7 3.1 -2.2 1.5 -1.6 -0.5Z' fill='url(#mg)'/><path d='M-1.6 -0.5L1.6 -0.5C2.2 1.5 2.7 3.1 3.5 4.5C5.3 6.1 6.1 8.3 6.1 11.5L6.1 23C6.1 26 4.9 27.9 2 28.2L-2 28.2C-4.9 27.9 -6.1 26 -6.1 23L-6.1 11.5C-6.1 8.3 -5.3 6.1 -3.5 4.5C-2.7 3.1 -2.2 1.5 -1.6 -0.5Z' fill='url(#mv)'/><ellipse cx='-2.5' cy='17.6' rx='2.2' ry='1.8' fill='#8a8a8a' opacity='0.16'/><ellipse cx='2.3' cy='23.1' rx='1.7' ry='2.3' fill='#8a8a8a' opacity='0.16'/><ellipse cx='2.4' cy='16.9' rx='1.8' ry='3.4' fill='#8a8a8a' opacity='0.16'/></g></g>
<g transform='translate(639.3,194.4) scale(1,0.989)'><line x1='0' y1='28.8' x2='0' y2='38.5' stroke='#a8a8a8' stroke-width='1.0'/><path d='M-4.6 28.9L-7.4 31.1M2.4 28.9L6.6 31.1' stroke='#909090' stroke-width='0.9' fill='none'/><g transform='translate(-0.8,0) scale(1,1.04)'><path d='M-1.6 -0.5L1.6 -0.5C2.2 1.5 2.7 3.1 3.5 4.5C5.3 6.1 6.1 8.3 6.1 11.5L6.1 23C6.1 26 4.9 27.9 2 28.2L-2 28.2C-4.9 27.9 -6.1 26 -6.1 23L-6.1 11.5C-6.1 8.3 -5.3 6.1 -3.5 4.5C-2.7 3.1 -2.2 1.5 -1.6 -0.5Z' fill='url(#mg)'/><path d='M-1.6 -0.5L1.6 -0.5C2.2 1.5 2.7 3.1 3.5 4.5C5.3 6.1 6.1 8.3 6.1 11.5L6.1 23C6.1 26 4.9 27.9 2 28.2L-2 28.2C-4.9 27.9 -6.1 26 -6.1 23L-6.1 11.5C-6.1 8.3 -5.3 6.1 -3.5 4.5C-2.7 3.1 -2.2 1.5 -1.6 -0.5Z' fill='url(#mv)'/><ellipse cx='1.9' cy='14.1' rx='1.5' ry='2.2' fill='#8a8a8a' opacity='0.16'/><ellipse cx='-0.5' cy='23.7' rx='2.3' ry='3.3' fill='#8a8a8a' opacity='0.16'/><ellipse cx='2.2' cy='21.7' rx='1.3' ry='2.5' fill='#8a8a8a' opacity='0.16'/></g></g>
<ellipse cx='525.5' cy='213.5' rx='3.2' ry='4' fill='#5c10ff'/>
<ellipse cx='538.5' cy='212.5' rx='3.5' ry='4' fill='#5c10ff'/>
<ellipse cx='629.5' cy='214.5' rx='3.5' ry='4.5' fill='#5c10ff'/>
<ellipse cx='525.5' cy='217.5' rx='4.99' ry='5.47' fill='#5c10ff'/><ellipse cx='525.5' cy='217.5' rx='4.39' ry='4.82' fill='#0a10ff'/><ellipse cx='525.5' cy='217.5' rx='3.69' ry='4.05' fill='#00b8ff'/><ellipse cx='525.5' cy='217.5' rx='3.39' ry='3.72' fill='#10f060'/><ellipse cx='525.5' cy='217.5' rx='3.14' ry='3.45' fill='#e8f000'/><ellipse cx='525.5' cy='217.5' rx='3.00' ry='3.28' fill='#ff5000'/><ellipse cx='525.5' cy='217.5' rx='2.85' ry='3.12' fill='#f01000'/>
<ellipse cx='538.1' cy='217.2' rx='6.86' ry='7.52' fill='#5c10ff'/><ellipse cx='538.1' cy='217.2' rx='6.04' ry='6.62' fill='#0a10ff'/><ellipse cx='538.1' cy='217.2' rx='5.08' ry='5.57' fill='#00b8ff'/><ellipse cx='538.1' cy='217.2' rx='4.67' ry='5.12' fill='#10f060'/><ellipse cx='538.1' cy='217.2' rx='4.32' ry='4.74' fill='#e8f000'/><ellipse cx='538.1' cy='217.2' rx='4.12' ry='4.51' fill='#ff5000'/><ellipse cx='538.1' cy='217.2' rx='3.91' ry='4.29' fill='#f01000'/>
<ellipse cx='562.2' cy='218.1' rx='4.89' ry='5.36' fill='#5c10ff'/><ellipse cx='562.2' cy='218.1' rx='4.30' ry='4.72' fill='#0a10ff'/><ellipse cx='562.2' cy='218.1' rx='3.62' ry='3.96' fill='#00b8ff'/><ellipse cx='562.2' cy='218.1' rx='3.32' ry='3.64' fill='#10f060'/><ellipse cx='562.2' cy='218.1' rx='3.08' ry='3.38' fill='#e8f000'/><ellipse cx='562.2' cy='218.1' rx='2.93' ry='3.21' fill='#ff5000'/><ellipse cx='562.2' cy='218.1' rx='2.79' ry='3.05' fill='#f01000'/>
<ellipse cx='628.8' cy='219.3' rx='5.93' ry='6.50' fill='#5c10ff'/><ellipse cx='628.8' cy='219.3' rx='5.22' ry='5.72' fill='#0a10ff'/><ellipse cx='628.8' cy='219.3' rx='4.39' ry='4.81' fill='#00b8ff'/><ellipse cx='628.8' cy='219.3' rx='4.03' ry='4.42' fill='#10f060'/><ellipse cx='628.8' cy='219.3' rx='3.73' ry='4.09' fill='#e8f000'/><ellipse cx='628.8' cy='219.3' rx='3.56' ry='3.90' fill='#ff5000'/><ellipse cx='628.8' cy='219.3' rx='3.38' ry='3.70' fill='#f01000'/>
<ellipse cx='641.5' cy='217.2' rx='3.33' ry='3.65' fill='#5c10ff'/><ellipse cx='641.5' cy='217.2' rx='2.93' ry='3.21' fill='#0a10ff'/><ellipse cx='641.5' cy='217.2' rx='2.46' ry='2.70' fill='#00b8ff'/><ellipse cx='641.5' cy='217.2' rx='2.26' ry='2.48' fill='#10f060'/><ellipse cx='641.5' cy='217.2' rx='2.10' ry='2.30' fill='#e8f000'/><ellipse cx='641.5' cy='217.2' rx='2.00' ry='2.19' fill='#ff5000'/><ellipse cx='641.5' cy='217.2' rx='1.90' ry='2.08' fill='#f01000'/>
</g></svg>
<rect x='542.7' y='237.4' width='13.50' height='37.00' fill='#303030'/>
<svg x='542.7' y='237.4' width='13.50' height='37.00' overflow='hidden'><g transform='translate(-542.7,-237.4)' filter='url(#sb)'>
<g transform='translate(549.8,237.4) scale(1,0.974)'><line x1='0' y1='30.5' x2='0' y2='38.5' stroke='#a8a8a8' stroke-width='1.0'/><path d='M-4.6 30.6L-7.4 32.8M2.4 30.6L6.6 32.8' stroke='#909090' stroke-width='0.9' fill='none'/><g transform='translate(-0.8,0) scale(1,1.1)'><path d='M-1.6 -0.5L1.6 -0.5C2.2 1.5 2.7 3.1 3.5 4.5C5.3 6.1 6.1 8.3 6.1 11.5L6.1 23C6.1 26 4.9 27.9 2 28.2L-2 28.2C-4.9 27.9 -6.1 26 -6.1 23L-6.1 11.5C-6.1 8.3 -5.3 6.1 -3.5 4.5C-2.7 3.1 -2.2 1.5 -1.6 -0.5Z' fill='url(#mg)'/><path d='M-1.6 -0.5L1.6 -0.5C2.2 1.5 2.7 3.1 3.5 4.5C5.3 6.1 6.1 8.3 6.1 11.5L6.1 23C6.1 26 4.9 27.9 2 28.2L-2 28.2C-4.9 27.9 -6.1 26 -6.1 23L-6.1 11.5C-6.1 8.3 -5.3 6.1 -3.5 4.5C-2.7 3.1 -2.2 1.5 -1.6 -0.5Z' fill='url(#mv)'/><ellipse cx='3.2' cy='23.0' rx='1.5' ry='2.3' fill='#8a8a8a' opacity='0.16'/><ellipse cx='0.9' cy='14.5' rx='1.9' ry='1.6' fill='#8a8a8a' opacity='0.16'/><ellipse cx='-0.5' cy='16.6' rx='1.2' ry='1.8' fill='#8a8a8a' opacity='0.16'/></g></g>
</g></svg>
<rect x='570.2' y='237.4' width='44.90' height='37.00' fill='#303030'/>
<svg x='570.2' y='237.4' width='44.90' height='37.00' overflow='hidden'><g transform='translate(-570.2,-237.4)' filter='url(#sb)'>
<g transform='translate(578.5,237.4) scale(1,0.974)'><line x1='0' y1='30.5' x2='0' y2='38.5' stroke='#a8a8a8' stroke-width='1.0'/><path d='M-4.6 30.6L-7.4 32.8M2.4 30.6L6.6 32.8' stroke='#909090' stroke-width='0.9' fill='none'/><g transform='translate(-0.8,0) scale(1,1.1)'><path d='M-1.6 -0.5L1.6 -0.5C2.2 1.5 2.7 3.1 3.5 4.5C5.3 6.1 6.1 8.3 6.1 11.5L6.1 23C6.1 26 4.9 27.9 2 28.2L-2 28.2C-4.9 27.9 -6.1 26 -6.1 23L-6.1 11.5C-6.1 8.3 -5.3 6.1 -3.5 4.5C-2.7 3.1 -2.2 1.5 -1.6 -0.5Z' fill='url(#mg)'/><path d='M-1.6 -0.5L1.6 -0.5C2.2 1.5 2.7 3.1 3.5 4.5C5.3 6.1 6.1 8.3 6.1 11.5L6.1 23C6.1 26 4.9 27.9 2 28.2L-2 28.2C-4.9 27.9 -6.1 26 -6.1 23L-6.1 11.5C-6.1 8.3 -5.3 6.1 -3.5 4.5C-2.7 3.1 -2.2 1.5 -1.6 -0.5Z' fill='url(#mv)'/><ellipse cx='3.3' cy='20.6' rx='2.5' ry='2.8' fill='#8a8a8a' opacity='0.16'/><ellipse cx='2.2' cy='22.3' rx='2.4' ry='1.6' fill='#8a8a8a' opacity='0.16'/><ellipse cx='1.0' cy='13.0' rx='2.1' ry='2.0' fill='#8a8a8a' opacity='0.16'/></g></g>
<g transform='translate(591.9,237.4) scale(1,0.974)'><line x1='0' y1='30.5' x2='0' y2='38.5' stroke='#a8a8a8' stroke-width='1.0'/><path d='M-4.6 30.6L-7.4 32.8M2.4 30.6L6.6 32.8' stroke='#909090' stroke-width='0.9' fill='none'/><g transform='translate(-0.8,0) scale(1,1.1)'><path d='M-1.6 -0.5L1.6 -0.5C2.2 1.5 2.7 3.1 3.5 4.5C5.3 6.1 6.1 8.3 6.1 11.5L6.1 23C6.1 26 4.9 27.9 2 28.2L-2 28.2C-4.9 27.9 -6.1 26 -6.1 23L-6.1 11.5C-6.1 8.3 -5.3 6.1 -3.5 4.5C-2.7 3.1 -2.2 1.5 -1.6 -0.5Z' fill='url(#mg)'/><path d='M-1.6 -0.5L1.6 -0.5C2.2 1.5 2.7 3.1 3.5 4.5C5.3 6.1 6.1 8.3 6.1 11.5L6.1 23C6.1 26 4.9 27.9 2 28.2L-2 28.2C-4.9 27.9 -6.1 26 -6.1 23L-6.1 11.5C-6.1 8.3 -5.3 6.1 -3.5 4.5C-2.7 3.1 -2.2 1.5 -1.6 -0.5Z' fill='url(#mv)'/><ellipse cx='0.3' cy='22.9' rx='2.1' ry='2.0' fill='#8a8a8a' opacity='0.16'/><ellipse cx='0.1' cy='15.5' rx='2.5' ry='2.1' fill='#8a8a8a' opacity='0.16'/><ellipse cx='-1.4' cy='18.7' rx='1.4' ry='2.7' fill='#8a8a8a' opacity='0.16'/></g></g>
<g transform='translate(605,237.4) scale(1,0.974)'><line x1='0' y1='30.5' x2='0' y2='38.5' stroke='#a8a8a8' stroke-width='1.0'/><path d='M-4.6 30.6L-7.4 32.8M2.4 30.6L6.6 32.8' stroke='#909090' stroke-width='0.9' fill='none'/><g transform='translate(-0.8,0) scale(1,1.1)'><path d='M-1.6 -0.5L1.6 -0.5C2.2 1.5 2.7 3.1 3.5 4.5C5.3 6.1 6.1 8.3 6.1 11.5L6.1 23C6.1 26 4.9 27.9 2 28.2L-2 28.2C-4.9 27.9 -6.1 26 -6.1 23L-6.1 11.5C-6.1 8.3 -5.3 6.1 -3.5 4.5C-2.7 3.1 -2.2 1.5 -1.6 -0.5Z' fill='url(#mg)'/><path d='M-1.6 -0.5L1.6 -0.5C2.2 1.5 2.7 3.1 3.5 4.5C5.3 6.1 6.1 8.3 6.1 11.5L6.1 23C6.1 26 4.9 27.9 2 28.2L-2 28.2C-4.9 27.9 -6.1 26 -6.1 23L-6.1 11.5C-6.1 8.3 -5.3 6.1 -3.5 4.5C-2.7 3.1 -2.2 1.5 -1.6 -0.5Z' fill='url(#mv)'/><ellipse cx='3.2' cy='16.7' rx='1.6' ry='2.4' fill='#8a8a8a' opacity='0.16'/><ellipse cx='0.2' cy='11.2' rx='1.4' ry='1.8' fill='#8a8a8a' opacity='0.16'/><ellipse cx='-1.4' cy='15.1' rx='1.6' ry='2.0' fill='#8a8a8a' opacity='0.16'/></g></g>
</g></svg>
<path d='M56.50 192.7L71.30 231.7M71.30 192.7L56.50 231.7M71.30 192.7L86.10 231.7M86.10 192.7L71.30 231.7M86.10 192.7L100.90 231.7M100.90 192.7L86.10 231.7' stroke='#5a88cc' stroke-width='1.05' fill='none'/>
<path d='M100.90 192.7L115.75 231.7M115.75 192.7L100.90 231.7M115.75 192.7L130.60 231.7M130.60 192.7L115.75 231.7M130.60 192.7L145.45 231.7M145.45 192.7L130.60 231.7M145.45 192.7L160.30 231.7M160.30 192.7L145.45 231.7' stroke='#5a88cc' stroke-width='1.05' fill='none'/>
<path d='M160.30 192.7L176.33 231.7M176.33 192.7L160.30 231.7M176.33 192.7L192.37 231.7M192.37 192.7L176.33 231.7M192.37 192.7L208.40 231.7M208.40 192.7L192.37 231.7' stroke='#5a88cc' stroke-width='1.05' fill='none'/>
<rect x='57.60' y='193.80' width='149.70' height='36.80' fill='none' stroke='#3a649e' stroke-width='2.2'/>
<rect x='99.30' y='192.7' width='3.2' height='39.00' fill='#3a649e'/>
<rect x='158.70' y='192.7' width='3.2' height='39.00' fill='#3a649e'/>
<path d='M56.50 236.4L71.30 275.3M71.30 236.4L56.50 275.3M71.30 236.4L86.10 275.3M86.10 236.4L71.30 275.3M86.10 236.4L100.90 275.3M100.90 236.4L86.10 275.3' stroke='#5a88cc' stroke-width='1.05' fill='none'/>
<path d='M100.90 236.4L115.75 275.3M115.75 236.4L100.90 275.3M115.75 236.4L130.60 275.3M130.60 236.4L115.75 275.3M130.60 236.4L145.45 275.3M145.45 236.4L130.60 275.3M145.45 236.4L160.30 275.3M160.30 236.4L145.45 275.3' stroke='#5a88cc' stroke-width='1.05' fill='none'/>
<path d='M160.30 236.4L176.33 275.3M176.33 236.4L160.30 275.3M176.33 236.4L192.37 275.3M192.37 236.4L176.33 275.3M192.37 236.4L208.40 275.3M208.40 236.4L192.37 275.3' stroke='#5a88cc' stroke-width='1.05' fill='none'/>
<rect x='57.60' y='237.50' width='149.70' height='36.70' fill='none' stroke='#3a649e' stroke-width='2.2'/>
<rect x='99.30' y='236.4' width='3.2' height='38.90' fill='#3a649e'/>
<rect x='158.70' y='236.4' width='3.2' height='38.90' fill='#3a649e'/>
<path d='M210.50 192.7L226.85 231.7M226.85 192.7L210.50 231.7M226.85 192.7L243.20 231.7M243.20 192.7L226.85 231.7M243.20 192.7L259.55 231.7M259.55 192.7L243.20 231.7M259.55 192.7L275.90 231.7M275.90 192.7L259.55 231.7' stroke='#5a88cc' stroke-width='1.05' fill='none'/>
<path d='M275.90 192.7L292.03 231.7M292.03 192.7L275.90 231.7M292.03 192.7L308.17 231.7M308.17 192.7L292.03 231.7M308.17 192.7L324.30 231.7M324.30 192.7L308.17 231.7' stroke='#5a88cc' stroke-width='1.05' fill='none'/>
<path d='M324.30 192.7L339.25 231.7M339.25 192.7L324.30 231.7M339.25 192.7L354.20 231.7M354.20 192.7L339.25 231.7' stroke='#5a88cc' stroke-width='1.05' fill='none'/>
<rect x='211.60' y='193.80' width='141.50' height='36.80' fill='none' stroke='#3a649e' stroke-width='2.2'/>
<rect x='274.30' y='192.7' width='3.2' height='39.00' fill='#3a649e'/>
<rect x='322.70' y='192.7' width='3.2' height='39.00' fill='#3a649e'/>
<path d='M210.50 236.4L226.85 275.3M226.85 236.4L210.50 275.3M226.85 236.4L243.20 275.3M243.20 236.4L226.85 275.3M243.20 236.4L259.55 275.3M259.55 236.4L243.20 275.3M259.55 236.4L275.90 275.3M275.90 236.4L259.55 275.3' stroke='#5a88cc' stroke-width='1.05' fill='none'/>
<path d='M275.90 236.4L292.03 275.3M292.03 236.4L275.90 275.3M292.03 236.4L308.17 275.3M308.17 236.4L292.03 275.3M308.17 236.4L324.30 275.3M324.30 236.4L308.17 275.3' stroke='#5a88cc' stroke-width='1.05' fill='none'/>
<path d='M324.30 236.4L339.25 275.3M339.25 236.4L324.30 275.3M339.25 236.4L354.20 275.3M354.20 236.4L339.25 275.3' stroke='#5a88cc' stroke-width='1.05' fill='none'/>
<rect x='211.60' y='237.50' width='141.50' height='36.70' fill='none' stroke='#3a649e' stroke-width='2.2'/>
<rect x='274.30' y='236.4' width='3.2' height='38.90' fill='#3a649e'/>
<rect x='322.70' y='236.4' width='3.2' height='38.90' fill='#3a649e'/>
<path d='M357.00 236.4L372.00 275.3M372.00 236.4L357.00 275.3M372.00 236.4L387.00 275.3M387.00 236.4L372.00 275.3M387.00 236.4L402.00 275.3M402.00 236.4L387.00 275.3M402.00 236.4L417.00 275.3M417.00 236.4L402.00 275.3' stroke='#5a88cc' stroke-width='1.05' fill='none'/>
<path d='M417.00 236.4L433.53 275.3M433.53 236.4L417.00 275.3M433.53 236.4L450.07 275.3M450.07 236.4L433.53 275.3M450.07 236.4L466.60 275.3M466.60 236.4L450.07 275.3' stroke='#5a88cc' stroke-width='1.05' fill='none'/>
<path d='M466.60 236.4L480.50 275.3M480.50 236.4L466.60 275.3M480.50 236.4L494.40 275.3M494.40 236.4L480.50 275.3M494.40 236.4L508.30 275.3M508.30 236.4L494.40 275.3' stroke='#5a88cc' stroke-width='1.05' fill='none'/>
<rect x='358.10' y='237.50' width='149.10' height='36.70' fill='none' stroke='#3a649e' stroke-width='2.2'/>
<rect x='415.70' y='236.4' width='2.6' height='38.90' fill='#3a649e'/>
<rect x='465.30' y='236.4' width='2.6' height='38.90' fill='#3a649e'/>
<path d='M510.50 236.7L526.50 275.4M526.50 236.7L510.50 275.4M526.50 236.7L542.50 275.4M542.50 236.7L526.50 275.4' stroke='#5a88cc' stroke-width='1.05' fill='none'/>
<rect x='511.60' y='237.80' width='29.80' height='36.50' fill='none' stroke='#3a649e' stroke-width='2.2'/>
<path d='M556.20 236.2L570.20 276.3M570.20 236.2L556.20 276.3' stroke='#5a88cc' stroke-width='1.05' fill='none'/>
<rect x='557.30' y='237.30' width='11.80' height='37.90' fill='none' stroke='#3a649e' stroke-width='2.2'/>
<path d='M615.10 236.7L630.10 275.4M630.10 236.7L615.10 275.4M630.10 236.7L645.10 275.4M645.10 236.7L630.10 275.4' stroke='#5a88cc' stroke-width='1.05' fill='none'/>
<rect x='616.20' y='237.80' width='27.80' height='36.50' fill='none' stroke='#3a649e' stroke-width='2.2'/>
<defs><linearGradient id='cb' x1='0' x2='0' y1='0' y2='1'><stop offset='0' stop-color='#ff0000'/><stop offset='0.06' stop-color='#ff1a10'/><stop offset='0.085' stop-color='#f05a28'/><stop offset='0.11' stop-color='#f88078'/><stop offset='0.15' stop-color='#f0b0a0'/><stop offset='0.19' stop-color='#e8e0b8'/><stop offset='0.24' stop-color='#f0fcd0'/><stop offset='0.3' stop-color='#d8f8c0'/><stop offset='0.36' stop-color='#a0f0a0'/><stop offset='0.42' stop-color='#40e840'/><stop offset='0.55' stop-color='#20e020'/><stop offset='0.64' stop-color='#20e070'/><stop offset='0.69' stop-color='#20c8e0'/><stop offset='0.75' stop-color='#2080ff'/><stop offset='0.84' stop-color='#0a0aff'/><stop offset='0.93' stop-color='#4a00ff'/><stop offset='1' stop-color='#8000ff'/></linearGradient></defs>
<rect x='649.1' y='19.1' width='6.6' height='140' fill='url(#cb)'/>
<path d='M655.7 22.3L657.6 22.3M655.7 30.8L657.6 30.8M655.7 39.3L658.5 39.3M655.7 47.8L657.6 47.8M655.7 56.3L657.6 56.3M655.7 64.8L657.6 64.8M655.7 73.3L657.6 73.3M655.7 81.8L658.5 81.8M655.7 90.3L657.6 90.3M655.7 98.8L657.6 98.8M655.7 107.3L657.6 107.3M655.7 115.8L657.6 115.8M655.7 124.3L658.5 124.3M655.7 132.8L657.6 132.8M655.7 141.3L657.6 141.3M655.7 149.8L657.6 149.8M655.7 158.3L657.6 158.3' stroke='#555' stroke-width='0.6'/>
<text x='661.50' y='41.30' font-size='5.6' text-anchor='start' fill='#444' font-weight='normal' >600</text>
<text x='661.50' y='84.70' font-size='5.6' text-anchor='start' fill='#444' font-weight='normal' >400</text>
<text x='661.50' y='126.30' font-size='5.6' text-anchor='start' fill='#444' font-weight='normal' >200</text>
<text x='673.5' y='89.5' font-size='5.6' fill='#444'>x10</text><text x='682' y='86.5' font-size='4' fill='#444'>6</text>
<text x='-0.80' y='314.40' font-size='26.8' text-anchor='start' fill='#000' font-weight='bold' >B</text>
<path d='M57 321L57 501.8M56.2 501L329.5 501' stroke='#000' stroke-width='1.9' fill='none'/>
<path d='M53.2 500.90L57 500.90M53.2 471.03L57 471.03M53.2 441.17L57 441.17M53.2 411.30L57 411.30M53.2 381.44L57 381.44M53.2 351.57L57 351.57M53.2 321.71L57 321.71M61.60 501L61.60 505M70.35 501L70.35 505M79.10 501L79.10 505M87.85 501L87.85 505M96.60 501L96.60 505M105.35 501L105.35 505M114.10 501L114.10 505M122.85 501L122.85 505M131.60 501L131.60 505M140.35 501L140.35 505M149.10 501L149.10 505M157.85 501L157.85 505M166.60 501L166.60 505M175.35 501L175.35 505M184.10 501L184.10 505M192.85 501L192.85 505M201.60 501L201.60 505M210.35 501L210.35 505M219.10 501L219.10 505M227.85 501L227.85 505M236.60 501L236.60 505M245.35 501L245.35 505M254.10 501L254.10 505M262.85 501L262.85 505M271.60 501L271.60 505M280.35 501L280.35 505M289.10 501L289.10 505M297.85 501L297.85 505M306.60 501L306.60 505M315.35 501L315.35 505M324.10 501L324.10 505' stroke='#000' stroke-width='1.5'/>
<text x='42.60' y='504.30' font-size='7.5' text-anchor='end' letter-spacing='1.0' fill='#000' font-weight='bold' >0</text>
<text x='42.60' y='474.43' font-size='7.5' text-anchor='end' letter-spacing='1.0' fill='#000' font-weight='bold' >500</text>
<text x='42.60' y='444.57' font-size='7.5' text-anchor='end' letter-spacing='1.0' fill='#000' font-weight='bold' >1000</text>
<text x='42.60' y='414.70' font-size='7.5' text-anchor='end' letter-spacing='1.0' fill='#000' font-weight='bold' >1500</text>
<text x='42.60' y='384.84' font-size='7.5' text-anchor='end' letter-spacing='1.0' fill='#000' font-weight='bold' >2000</text>
<text x='42.60' y='354.97' font-size='7.5' text-anchor='end' letter-spacing='1.0' fill='#000' font-weight='bold' >2500</text>
<text x='42.60' y='325.11' font-size='7.5' text-anchor='end' letter-spacing='1.0' fill='#000' font-weight='bold' >3000</text>
<text transform='translate(64.40,510.8) rotate(-90)' font-size='7.8' text-anchor='end' letter-spacing='0.55' font-weight='bold'>21</text>
<text transform='translate(73.15,510.8) rotate(-90)' font-size='7.8' text-anchor='end' letter-spacing='0.55' font-weight='bold'>26</text>
<text transform='translate(81.90,510.8) rotate(-90)' font-size='7.8' text-anchor='end' letter-spacing='0.55' font-weight='bold'>29</text>
<text transform='translate(90.65,510.8) rotate(-90)' font-size='7.8' text-anchor='end' letter-spacing='0.55' font-weight='bold'>33</text>
<text transform='translate(99.40,510.8) rotate(-90)' font-size='7.8' text-anchor='end' letter-spacing='0.55' font-weight='bold'>36</text>
<text transform='translate(108.15,510.8) rotate(-90)' font-size='7.8' text-anchor='end' letter-spacing='0.55' font-weight='bold'>40</text>
<text transform='translate(116.90,510.8) rotate(-90)' font-size='7.8' text-anchor='end' letter-spacing='0.55' font-weight='bold'>43</text>
<text transform='translate(125.65,510.8) rotate(-90)' font-size='7.8' text-anchor='end' letter-spacing='0.55' font-weight='bold'>47</text>
<text transform='translate(134.40,510.8) rotate(-90)' font-size='7.8' text-anchor='end' letter-spacing='0.55' font-weight='bold'>50</text>
<text transform='translate(143.15,510.8) rotate(-90)' font-size='7.8' text-anchor='end' letter-spacing='0.55' font-weight='bold'>54</text>
<text transform='translate(151.90,510.8) rotate(-90)' font-size='7.8' text-anchor='end' letter-spacing='0.55' font-weight='bold'>56</text>
<text transform='translate(160.65,510.8) rotate(-90)' font-size='7.8' text-anchor='end' letter-spacing='0.55' font-weight='bold'>60</text>
<text transform='translate(169.40,510.8) rotate(-90)' font-size='7.8' text-anchor='end' letter-spacing='0.55' font-weight='bold'>63</text>
<text transform='translate(178.15,510.8) rotate(-90)' font-size='7.8' text-anchor='end' letter-spacing='0.55' font-weight='bold'>67</text>
<text transform='translate(186.90,510.8) rotate(-90)' font-size='7.8' text-anchor='end' letter-spacing='0.55' font-weight='bold'>70</text>
<text transform='translate(195.65,510.8) rotate(-90)' font-size='7.8' text-anchor='end' letter-spacing='0.55' font-weight='bold'>74</text>
<text transform='translate(204.40,510.8) rotate(-90)' font-size='7.8' text-anchor='end' letter-spacing='0.55' font-weight='bold'>77</text>
<text transform='translate(213.15,510.8) rotate(-90)' font-size='7.8' text-anchor='end' letter-spacing='0.55' font-weight='bold'>81</text>
<text transform='translate(221.90,510.8) rotate(-90)' font-size='7.8' text-anchor='end' letter-spacing='0.55' font-weight='bold'>84</text>
<text transform='translate(230.65,510.8) rotate(-90)' font-size='7.8' text-anchor='end' letter-spacing='0.55' font-weight='bold'>88</text>
<text transform='translate(239.40,510.8) rotate(-90)' font-size='7.8' text-anchor='end' letter-spacing='0.55' font-weight='bold'>91</text>
<text transform='translate(248.15,510.8) rotate(-90)' font-size='7.8' text-anchor='end' letter-spacing='0.55' font-weight='bold'>99</text>
<text transform='translate(256.90,510.8) rotate(-90)' font-size='7.8' text-anchor='end' letter-spacing='0.55' font-weight='bold'>102</text>
<text transform='translate(265.65,510.8) rotate(-90)' font-size='7.8' text-anchor='end' letter-spacing='0.55' font-weight='bold'>106</text>
<text transform='translate(274.40,510.8) rotate(-90)' font-size='7.8' text-anchor='end' letter-spacing='0.55' font-weight='bold'>109</text>
<text transform='translate(283.15,510.8) rotate(-90)' font-size='7.8' text-anchor='end' letter-spacing='0.55' font-weight='bold'>116</text>
<text transform='translate(291.90,510.8) rotate(-90)' font-size='7.8' text-anchor='end' letter-spacing='0.55' font-weight='bold'>120</text>
<text transform='translate(300.65,510.8) rotate(-90)' font-size='7.8' text-anchor='end' letter-spacing='0.55' font-weight='bold'>123</text>
<text transform='translate(309.40,510.8) rotate(-90)' font-size='7.8' text-anchor='end' letter-spacing='0.55' font-weight='bold'>127</text>
<text transform='translate(318.15,510.8) rotate(-90)' font-size='7.8' text-anchor='end' letter-spacing='0.55' font-weight='bold'>130</text>
<text transform='translate(326.90,510.8) rotate(-90)' font-size='7.8' text-anchor='end' letter-spacing='0.55' font-weight='bold'>133</text>
<text transform='translate(12.2,411) rotate(-90)' font-size='10.5' text-anchor='middle' letter-spacing='2.05' font-weight='bold'>Tumor Volume (mm<tspan font-size='6.5' dy='-4'>3</tspan><tspan dy='4'>)</tspan></text>
<text x='192.00' y='544.30' font-size='10.5' text-anchor='middle' letter-spacing='1.55' fill='#000' font-weight='bold' >Days after cell inoculation</text>
<path d='M61.60 497.79L61.60 494.93M58.20 494.93L65.00 494.93M70.35 492.78L70.35 485.37M66.95 485.37L73.75 485.37M79.10 488.72L79.10 481.31M75.70 481.31L82.50 481.31M87.85 485.01L87.85 479.99M84.45 479.99L91.25 479.99M96.60 476.29L96.60 468.88M93.20 468.88L100.00 468.88M105.35 471.03L105.35 465.06M101.95 465.06L108.75 465.06M114.10 451.32L114.10 434.00M110.70 434.00L117.50 434.00M122.85 444.28L122.85 423.25M119.45 423.25L126.25 423.25M131.60 432.81L131.60 407.36M128.20 407.36L135.00 407.36M140.35 421.64L140.35 395.30M136.95 395.30L143.75 395.30M149.10 413.40L149.10 392.07M145.70 392.07L152.50 392.07M157.85 400.73L157.85 381.26M154.45 381.26L161.25 381.26M166.60 399.48L166.60 380.66M163.20 380.66L170.00 380.66M175.35 395.66L175.35 378.75M171.95 378.75L178.75 378.75M184.10 389.32L184.10 368.00M180.70 368.00L187.50 368.00M192.85 386.82L192.85 367.70M189.45 367.70L196.25 367.70M201.60 386.82L201.60 367.70M198.20 367.70L205.00 367.70M210.35 386.82L210.35 367.70M206.95 367.70L213.75 367.70M219.10 386.82L219.10 367.70M215.70 367.70L222.50 367.70M227.85 386.82L227.85 367.70M224.45 367.70L231.25 367.70M236.60 386.82L236.60 367.70M233.20 367.70L240.00 367.70M245.35 386.82L245.35 367.70M241.95 367.70L248.75 367.70M254.10 386.82L254.10 367.70M250.70 367.70L257.50 367.70M262.85 386.82L262.85 367.70M259.45 367.70L266.25 367.70M271.60 386.82L271.60 367.70M268.20 367.70L275.00 367.70M280.35 386.82L280.35 367.70M276.95 367.70L283.75 367.70M289.10 386.82L289.10 367.70M285.70 367.70L292.50 367.70M297.85 386.82L297.85 367.70M294.45 367.70L301.25 367.70M306.60 386.82L306.60 367.70M303.20 367.70L310.00 367.70M315.35 386.82L315.35 367.70M311.95 367.70L318.75 367.70M324.10 386.82L324.10 367.70M320.70 367.70L327.50 367.70' stroke='#000' stroke-width='2.1' fill='none'/>
<polyline points='61.60,497.79 70.35,492.78 79.10,488.72 87.85,485.01 96.60,476.29 105.35,471.03 114.10,451.32 122.85,444.28 131.60,432.81 140.35,421.64 149.10,413.40 157.85,400.73 166.60,399.48 175.35,395.66 184.10,389.32 192.85,386.82 201.60,386.82 210.35,386.82 219.10,386.82 227.85,386.82 236.60,386.82 245.35,386.82 254.10,386.82 262.85,386.82 271.60,386.82 280.35,386.82 289.10,386.82 297.85,386.82 306.60,386.82 315.35,386.82 324.10,386.82' stroke='#000' stroke-width='1.9' fill='none'/>
<circle cx='61.60' cy='497.79' r='3.20' fill='#000'/><circle cx='70.35' cy='492.78' r='3.20' fill='#000'/><circle cx='79.10' cy='488.72' r='3.20' fill='#000'/><circle cx='87.85' cy='485.01' r='3.20' fill='#000'/><circle cx='96.60' cy='476.29' r='3.20' fill='#000'/><circle cx='105.35' cy='471.03' r='3.20' fill='#000'/><circle cx='114.10' cy='451.32' r='3.20' fill='#000'/><circle cx='122.85' cy='444.28' r='3.20' fill='#000'/><circle cx='131.60' cy='432.81' r='3.20' fill='#000'/><circle cx='140.35' cy='421.64' r='3.20' fill='#000'/><circle cx='149.10' cy='413.40' r='3.20' fill='#000'/><circle cx='157.85' cy='400.73' r='3.20' fill='#000'/><circle cx='166.60' cy='399.48' r='3.20' fill='#000'/><circle cx='175.35' cy='395.66' r='3.20' fill='#000'/><circle cx='184.10' cy='389.32' r='3.20' fill='#000'/><circle cx='192.85' cy='386.82' r='3.20' fill='#000'/><circle cx='201.60' cy='386.82' r='3.20' fill='#000'/><circle cx='210.35' cy='386.82' r='3.20' fill='#000'/><circle cx='219.10' cy='386.82' r='3.20' fill='#000'/><circle cx='227.85' cy='386.82' r='3.20' fill='#000'/><circle cx='236.60' cy='386.82' r='3.20' fill='#000'/><circle cx='245.35' cy='386.82' r='3.20' fill='#000'/><circle cx='254.10' cy='386.82' r='3.20' fill='#000'/><circle cx='262.85' cy='386.82' r='3.20' fill='#000'/><circle cx='271.60' cy='386.82' r='3.20' fill='#000'/><circle cx='280.35' cy='386.82' r='3.20' fill='#000'/><circle cx='289.10' cy='386.82' r='3.20' fill='#000'/><circle cx='297.85' cy='386.82' r='3.20' fill='#000'/><circle cx='306.60' cy='386.82' r='3.20' fill='#000'/><circle cx='315.35' cy='386.82' r='3.20' fill='#000'/><circle cx='324.10' cy='386.82' r='3.20' fill='#000'/>
<path d='M61.60 499.53L61.60 496.12M58.20 496.12L65.00 496.12M70.35 492.78L70.35 486.21M66.95 486.21L73.75 486.21M79.10 491.58L79.10 482.92M75.70 482.92L82.50 482.92M87.85 488.72L87.85 479.99M84.45 479.99L91.25 479.99M96.60 485.01L96.60 473.01M93.20 473.01L100.00 473.01M105.35 476.17L105.35 460.58M101.95 460.58L108.75 460.58M114.10 461.60L114.10 439.98M110.70 439.98L117.50 439.98M122.85 454.01L122.85 432.93M119.45 432.93L126.25 432.93M131.60 444.28L131.60 420.03M128.20 420.03L135.00 420.03M140.35 413.40L140.35 374.27M136.95 374.27L143.75 374.27M149.10 401.99L149.10 362.21M145.70 362.21L152.50 362.21M157.85 395.66L157.85 359.10M154.45 359.10L161.25 359.10M166.60 394.70L166.60 357.19M163.20 357.19L170.00 357.19M175.35 391.53L175.35 359.70M171.95 359.70L178.75 359.70M184.10 386.99L184.10 354.02M180.70 354.02L187.50 354.02M192.85 382.40L192.85 353.73M189.45 353.73L196.25 353.73M201.60 381.20L201.60 356.35M198.20 356.35L205.00 356.35M210.35 378.10L210.35 355.16M206.95 355.16L213.75 355.16M219.10 376.60L219.10 353.96M215.70 353.96L222.50 353.96M227.85 376.12L227.85 353.37M224.45 353.37L231.25 353.37M236.60 375.59L236.60 355.16M233.20 355.16L240.00 355.16M245.35 376.60L245.35 349.42M241.95 349.42L248.75 349.42M254.10 375.11L254.10 355.16M250.70 355.16L257.50 355.16M262.85 374.27L262.85 356.35M259.45 356.35L266.25 356.35M271.60 374.27L271.60 356.95M268.20 356.95L275.00 356.95M280.35 374.27L280.35 356.95M276.95 356.95L283.75 356.95M289.10 374.27L289.10 356.95M285.70 356.95L292.50 356.95M297.85 374.27L297.85 356.95M294.45 356.95L301.25 356.95M306.60 374.27L306.60 356.95M303.20 356.95L310.00 356.95M315.35 374.27L315.35 356.95M311.95 356.95L318.75 356.95M324.10 374.27L324.10 356.95M320.70 356.95L327.50 356.95' stroke='#ff0000' stroke-width='2.1' fill='none'/>
<polyline points='61.60,499.53 70.35,492.78 79.10,491.58 87.85,488.72 96.60,485.01 105.35,476.17 114.10,461.60 122.85,454.01 131.60,444.28 140.35,413.40 149.10,401.99 157.85,395.66 166.60,394.70 175.35,391.53 184.10,386.99 192.85,382.40 201.60,381.20 210.35,378.10 219.10,376.60 227.85,376.12 236.60,375.59 245.35,376.60 254.10,375.11 262.85,374.27 271.60,374.27 280.35,374.27 289.10,374.27 297.85,374.27 306.60,374.27 315.35,374.27 324.10,374.27' stroke='#ff0000' stroke-width='1.9' fill='none'/>
<path d='M61.60 495.73L65.40 502.33L57.80 502.33Z' fill='#ff0000'/><path d='M70.35 488.98L74.15 495.58L66.55 495.58Z' fill='#ff0000'/><path d='M79.10 487.78L82.90 494.38L75.30 494.38Z' fill='#ff0000'/><path d='M87.85 484.92L91.65 491.52L84.05 491.52Z' fill='#ff0000'/><path d='M96.60 481.21L100.40 487.81L92.80 487.81Z' fill='#ff0000'/><path d='M105.35 472.37L109.15 478.97L101.55 478.97Z' fill='#ff0000'/><path d='M114.10 457.80L117.90 464.40L110.30 464.40Z' fill='#ff0000'/><path d='M122.85 450.21L126.65 456.81L119.05 456.81Z' fill='#ff0000'/><path d='M131.60 440.48L135.40 447.08L127.80 447.08Z' fill='#ff0000'/><path d='M140.35 409.60L144.15 416.20L136.55 416.20Z' fill='#ff0000'/><path d='M149.10 398.19L152.90 404.79L145.30 404.79Z' fill='#ff0000'/><path d='M157.85 391.86L161.65 398.46L154.05 398.46Z' fill='#ff0000'/><path d='M166.60 390.90L170.40 397.50L162.80 397.50Z' fill='#ff0000'/><path d='M175.35 387.73L179.15 394.33L171.55 394.33Z' fill='#ff0000'/><path d='M184.10 383.19L187.90 389.79L180.30 389.79Z' fill='#ff0000'/><path d='M192.85 378.60L196.65 385.20L189.05 385.20Z' fill='#ff0000'/><path d='M201.60 377.40L205.40 384.00L197.80 384.00Z' fill='#ff0000'/><path d='M210.35 374.30L214.15 380.90L206.55 380.90Z' fill='#ff0000'/><path d='M219.10 372.80L222.90 379.40L215.30 379.40Z' fill='#ff0000'/><path d='M227.85 372.32L231.65 378.92L224.05 378.92Z' fill='#ff0000'/><path d='M236.60 371.79L240.40 378.39L232.80 378.39Z' fill='#ff0000'/><path d='M245.35 372.80L249.15 379.40L241.55 379.40Z' fill='#ff0000'/><path d='M254.10 371.31L257.90 377.91L250.30 377.91Z' fill='#ff0000'/><path d='M262.85 370.47L266.65 377.07L259.05 377.07Z' fill='#ff0000'/><path d='M271.60 370.47L275.40 377.07L267.80 377.07Z' fill='#ff0000'/><path d='M280.35 370.47L284.15 377.07L276.55 377.07Z' fill='#ff0000'/><path d='M289.10 370.47L292.90 377.07L285.30 377.07Z' fill='#ff0000'/><path d='M297.85 370.47L301.65 377.07L294.05 377.07Z' fill='#ff0000'/><path d='M306.60 370.47L310.40 377.07L302.80 377.07Z' fill='#ff0000'/><path d='M315.35 370.47L319.15 377.07L311.55 377.07Z' fill='#ff0000'/><path d='M324.10 370.47L327.90 377.07L320.30 377.07Z' fill='#ff0000'/>
<path d='M61.60 498.21L61.60 495.52M58.20 495.52L65.00 495.52M70.35 497.02L70.35 493.73M66.95 493.73L73.75 493.73M79.10 494.09L79.10 486.98M75.70 486.98L82.50 486.98M87.85 497.02L87.85 493.14M84.45 493.14L91.25 493.14M96.60 498.21L96.60 494.93M93.20 494.93L100.00 494.93M105.35 495.29L105.35 491.94M101.95 491.94L108.75 491.94M114.10 495.64L114.10 488.60M110.70 488.60L117.50 488.60M122.85 494.51L122.85 485.37M119.45 485.37L126.25 485.37M131.60 491.82L131.60 481.01M128.20 481.01L135.00 481.01M140.35 492.90L140.35 482.03M136.95 482.03L143.75 482.03M149.10 492.60L149.10 481.01M145.70 481.01L152.50 481.01M157.85 487.52L157.85 476.17M154.45 476.17L161.25 476.17M166.60 489.61L166.60 478.20M163.20 478.20L170.00 478.20M175.35 486.39L175.35 476.29M171.95 476.29L178.75 476.29M184.10 481.97L184.10 466.14M180.70 466.14L187.50 466.14M192.85 479.40L192.85 462.91M189.45 462.91L196.25 462.91M201.60 476.29L201.60 457.24M198.20 457.24L205.00 457.24M210.35 472.23L210.35 449.05M206.95 449.05L213.75 449.05M219.10 466.56L219.10 444.40M215.70 444.40L222.50 444.40M227.85 452.22L227.85 426.60M224.45 426.60L231.25 426.60M236.60 435.91L236.60 403.72M233.20 403.72L240.00 403.72M245.35 438.00L245.35 401.09M241.95 401.09L248.75 401.09M254.10 427.19L254.10 399.18M250.70 399.18L257.50 399.18M262.85 425.88L262.85 396.67M259.45 396.67L266.25 396.67M271.60 422.30L271.60 396.49M268.20 396.49L275.00 396.49M280.35 410.23L280.35 386.22M276.95 386.22L283.75 386.22M289.10 409.57L289.10 386.22M285.70 386.22L292.50 386.22M297.85 407.72L297.85 384.19M294.45 384.19L301.25 384.19M306.60 405.81L306.60 384.19M303.20 384.19L310.00 384.19M315.35 403.90L315.35 382.93M311.95 382.93L318.75 382.93M324.10 401.99L324.10 381.02M320.70 381.02L327.50 381.02' stroke='#0000ff' stroke-width='2.1' fill='none'/>
<polyline points='61.60,498.21 70.35,497.02 79.10,494.09 87.85,497.02 96.60,498.21 105.35,495.29 114.10,495.64 122.85,494.51 131.60,491.82 140.35,492.90 149.10,492.60 157.85,487.52 166.60,489.61 175.35,486.39 184.10,481.97 192.85,479.40 201.60,476.29 210.35,472.23 219.10,466.56 227.85,452.22 236.60,435.91 245.35,438.00 254.10,427.19 262.85,425.88 271.60,422.30 280.35,410.23 289.10,409.57 297.85,407.72 306.60,405.81 315.35,403.90 324.10,401.99' stroke='#0000ff' stroke-width='1.9' fill='none'/>
<rect x='58.60' y='495.21' width='6.00' height='6.00' fill='#0000ff'/><rect x='67.35' y='494.02' width='6.00' height='6.00' fill='#0000ff'/><rect x='76.10' y='491.09' width='6.00' height='6.00' fill='#0000ff'/><rect x='84.85' y='494.02' width='6.00' height='6.00' fill='#0000ff'/><rect x='93.60' y='495.21' width='6.00' height='6.00' fill='#0000ff'/><rect x='102.35' y='492.29' width='6.00' height='6.00' fill='#0000ff'/><rect x='111.10' y='492.64' width='6.00' height='6.00' fill='#0000ff'/><rect x='119.85' y='491.51' width='6.00' height='6.00' fill='#0000ff'/><rect x='128.60' y='488.82' width='6.00' height='6.00' fill='#0000ff'/><rect x='137.35' y='489.90' width='6.00' height='6.00' fill='#0000ff'/><rect x='146.10' y='489.60' width='6.00' height='6.00' fill='#0000ff'/><rect x='154.85' y='484.52' width='6.00' height='6.00' fill='#0000ff'/><rect x='163.60' y='486.61' width='6.00' height='6.00' fill='#0000ff'/><rect x='172.35' y='483.39' width='6.00' height='6.00' fill='#0000ff'/><rect x='181.10' y='478.97' width='6.00' height='6.00' fill='#0000ff'/><rect x='189.85' y='476.40' width='6.00' height='6.00' fill='#0000ff'/><rect x='198.60' y='473.29' width='6.00' height='6.00' fill='#0000ff'/><rect x='207.35' y='469.23' width='6.00' height='6.00' fill='#0000ff'/><rect x='216.10' y='463.56' width='6.00' height='6.00' fill='#0000ff'/><rect x='224.85' y='449.22' width='6.00' height='6.00' fill='#0000ff'/><rect x='233.60' y='432.91' width='6.00' height='6.00' fill='#0000ff'/><rect x='242.35' y='435.00' width='6.00' height='6.00' fill='#0000ff'/><rect x='251.10' y='424.19' width='6.00' height='6.00' fill='#0000ff'/><rect x='259.85' y='422.88' width='6.00' height='6.00' fill='#0000ff'/><rect x='268.60' y='419.30' width='6.00' height='6.00' fill='#0000ff'/><rect x='277.35' y='407.23' width='6.00' height='6.00' fill='#0000ff'/><rect x='286.10' y='406.57' width='6.00' height='6.00' fill='#0000ff'/><rect x='294.85' y='404.72' width='6.00' height='6.00' fill='#0000ff'/><rect x='303.60' y='402.81' width='6.00' height='6.00' fill='#0000ff'/><rect x='312.35' y='400.90' width='6.00' height='6.00' fill='#0000ff'/><rect x='321.10' y='398.99' width='6.00' height='6.00' fill='#0000ff'/>
<path d='M61.60 492.78L61.60 490.39M58.20 490.39L65.00 490.39M70.35 490.39L70.35 487.88M66.95 487.88L73.75 487.88M79.10 492.00L79.10 489.49M75.70 489.49L82.50 489.49M87.85 492.78L87.85 489.49M84.45 489.49L91.25 489.49M96.60 489.49L96.60 487.88M93.20 487.88L100.00 487.88M105.35 497.79L105.35 495.52M101.95 495.52L108.75 495.52M114.10 495.64L114.10 493.73M110.70 493.73L117.50 493.73M122.85 498.27L122.85 496.12M119.45 496.12L126.25 496.12M131.60 499.41L131.60 497.32M128.20 497.32L135.00 497.32M140.35 499.88L140.35 497.91M136.95 497.91L143.75 497.91M149.10 499.41L149.10 497.32M145.70 497.32L152.50 497.32M157.85 496.72L157.85 494.93M154.45 494.93L161.25 494.93M166.60 496.60L166.60 494.69M163.20 494.69L170.00 494.69M175.35 497.20L175.35 489.01M171.95 489.01L178.75 489.01M184.10 493.37L184.10 479.40M180.70 479.40L187.50 479.40M192.85 490.33L192.85 474.98M189.45 474.98L196.25 474.98M201.60 489.61L201.60 474.98M198.20 474.98L205.00 474.98M210.35 489.07L210.35 469.96M206.95 469.96L213.75 469.96M219.10 482.38L219.10 460.22M215.70 460.22L222.50 460.22M227.85 474.38L227.85 446.90M224.45 446.90L231.25 446.90M236.60 463.39L236.60 425.28M233.20 425.28L240.00 425.28M245.35 463.81L245.35 425.28M241.95 425.28L248.75 425.28M254.10 458.97L254.10 416.80M250.70 416.80L257.50 416.80M262.85 455.21L262.85 408.08M259.45 408.08L266.25 408.08M271.60 453.35L271.60 407.00M268.20 407.00L275.00 407.00M280.35 447.68L280.35 396.19M276.95 396.19L283.75 396.19M289.10 443.32L289.10 386.10M285.70 386.10L292.50 386.10M297.85 442.60L297.85 386.10M294.45 386.10L301.25 386.10M306.60 442.60L306.60 386.10M303.20 386.10L310.00 386.10M315.35 442.60L315.35 386.10M311.95 386.10L318.75 386.10M324.10 442.60L324.10 386.10M320.70 386.10L327.50 386.10' stroke='#00c000' stroke-width='2.1' fill='none'/>
<polyline points='61.60,492.78 70.35,490.39 79.10,492.00 87.85,492.78 96.60,489.49 105.35,497.79 114.10,495.64 122.85,498.27 131.60,499.41 140.35,499.88 149.10,499.41 157.85,496.72 166.60,496.60 175.35,497.20 184.10,493.37 192.85,490.33 201.60,489.61 210.35,489.07 219.10,482.38 227.85,474.38 236.60,463.39 245.35,463.81 254.10,458.97 262.85,455.21 271.60,453.35 280.35,447.68 289.10,443.32 297.85,442.60 306.60,442.60 315.35,442.60 324.10,442.60' stroke='#00c000' stroke-width='1.9' fill='none'/>
<path d='M61.60 496.58L65.40 489.98L57.80 489.98Z' fill='#00c000'/><path d='M70.35 494.19L74.15 487.59L66.55 487.59Z' fill='#00c000'/><path d='M79.10 495.80L82.90 489.20L75.30 489.20Z' fill='#00c000'/><path d='M87.85 496.58L91.65 489.98L84.05 489.98Z' fill='#00c000'/><path d='M96.60 493.29L100.40 486.69L92.80 486.69Z' fill='#00c000'/><path d='M105.35 501.59L109.15 494.99L101.55 494.99Z' fill='#00c000'/><path d='M114.10 499.44L117.90 492.84L110.30 492.84Z' fill='#00c000'/><path d='M122.85 502.07L126.65 495.47L119.05 495.47Z' fill='#00c000'/><path d='M131.60 503.21L135.40 496.61L127.80 496.61Z' fill='#00c000'/><path d='M140.35 503.68L144.15 497.08L136.55 497.08Z' fill='#00c000'/><path d='M149.10 503.21L152.90 496.61L145.30 496.61Z' fill='#00c000'/><path d='M157.85 500.52L161.65 493.92L154.05 493.92Z' fill='#00c000'/><path d='M166.60 500.40L170.40 493.80L162.80 493.80Z' fill='#00c000'/><path d='M175.35 501.00L179.15 494.40L171.55 494.40Z' fill='#00c000'/><path d='M184.10 497.17L187.90 490.57L180.30 490.57Z' fill='#00c000'/><path d='M192.85 494.13L196.65 487.53L189.05 487.53Z' fill='#00c000'/><path d='M201.60 493.41L205.40 486.81L197.80 486.81Z' fill='#00c000'/><path d='M210.35 492.87L214.15 486.27L206.55 486.27Z' fill='#00c000'/><path d='M219.10 486.18L222.90 479.58L215.30 479.58Z' fill='#00c000'/><path d='M227.85 478.18L231.65 471.58L224.05 471.58Z' fill='#00c000'/><path d='M236.60 467.19L240.40 460.59L232.80 460.59Z' fill='#00c000'/><path d='M245.35 467.61L249.15 461.01L241.55 461.01Z' fill='#00c000'/><path d='M254.10 462.77L257.90 456.17L250.30 456.17Z' fill='#00c000'/><path d='M262.85 459.01L266.65 452.41L259.05 452.41Z' fill='#00c000'/><path d='M271.60 457.15L275.40 450.55L267.80 450.55Z' fill='#00c000'/><path d='M280.35 451.48L284.15 444.88L276.55 444.88Z' fill='#00c000'/><path d='M289.10 447.12L292.90 440.52L285.30 440.52Z' fill='#00c000'/><path d='M297.85 446.40L301.65 439.80L294.05 439.80Z' fill='#00c000'/><path d='M306.60 446.40L310.40 439.80L302.80 439.80Z' fill='#00c000'/><path d='M315.35 446.40L319.15 439.80L311.55 439.80Z' fill='#00c000'/><path d='M324.10 446.40L327.90 439.80L320.30 439.80Z' fill='#00c000'/>
<path d='M62 331L78 331' stroke='#000' stroke-width='1.9'/>
<circle cx='70.00' cy='331.00' r='3.20' fill='#000'/>
<text x='86.70' y='335.90' font-size='10.8' text-anchor='start' letter-spacing='2.3' fill='#000' font-weight='bold' >Veh</text>
<path d='M62 347L78 347' stroke='#0000ff' stroke-width='1.9'/>
<rect x='67.00' y='344.00' width='6.00' height='6.00' fill='#0000ff'/>
<text x='86.70' y='351.90' font-size='10.8' text-anchor='start' letter-spacing='2.3' fill='#000' font-weight='bold' >Btz</text>
<path d='M62 363.7L78 363.7' stroke='#ff0000' stroke-width='1.9'/>
<path d='M70.00 359.90L73.80 366.50L66.20 366.50Z' fill='#ff0000'/>
<text x='86.70' y='368.60' font-size='10.8' text-anchor='start' letter-spacing='2.3' fill='#000' font-weight='bold' >TL</text>
<path d='M62 379.5L78 379.5' stroke='#00c000' stroke-width='1.9'/>
<path d='M70.00 383.30L73.80 376.70L66.20 376.70Z' fill='#00c000'/>
<text x='86.70' y='384.40' font-size='10.8' text-anchor='start' letter-spacing='2.3' fill='#000' font-weight='bold' >TL+Btz</text>
<path d='M327.4 403.6L331.3 403.6L331.3 442.4L327.4 442.4' stroke='#7b9fd3' stroke-width='1' fill='none'/>
<path d='M341.1 384L346.1 384L346.1 443L341.1 443' stroke='#7b9fd3' stroke-width='1.1' fill='none'/>
<text x='333.20' y='434.80' font-size='16' text-anchor='start' fill='#000' font-weight='bold' >*</text>
<text x='348.40' y='421.20' font-size='16' text-anchor='start' letter-spacing='-0.1' fill='#000' font-weight='bold' >****</text>
<text x='374.60' y='315.00' font-size='26.8' text-anchor='start' fill='#000' font-weight='bold' >C</text>
<path d='M423.40 320.00L532.08 320.00L532.08 344.06L541.53 344.06L541.53 368.12L552.22 368.12L552.22 392.19L570.76 392.19L570.76 416.25L573.83 416.25L573.83 440.31L643.21 440.31' stroke='#ee4f9f' stroke-width='1.7' fill='none'/>
<path d='M423.40 320.00L532.08 320.00L532.08 339.25L539.69 339.25L539.69 358.50L540.67 358.50L540.67 377.75L551.73 377.75L551.73 397.00L552.95 397.00L552.95 416.25L564.37 416.25L564.37 435.50L565.60 435.50L565.60 454.75L573.83 454.75L573.83 474.00L585.99 474.00L585.99 493.25L587.22 493.25L587.22 512.50L587.22 512.50' stroke='#0000ff' stroke-width='1.9' fill='none'/>
<path d='M423.40 320.00L489.59 320.00L489.59 339.25L491.19 339.25L491.19 358.50L492.66 358.50L492.66 377.75L500.52 377.75L500.52 397.00L504.08 397.00L504.08 435.50L509.24 435.50L509.24 454.75L514.27 454.75L514.27 474.00L521.89 474.00L521.89 493.25L523.73 493.25L523.73 512.50L523.73 512.50' stroke='#f04040' stroke-width='1.6' fill='none'/>
<path d='M423.40 320.00L489.59 320.00L489.59 339.25L491.19 339.25L491.19 358.50L496.96 358.50L496.96 377.75L498.31 377.75L498.31 397.00L499.04 397.00L499.04 416.25L509.24 416.25L509.24 454.75L514.27 454.75L514.27 474.00L520.66 474.00L520.66 493.25L521.89 493.25L521.89 512.50L521.89 512.50' stroke='#000' stroke-width='1.7' fill='none'/>
<path d='M423.4 319.9L668.7 319.9L668.7 512.5M423.4 319.1L423.4 513.3M422.6 512.5L669.5 512.5' stroke='#000' stroke-width='1.7' fill='none'/>
<path d='M419 512.50L423.4 512.50M419 474.00L423.4 474.00M419 435.50L423.4 435.50M419 397.00L423.4 397.00M419 358.50L423.4 358.50M419 320.00L423.4 320.00M423.40 512.5L423.40 517M484.80 512.5L484.80 517M546.20 512.5L546.20 517M607.60 512.5L607.60 517M669.00 512.5L669.00 517' stroke='#000' stroke-width='1.5'/>
<text x='416.80' y='515.20' font-size='7.5' text-anchor='end' letter-spacing='0.9' fill='#000' font-weight='bold' >0</text>
<text x='416.80' y='476.70' font-size='7.5' text-anchor='end' letter-spacing='0.9' fill='#000' font-weight='bold' >20</text>
<text x='416.80' y='438.20' font-size='7.5' text-anchor='end' letter-spacing='0.9' fill='#000' font-weight='bold' >40</text>
<text x='416.80' y='399.70' font-size='7.5' text-anchor='end' letter-spacing='0.9' fill='#000' font-weight='bold' >60</text>
<text x='416.80' y='361.20' font-size='7.5' text-anchor='end' letter-spacing='0.9' fill='#000' font-weight='bold' >80</text>
<text x='416.80' y='322.70' font-size='7.5' text-anchor='end' letter-spacing='0.9' fill='#000' font-weight='bold' >100</text>
<text x='423.90' y='528.00' font-size='7.5' text-anchor='middle' letter-spacing='0.9' fill='#000' font-weight='bold' >0</text>
<text x='485.30' y='528.00' font-size='7.5' text-anchor='middle' letter-spacing='0.9' fill='#000' font-weight='bold' >50</text>
<text x='546.70' y='528.00' font-size='7.5' text-anchor='middle' letter-spacing='0.9' fill='#000' font-weight='bold' >100</text>
<text x='608.10' y='528.00' font-size='7.5' text-anchor='middle' letter-spacing='0.9' fill='#000' font-weight='bold' >150</text>
<text x='669.50' y='528.00' font-size='7.5' text-anchor='middle' letter-spacing='0.9' fill='#000' font-weight='bold' >200</text>
<path d='M441.7 513.8L445.3 519.6L438.09999999999997 519.6Z' fill='#000'/>
<path d='M478.5 513.8L482.1 519.6L474.9 519.6Z' fill='#000'/>
<text transform='translate(395.5,416) rotate(-90)' font-size='10' text-anchor='middle' letter-spacing='1.9' font-weight='bold'>Survival rate (%)</text>
<text x='546.00' y='546.40' font-size='10' text-anchor='middle' letter-spacing='1.6' fill='#000' font-weight='bold' >Days post cell injection</text>
<path d='M577.3 334.3L591.6 334.3' stroke='#000' stroke-width='1.8'/>
<text x='600.30' y='338.20' font-size='10' text-anchor='start' letter-spacing='2.35' fill='#000' font-weight='bold' >Veh</text>
<path d='M577.3 350.4L591.6 350.4' stroke='#0000ff' stroke-width='1.8'/>
<text x='600.30' y='354.30' font-size='10' text-anchor='start' letter-spacing='2.35' fill='#000' font-weight='bold' >Btz</text>
<path d='M577.3 366.4L591.6 366.4' stroke='#f04040' stroke-width='1.8'/>
<text x='600.30' y='370.30' font-size='10' text-anchor='start' letter-spacing='2.35' fill='#000' font-weight='bold' >TL</text>
<path d='M577.3 382.9L591.6 382.9' stroke='#ee4f9f' stroke-width='1.8'/>
<text x='600.30' y='386.80' font-size='10' text-anchor='start' letter-spacing='2.35' fill='#000' font-weight='bold' >TL+Btz</text>
<text x='432.00' y='445.30' font-size='9' text-anchor='start' letter-spacing='1.3' fill='#000' font-weight='bold' >Median</text>
<text x='432.00' y='461.00' font-size='9' text-anchor='start' letter-spacing='1.3' fill='#000' font-weight='bold' >Veh: 66</text>
<text x='432.00' y='474.20' font-size='9' text-anchor='start' letter-spacing='1.3' fill='#000' font-weight='bold' >Btz: 110.5</text>
<text x='432.00' y='487.00' font-size='9' text-anchor='start' letter-spacing='1.3' fill='#000' font-weight='bold' >TL: 66.5</text>
<text x='432.00' y='500.20' font-size='9' text-anchor='start' letter-spacing='1.3' fill='#000' font-weight='bold' >TL+Btz: 121.5</text>
<path d='M647 452.8L652.4 452.8L652.4 507.2L647 507.2' stroke='#000' stroke-width='1.6' fill='none'/>
<text x='589.80' y='484.80' font-size='15' text-anchor='start' fill='#000' font-weight='bold' >**</text>
<text x='604.50' y='485.50' font-size='10' text-anchor='start' letter-spacing='1.75' fill='#000' font-weight='bold' >P&lt;0.01</text>
<text x='-0.80' y='582.90' font-size='26.8' text-anchor='start' fill='#000' font-weight='bold' >D</text>
<defs><filter id='bl' x='-20%' y='-100%' width='140%' height='300%'><feGaussianBlur stdDeviation='0.6'/></filter></defs>
<text x='124.20' y='596.30' font-size='14' text-anchor='middle' fill='#000' font-weight='bold' >TL</text>
<text x='124.20' y='622.50' font-size='14' text-anchor='middle' fill='#000' font-weight='bold' >Btz</text>
<rect x='156.0' y='590.2' width='7.2' height='2' fill='#000'/>
<rect x='179.0' y='590.2' width='7.2' height='2' fill='#000'/>
<rect x='201.4' y='591.4' width='7.2' height='2' fill='#000'/><rect x='204.0' y='588.8' width='2' height='7.2' fill='#000'/>
<rect x='222.3' y='591.4' width='7.2' height='2' fill='#000'/><rect x='224.9' y='588.8' width='2' height='7.2' fill='#000'/>
<rect x='156.0' y='615.7' width='7.2' height='2' fill='#000'/>
<rect x='179.0' y='617.0' width='7.2' height='2' fill='#000'/><rect x='181.6' y='614.4' width='2' height='7.2' fill='#000'/>
<rect x='201.4' y='615.7' width='7.2' height='2' fill='#000'/>
<rect x='222.3' y='617.0' width='7.2' height='2' fill='#000'/><rect x='224.9' y='614.4' width='2' height='7.2' fill='#000'/>
<rect x='147.6' y='629.8' width='88.6' height='21.2' fill='#d2d2d2' stroke='#111' stroke-width='1.3'/>
<rect x='147.6' y='655.7' width='88.6' height='21.2' fill='#d6d6d6' stroke='#111' stroke-width='1.3'/>
<rect x='147.6' y='682.2' width='88.6' height='22.8' fill='#dedede' stroke='#111' stroke-width='1.3'/>
<rect x='147.6' y='709.5' width='88.6' height='22.5' fill='#ececec' stroke='#111' stroke-width='1.3'/>
<rect x='147.6' y='738.1' width='88.6' height='17.5' fill='#dadada' stroke='#111' stroke-width='1.3'/>
<rect x='195.40' y='638.80' width='14.90' height='1.80' rx='0.90' fill='#444' opacity='0.8' filter='url(#bl)'/>
<rect x='215.80' y='637.60' width='17.30' height='4.80' rx='2.40' fill='#000' opacity='1' filter='url(#bl)'/>
<rect x='151.60' y='666.80' width='14.90' height='1.60' rx='0.80' fill='#444' opacity='0.75' filter='url(#bl)'/>
<rect x='173.70' y='666.00' width='14.50' height='2.00' rx='1.00' fill='#222' opacity='0.85' filter='url(#bl)'/>
<rect x='152.50' y='688.00' width='17.70' height='3.80' rx='1.90' fill='#111' opacity='1' filter='url(#bl)'/>
<rect x='152.50' y='694.80' width='17.70' height='3.00' rx='1.50' fill='#111' opacity='0.95' filter='url(#bl)'/>
<rect x='174.50' y='688.00' width='16.50' height='3.80' rx='1.90' fill='#111' opacity='1' filter='url(#bl)'/>
<rect x='174.50' y='694.80' width='16.50' height='3.00' rx='1.50' fill='#111' opacity='0.95' filter='url(#bl)'/>
<rect x='194.60' y='688.00' width='15.70' height='3.80' rx='1.90' fill='#111' opacity='0.6' filter='url(#bl)'/>
<rect x='194.60' y='694.80' width='15.70' height='3.00' rx='1.50' fill='#111' opacity='0.9' filter='url(#bl)'/>
<circle cx='218.5' cy='690' r='0.8' fill='#999'/><circle cx='218.5' cy='696' r='0.8' fill='#aaa'/>
<circle cx='228.5' cy='690' r='0.8' fill='#999'/><circle cx='228.5' cy='696' r='0.8' fill='#aaa'/>
<rect x='150.90' y='720.80' width='16.60' height='2.40' rx='1.20' fill='#111' opacity='0.9' filter='url(#bl)'/>
<rect x='172.90' y='720.60' width='15.30' height='2.80' rx='1.40' fill='#111' opacity='1' filter='url(#bl)'/>
<rect x='195.40' y='721.00' width='14.90' height='2.00' rx='1.00' fill='#111' opacity='0.8' filter='url(#bl)'/>
<rect x='216.00' y='720.80' width='16.00' height='2.40' rx='1.20' fill='#111' opacity='0.9' filter='url(#bl)'/>
<rect x='150.60' y='743.20' width='18.30' height='6.80' rx='3.00' fill='#000' opacity='1' filter='url(#bl)'/>
<rect x='171.80' y='743.20' width='17.70' height='6.80' rx='3.00' fill='#000' opacity='1' filter='url(#bl)'/>
<rect x='193.30' y='743.20' width='17.70' height='6.80' rx='3.00' fill='#000' opacity='1' filter='url(#bl)'/>
<rect x='214.80' y='743.20' width='18.50' height='6.80' rx='3.00' fill='#000' opacity='1' filter='url(#bl)'/>
<text x='128.00' y='645.40' font-size='11.9' text-anchor='end' fill='#000' font-weight='bold' >c-PARP</text>
<text x='128.00' y='671.00' font-size='11.9' text-anchor='end' fill='#000' font-weight='bold' >cIAP1</text>
<text x='128.00' y='692.90' font-size='11.9' text-anchor='end' fill='#000' font-weight='bold' >cIAP2</text>
<text x='128.00' y='724.30' font-size='11.9' text-anchor='end' fill='#000' font-weight='bold' >p52</text>
<text x='128.00' y='750.30' font-size='11.9' text-anchor='end' fill='#000' font-weight='bold' >β-actin</text>
<path d='M131.8 641.2L140.5 641.2' stroke='#000' stroke-width='1.6'/><path d='M145.6 641.2L139.3 637.9000000000001L139.3 644.5Z' fill='#000'/>
<path d='M131.8 667.2L140.5 667.2' stroke='#000' stroke-width='1.6'/><path d='M145.6 667.2L139.3 663.9000000000001L139.3 670.5Z' fill='#000'/>
<path d='M131.8 688.6L140.5 688.6' stroke='#000' stroke-width='1.6'/><path d='M145.6 688.6L139.3 685.3000000000001L139.3 691.9Z' fill='#000'/>
<path d='M131.8 720.2L140.5 720.2' stroke='#000' stroke-width='1.6'/><path d='M145.6 720.2L139.3 716.9000000000001L139.3 723.5Z' fill='#000'/>
<path d='M131.8 746.5L140.5 746.5' stroke='#000' stroke-width='1.6'/><path d='M145.6 746.5L139.3 743.2L139.3 749.8Z' fill='#000'/>
<text x='141.80' y='705.60' font-size='12.5' text-anchor='middle' fill='#000' font-weight='bold' >*</text>
<text x='129.30' y='772.30' font-size='10.7' text-anchor='end' fill='#000' font-weight='bold' >p52/β-actin</text>
<text x='160.70' y='771.60' font-size='11.2' text-anchor='middle' fill='#000' font-weight='bold' >1.0</text>
<text x='182.60' y='771.60' font-size='11.2' text-anchor='middle' fill='#000' font-weight='bold' >1.1</text>
<text x='202.70' y='771.60' font-size='11.2' text-anchor='middle' fill='#000' font-weight='bold' >0.5</text>
<text x='225.30' y='771.60' font-size='11.2' text-anchor='middle' fill='#000' font-weight='bold' >0.5</text>
<text x='336.20' y='583.00' font-size='25.8' text-anchor='start' fill='#000' font-weight='bold' >E</text>
<path d='M406.7 626.3L412.7 626.3M406.7 643.0L412.7 643.0M409.7 626.3L409.7 643.0M415.8 622.7L421.8 622.7M415.8 637.0L421.8 637.0M418.8 622.7L418.8 637.0M425.0 613.3L431.0 613.3M425.0 627.0L431.0 627.0M428.0 613.3L428.0 627.0M434.1 617.0L440.1 617.0M434.1 635.1L440.1 635.1M437.1 617.0L437.1 635.1M443.3 613.6L449.3 613.6M443.3 628.8L449.3 628.8M446.3 613.6L446.3 628.8M452.4 613.5L458.4 613.5M452.4 632.1L458.4 632.1M455.4 613.5L455.4 632.1M461.6 611.0L467.6 611.0M461.6 629.3L467.6 629.3M464.6 611.0L464.6 629.3M470.8 613.5L476.8 613.5M470.8 628.9L476.8 628.9M473.8 613.5L473.8 628.9M479.9 612.2L485.9 612.2M479.9 628.1L485.9 628.1M482.9 612.2L482.9 628.1M489.1 613.6L495.1 613.6M489.1 629.9L495.1 629.9M492.1 613.6L492.1 629.9M498.2 608.4L504.2 608.4M498.2 625.4L504.2 625.4M501.2 608.4L501.2 625.4M507.4 611.3L513.4 611.3M507.4 627.9L513.4 627.9M510.4 611.3L510.4 627.9M516.5 609.7L522.5 609.7M516.5 626.2L522.5 626.2M519.5 609.7L519.5 626.2M525.6 609.6L531.6 609.6M525.6 626.4L531.6 626.4M528.6 609.6L528.6 626.4M534.8 606.6L540.8 606.6M534.8 625.1L540.8 625.1M537.8 606.6L537.8 625.1M544.0 603.2L550.0 603.2M544.0 630.6L550.0 630.6M547.0 603.2L547.0 630.6M553.1 599.9L559.1 599.9M553.1 627.4L559.1 627.4M556.1 599.9L556.1 627.4M562.2 603.4L568.2 603.4M562.2 620.7L568.2 620.7M565.2 603.4L565.2 620.7M571.4 599.8L577.4 599.8M571.4 614.6L577.4 614.6M574.4 599.8L574.4 614.6M580.5 604.5L586.5 604.5M580.5 619.6L586.5 619.6M583.5 604.5L583.5 619.6M589.7 600.0L595.7 600.0M589.7 618.7L595.7 618.7M592.7 600.0L592.7 618.7M598.9 601.2L604.9 601.2M598.9 617.5L604.9 617.5M601.9 601.2L601.9 617.5M608.0 598.5L614.0 598.5M608.0 614.9L614.0 614.9M611.0 598.5L611.0 614.9M617.1 604.2L623.1 604.2M617.1 617.7L623.1 617.7M620.1 604.2L620.1 617.7M626.3 603.7L632.3 603.7M626.3 619.4L632.3 619.4M629.3 603.7L629.3 619.4M635.5 597.8L641.5 597.8M635.5 614.4L641.5 614.4M638.5 597.8L638.5 614.4M644.6 600.4L650.6 600.4M644.6 614.0L650.6 614.0M647.6 600.4L647.6 614.0M653.8 596.1L659.8 596.1M653.8 612.9L659.8 612.9M656.8 596.1L656.8 612.9M662.9 595.6L668.9 595.6M662.9 612.4L668.9 612.4M665.9 595.6L665.9 612.4M672.0 596.0L678.0 596.0M672.0 609.8L678.0 609.8M675.0 596.0L675.0 609.8' stroke='#222' stroke-width='1'/>
<polyline points='409.70,630.08 418.85,619.85 428.00,619.74 437.15,624.90 446.30,619.99 455.45,623.41 464.60,620.89 473.75,619.30 482.90,620.09 492.05,621.79 501.20,614.49 510.35,618.87 519.50,616.08 528.65,617.24 537.80,614.56 546.95,617.22 556.10,612.42 565.25,610.06 574.40,606.33 583.55,610.47 592.70,608.00 601.85,609.96 611.00,605.03 620.15,609.88 629.30,611.35 638.45,606.84 647.60,605.22 656.75,603.80 665.90,602.47 675.05,600.88' stroke='#000' stroke-width='1.5' fill='none'/>
<rect x='405.90' y='626.28' width='7.6' height='7.6' fill='#888' stroke='#000' stroke-width='1'/><rect x='415.05' y='616.05' width='7.6' height='7.6' fill='#888' stroke='#000' stroke-width='1'/><rect x='424.20' y='615.94' width='7.6' height='7.6' fill='#888' stroke='#000' stroke-width='1'/><rect x='433.35' y='621.10' width='7.6' height='7.6' fill='#888' stroke='#000' stroke-width='1'/><rect x='442.50' y='616.19' width='7.6' height='7.6' fill='#888' stroke='#000' stroke-width='1'/><rect x='451.65' y='619.61' width='7.6' height='7.6' fill='#888' stroke='#000' stroke-width='1'/><rect x='460.80' y='617.09' width='7.6' height='7.6' fill='#888' stroke='#000' stroke-width='1'/><rect x='469.95' y='615.50' width='7.6' height='7.6' fill='#888' stroke='#000' stroke-width='1'/><rect x='479.10' y='616.29' width='7.6' height='7.6' fill='#888' stroke='#000' stroke-width='1'/><rect x='488.25' y='617.99' width='7.6' height='7.6' fill='#888' stroke='#000' stroke-width='1'/><rect x='497.40' y='610.69' width='7.6' height='7.6' fill='#888' stroke='#000' stroke-width='1'/><rect x='506.55' y='615.07' width='7.6' height='7.6' fill='#888' stroke='#000' stroke-width='1'/><rect x='515.70' y='612.28' width='7.6' height='7.6' fill='#888' stroke='#000' stroke-width='1'/><rect x='524.85' y='613.44' width='7.6' height='7.6' fill='#888' stroke='#000' stroke-width='1'/><rect x='534.00' y='610.76' width='7.6' height='7.6' fill='#888' stroke='#000' stroke-width='1'/><rect x='543.15' y='613.42' width='7.6' height='7.6' fill='#888' stroke='#000' stroke-width='1'/><rect x='552.30' y='608.62' width='7.6' height='7.6' fill='#888' stroke='#000' stroke-width='1'/><rect x='561.45' y='606.26' width='7.6' height='7.6' fill='#888' stroke='#000' stroke-width='1'/><rect x='570.60' y='602.53' width='7.6' height='7.6' fill='#888' stroke='#000' stroke-width='1'/><rect x='579.75' y='606.67' width='7.6' height='7.6' fill='#888' stroke='#000' stroke-width='1'/><rect x='588.90' y='604.20' width='7.6' height='7.6' fill='#888' stroke='#000' stroke-width='1'/><rect x='598.05' y='606.16' width='7.6' height='7.6' fill='#888' stroke='#000' stroke-width='1'/><rect x='607.20' y='601.23' width='7.6' height='7.6' fill='#888' stroke='#000' stroke-width='1'/><rect x='616.35' y='606.08' width='7.6' height='7.6' fill='#888' stroke='#000' stroke-width='1'/><rect x='625.50' y='607.55' width='7.6' height='7.6' fill='#888' stroke='#000' stroke-width='1'/><rect x='634.65' y='603.04' width='7.6' height='7.6' fill='#888' stroke='#000' stroke-width='1'/><rect x='643.80' y='601.42' width='7.6' height='7.6' fill='#888' stroke='#000' stroke-width='1'/><rect x='652.95' y='600.00' width='7.6' height='7.6' fill='#888' stroke='#000' stroke-width='1'/><rect x='662.10' y='598.67' width='7.6' height='7.6' fill='#888' stroke='#000' stroke-width='1'/><rect x='671.25' y='597.08' width='7.6' height='7.6' fill='#888' stroke='#000' stroke-width='1'/>
<polyline points='409.70,634.38 418.85,628.76 428.00,621.06 437.15,625.45 446.30,621.95 455.45,621.71 464.60,619.23 473.75,623.25 482.90,622.03 492.05,623.34 501.20,615.68 510.35,620.36 519.50,618.03 528.65,619.26 537.80,616.33 546.95,617.86 556.10,614.77 565.25,612.27 574.40,607.43 583.55,611.07 592.70,609.22 601.85,608.29 611.00,605.87 620.15,609.67 629.30,611.41 638.45,607.94 647.60,606.39 656.75,603.31 665.90,603.00 675.05,603.18' stroke='#3535b0' stroke-width='1.5' fill='none'/>
<path d='M409.70 629.88L414.00 637.38L405.40 637.38Z' fill='#3030c0' stroke='#000' stroke-width='0.9'/><path d='M418.85 624.26L423.15 631.76L414.55 631.76Z' fill='#3030c0' stroke='#000' stroke-width='0.9'/><path d='M428.00 616.56L432.30 624.06L423.70 624.06Z' fill='#3030c0' stroke='#000' stroke-width='0.9'/><path d='M437.15 620.95L441.45 628.45L432.85 628.45Z' fill='#3030c0' stroke='#000' stroke-width='0.9'/><path d='M446.30 617.45L450.60 624.95L442.00 624.95Z' fill='#3030c0' stroke='#000' stroke-width='0.9'/><path d='M455.45 617.21L459.75 624.71L451.15 624.71Z' fill='#3030c0' stroke='#000' stroke-width='0.9'/><path d='M464.60 614.73L468.90 622.23L460.30 622.23Z' fill='#3030c0' stroke='#000' stroke-width='0.9'/><path d='M473.75 618.75L478.05 626.25L469.45 626.25Z' fill='#3030c0' stroke='#000' stroke-width='0.9'/><path d='M482.90 617.53L487.20 625.03L478.60 625.03Z' fill='#3030c0' stroke='#000' stroke-width='0.9'/><path d='M492.05 618.84L496.35 626.34L487.75 626.34Z' fill='#3030c0' stroke='#000' stroke-width='0.9'/><path d='M501.20 611.18L505.50 618.68L496.90 618.68Z' fill='#3030c0' stroke='#000' stroke-width='0.9'/><path d='M510.35 615.86L514.65 623.36L506.05 623.36Z' fill='#3030c0' stroke='#000' stroke-width='0.9'/><path d='M519.50 613.53L523.80 621.03L515.20 621.03Z' fill='#3030c0' stroke='#000' stroke-width='0.9'/><path d='M528.65 614.76L532.95 622.26L524.35 622.26Z' fill='#3030c0' stroke='#000' stroke-width='0.9'/><path d='M537.80 611.83L542.10 619.33L533.50 619.33Z' fill='#3030c0' stroke='#000' stroke-width='0.9'/><path d='M546.95 613.36L551.25 620.86L542.65 620.86Z' fill='#3030c0' stroke='#000' stroke-width='0.9'/><path d='M556.10 610.27L560.40 617.77L551.80 617.77Z' fill='#3030c0' stroke='#000' stroke-width='0.9'/><path d='M565.25 607.77L569.55 615.27L560.95 615.27Z' fill='#3030c0' stroke='#000' stroke-width='0.9'/><path d='M574.40 602.93L578.70 610.43L570.10 610.43Z' fill='#3030c0' stroke='#000' stroke-width='0.9'/><path d='M583.55 606.57L587.85 614.07L579.25 614.07Z' fill='#3030c0' stroke='#000' stroke-width='0.9'/><path d='M592.70 604.72L597.00 612.22L588.40 612.22Z' fill='#3030c0' stroke='#000' stroke-width='0.9'/><path d='M601.85 603.79L606.15 611.29L597.55 611.29Z' fill='#3030c0' stroke='#000' stroke-width='0.9'/><path d='M611.00 601.37L615.30 608.87L606.70 608.87Z' fill='#3030c0' stroke='#000' stroke-width='0.9'/><path d='M620.15 605.17L624.45 612.67L615.85 612.67Z' fill='#3030c0' stroke='#000' stroke-width='0.9'/><path d='M629.30 606.91L633.60 614.41L625.00 614.41Z' fill='#3030c0' stroke='#000' stroke-width='0.9'/><path d='M638.45 603.44L642.75 610.94L634.15 610.94Z' fill='#3030c0' stroke='#000' stroke-width='0.9'/><path d='M647.60 601.89L651.90 609.39L643.30 609.39Z' fill='#3030c0' stroke='#000' stroke-width='0.9'/><path d='M656.75 598.81L661.05 606.31L652.45 606.31Z' fill='#3030c0' stroke='#000' stroke-width='0.9'/><path d='M665.90 598.50L670.20 606.00L661.60 606.00Z' fill='#3030c0' stroke='#000' stroke-width='0.9'/><path d='M675.05 598.68L679.35 606.18L670.75 606.18Z' fill='#3030c0' stroke='#000' stroke-width='0.9'/>
<polyline points='409.70,631.69 418.85,622.54 428.00,622.01 437.15,627.92 446.30,624.16 455.45,626.61 464.60,620.94 473.75,621.51 482.90,623.82 492.05,622.76 501.20,619.38 510.35,623.05 519.50,620.90 528.65,619.11 537.80,616.57 546.95,620.76 556.10,615.39 565.25,615.92 574.40,608.54 583.55,614.84 592.70,610.08 601.85,609.70 611.00,608.80 620.15,611.25 629.30,614.38 638.45,609.88 647.60,608.99 656.75,608.44 665.90,607.27 675.05,605.41' stroke='#ff0000' stroke-width='1.5' fill='none'/>
<rect x='405.70' y='627.69' width='8' height='8' fill='#ff0000' stroke='#000' stroke-width='1'/><rect x='414.85' y='618.54' width='8' height='8' fill='#ff0000' stroke='#000' stroke-width='1'/><rect x='424.00' y='618.01' width='8' height='8' fill='#ff0000' stroke='#000' stroke-width='1'/><rect x='433.15' y='623.92' width='8' height='8' fill='#ff0000' stroke='#000' stroke-width='1'/><rect x='442.30' y='620.16' width='8' height='8' fill='#ff0000' stroke='#000' stroke-width='1'/><rect x='451.45' y='622.61' width='8' height='8' fill='#ff0000' stroke='#000' stroke-width='1'/><rect x='460.60' y='616.94' width='8' height='8' fill='#ff0000' stroke='#000' stroke-width='1'/><rect x='469.75' y='617.51' width='8' height='8' fill='#ff0000' stroke='#000' stroke-width='1'/><rect x='478.90' y='619.82' width='8' height='8' fill='#ff0000' stroke='#000' stroke-width='1'/><rect x='488.05' y='618.76' width='8' height='8' fill='#ff0000' stroke='#000' stroke-width='1'/><rect x='497.20' y='615.38' width='8' height='8' fill='#ff0000' stroke='#000' stroke-width='1'/><rect x='506.35' y='619.05' width='8' height='8' fill='#ff0000' stroke='#000' stroke-width='1'/><rect x='515.50' y='616.90' width='8' height='8' fill='#ff0000' stroke='#000' stroke-width='1'/><rect x='524.65' y='615.11' width='8' height='8' fill='#ff0000' stroke='#000' stroke-width='1'/><rect x='533.80' y='612.57' width='8' height='8' fill='#ff0000' stroke='#000' stroke-width='1'/><rect x='542.95' y='616.76' width='8' height='8' fill='#ff0000' stroke='#000' stroke-width='1'/><rect x='552.10' y='611.39' width='8' height='8' fill='#ff0000' stroke='#000' stroke-width='1'/><rect x='561.25' y='611.92' width='8' height='8' fill='#ff0000' stroke='#000' stroke-width='1'/><rect x='570.40' y='604.54' width='8' height='8' fill='#ff0000' stroke='#000' stroke-width='1'/><rect x='579.55' y='610.84' width='8' height='8' fill='#ff0000' stroke='#000' stroke-width='1'/><rect x='588.70' y='606.08' width='8' height='8' fill='#ff0000' stroke='#000' stroke-width='1'/><rect x='597.85' y='605.70' width='8' height='8' fill='#ff0000' stroke='#000' stroke-width='1'/><rect x='607.00' y='604.80' width='8' height='8' fill='#ff0000' stroke='#000' stroke-width='1'/><rect x='616.15' y='607.25' width='8' height='8' fill='#ff0000' stroke='#000' stroke-width='1'/><rect x='625.30' y='610.38' width='8' height='8' fill='#ff0000' stroke='#000' stroke-width='1'/><rect x='634.45' y='605.88' width='8' height='8' fill='#ff0000' stroke='#000' stroke-width='1'/><rect x='643.60' y='604.99' width='8' height='8' fill='#ff0000' stroke='#000' stroke-width='1'/><rect x='652.75' y='604.44' width='8' height='8' fill='#ff0000' stroke='#000' stroke-width='1'/><rect x='661.90' y='603.27' width='8' height='8' fill='#ff0000' stroke='#000' stroke-width='1'/><rect x='671.05' y='601.41' width='8' height='8' fill='#ff0000' stroke='#000' stroke-width='1'/>
<polyline points='409.70,633.30 418.85,628.46 428.00,618.78 437.15,624.70 446.30,619.85 455.45,621.47 464.60,618.78 473.75,619.85 482.90,618.78 492.05,620.39 501.20,615.55 510.35,618.24 519.50,616.63 528.65,616.63 537.80,614.47 546.95,615.55 556.10,612.32 565.25,610.71 574.40,605.87 583.55,610.71 592.70,608.02 601.85,608.02 611.00,605.33 620.15,609.63 629.30,610.17 638.45,604.79 647.60,605.87 656.75,603.18 665.90,602.64 675.05,601.56' stroke='#c040d0' stroke-width='1.5' fill='none'/>
<path d='M409.70 628.70L414.30 633.30L409.70 637.90L405.10 633.30Z' fill='#c040d0' stroke='#000' stroke-width='0.9'/><path d='M418.85 623.86L423.45 628.46L418.85 633.06L414.25 628.46Z' fill='#c040d0' stroke='#000' stroke-width='0.9'/><path d='M428.00 614.18L432.60 618.78L428.00 623.38L423.40 618.78Z' fill='#c040d0' stroke='#000' stroke-width='0.9'/><path d='M437.15 620.10L441.75 624.70L437.15 629.30L432.55 624.70Z' fill='#c040d0' stroke='#000' stroke-width='0.9'/><path d='M446.30 615.25L450.90 619.85L446.30 624.45L441.70 619.85Z' fill='#c040d0' stroke='#000' stroke-width='0.9'/><path d='M455.45 616.87L460.05 621.47L455.45 626.07L450.85 621.47Z' fill='#c040d0' stroke='#000' stroke-width='0.9'/><path d='M464.60 614.18L469.20 618.78L464.60 623.38L460.00 618.78Z' fill='#c040d0' stroke='#000' stroke-width='0.9'/><path d='M473.75 615.25L478.35 619.85L473.75 624.45L469.15 619.85Z' fill='#c040d0' stroke='#000' stroke-width='0.9'/><path d='M482.90 614.18L487.50 618.78L482.90 623.38L478.30 618.78Z' fill='#c040d0' stroke='#000' stroke-width='0.9'/><path d='M492.05 615.79L496.65 620.39L492.05 624.99L487.45 620.39Z' fill='#c040d0' stroke='#000' stroke-width='0.9'/><path d='M501.20 610.95L505.80 615.55L501.20 620.15L496.60 615.55Z' fill='#c040d0' stroke='#000' stroke-width='0.9'/><path d='M510.35 613.64L514.95 618.24L510.35 622.84L505.75 618.24Z' fill='#c040d0' stroke='#000' stroke-width='0.9'/><path d='M519.50 612.03L524.10 616.63L519.50 621.23L514.90 616.63Z' fill='#c040d0' stroke='#000' stroke-width='0.9'/><path d='M528.65 612.03L533.25 616.63L528.65 621.23L524.05 616.63Z' fill='#c040d0' stroke='#000' stroke-width='0.9'/><path d='M537.80 609.87L542.40 614.47L537.80 619.07L533.20 614.47Z' fill='#c040d0' stroke='#000' stroke-width='0.9'/><path d='M546.95 610.95L551.55 615.55L546.95 620.15L542.35 615.55Z' fill='#c040d0' stroke='#000' stroke-width='0.9'/><path d='M556.10 607.72L560.70 612.32L556.10 616.92L551.50 612.32Z' fill='#c040d0' stroke='#000' stroke-width='0.9'/><path d='M565.25 606.11L569.85 610.71L565.25 615.31L560.65 610.71Z' fill='#c040d0' stroke='#000' stroke-width='0.9'/><path d='M574.40 601.27L579.00 605.87L574.40 610.47L569.80 605.87Z' fill='#c040d0' stroke='#000' stroke-width='0.9'/><path d='M583.55 606.11L588.15 610.71L583.55 615.31L578.95 610.71Z' fill='#c040d0' stroke='#000' stroke-width='0.9'/><path d='M592.70 603.42L597.30 608.02L592.70 612.62L588.10 608.02Z' fill='#c040d0' stroke='#000' stroke-width='0.9'/><path d='M601.85 603.42L606.45 608.02L601.85 612.62L597.25 608.02Z' fill='#c040d0' stroke='#000' stroke-width='0.9'/><path d='M611.00 600.73L615.60 605.33L611.00 609.93L606.40 605.33Z' fill='#c040d0' stroke='#000' stroke-width='0.9'/><path d='M620.15 605.03L624.75 609.63L620.15 614.23L615.55 609.63Z' fill='#c040d0' stroke='#000' stroke-width='0.9'/><path d='M629.30 605.57L633.90 610.17L629.30 614.77L624.70 610.17Z' fill='#c040d0' stroke='#000' stroke-width='0.9'/><path d='M638.45 600.19L643.05 604.79L638.45 609.39L633.85 604.79Z' fill='#c040d0' stroke='#000' stroke-width='0.9'/><path d='M647.60 601.27L652.20 605.87L647.60 610.47L643.00 605.87Z' fill='#c040d0' stroke='#000' stroke-width='0.9'/><path d='M656.75 598.58L661.35 603.18L656.75 607.78L652.15 603.18Z' fill='#c040d0' stroke='#000' stroke-width='0.9'/><path d='M665.90 598.04L670.50 602.64L665.90 607.24L661.30 602.64Z' fill='#c040d0' stroke='#000' stroke-width='0.9'/><path d='M675.05 596.96L679.65 601.56L675.05 606.16L670.45 601.56Z' fill='#c040d0' stroke='#000' stroke-width='0.9'/>
<path d='M404.3 575.1L678.9 575.1' stroke='#808080' stroke-width='1.4'/>
<path d='M678.9 574.5L678.9 737.3' stroke='#444' stroke-width='1.5'/>
<path d='M404.3 574.4L404.3 737.3M403.6 736.6L679.6 736.6' stroke='#808080' stroke-width='1.4'/>
<path d='M398.7 736.60L404.3 736.60M398.7 709.70L404.3 709.70M398.7 682.80L404.3 682.80M398.7 655.90L404.3 655.90M398.7 629.00L404.3 629.00M398.7 602.10L404.3 602.10M398.7 575.20L404.3 575.20M409.70 736.6L409.70 740M418.85 736.6L418.85 740M428.00 736.6L428.00 740M437.15 736.6L437.15 740M446.30 736.6L446.30 740M455.45 736.6L455.45 740M464.60 736.6L464.60 740M473.75 736.6L473.75 740M482.90 736.6L482.90 740M492.05 736.6L492.05 740M501.20 736.6L501.20 740M510.35 736.6L510.35 740M519.50 736.6L519.50 740M528.65 736.6L528.65 740M537.80 736.6L537.80 740M546.95 736.6L546.95 740M556.10 736.6L556.10 740M565.25 736.6L565.25 740M574.40 736.6L574.40 740M583.55 736.6L583.55 740M592.70 736.6L592.70 740M601.85 736.6L601.85 740M611.00 736.6L611.00 740M620.15 736.6L620.15 740M629.30 736.6L629.30 740M638.45 736.6L638.45 740M647.60 736.6L647.60 740M656.75 736.6L656.75 740M665.90 736.6L665.90 740M675.05 736.6L675.05 740' stroke='#808080' stroke-width='1.2'/>
<text transform='translate(388.3,743.50) scale(1,1)' font-size='19.3' text-anchor='end' font-weight='bold'>0</text>
<text transform='translate(388.3,716.60) scale(1,1)' font-size='19.3' text-anchor='end' font-weight='bold'>5</text>
<text transform='translate(388.3,689.70) scale(1,1)' font-size='19.3' text-anchor='end' font-weight='bold'>10</text>
<text transform='translate(388.3,662.80) scale(1,1)' font-size='19.3' text-anchor='end' font-weight='bold'>15</text>
<text transform='translate(388.3,635.90) scale(1,1)' font-size='19.3' text-anchor='end' font-weight='bold'>20</text>
<text transform='translate(388.3,609.00) scale(1,1)' font-size='19.3' text-anchor='end' font-weight='bold'>25</text>
<text transform='translate(388.3,582.10) scale(1,1)' font-size='19.3' text-anchor='end' font-weight='bold'>30</text>
<text transform='translate(414.30,745.8) rotate(-90)' font-size='12.8' text-anchor='end' font-weight='bold'>4</text>
<text transform='translate(432.60,745.8) rotate(-90)' font-size='12.8' text-anchor='end' font-weight='bold'>26</text>
<text transform='translate(450.90,745.8) rotate(-90)' font-size='12.8' text-anchor='end' font-weight='bold'>33</text>
<text transform='translate(469.20,745.8) rotate(-90)' font-size='12.8' text-anchor='end' font-weight='bold'>40</text>
<text transform='translate(487.50,745.8) rotate(-90)' font-size='12.8' text-anchor='end' font-weight='bold'>47</text>
<text transform='translate(505.80,745.8) rotate(-90)' font-size='12.8' text-anchor='end' font-weight='bold'>54</text>
<text transform='translate(524.10,745.8) rotate(-90)' font-size='12.8' text-anchor='end' font-weight='bold'>60</text>
<text transform='translate(542.40,745.8) rotate(-90)' font-size='12.8' text-anchor='end' font-weight='bold'>67</text>
<text transform='translate(560.70,745.8) rotate(-90)' font-size='12.8' text-anchor='end' font-weight='bold'>77</text>
<text transform='translate(579.00,745.8) rotate(-90)' font-size='12.8' text-anchor='end' font-weight='bold'>86</text>
<text transform='translate(597.30,745.8) rotate(-90)' font-size='12.8' text-anchor='end' font-weight='bold'>93</text>
<text transform='translate(615.60,745.8) rotate(-90)' font-size='12.8' text-anchor='end' font-weight='bold'>104</text>
<text transform='translate(633.90,745.8) rotate(-90)' font-size='12.8' text-anchor='end' font-weight='bold'>111</text>
<text transform='translate(652.20,745.8) rotate(-90)' font-size='12.8' text-anchor='end' font-weight='bold'>123</text>
<text transform='translate(670.50,745.8) rotate(-90)' font-size='12.8' text-anchor='end' font-weight='bold'>130</text>
<text transform='translate(355.6,674.2) rotate(-90) scale(0.937,1)' font-size='19.6' text-anchor='middle' font-weight='bold'>Body weight (g)</text>
<text x='558.50' y='781.50' font-size='16.35' text-anchor='middle' fill='#000' font-weight='bold' >Days post cell inoculation</text>
<path d='M411 666.7L435 666.7' stroke='#000' stroke-width='2'/>
<rect x='419' y='662.3000000000001' width='8.8' height='8.8' fill='#888' stroke='#000' stroke-width='1.1'/>
<text x='436.50' y='671.70' font-size='14' text-anchor='start' fill='#000' font-weight='bold' >Veh</text>
<path d='M411 685L435 685' stroke='#3535b0' stroke-width='2'/>
<path d='M423.4 680L428.2 688.4L418.6 688.4Z' fill='#3030c0' stroke='#000' stroke-width='1'/>
<text x='436.50' y='690.00' font-size='14' text-anchor='start' fill='#000' font-weight='bold' >Btz 0.5</text>
<path d='M411 702.6L435 702.6' stroke='#ff0000' stroke-width='2'/>
<rect x='419' y='698.2' width='8.8' height='8.8' fill='#ff0000' stroke='#000' stroke-width='1.1'/>
<text x='436.50' y='707.60' font-size='14' text-anchor='start' fill='#000' font-weight='bold' >TL</text>
<path d='M411 721.3L435 721.3' stroke='#c040d0' stroke-width='2'/>
<path d='M423.4 716.5L428.2 721.3L423.4 726.0999999999999L418.6 721.3Z' fill='#c040d0' stroke='#000' stroke-width='1'/>
<text x='436.50' y='726.30' font-size='14' text-anchor='start' fill='#000' font-weight='bold' >TL+ Btz 0.5</text>
<text x='590.40' y='721.40' font-size='16.3' text-anchor='start' fill='#000' font-weight='bold' >P&gt;0.0</text>
</svg></body></html>
